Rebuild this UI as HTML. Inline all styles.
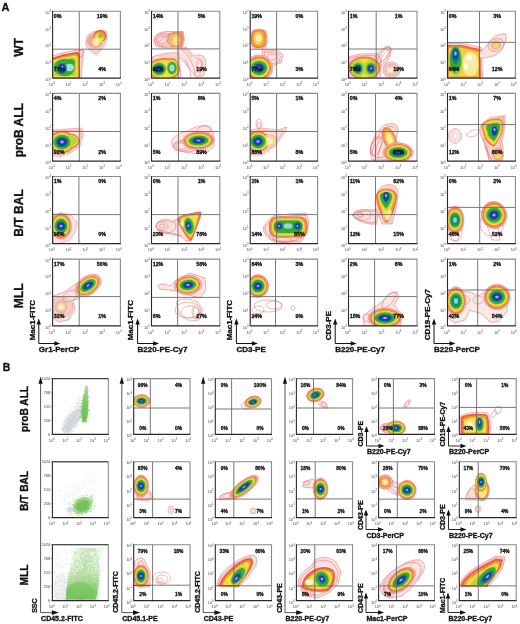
<!DOCTYPE html>
<html><head><meta charset="utf-8"><style>
html,body{margin:0;padding:0;background:#fff;}
svg{display:block;filter:blur(0.3px);font-family:"Liberation Sans", sans-serif;}
</style></head><body>
<svg width="520" height="624" viewBox="0 0 520 624">
<defs><linearGradient id="gG2" x1="0" y1="0" x2="0" y2="1"><stop offset="0" stop-color="#d0ecc0" stop-opacity="0.4"/><stop offset="0.4" stop-color="#8ed070" stop-opacity="0.75"/><stop offset="1" stop-color="#6cc050" stop-opacity="0.85"/></linearGradient><linearGradient id="gG" x1="0" y1="0" x2="0" y2="1"><stop offset="0" stop-color="#e4f2dc" stop-opacity="0.25"/><stop offset="0.45" stop-color="#bce0aa" stop-opacity="0.45"/><stop offset="0.75" stop-color="#88cc70" stop-opacity="0.8"/><stop offset="1" stop-color="#6cc050" stop-opacity="0.92"/></linearGradient><filter id="soft" x="-5%" y="-5%" width="110%" height="110%"><feGaussianBlur stdDeviation="0.7"/></filter><clipPath id="c0"><rect x="52.6" y="11.2" width="67.80000000000001" height="66.89999999999999"/></clipPath><clipPath id="c1"><rect x="151.5" y="11.2" width="68.30000000000001" height="66.89999999999999"/></clipPath><clipPath id="c2"><rect x="250.2" y="11.2" width="67.40000000000003" height="66.89999999999999"/></clipPath><clipPath id="c3"><rect x="348.5" y="11.2" width="68.5" height="66.89999999999999"/></clipPath><clipPath id="c4"><rect x="447.5" y="11.2" width="67.89999999999998" height="66.89999999999999"/></clipPath><clipPath id="c5"><rect x="52.6" y="93.4" width="67.80000000000001" height="67.69999999999999"/></clipPath><clipPath id="c6"><rect x="151.5" y="93.4" width="68.30000000000001" height="67.69999999999999"/></clipPath><clipPath id="c7"><rect x="250.2" y="93.4" width="67.40000000000003" height="67.69999999999999"/></clipPath><clipPath id="c8"><rect x="348.5" y="93.4" width="68.5" height="67.69999999999999"/></clipPath><clipPath id="c9"><rect x="447.5" y="93.4" width="67.89999999999998" height="67.69999999999999"/></clipPath><clipPath id="c10"><rect x="52.6" y="176.5" width="67.80000000000001" height="67.1"/></clipPath><clipPath id="c11"><rect x="151.5" y="176.5" width="68.30000000000001" height="67.1"/></clipPath><clipPath id="c12"><rect x="250.2" y="176.5" width="67.40000000000003" height="67.1"/></clipPath><clipPath id="c13"><rect x="348.5" y="176.5" width="68.5" height="67.1"/></clipPath><clipPath id="c14"><rect x="447.5" y="176.5" width="67.89999999999998" height="67.1"/></clipPath><clipPath id="c15"><rect x="52.6" y="259.1" width="67.80000000000001" height="66.79999999999995"/></clipPath><clipPath id="c16"><rect x="151.5" y="259.1" width="68.30000000000001" height="66.79999999999995"/></clipPath><clipPath id="c17"><rect x="250.2" y="259.1" width="67.40000000000003" height="66.79999999999995"/></clipPath><clipPath id="c18"><rect x="348.5" y="259.1" width="68.5" height="66.79999999999995"/></clipPath><clipPath id="c19"><rect x="447.5" y="259.1" width="67.89999999999998" height="66.79999999999995"/></clipPath><clipPath id="c20"><rect x="52.4" y="378.6" width="55.9" height="55.799999999999955"/></clipPath><clipPath id="c21"><rect x="133.7" y="378.6" width="56.30000000000001" height="55.799999999999955"/></clipPath><clipPath id="c22"><rect x="215.3" y="378.6" width="56.19999999999999" height="55.799999999999955"/></clipPath><clipPath id="c23"><rect x="296.4" y="378.6" width="56.200000000000045" height="55.799999999999955"/></clipPath><clipPath id="c24"><rect x="378.6" y="378.6" width="55.89999999999998" height="55.799999999999955"/></clipPath><clipPath id="c25"><rect x="459.3" y="378.6" width="56.900000000000034" height="55.799999999999955"/></clipPath><clipPath id="c26"><rect x="52.4" y="461.8" width="55.9" height="55.80000000000001"/></clipPath><clipPath id="c27"><rect x="133.7" y="461.8" width="56.30000000000001" height="55.80000000000001"/></clipPath><clipPath id="c28"><rect x="215.3" y="461.8" width="56.19999999999999" height="55.80000000000001"/></clipPath><clipPath id="c29"><rect x="296.4" y="461.8" width="56.200000000000045" height="55.80000000000001"/></clipPath><clipPath id="c30"><rect x="378.6" y="461.8" width="55.89999999999998" height="55.80000000000001"/></clipPath><clipPath id="c31"><rect x="459.3" y="461.8" width="56.900000000000034" height="55.80000000000001"/></clipPath><clipPath id="c32"><rect x="52.4" y="544.7" width="55.9" height="55.89999999999998"/></clipPath><clipPath id="c33"><rect x="133.7" y="544.7" width="56.30000000000001" height="55.89999999999998"/></clipPath><clipPath id="c34"><rect x="215.3" y="544.7" width="56.19999999999999" height="55.89999999999998"/></clipPath><clipPath id="c35"><rect x="296.4" y="544.7" width="56.200000000000045" height="55.89999999999998"/></clipPath><clipPath id="c36"><rect x="378.6" y="544.7" width="55.89999999999998" height="55.89999999999998"/></clipPath><clipPath id="c37"><rect x="459.3" y="544.7" width="56.900000000000034" height="55.89999999999998"/></clipPath></defs>
<rect width="520" height="624" fill="#fff"/>
<g clip-path="url(#c0)"><g filter="url(#soft)"><path d="M52 56 C60 53 70 51 78.5 50 L84 51 L83 56 L81 79 L52 79 Z" fill="#f8d4d0" stroke="#e88080" stroke-width="0.55"/><path d="M79 50 L84 51 L82 57 L80 56" fill="none" stroke="#e07070" stroke-width="0.55"/><path d="M52 58 C60 55 70 53 78 52 L80 56 L80 79 L52 79 Z" fill="#e8483c" stroke="#e27a7a" stroke-width="0"/><path d="M52 59.5 C60 56.5 70 54.5 77 53.8 L79 57 L79 78 L52 78 Z" fill="#f39530" stroke="#e27a7a" stroke-width="0"/><path d="M52 61 C60 58 70 56 76 55.5 L77.5 58 L77.5 77 L52 77 Z" fill="#f6e03a" stroke="#e27a7a" stroke-width="0"/><path d="M53 62.5 C60 59.5 69 57.5 75 57.2 L76 60 L76 76 L53 76 Z" fill="#b6d83a" stroke="#e27a7a" stroke-width="0"/><ellipse cx="64.5" cy="67.5" rx="10.50" ry="8.80" fill="#3aa83a"/><ellipse cx="71.0" cy="63.0" rx="4.00" ry="4.00" fill="#3aa83a"/><ellipse cx="69.5" cy="67.5" rx="4.50" ry="3.80" fill="#a8e0d8"/><ellipse cx="62.0" cy="68.5" rx="5.00" ry="5.50" fill="#15867a"/><ellipse cx="62.0" cy="68.5" rx="3.80" ry="4.50" fill="#1f3f9e"/><ellipse cx="62.3" cy="68.0" rx="1.80" ry="2.20" fill="#9a8ae0"/><path d="M86 40 L88 35 L93 32 L100 30 L106 31 L107 38 L104 46 L100 51 L96 55 L90 50 L86 46 Z" fill="#f6d2cc" stroke="#e08080" stroke-width="0.55"/><ellipse cx="95.0" cy="41.0" rx="8.00" ry="7.00" fill="#f2a890"/><ellipse cx="100.0" cy="36.0" rx="6.50" ry="6.00" fill="#e85a3a"/><ellipse cx="100.0" cy="36.5" rx="5.50" ry="5.00" fill="#f39530"/><ellipse cx="99.0" cy="38.0" rx="4.50" ry="5.00" fill="#f6e03a"/><ellipse cx="96.0" cy="42.0" rx="3.50" ry="4.00" fill="#f8eea0"/><ellipse cx="100.5" cy="35.5" rx="2.30" ry="2.30" fill="#7cc83a"/></g></g><line x1="79.3" y1="11.2" x2="79.3" y2="78.1" stroke="#6a6a6a" stroke-width="0.9"/><line x1="52.6" y1="49.2" x2="120.4" y2="49.2" stroke="#6a6a6a" stroke-width="0.9"/><path d="M52.6 11.2 H120.4 V78.1" fill="none" stroke="#8a8a8a" stroke-width="1.1"/><path d="M52.6 10.7 V78.1 H120.9" fill="none" stroke="#2a2a2a" stroke-width="1.1"/><g transform="translate(53.800000000000004 17.799999999999997) scale(0.92 1)"><text x="0" y="0" font-size="5.8" font-weight="bold" text-anchor="start" fill="#111" stroke="#111" stroke-width="0.32">0%</text></g><g transform="translate(102.10000000000001 17.799999999999997) scale(0.92 1)"><text x="0" y="0" font-size="5.8" font-weight="bold" text-anchor="middle" fill="#111" stroke="#111" stroke-width="0.32">19%</text></g><g transform="translate(53.800000000000004 70.6) scale(0.92 1)"><text x="0" y="0" font-size="5.8" font-weight="bold" text-anchor="start" fill="#111" stroke="#111" stroke-width="0.32">7?%</text></g><g transform="translate(102.10000000000001 70.6) scale(0.92 1)"><text x="0" y="0" font-size="5.8" font-weight="bold" text-anchor="middle" fill="#111" stroke="#111" stroke-width="0.32">4%</text></g><text x="51.8" y="85.7" font-size="3.9" fill="#4a4a4a" text-anchor="middle">10<tspan font-size="2.81" dy="-1.6">0</tspan></text><text x="68.5" y="85.7" font-size="3.9" fill="#4a4a4a" text-anchor="middle">10<tspan font-size="2.81" dy="-1.6">1</tspan></text><text x="85.2" y="85.7" font-size="3.9" fill="#4a4a4a" text-anchor="middle">10<tspan font-size="2.81" dy="-1.6">2</tspan></text><text x="101.9" y="85.7" font-size="3.9" fill="#4a4a4a" text-anchor="middle">10<tspan font-size="2.81" dy="-1.6">3</tspan></text><text x="118.6" y="85.7" font-size="3.9" fill="#4a4a4a" text-anchor="middle">10<tspan font-size="2.81" dy="-1.6">4</tspan></text><text x="48.0" y="81.1" font-size="3.9" fill="#4a4a4a" text-anchor="middle">10<tspan font-size="2.81" dy="-1.6">0</tspan></text><text x="48.0" y="64.2" font-size="3.9" fill="#4a4a4a" text-anchor="middle">10<tspan font-size="2.81" dy="-1.6">1</tspan></text><text x="48.0" y="47.4" font-size="3.9" fill="#4a4a4a" text-anchor="middle">10<tspan font-size="2.81" dy="-1.6">2</tspan></text><text x="48.0" y="30.5" font-size="3.9" fill="#4a4a4a" text-anchor="middle">10<tspan font-size="2.81" dy="-1.6">3</tspan></text><text x="48.0" y="13.7" font-size="3.9" fill="#4a4a4a" text-anchor="middle">10<tspan font-size="2.81" dy="-1.6">4</tspan></text><g clip-path="url(#c1)"><g filter="url(#soft)"><path d="M178 47 L186 47 C190 50 192 54 194 56 C197 55 201 54 204 57 C207 62 206 70 203 76 L196 77.5 C193 72 190 70 188 67 C185 63 181 58 178 56 Z" fill="#fbe4e2" stroke="#e07878" stroke-width="0.55"/><path d="M180 49 C185 51 189 57 191 61 C193 65 195 70 195.5 76" fill="none" stroke="#e27a7a" stroke-width="0.55"/><path d="M182 48 C187 50 190 54 192 57" fill="none" stroke="#e27a7a" stroke-width="0.55"/><path d="M195 58 C199 57 203 60 203 66 C203 71 200 75 198 76" fill="none" stroke="#e27a7a" stroke-width="0.55"/><ellipse cx="199.0" cy="66.0" rx="2.50" ry="6.50" fill="none" stroke="#e27a7a" stroke-width="0.55"/><path d="M185 60 C188 65 190 70 191 77" fill="none" stroke="#e27a7a" stroke-width="0.55"/><path d="M152 57 C160 54 170 52 179 53 L181 79 L152 79 Z" fill="#f8d4d0" stroke="#e88080" stroke-width="0.55"/><ellipse cx="165.0" cy="69.0" rx="15.00" ry="11.00" fill="#ee6a50"/><ellipse cx="159.0" cy="69.0" rx="10.00" ry="10.00" fill="#ee6a50"/><ellipse cx="172.0" cy="68.0" rx="7.00" ry="10.00" fill="#ee6a50"/><ellipse cx="165.0" cy="69.0" rx="13.95" ry="10.02" fill="#f59a34"/><ellipse cx="159.0" cy="69.0" rx="9.30" ry="9.10" fill="#f59a34"/><ellipse cx="172.0" cy="68.0" rx="6.51" ry="9.10" fill="#f59a34"/><ellipse cx="165.0" cy="69.0" rx="12.75" ry="8.93" fill="#f6e03a"/><ellipse cx="159.0" cy="69.0" rx="8.50" ry="8.12" fill="#f6e03a"/><ellipse cx="172.0" cy="68.0" rx="5.95" ry="8.12" fill="#f6e03a"/><ellipse cx="159.0" cy="69.0" rx="7.70" ry="7.17" fill="#b6d83a"/><ellipse cx="172.0" cy="68.0" rx="5.39" ry="7.17" fill="#b6d83a"/><ellipse cx="159.0" cy="69.0" rx="6.70" ry="6.04" fill="#3aa83a"/><ellipse cx="172.0" cy="68.0" rx="4.69" ry="6.04" fill="#3aa83a"/><ellipse cx="159.0" cy="69.0" rx="5.00" ry="4.25" fill="#15867a"/><ellipse cx="159.0" cy="69.0" rx="4.10" ry="3.37" fill="#1f3f9e"/><ellipse cx="159.0" cy="69.0" rx="1.40" ry="1.04" fill="#a8b0f0"/><ellipse cx="172.0" cy="68.0" rx="2.50" ry="3.50" fill="#a6dcd4"/><path d="M154 41 C154 34 161 31 170 31.5 L183 31.5 L184.5 40 L182 47.5 L166 48 L156 46 Z" fill="#fadcd8" stroke="#e07070" stroke-width="0.55"/><ellipse cx="162.0" cy="40.0" rx="4.50" ry="3.50" fill="none" stroke="#e27a7a" stroke-width="0.55"/><ellipse cx="163.0" cy="40.0" rx="7.00" ry="5.50" fill="none" stroke="#e27a7a" stroke-width="0.55"/><ellipse cx="164.0" cy="40.0" rx="9.50" ry="7.00" fill="none" stroke="#e27a7a" stroke-width="0.55"/><path d="M157 44 L165 36 L171 37" fill="none" stroke="#e27a7a" stroke-width="0.55"/><path d="M168 34 C171 32 178 31 183 32 L184 40 L182 47 L171 47 L167 42 Z" fill="#f0906a" stroke="#e27a7a" stroke-width="0"/><ellipse cx="171.5" cy="40.0" rx="3.00" ry="5.50" fill="#f4b890"/><ellipse cx="176.0" cy="40.0" rx="4.20" ry="6.50" fill="#f4c060"/><ellipse cx="176.0" cy="40.5" rx="2.80" ry="5.00" fill="#f7e680"/></g></g><line x1="178.0" y1="11.2" x2="178.0" y2="78.1" stroke="#6a6a6a" stroke-width="0.9"/><line x1="151.5" y1="48.9" x2="219.8" y2="48.9" stroke="#6a6a6a" stroke-width="0.9"/><path d="M151.5 11.2 H219.8 V78.1" fill="none" stroke="#8a8a8a" stroke-width="1.1"/><path d="M151.5 10.7 V78.1 H220.3" fill="none" stroke="#2a2a2a" stroke-width="1.1"/><g transform="translate(152.7 17.799999999999997) scale(0.92 1)"><text x="0" y="0" font-size="5.8" font-weight="bold" text-anchor="start" fill="#111" stroke="#111" stroke-width="0.32">14%</text></g><g transform="translate(201.5 17.799999999999997) scale(0.92 1)"><text x="0" y="0" font-size="5.8" font-weight="bold" text-anchor="middle" fill="#111" stroke="#111" stroke-width="0.32">5%</text></g><g transform="translate(152.7 70.6) scale(0.92 1)"><text x="0" y="0" font-size="5.8" font-weight="bold" text-anchor="start" fill="#111" stroke="#111" stroke-width="0.32">62%</text></g><g transform="translate(201.5 70.6) scale(0.92 1)"><text x="0" y="0" font-size="5.8" font-weight="bold" text-anchor="middle" fill="#111" stroke="#111" stroke-width="0.32">19%</text></g><text x="150.7" y="85.7" font-size="3.9" fill="#4a4a4a" text-anchor="middle">10<tspan font-size="2.81" dy="-1.6">0</tspan></text><text x="167.5" y="85.7" font-size="3.9" fill="#4a4a4a" text-anchor="middle">10<tspan font-size="2.81" dy="-1.6">1</tspan></text><text x="184.3" y="85.7" font-size="3.9" fill="#4a4a4a" text-anchor="middle">10<tspan font-size="2.81" dy="-1.6">2</tspan></text><text x="201.2" y="85.7" font-size="3.9" fill="#4a4a4a" text-anchor="middle">10<tspan font-size="2.81" dy="-1.6">3</tspan></text><text x="218.0" y="85.7" font-size="3.9" fill="#4a4a4a" text-anchor="middle">10<tspan font-size="2.81" dy="-1.6">4</tspan></text><text x="146.9" y="81.1" font-size="3.9" fill="#4a4a4a" text-anchor="middle">10<tspan font-size="2.81" dy="-1.6">0</tspan></text><text x="146.9" y="64.2" font-size="3.9" fill="#4a4a4a" text-anchor="middle">10<tspan font-size="2.81" dy="-1.6">1</tspan></text><text x="146.9" y="47.4" font-size="3.9" fill="#4a4a4a" text-anchor="middle">10<tspan font-size="2.81" dy="-1.6">2</tspan></text><text x="146.9" y="30.5" font-size="3.9" fill="#4a4a4a" text-anchor="middle">10<tspan font-size="2.81" dy="-1.6">3</tspan></text><text x="146.9" y="13.7" font-size="3.9" fill="#4a4a4a" text-anchor="middle">10<tspan font-size="2.81" dy="-1.6">4</tspan></text><g clip-path="url(#c2)"><g filter="url(#soft)"><rect x="250.5" y="28.5" width="17.5" height="21" rx="6" fill="#f8d0c8"/><rect x="251" y="29.5" width="15.5" height="18.5" rx="6" fill="#ee7050"/><rect x="252" y="30.5" width="13.5" height="16.5" rx="5.5" fill="#f59a40"/><ellipse cx="258.5" cy="38.5" rx="4.80" ry="6.50" fill="#f6d850"/><ellipse cx="258.5" cy="38.0" rx="2.60" ry="3.80" fill="#faf0b8"/><path d="M262 50 L277 50 L283 55 L281 63 L270 66 L263 61 Z" fill="#fbe3e0" stroke="#e07070" stroke-width="0.55"/><path d="M264 52 L276 52 L280.5 56 L279 62 L270 64 L265 60 Z" fill="none" stroke="#e07070" stroke-width="0.55"/><ellipse cx="272.0" cy="57.0" rx="5.00" ry="3.00" fill="none" stroke="#e27a7a" stroke-width="0.55"/><ellipse cx="259.0" cy="68.0" rx="13.80" ry="13.22" fill="#fadcd8"/><ellipse cx="259.0" cy="68.0" rx="13.80" ry="13.22" fill="none" stroke="#e27a7a" stroke-width="0.55"/><ellipse cx="259.0" cy="68.0" rx="12.90" ry="12.36" fill="none" stroke="#e27a7a" stroke-width="0.55"/><ellipse cx="259.0" cy="68.0" rx="12.00" ry="11.50" fill="#ee6a50"/><ellipse cx="259.0" cy="68.0" rx="11.16" ry="10.47" fill="#f59a34"/><ellipse cx="259.0" cy="68.0" rx="10.20" ry="9.34" fill="#f6e03a"/><ellipse cx="259.0" cy="68.0" rx="9.24" ry="8.24" fill="#b6d83a"/><ellipse cx="259.0" cy="68.0" rx="8.04" ry="6.94" fill="#3aa83a"/><ellipse cx="259.0" cy="68.0" rx="6.00" ry="4.89" fill="#15867a"/><ellipse cx="259.0" cy="68.0" rx="4.92" ry="3.88" fill="#1f3f9e"/><ellipse cx="259.0" cy="68.0" rx="1.68" ry="1.19" fill="#a8b0f0"/></g></g><line x1="276.6" y1="11.2" x2="276.6" y2="78.1" stroke="#6a6a6a" stroke-width="0.9"/><line x1="250.2" y1="49.2" x2="317.6" y2="49.2" stroke="#6a6a6a" stroke-width="0.9"/><path d="M250.2 11.2 H317.6 V78.1" fill="none" stroke="#8a8a8a" stroke-width="1.1"/><path d="M250.2 10.7 V78.1 H318.1" fill="none" stroke="#2a2a2a" stroke-width="1.1"/><g transform="translate(251.39999999999998 17.799999999999997) scale(0.92 1)"><text x="0" y="0" font-size="5.8" font-weight="bold" text-anchor="start" fill="#111" stroke="#111" stroke-width="0.32">19%</text></g><g transform="translate(299.3 17.799999999999997) scale(0.92 1)"><text x="0" y="0" font-size="5.8" font-weight="bold" text-anchor="middle" fill="#111" stroke="#111" stroke-width="0.32">0%</text></g><g transform="translate(251.39999999999998 70.6) scale(0.92 1)"><text x="0" y="0" font-size="5.8" font-weight="bold" text-anchor="start" fill="#111" stroke="#111" stroke-width="0.32">77%</text></g><g transform="translate(299.3 70.6) scale(0.92 1)"><text x="0" y="0" font-size="5.8" font-weight="bold" text-anchor="middle" fill="#111" stroke="#111" stroke-width="0.32">3%</text></g><text x="249.4" y="85.7" font-size="3.9" fill="#4a4a4a" text-anchor="middle">10<tspan font-size="2.81" dy="-1.6">0</tspan></text><text x="266.0" y="85.7" font-size="3.9" fill="#4a4a4a" text-anchor="middle">10<tspan font-size="2.81" dy="-1.6">1</tspan></text><text x="282.6" y="85.7" font-size="3.9" fill="#4a4a4a" text-anchor="middle">10<tspan font-size="2.81" dy="-1.6">2</tspan></text><text x="299.2" y="85.7" font-size="3.9" fill="#4a4a4a" text-anchor="middle">10<tspan font-size="2.81" dy="-1.6">3</tspan></text><text x="315.8" y="85.7" font-size="3.9" fill="#4a4a4a" text-anchor="middle">10<tspan font-size="2.81" dy="-1.6">4</tspan></text><text x="245.6" y="81.1" font-size="3.9" fill="#4a4a4a" text-anchor="middle">10<tspan font-size="2.81" dy="-1.6">0</tspan></text><text x="245.6" y="64.2" font-size="3.9" fill="#4a4a4a" text-anchor="middle">10<tspan font-size="2.81" dy="-1.6">1</tspan></text><text x="245.6" y="47.4" font-size="3.9" fill="#4a4a4a" text-anchor="middle">10<tspan font-size="2.81" dy="-1.6">2</tspan></text><text x="245.6" y="30.5" font-size="3.9" fill="#4a4a4a" text-anchor="middle">10<tspan font-size="2.81" dy="-1.6">3</tspan></text><text x="245.6" y="13.7" font-size="3.9" fill="#4a4a4a" text-anchor="middle">10<tspan font-size="2.81" dy="-1.6">4</tspan></text><g clip-path="url(#c3)"><g filter="url(#soft)"><path d="M349 57 C355 54 366 53 378 54 L381 59 L380 79 L349 79 Z" fill="#f8d4d0" stroke="#e88080" stroke-width="0.55"/><path d="M349 58.5 C356 55.5 366 55 377 56" fill="none" stroke="#e88080" stroke-width="0.55"/><ellipse cx="364.5" cy="68.0" rx="16.00" ry="11.50" fill="#ee6a50"/><ellipse cx="358.0" cy="68.5" rx="8.00" ry="9.50" fill="#ee6a50"/><ellipse cx="371.0" cy="68.5" rx="8.00" ry="9.50" fill="#ee6a50"/><ellipse cx="364.5" cy="68.0" rx="14.88" ry="10.47" fill="#f59a34"/><ellipse cx="358.0" cy="68.5" rx="7.44" ry="8.65" fill="#f59a34"/><ellipse cx="371.0" cy="68.5" rx="7.44" ry="8.65" fill="#f59a34"/><ellipse cx="364.5" cy="68.0" rx="13.60" ry="9.34" fill="#f6e03a"/><ellipse cx="358.0" cy="68.5" rx="6.80" ry="7.71" fill="#f6e03a"/><ellipse cx="371.0" cy="68.5" rx="6.80" ry="7.71" fill="#f6e03a"/><ellipse cx="358.0" cy="68.5" rx="6.16" ry="6.81" fill="#b6d83a"/><ellipse cx="371.0" cy="68.5" rx="6.16" ry="6.81" fill="#b6d83a"/><ellipse cx="364.5" cy="68.5" rx="4.00" ry="5.50" fill="#b6d83a"/><ellipse cx="358.0" cy="68.5" rx="7.20" ry="8.50" fill="#b6d83a"/><ellipse cx="371.0" cy="68.5" rx="7.20" ry="8.50" fill="#b6d83a"/><ellipse cx="358.0" cy="68.5" rx="4.82" ry="5.51" fill="#3aa83a"/><ellipse cx="371.0" cy="68.5" rx="4.82" ry="5.51" fill="#3aa83a"/><ellipse cx="358.0" cy="68.5" rx="3.60" ry="4.04" fill="#15867a"/><ellipse cx="371.0" cy="68.5" rx="3.60" ry="4.04" fill="#15867a"/><ellipse cx="358.0" cy="68.5" rx="2.95" ry="3.28" fill="#1f3f9e"/><ellipse cx="371.0" cy="68.5" rx="2.95" ry="3.28" fill="#1f3f9e"/><ellipse cx="358.0" cy="68.5" rx="1.01" ry="1.09" fill="#a8b0f0"/><ellipse cx="371.0" cy="68.5" rx="1.01" ry="1.09" fill="#a8b0f0"/><ellipse cx="384.0" cy="55.0" rx="3.00" ry="10.00" fill="none" stroke="#e27a7a" stroke-width="0.55" transform="rotate(35 384 55)"/><ellipse cx="385.0" cy="56.0" rx="2.00" ry="7.00" fill="none" stroke="#e27a7a" stroke-width="0.55" transform="rotate(35 385 56)"/><ellipse cx="383.0" cy="57.0" rx="4.50" ry="12.00" fill="none" stroke="#e27a7a" stroke-width="0.55" transform="rotate(35 383 57)"/><ellipse cx="382.0" cy="58.0" rx="6.00" ry="13.50" fill="none" stroke="#e27a7a" stroke-width="0.55" transform="rotate(35 382 58)"/><ellipse cx="391.5" cy="70.0" rx="8.50" ry="8.00" fill="#f9d8d2"/><ellipse cx="391.5" cy="70.0" rx="8.50" ry="8.00" fill="none" stroke="#e27a7a" stroke-width="0.55"/><ellipse cx="391.5" cy="70.0" rx="6.50" ry="6.00" fill="none" stroke="#e27a7a" stroke-width="0.55"/><ellipse cx="391.5" cy="70.0" rx="4.50" ry="4.00" fill="none" stroke="#e27a7a" stroke-width="0.55"/><ellipse cx="390.5" cy="70.0" rx="3.50" ry="3.00" fill="#fbe8c8"/><ellipse cx="390.0" cy="70.0" rx="1.80" ry="1.50" fill="#fdf6e0"/></g></g><line x1="376.2" y1="11.2" x2="376.2" y2="78.1" stroke="#6a6a6a" stroke-width="0.9"/><line x1="348.5" y1="49.0" x2="417.0" y2="49.0" stroke="#6a6a6a" stroke-width="0.9"/><path d="M348.5 11.2 H417.0 V78.1" fill="none" stroke="#8a8a8a" stroke-width="1.1"/><path d="M348.5 10.7 V78.1 H417.5" fill="none" stroke="#2a2a2a" stroke-width="1.1"/><g transform="translate(349.7 17.799999999999997) scale(0.92 1)"><text x="0" y="0" font-size="5.8" font-weight="bold" text-anchor="start" fill="#111" stroke="#111" stroke-width="0.32">1%</text></g><g transform="translate(398.7 17.799999999999997) scale(0.92 1)"><text x="0" y="0" font-size="5.8" font-weight="bold" text-anchor="middle" fill="#111" stroke="#111" stroke-width="0.32">1%</text></g><g transform="translate(349.7 70.6) scale(0.92 1)"><text x="0" y="0" font-size="5.8" font-weight="bold" text-anchor="start" fill="#111" stroke="#111" stroke-width="0.32">78%</text></g><g transform="translate(398.7 70.6) scale(0.92 1)"><text x="0" y="0" font-size="5.8" font-weight="bold" text-anchor="middle" fill="#111" stroke="#111" stroke-width="0.32">19%</text></g><text x="347.7" y="85.7" font-size="3.9" fill="#4a4a4a" text-anchor="middle">10<tspan font-size="2.81" dy="-1.6">0</tspan></text><text x="364.6" y="85.7" font-size="3.9" fill="#4a4a4a" text-anchor="middle">10<tspan font-size="2.81" dy="-1.6">1</tspan></text><text x="381.4" y="85.7" font-size="3.9" fill="#4a4a4a" text-anchor="middle">10<tspan font-size="2.81" dy="-1.6">2</tspan></text><text x="398.3" y="85.7" font-size="3.9" fill="#4a4a4a" text-anchor="middle">10<tspan font-size="2.81" dy="-1.6">3</tspan></text><text x="415.2" y="85.7" font-size="3.9" fill="#4a4a4a" text-anchor="middle">10<tspan font-size="2.81" dy="-1.6">4</tspan></text><text x="343.9" y="81.1" font-size="3.9" fill="#4a4a4a" text-anchor="middle">10<tspan font-size="2.81" dy="-1.6">0</tspan></text><text x="343.9" y="64.2" font-size="3.9" fill="#4a4a4a" text-anchor="middle">10<tspan font-size="2.81" dy="-1.6">1</tspan></text><text x="343.9" y="47.4" font-size="3.9" fill="#4a4a4a" text-anchor="middle">10<tspan font-size="2.81" dy="-1.6">2</tspan></text><text x="343.9" y="30.5" font-size="3.9" fill="#4a4a4a" text-anchor="middle">10<tspan font-size="2.81" dy="-1.6">3</tspan></text><text x="343.9" y="13.7" font-size="3.9" fill="#4a4a4a" text-anchor="middle">10<tspan font-size="2.81" dy="-1.6">4</tspan></text><g clip-path="url(#c4)"><g filter="url(#soft)"><path d="M448 43.5 L463 43.5 L472 45.5 L481.5 47.5 L482.5 79 L448 79 Z" fill="#f8d4d0" stroke="#e88080" stroke-width="0.55"/><path d="M448 45 L462 45 L472 47.5 L480.5 49 L481 78.5 L448 78.5 Z" fill="#ec6048" stroke="#e27a7a" stroke-width="0"/><path d="M448 46.5 L462 46.5 L471.5 49 L479.5 50.5 L479.8 77.5 L448 77.5 Z" fill="#f39530" stroke="#e27a7a" stroke-width="0"/><path d="M449 48 L462 48 L471 50.5 L478.5 52 L478.5 76.5 L449 76.5 Z" fill="#f4d040" stroke="#e27a7a" stroke-width="0"/><ellipse cx="470.5" cy="64.0" rx="8.00" ry="12.00" fill="#f8eca0"/><ellipse cx="469.0" cy="58.0" rx="3.00" ry="3.00" fill="#fff8e8"/><ellipse cx="471.0" cy="71.0" rx="3.50" ry="3.00" fill="#f2ea90"/><ellipse cx="466.0" cy="66.0" rx="2.00" ry="3.00" fill="#fffaf0"/><ellipse cx="455.5" cy="61.0" rx="7.20" ry="15.00" fill="#b6d83a"/><ellipse cx="455.5" cy="60.0" rx="5.80" ry="13.50" fill="#3aa83a"/><ellipse cx="455.5" cy="56.0" rx="4.00" ry="8.50" fill="#15867a"/><ellipse cx="455.5" cy="54.5" rx="2.80" ry="5.50" fill="#1f3f9e"/><ellipse cx="455.5" cy="53.5" rx="1.30" ry="2.20" fill="#9aaaf0"/><ellipse cx="457.0" cy="72.0" rx="2.00" ry="2.00" fill="#6ac89a"/><path d="M479 52 C484 50 487 46 489 42 C493 36 501 33 506 34 C507 40 504 47 500 52 C494 57 487 58 480 58" fill="#fbe3e0" stroke="#e07070" stroke-width="0.55"/><ellipse cx="496.0" cy="45.0" rx="8.00" ry="6.00" fill="none" stroke="#e27a7a" stroke-width="0.55" transform="rotate(-20 496 45)"/><ellipse cx="496.0" cy="45.0" rx="5.50" ry="4.50" fill="#f4b888" transform="rotate(-20 496 45)"/><ellipse cx="496.0" cy="45.5" rx="2.80" ry="2.30" fill="#f6d860" transform="rotate(-20 496 45.5)"/></g></g><line x1="479.5" y1="11.2" x2="479.5" y2="78.1" stroke="#6a6a6a" stroke-width="0.9"/><line x1="447.5" y1="42.4" x2="515.4" y2="42.4" stroke="#6a6a6a" stroke-width="0.9"/><path d="M447.5 11.2 H515.4 V78.1" fill="none" stroke="#8a8a8a" stroke-width="1.1"/><path d="M447.5 10.7 V78.1 H515.9" fill="none" stroke="#2a2a2a" stroke-width="1.1"/><g transform="translate(448.7 17.799999999999997) scale(0.92 1)"><text x="0" y="0" font-size="5.8" font-weight="bold" text-anchor="start" fill="#111" stroke="#111" stroke-width="0.32">0%</text></g><g transform="translate(497.09999999999997 17.799999999999997) scale(0.92 1)"><text x="0" y="0" font-size="5.8" font-weight="bold" text-anchor="middle" fill="#111" stroke="#111" stroke-width="0.32">3%</text></g><g transform="translate(448.7 70.6) scale(0.92 1)"><text x="0" y="0" font-size="5.8" font-weight="bold" text-anchor="start" fill="#111" stroke="#111" stroke-width="0.32">84%</text></g><g transform="translate(497.09999999999997 70.6) scale(0.92 1)"><text x="0" y="0" font-size="5.8" font-weight="bold" text-anchor="middle" fill="#111" stroke="#111" stroke-width="0.32">12%</text></g><text x="446.7" y="85.7" font-size="3.9" fill="#4a4a4a" text-anchor="middle">10<tspan font-size="2.81" dy="-1.6">0</tspan></text><text x="463.4" y="85.7" font-size="3.9" fill="#4a4a4a" text-anchor="middle">10<tspan font-size="2.81" dy="-1.6">1</tspan></text><text x="480.1" y="85.7" font-size="3.9" fill="#4a4a4a" text-anchor="middle">10<tspan font-size="2.81" dy="-1.6">2</tspan></text><text x="496.9" y="85.7" font-size="3.9" fill="#4a4a4a" text-anchor="middle">10<tspan font-size="2.81" dy="-1.6">3</tspan></text><text x="513.6" y="85.7" font-size="3.9" fill="#4a4a4a" text-anchor="middle">10<tspan font-size="2.81" dy="-1.6">4</tspan></text><text x="442.9" y="81.1" font-size="3.9" fill="#4a4a4a" text-anchor="middle">10<tspan font-size="2.81" dy="-1.6">0</tspan></text><text x="442.9" y="64.2" font-size="3.9" fill="#4a4a4a" text-anchor="middle">10<tspan font-size="2.81" dy="-1.6">1</tspan></text><text x="442.9" y="47.4" font-size="3.9" fill="#4a4a4a" text-anchor="middle">10<tspan font-size="2.81" dy="-1.6">2</tspan></text><text x="442.9" y="30.5" font-size="3.9" fill="#4a4a4a" text-anchor="middle">10<tspan font-size="2.81" dy="-1.6">3</tspan></text><text x="442.9" y="13.7" font-size="3.9" fill="#4a4a4a" text-anchor="middle">10<tspan font-size="2.81" dy="-1.6">4</tspan></text><g clip-path="url(#c5)"><g filter="url(#soft)"><path d="M53 130 L67 129 L82 128 L83 135 L80 146 L72 152 L60 157 L53 155 Z" fill="#fbe3e0" stroke="#e88080" stroke-width="0.55"/><path d="M53 131.5 L67 130.5 L80.5 130 L81 136 L78 145 L70 151 L60 155 L53 153 Z" fill="none" stroke="#e88080" stroke-width="0.55"/><ellipse cx="70.0" cy="141.0" rx="9.50" ry="7.50" fill="#ee6a50"/><ellipse cx="62.0" cy="142.0" rx="12.50" ry="11.00" fill="#ee6a50"/><ellipse cx="70.0" cy="141.0" rx="8.84" ry="6.83" fill="#f59a34"/><ellipse cx="62.0" cy="142.0" rx="11.62" ry="10.14" fill="#f59a34"/><ellipse cx="70.0" cy="141.0" rx="8.07" ry="6.09" fill="#f6e03a"/><ellipse cx="62.0" cy="142.0" rx="10.62" ry="9.18" fill="#f6e03a"/><ellipse cx="70.0" cy="141.0" rx="7.32" ry="5.38" fill="#b6d83a"/><ellipse cx="62.0" cy="142.0" rx="9.62" ry="8.24" fill="#b6d83a"/><ellipse cx="62.0" cy="142.0" rx="8.38" ry="7.08" fill="#3aa83a"/><ellipse cx="62.0" cy="142.0" rx="6.25" ry="5.17" fill="#15867a"/><ellipse cx="62.0" cy="142.0" rx="5.12" ry="4.19" fill="#1f3f9e"/><ellipse cx="62.0" cy="142.0" rx="1.75" ry="1.38" fill="#a8b0f0"/></g></g><line x1="79.3" y1="93.4" x2="79.3" y2="161.1" stroke="#6a6a6a" stroke-width="0.9"/><line x1="52.6" y1="131.5" x2="120.4" y2="131.5" stroke="#6a6a6a" stroke-width="0.9"/><path d="M52.6 93.4 H120.4 V161.1" fill="none" stroke="#8a8a8a" stroke-width="1.1"/><path d="M52.6 92.9 V161.1 H120.9" fill="none" stroke="#2a2a2a" stroke-width="1.1"/><g transform="translate(53.800000000000004 100.0) scale(0.92 1)"><text x="0" y="0" font-size="5.8" font-weight="bold" text-anchor="start" fill="#111" stroke="#111" stroke-width="0.32">4%</text></g><g transform="translate(102.10000000000001 100.0) scale(0.92 1)"><text x="0" y="0" font-size="5.8" font-weight="bold" text-anchor="middle" fill="#111" stroke="#111" stroke-width="0.32">2%</text></g><g transform="translate(53.800000000000004 153.6) scale(0.92 1)"><text x="0" y="0" font-size="5.8" font-weight="bold" text-anchor="start" fill="#111" stroke="#111" stroke-width="0.32">92%</text></g><g transform="translate(102.10000000000001 153.6) scale(0.92 1)"><text x="0" y="0" font-size="5.8" font-weight="bold" text-anchor="middle" fill="#111" stroke="#111" stroke-width="0.32">2%</text></g><text x="51.8" y="168.7" font-size="3.9" fill="#4a4a4a" text-anchor="middle">10<tspan font-size="2.81" dy="-1.6">0</tspan></text><text x="68.5" y="168.7" font-size="3.9" fill="#4a4a4a" text-anchor="middle">10<tspan font-size="2.81" dy="-1.6">1</tspan></text><text x="85.2" y="168.7" font-size="3.9" fill="#4a4a4a" text-anchor="middle">10<tspan font-size="2.81" dy="-1.6">2</tspan></text><text x="101.9" y="168.7" font-size="3.9" fill="#4a4a4a" text-anchor="middle">10<tspan font-size="2.81" dy="-1.6">3</tspan></text><text x="118.6" y="168.7" font-size="3.9" fill="#4a4a4a" text-anchor="middle">10<tspan font-size="2.81" dy="-1.6">4</tspan></text><text x="48.0" y="164.1" font-size="3.9" fill="#4a4a4a" text-anchor="middle">10<tspan font-size="2.81" dy="-1.6">0</tspan></text><text x="48.0" y="147.1" font-size="3.9" fill="#4a4a4a" text-anchor="middle">10<tspan font-size="2.81" dy="-1.6">1</tspan></text><text x="48.0" y="130.0" font-size="3.9" fill="#4a4a4a" text-anchor="middle">10<tspan font-size="2.81" dy="-1.6">2</tspan></text><text x="48.0" y="113.0" font-size="3.9" fill="#4a4a4a" text-anchor="middle">10<tspan font-size="2.81" dy="-1.6">3</tspan></text><text x="48.0" y="95.9" font-size="3.9" fill="#4a4a4a" text-anchor="middle">10<tspan font-size="2.81" dy="-1.6">4</tspan></text><g clip-path="url(#c6)"><g filter="url(#soft)"><path d="M172 140 C175 134 183 132 188 131 C195 126 205 124 210 127 L214 134 L214 146 L208 152 L196 154 L185 152 L176 150 C172 147 171 144 172 140 Z" fill="#fbe3e0" stroke="#e88080" stroke-width="0.55"/><ellipse cx="186.0" cy="146.0" rx="13.00" ry="6.00" fill="none" stroke="#e27a7a" stroke-width="0.55"/><ellipse cx="184.0" cy="146.0" rx="10.00" ry="4.50" fill="none" stroke="#e27a7a" stroke-width="0.55"/><ellipse cx="182.0" cy="146.0" rx="6.00" ry="3.00" fill="none" stroke="#e27a7a" stroke-width="0.55"/><ellipse cx="204.0" cy="130.0" rx="7.00" ry="4.00" fill="none" stroke="#e27a7a" stroke-width="0.55" transform="rotate(-10 204 130)"/><ellipse cx="198.5" cy="140.5" rx="15.95" ry="8.80" fill="#fadcd8" transform="rotate(-3 198.5 140.5)"/><ellipse cx="198.5" cy="140.5" rx="15.95" ry="8.80" fill="none" stroke="#e27a7a" stroke-width="0.55" transform="rotate(-3 198.5 140.5)"/><ellipse cx="198.5" cy="140.5" rx="15.23" ry="8.40" fill="none" stroke="#e27a7a" stroke-width="0.55" transform="rotate(-3 198.5 140.5)"/><ellipse cx="198.5" cy="140.5" rx="14.50" ry="8.00" fill="#ee6a50" transform="rotate(-3 198.5 140.5)"/><ellipse cx="198.5" cy="140.5" rx="13.49" ry="7.28" fill="#f59a34" transform="rotate(-3 198.5 140.5)"/><ellipse cx="198.5" cy="140.5" rx="12.32" ry="6.49" fill="#f6e03a" transform="rotate(-3 198.5 140.5)"/><ellipse cx="198.5" cy="140.5" rx="11.17" ry="5.73" fill="#b6d83a" transform="rotate(-3 198.5 140.5)"/><ellipse cx="198.5" cy="140.5" rx="9.71" ry="4.83" fill="#3aa83a" transform="rotate(-3 198.5 140.5)"/><ellipse cx="198.5" cy="140.5" rx="7.25" ry="3.40" fill="#15867a" transform="rotate(-3 198.5 140.5)"/><ellipse cx="198.5" cy="140.5" rx="5.94" ry="2.70" fill="#1f3f9e" transform="rotate(-3 198.5 140.5)"/><ellipse cx="198.5" cy="140.5" rx="2.03" ry="0.83" fill="#a8b0f0" transform="rotate(-3 198.5 140.5)"/></g></g><line x1="178.5" y1="93.4" x2="178.5" y2="161.1" stroke="#6a6a6a" stroke-width="0.9"/><line x1="151.5" y1="131.5" x2="219.8" y2="131.5" stroke="#6a6a6a" stroke-width="0.9"/><path d="M151.5 93.4 H219.8 V161.1" fill="none" stroke="#8a8a8a" stroke-width="1.1"/><path d="M151.5 92.9 V161.1 H220.3" fill="none" stroke="#2a2a2a" stroke-width="1.1"/><g transform="translate(152.7 100.0) scale(0.92 1)"><text x="0" y="0" font-size="5.8" font-weight="bold" text-anchor="start" fill="#111" stroke="#111" stroke-width="0.32">1%</text></g><g transform="translate(201.5 100.0) scale(0.92 1)"><text x="0" y="0" font-size="5.8" font-weight="bold" text-anchor="middle" fill="#111" stroke="#111" stroke-width="0.32">6%</text></g><g transform="translate(152.7 153.6) scale(0.92 1)"><text x="0" y="0" font-size="5.8" font-weight="bold" text-anchor="start" fill="#111" stroke="#111" stroke-width="0.32">5%</text></g><g transform="translate(201.5 153.6) scale(0.92 1)"><text x="0" y="0" font-size="5.8" font-weight="bold" text-anchor="middle" fill="#111" stroke="#111" stroke-width="0.32">89%</text></g><text x="150.7" y="168.7" font-size="3.9" fill="#4a4a4a" text-anchor="middle">10<tspan font-size="2.81" dy="-1.6">0</tspan></text><text x="167.5" y="168.7" font-size="3.9" fill="#4a4a4a" text-anchor="middle">10<tspan font-size="2.81" dy="-1.6">1</tspan></text><text x="184.3" y="168.7" font-size="3.9" fill="#4a4a4a" text-anchor="middle">10<tspan font-size="2.81" dy="-1.6">2</tspan></text><text x="201.2" y="168.7" font-size="3.9" fill="#4a4a4a" text-anchor="middle">10<tspan font-size="2.81" dy="-1.6">3</tspan></text><text x="218.0" y="168.7" font-size="3.9" fill="#4a4a4a" text-anchor="middle">10<tspan font-size="2.81" dy="-1.6">4</tspan></text><text x="146.9" y="164.1" font-size="3.9" fill="#4a4a4a" text-anchor="middle">10<tspan font-size="2.81" dy="-1.6">0</tspan></text><text x="146.9" y="147.1" font-size="3.9" fill="#4a4a4a" text-anchor="middle">10<tspan font-size="2.81" dy="-1.6">1</tspan></text><text x="146.9" y="130.0" font-size="3.9" fill="#4a4a4a" text-anchor="middle">10<tspan font-size="2.81" dy="-1.6">2</tspan></text><text x="146.9" y="113.0" font-size="3.9" fill="#4a4a4a" text-anchor="middle">10<tspan font-size="2.81" dy="-1.6">3</tspan></text><text x="146.9" y="95.9" font-size="3.9" fill="#4a4a4a" text-anchor="middle">10<tspan font-size="2.81" dy="-1.6">4</tspan></text><g clip-path="url(#c7)"><g filter="url(#soft)"><path d="M251 130 L262 128 L277 130 L287 127 L284 134 L275 146 L262 155 L251 155 Z" fill="#fbe3e0" stroke="#e88080" stroke-width="0.55"/><path d="M252 132 L262 130 L276 132 L283 130 L281 135 L273 145 L262 153 L252 153 Z" fill="none" stroke="#e88080" stroke-width="0.55"/><ellipse cx="259.0" cy="124.0" rx="3.00" ry="5.00" fill="none" stroke="#e27a7a" stroke-width="0.55"/><ellipse cx="259.0" cy="125.0" rx="1.80" ry="3.00" fill="none" stroke="#e27a7a" stroke-width="0.55"/><ellipse cx="268.0" cy="141.0" rx="10.00" ry="7.50" fill="#f6c0a8"/><ellipse cx="258.0" cy="141.5" rx="11.00" ry="10.50" fill="#ee6a50"/><ellipse cx="268.0" cy="141.0" rx="8.00" ry="6.00" fill="#f5d890"/><ellipse cx="258.0" cy="141.5" rx="10.23" ry="9.70" fill="#f59a34"/><ellipse cx="268.0" cy="141.0" rx="5.00" ry="3.75" fill="#f8f0c8"/><ellipse cx="258.0" cy="141.5" rx="9.35" ry="8.79" fill="#f6e03a"/><ellipse cx="258.0" cy="141.5" rx="8.47" ry="7.90" fill="#b6d83a"/><ellipse cx="258.0" cy="141.5" rx="7.37" ry="6.80" fill="#3aa83a"/><ellipse cx="258.0" cy="141.5" rx="5.50" ry="4.99" fill="#15867a"/><ellipse cx="258.0" cy="141.5" rx="4.51" ry="4.05" fill="#1f3f9e"/><ellipse cx="258.0" cy="141.5" rx="1.54" ry="1.34" fill="#a8b0f0"/></g></g><line x1="276.6" y1="93.4" x2="276.6" y2="161.1" stroke="#6a6a6a" stroke-width="0.9"/><line x1="250.2" y1="131.5" x2="317.6" y2="131.5" stroke="#6a6a6a" stroke-width="0.9"/><path d="M250.2 93.4 H317.6 V161.1" fill="none" stroke="#8a8a8a" stroke-width="1.1"/><path d="M250.2 92.9 V161.1 H318.1" fill="none" stroke="#2a2a2a" stroke-width="1.1"/><g transform="translate(251.39999999999998 100.0) scale(0.92 1)"><text x="0" y="0" font-size="5.8" font-weight="bold" text-anchor="start" fill="#111" stroke="#111" stroke-width="0.32">5%</text></g><g transform="translate(299.3 100.0) scale(0.92 1)"><text x="0" y="0" font-size="5.8" font-weight="bold" text-anchor="middle" fill="#111" stroke="#111" stroke-width="0.32">1%</text></g><g transform="translate(251.39999999999998 153.6) scale(0.92 1)"><text x="0" y="0" font-size="5.8" font-weight="bold" text-anchor="start" fill="#111" stroke="#111" stroke-width="0.32">86%</text></g><g transform="translate(299.3 153.6) scale(0.92 1)"><text x="0" y="0" font-size="5.8" font-weight="bold" text-anchor="middle" fill="#111" stroke="#111" stroke-width="0.32">8%</text></g><text x="249.4" y="168.7" font-size="3.9" fill="#4a4a4a" text-anchor="middle">10<tspan font-size="2.81" dy="-1.6">0</tspan></text><text x="266.0" y="168.7" font-size="3.9" fill="#4a4a4a" text-anchor="middle">10<tspan font-size="2.81" dy="-1.6">1</tspan></text><text x="282.6" y="168.7" font-size="3.9" fill="#4a4a4a" text-anchor="middle">10<tspan font-size="2.81" dy="-1.6">2</tspan></text><text x="299.2" y="168.7" font-size="3.9" fill="#4a4a4a" text-anchor="middle">10<tspan font-size="2.81" dy="-1.6">3</tspan></text><text x="315.8" y="168.7" font-size="3.9" fill="#4a4a4a" text-anchor="middle">10<tspan font-size="2.81" dy="-1.6">4</tspan></text><text x="245.6" y="164.1" font-size="3.9" fill="#4a4a4a" text-anchor="middle">10<tspan font-size="2.81" dy="-1.6">0</tspan></text><text x="245.6" y="147.1" font-size="3.9" fill="#4a4a4a" text-anchor="middle">10<tspan font-size="2.81" dy="-1.6">1</tspan></text><text x="245.6" y="130.0" font-size="3.9" fill="#4a4a4a" text-anchor="middle">10<tspan font-size="2.81" dy="-1.6">2</tspan></text><text x="245.6" y="113.0" font-size="3.9" fill="#4a4a4a" text-anchor="middle">10<tspan font-size="2.81" dy="-1.6">3</tspan></text><text x="245.6" y="95.9" font-size="3.9" fill="#4a4a4a" text-anchor="middle">10<tspan font-size="2.81" dy="-1.6">4</tspan></text><g clip-path="url(#c8)"><g filter="url(#soft)"><path d="M370 152 C371 140 377 130 385 125 C391 122 397 123 398 129 C397 136 395 142 394 146 L392 160 L372 160 Z" fill="#fae2de" stroke="#e07070" stroke-width="0.55"/><path d="M372 155 C373 144 378 134 385 128 C390 125 395 126 396 130" fill="none" stroke="#e07070" stroke-width="0.55"/><path d="M375 158 C375 148 379 139 385 133" fill="none" stroke="#e07070" stroke-width="0.55"/><path d="M378 159 C378 151 381 144 385 139" fill="none" stroke="#e07070" stroke-width="0.55"/><ellipse cx="380.0" cy="148.0" rx="9.00" ry="10.00" fill="none" stroke="#e27a7a" stroke-width="0.55" transform="rotate(20 380 148)"/><ellipse cx="376.0" cy="146.0" rx="5.00" ry="10.00" fill="none" stroke="#e27a7a" stroke-width="0.55" transform="rotate(20 376 146)"/><ellipse cx="389.5" cy="139.0" rx="6.50" ry="12.50" fill="#ef7a5a" transform="rotate(-22 389.5 139)"/><ellipse cx="389.5" cy="139.0" rx="5.50" ry="11.00" fill="#f5a040" transform="rotate(-22 389.5 139)"/><ellipse cx="389.8" cy="139.5" rx="4.00" ry="9.00" fill="#f6dc60" transform="rotate(-22 389.8 139.5)"/><ellipse cx="390.0" cy="140.0" rx="2.20" ry="6.00" fill="#f8f0b0" transform="rotate(-22 390 140)"/><ellipse cx="398.0" cy="152.5" rx="15.12" ry="9.86" fill="#fadcd8"/><ellipse cx="398.0" cy="152.5" rx="15.12" ry="9.86" fill="none" stroke="#e27a7a" stroke-width="0.55"/><ellipse cx="398.0" cy="152.5" rx="14.31" ry="9.33" fill="none" stroke="#e27a7a" stroke-width="0.55"/><ellipse cx="398.0" cy="152.5" rx="13.50" ry="8.80" fill="#ee6a50"/><ellipse cx="398.0" cy="152.5" rx="12.56" ry="8.01" fill="#f59a34"/><ellipse cx="398.0" cy="152.5" rx="11.47" ry="7.14" fill="#f6e03a"/><ellipse cx="398.0" cy="152.5" rx="10.39" ry="6.31" fill="#b6d83a"/><ellipse cx="398.0" cy="152.5" rx="9.04" ry="5.31" fill="#3aa83a"/><ellipse cx="398.0" cy="152.5" rx="6.75" ry="3.74" fill="#15867a"/><ellipse cx="398.0" cy="152.5" rx="5.53" ry="2.97" fill="#1f3f9e"/><ellipse cx="398.0" cy="152.5" rx="1.89" ry="0.91" fill="#a8b0f0"/></g></g><line x1="375.5" y1="93.4" x2="375.5" y2="161.1" stroke="#6a6a6a" stroke-width="0.9"/><line x1="348.5" y1="131.5" x2="417.0" y2="131.5" stroke="#6a6a6a" stroke-width="0.9"/><path d="M348.5 93.4 H417.0 V161.1" fill="none" stroke="#8a8a8a" stroke-width="1.1"/><path d="M348.5 92.9 V161.1 H417.5" fill="none" stroke="#2a2a2a" stroke-width="1.1"/><g transform="translate(349.7 100.0) scale(0.92 1)"><text x="0" y="0" font-size="5.8" font-weight="bold" text-anchor="start" fill="#111" stroke="#111" stroke-width="0.32">0%</text></g><g transform="translate(398.7 100.0) scale(0.92 1)"><text x="0" y="0" font-size="5.8" font-weight="bold" text-anchor="middle" fill="#111" stroke="#111" stroke-width="0.32">4%</text></g><g transform="translate(349.7 153.6) scale(0.92 1)"><text x="0" y="0" font-size="5.8" font-weight="bold" text-anchor="start" fill="#111" stroke="#111" stroke-width="0.32">5%</text></g><g transform="translate(398.7 153.6) scale(0.92 1)"><text x="0" y="0" font-size="5.8" font-weight="bold" text-anchor="middle" fill="#111" stroke="#111" stroke-width="0.32">90%</text></g><text x="347.7" y="168.7" font-size="3.9" fill="#4a4a4a" text-anchor="middle">10<tspan font-size="2.81" dy="-1.6">0</tspan></text><text x="364.6" y="168.7" font-size="3.9" fill="#4a4a4a" text-anchor="middle">10<tspan font-size="2.81" dy="-1.6">1</tspan></text><text x="381.4" y="168.7" font-size="3.9" fill="#4a4a4a" text-anchor="middle">10<tspan font-size="2.81" dy="-1.6">2</tspan></text><text x="398.3" y="168.7" font-size="3.9" fill="#4a4a4a" text-anchor="middle">10<tspan font-size="2.81" dy="-1.6">3</tspan></text><text x="415.2" y="168.7" font-size="3.9" fill="#4a4a4a" text-anchor="middle">10<tspan font-size="2.81" dy="-1.6">4</tspan></text><text x="343.9" y="164.1" font-size="3.9" fill="#4a4a4a" text-anchor="middle">10<tspan font-size="2.81" dy="-1.6">0</tspan></text><text x="343.9" y="147.1" font-size="3.9" fill="#4a4a4a" text-anchor="middle">10<tspan font-size="2.81" dy="-1.6">1</tspan></text><text x="343.9" y="130.0" font-size="3.9" fill="#4a4a4a" text-anchor="middle">10<tspan font-size="2.81" dy="-1.6">2</tspan></text><text x="343.9" y="113.0" font-size="3.9" fill="#4a4a4a" text-anchor="middle">10<tspan font-size="2.81" dy="-1.6">3</tspan></text><text x="343.9" y="95.9" font-size="3.9" fill="#4a4a4a" text-anchor="middle">10<tspan font-size="2.81" dy="-1.6">4</tspan></text><g clip-path="url(#c9)"><g filter="url(#soft)"><path d="M480 128 C482 122 492 118 500 116 L505 115.5 C506 122 504 132 502 142 C503 150 505 156 502 161 L490 161 C487 155 485 148 484 142 C481 137 479 132 480 128 Z" fill="#f8d2cc" stroke="#e88080" stroke-width="0.55"/><path d="M482 129 C484 124 492 120 499 118 L503.5 117.5 C504 124 502 133 500 142 C501 150 503 155 500 160" fill="none" stroke="#e88080" stroke-width="0.55"/><path d="M486 146 C488 152 490 157 492 160" fill="none" stroke="#e07070" stroke-width="0.55"/><path d="M483 138 C486 145 488 152 489 160" fill="none" stroke="#e07070" stroke-width="0.55"/><ellipse cx="495.0" cy="121.0" rx="9.00" ry="4.50" fill="#f6c4a8"/><ellipse cx="498.0" cy="154.0" rx="5.50" ry="6.50" fill="#f3a888"/><ellipse cx="498.0" cy="155.0" rx="3.20" ry="3.80" fill="#f6d860"/><path d="M481.3 125.7 C481.9 120.9 489.7 119.1 498.1 118.5 C502.9 119.1 503.5 122.1 502.9 129.3 C499.3 140.1 496.3 144.3 493.9 146.7 C491.5 146.1 488.5 143.7 484.9 138.9 Z" fill="#ee6a50" stroke="#e27a7a" stroke-width="0"/><path d="M482.2 126.0 C482.7 121.5 490.0 119.9 497.9 119.3 C502.3 119.9 502.9 122.7 502.3 129.4 C499.0 139.5 496.2 143.4 493.9 145.6 C491.7 145.1 488.9 142.8 485.5 138.3 Z" fill="#f59a34" stroke="#e27a7a" stroke-width="0"/><path d="M483.2 126.4 C483.7 122.3 490.4 120.7 497.6 120.2 C501.7 120.7 502.2 123.3 501.7 129.5 C498.6 138.7 496.0 142.3 494.0 144.4 C491.9 143.9 489.4 141.8 486.3 137.7 Z" fill="#f6e03a" stroke="#e27a7a" stroke-width="0"/><path d="M484.6 126.9 C485.1 123.3 490.9 122.0 497.2 121.5 C500.8 122.0 501.2 124.2 500.8 129.6 C498.1 137.7 495.9 140.8 494.1 142.7 C492.2 142.2 490.0 140.4 487.3 136.8 Z" fill="#b6d83a" stroke="#e27a7a" stroke-width="0"/><path d="M486.4 127.5 C486.7 124.6 491.5 123.5 496.7 123.1 C499.7 123.5 500.1 125.3 499.7 129.8 C497.5 136.4 495.6 139.0 494.1 140.5 C492.6 140.1 490.8 138.6 488.6 135.7 Z" fill="#3aa83a" stroke="#e27a7a" stroke-width="0"/><ellipse cx="494.5" cy="131.0" rx="3.60" ry="5.60" fill="#15867a"/><ellipse cx="494.5" cy="131.0" rx="2.50" ry="4.30" fill="#1f3f9e"/><ellipse cx="494.5" cy="129.5" rx="1.00" ry="1.60" fill="#a8b0f0"/><ellipse cx="455.0" cy="136.0" rx="5.00" ry="6.00" fill="none" stroke="#e27a7a" stroke-width="0.55"/><ellipse cx="455.0" cy="136.0" rx="3.00" ry="3.50" fill="none" stroke="#e27a7a" stroke-width="0.55"/><ellipse cx="455.0" cy="136.0" rx="6.50" ry="7.50" fill="none" stroke="#e27a7a" stroke-width="0.55"/><path d="M466 135 C470 131 476 128 479 131 C478 136 472 139 466 135" fill="none" stroke="#e27a7a" stroke-width="0.55"/></g></g><line x1="478.5" y1="93.4" x2="478.5" y2="161.1" stroke="#6a6a6a" stroke-width="0.9"/><line x1="447.5" y1="124.6" x2="515.4" y2="124.6" stroke="#6a6a6a" stroke-width="0.9"/><path d="M447.5 93.4 H515.4 V161.1" fill="none" stroke="#8a8a8a" stroke-width="1.1"/><path d="M447.5 92.9 V161.1 H515.9" fill="none" stroke="#2a2a2a" stroke-width="1.1"/><g transform="translate(448.7 100.0) scale(0.92 1)"><text x="0" y="0" font-size="5.8" font-weight="bold" text-anchor="start" fill="#111" stroke="#111" stroke-width="0.32">1%</text></g><g transform="translate(497.09999999999997 100.0) scale(0.92 1)"><text x="0" y="0" font-size="5.8" font-weight="bold" text-anchor="middle" fill="#111" stroke="#111" stroke-width="0.32">7%</text></g><g transform="translate(448.7 153.6) scale(0.92 1)"><text x="0" y="0" font-size="5.8" font-weight="bold" text-anchor="start" fill="#111" stroke="#111" stroke-width="0.32">12%</text></g><g transform="translate(497.09999999999997 153.6) scale(0.92 1)"><text x="0" y="0" font-size="5.8" font-weight="bold" text-anchor="middle" fill="#111" stroke="#111" stroke-width="0.32">80%</text></g><text x="446.7" y="168.7" font-size="3.9" fill="#4a4a4a" text-anchor="middle">10<tspan font-size="2.81" dy="-1.6">0</tspan></text><text x="463.4" y="168.7" font-size="3.9" fill="#4a4a4a" text-anchor="middle">10<tspan font-size="2.81" dy="-1.6">1</tspan></text><text x="480.1" y="168.7" font-size="3.9" fill="#4a4a4a" text-anchor="middle">10<tspan font-size="2.81" dy="-1.6">2</tspan></text><text x="496.9" y="168.7" font-size="3.9" fill="#4a4a4a" text-anchor="middle">10<tspan font-size="2.81" dy="-1.6">3</tspan></text><text x="513.6" y="168.7" font-size="3.9" fill="#4a4a4a" text-anchor="middle">10<tspan font-size="2.81" dy="-1.6">4</tspan></text><text x="442.9" y="164.1" font-size="3.9" fill="#4a4a4a" text-anchor="middle">10<tspan font-size="2.81" dy="-1.6">0</tspan></text><text x="442.9" y="147.1" font-size="3.9" fill="#4a4a4a" text-anchor="middle">10<tspan font-size="2.81" dy="-1.6">1</tspan></text><text x="442.9" y="130.0" font-size="3.9" fill="#4a4a4a" text-anchor="middle">10<tspan font-size="2.81" dy="-1.6">2</tspan></text><text x="442.9" y="113.0" font-size="3.9" fill="#4a4a4a" text-anchor="middle">10<tspan font-size="2.81" dy="-1.6">3</tspan></text><text x="442.9" y="95.9" font-size="3.9" fill="#4a4a4a" text-anchor="middle">10<tspan font-size="2.81" dy="-1.6">4</tspan></text><g clip-path="url(#c10)"><g filter="url(#soft)"><path d="M53 214 L70 214 L77 222 L75 232 L70 240 L58 244 L53 243 Z" fill="#fbe3e0" stroke="#e88080" stroke-width="0.55"/><ellipse cx="61.0" cy="226.0" rx="10.45" ry="13.20" fill="#fadcd8"/><ellipse cx="61.0" cy="226.0" rx="10.45" ry="13.20" fill="none" stroke="#e27a7a" stroke-width="0.55"/><ellipse cx="61.0" cy="226.0" rx="9.97" ry="12.60" fill="none" stroke="#e27a7a" stroke-width="0.55"/><ellipse cx="61.0" cy="226.0" rx="9.50" ry="12.00" fill="#ee6a50"/><ellipse cx="61.0" cy="226.0" rx="8.84" ry="10.93" fill="#f59a34"/><ellipse cx="61.0" cy="226.0" rx="8.07" ry="9.74" fill="#f6e03a"/><ellipse cx="61.0" cy="226.0" rx="7.32" ry="8.60" fill="#b6d83a"/><ellipse cx="61.0" cy="226.0" rx="6.37" ry="7.24" fill="#3aa83a"/><ellipse cx="61.0" cy="226.0" rx="4.75" ry="5.10" fill="#15867a"/><ellipse cx="61.0" cy="226.0" rx="3.89" ry="4.05" fill="#1f3f9e"/><ellipse cx="61.0" cy="226.0" rx="1.33" ry="1.25" fill="#a8b0f0"/></g></g><line x1="78.9" y1="176.5" x2="78.9" y2="243.6" stroke="#6a6a6a" stroke-width="0.9"/><line x1="52.6" y1="214.6" x2="120.4" y2="214.6" stroke="#6a6a6a" stroke-width="0.9"/><path d="M52.6 176.5 H120.4 V243.6" fill="none" stroke="#8a8a8a" stroke-width="1.1"/><path d="M52.6 176.0 V243.6 H120.9" fill="none" stroke="#2a2a2a" stroke-width="1.1"/><g transform="translate(53.800000000000004 183.1) scale(0.92 1)"><text x="0" y="0" font-size="5.8" font-weight="bold" text-anchor="start" fill="#111" stroke="#111" stroke-width="0.32">1%</text></g><g transform="translate(102.10000000000001 183.1) scale(0.92 1)"><text x="0" y="0" font-size="5.8" font-weight="bold" text-anchor="middle" fill="#111" stroke="#111" stroke-width="0.32">0%</text></g><g transform="translate(53.800000000000004 236.1) scale(0.92 1)"><text x="0" y="0" font-size="5.8" font-weight="bold" text-anchor="start" fill="#111" stroke="#111" stroke-width="0.32">98%</text></g><g transform="translate(102.10000000000001 236.1) scale(0.92 1)"><text x="0" y="0" font-size="5.8" font-weight="bold" text-anchor="middle" fill="#111" stroke="#111" stroke-width="0.32">0%</text></g><text x="51.8" y="251.2" font-size="3.9" fill="#4a4a4a" text-anchor="middle">10<tspan font-size="2.81" dy="-1.6">0</tspan></text><text x="68.5" y="251.2" font-size="3.9" fill="#4a4a4a" text-anchor="middle">10<tspan font-size="2.81" dy="-1.6">1</tspan></text><text x="85.2" y="251.2" font-size="3.9" fill="#4a4a4a" text-anchor="middle">10<tspan font-size="2.81" dy="-1.6">2</tspan></text><text x="101.9" y="251.2" font-size="3.9" fill="#4a4a4a" text-anchor="middle">10<tspan font-size="2.81" dy="-1.6">3</tspan></text><text x="118.6" y="251.2" font-size="3.9" fill="#4a4a4a" text-anchor="middle">10<tspan font-size="2.81" dy="-1.6">4</tspan></text><text x="48.0" y="246.6" font-size="3.9" fill="#4a4a4a" text-anchor="middle">10<tspan font-size="2.81" dy="-1.6">0</tspan></text><text x="48.0" y="229.7" font-size="3.9" fill="#4a4a4a" text-anchor="middle">10<tspan font-size="2.81" dy="-1.6">1</tspan></text><text x="48.0" y="212.8" font-size="3.9" fill="#4a4a4a" text-anchor="middle">10<tspan font-size="2.81" dy="-1.6">2</tspan></text><text x="48.0" y="195.9" font-size="3.9" fill="#4a4a4a" text-anchor="middle">10<tspan font-size="2.81" dy="-1.6">3</tspan></text><text x="48.0" y="179.0" font-size="3.9" fill="#4a4a4a" text-anchor="middle">10<tspan font-size="2.81" dy="-1.6">4</tspan></text><g clip-path="url(#c11)"><g filter="url(#soft)"><path d="M156 226 C158 220 166 219 172 222 C176 220 180 217 186 215 L199 212 L201 215 L196 228 L191 241 L186 241 L180 236 L172 234 C164 234 156 232 156 226 Z" fill="#f9e0dc" stroke="#e07070" stroke-width="0.55"/><ellipse cx="162.0" cy="226.0" rx="6.00" ry="4.00" fill="none" stroke="#e27a7a" stroke-width="0.55"/><ellipse cx="166.0" cy="226.0" rx="10.00" ry="7.00" fill="none" stroke="#e27a7a" stroke-width="0.55"/><ellipse cx="162.0" cy="226.0" rx="3.00" ry="2.00" fill="none" stroke="#e27a7a" stroke-width="0.55"/><path d="M158 229 C165 233 175 234 182 236" fill="none" stroke="#e07070" stroke-width="0.55"/><path d="M178 218 C180 215 190 213 201 211.5 C202 214 199 222 196 230 C194 236 192 241 190 241 C187 238 183 232 180 226 C178 222 177 220 178 218 Z" fill="#ee6a50" stroke="#e27a7a" stroke-width="0"/><path d="M179.5 218.5 C181 216 190 214.5 199.5 213 C200 216 197.5 223 195 230 C193 235.5 191.5 239 190 239 C187.5 236.5 184 231 181 226 C179.5 222.5 179 220.5 179.5 218.5 Z" fill="#f59a34" stroke="#e27a7a" stroke-width="0"/><path d="M181 219 C182.5 217 190 215.7 198 214.5 C198 217.5 196 224 193.8 230 C192.3 234.5 191 237 190 237 C188 235 185 230.5 182.5 226 C181 223 180.5 221 181 219 Z" fill="#f6e03a" stroke="#e27a7a" stroke-width="0"/><ellipse cx="182.5" cy="223.5" rx="2.00" ry="3.00" fill="#faf4d0"/><ellipse cx="189.0" cy="226.0" rx="5.50" ry="9.50" fill="#b6d83a" transform="rotate(-10 189 226)"/><ellipse cx="189.0" cy="226.0" rx="4.50" ry="8.00" fill="#3aa83a" transform="rotate(-10 189 226)"/><ellipse cx="188.5" cy="226.0" rx="3.20" ry="5.50" fill="#15867a" transform="rotate(-10 188.5 226)"/><ellipse cx="188.5" cy="226.0" rx="2.20" ry="3.80" fill="#1f3f9e" transform="rotate(-10 188.5 226)"/><ellipse cx="188.5" cy="225.8" rx="0.90" ry="1.40" fill="#a8b0f0"/></g></g><line x1="178.0" y1="176.5" x2="178.0" y2="243.6" stroke="#6a6a6a" stroke-width="0.9"/><line x1="151.5" y1="214.6" x2="219.8" y2="214.6" stroke="#6a6a6a" stroke-width="0.9"/><path d="M151.5 176.5 H219.8 V243.6" fill="none" stroke="#8a8a8a" stroke-width="1.1"/><path d="M151.5 176.0 V243.6 H220.3" fill="none" stroke="#2a2a2a" stroke-width="1.1"/><g transform="translate(152.7 183.1) scale(0.92 1)"><text x="0" y="0" font-size="5.8" font-weight="bold" text-anchor="start" fill="#111" stroke="#111" stroke-width="0.32">0%</text></g><g transform="translate(201.5 183.1) scale(0.92 1)"><text x="0" y="0" font-size="5.8" font-weight="bold" text-anchor="middle" fill="#111" stroke="#111" stroke-width="0.32">1%</text></g><g transform="translate(152.7 236.1) scale(0.92 1)"><text x="0" y="0" font-size="5.8" font-weight="bold" text-anchor="start" fill="#111" stroke="#111" stroke-width="0.32">23%</text></g><g transform="translate(201.5 236.1) scale(0.92 1)"><text x="0" y="0" font-size="5.8" font-weight="bold" text-anchor="middle" fill="#111" stroke="#111" stroke-width="0.32">76%</text></g><text x="150.7" y="251.2" font-size="3.9" fill="#4a4a4a" text-anchor="middle">10<tspan font-size="2.81" dy="-1.6">0</tspan></text><text x="167.5" y="251.2" font-size="3.9" fill="#4a4a4a" text-anchor="middle">10<tspan font-size="2.81" dy="-1.6">1</tspan></text><text x="184.3" y="251.2" font-size="3.9" fill="#4a4a4a" text-anchor="middle">10<tspan font-size="2.81" dy="-1.6">2</tspan></text><text x="201.2" y="251.2" font-size="3.9" fill="#4a4a4a" text-anchor="middle">10<tspan font-size="2.81" dy="-1.6">3</tspan></text><text x="218.0" y="251.2" font-size="3.9" fill="#4a4a4a" text-anchor="middle">10<tspan font-size="2.81" dy="-1.6">4</tspan></text><text x="146.9" y="246.6" font-size="3.9" fill="#4a4a4a" text-anchor="middle">10<tspan font-size="2.81" dy="-1.6">0</tspan></text><text x="146.9" y="229.7" font-size="3.9" fill="#4a4a4a" text-anchor="middle">10<tspan font-size="2.81" dy="-1.6">1</tspan></text><text x="146.9" y="212.8" font-size="3.9" fill="#4a4a4a" text-anchor="middle">10<tspan font-size="2.81" dy="-1.6">2</tspan></text><text x="146.9" y="195.9" font-size="3.9" fill="#4a4a4a" text-anchor="middle">10<tspan font-size="2.81" dy="-1.6">3</tspan></text><text x="146.9" y="179.0" font-size="3.9" fill="#4a4a4a" text-anchor="middle">10<tspan font-size="2.81" dy="-1.6">4</tspan></text><g clip-path="url(#c12)"><g filter="url(#soft)"><path d="M263 228 C266 222 270 217 276 215 L306 213 L309 222 L306 235 L300 243 L276 243 C270 240 264 236 263 228 Z" fill="#fbe3e0" stroke="#e07070" stroke-width="0.55"/><path d="M265 228 C268 223 272 219 277 217 L305 215 L307 223 L304 234 L299 241 L277 241 C271 238 266 235 265 228 Z" fill="none" stroke="#e07070" stroke-width="0.55"/><ellipse cx="285.0" cy="236.0" rx="16.00" ry="6.00" fill="none" stroke="#e27a7a" stroke-width="0.55"/><ellipse cx="285.0" cy="238.0" rx="12.00" ry="4.00" fill="none" stroke="#e27a7a" stroke-width="0.55"/><ellipse cx="284.0" cy="240.0" rx="8.00" ry="2.50" fill="none" stroke="#e27a7a" stroke-width="0.55"/><rect x="269" y="216.5" width="38.5" height="21" rx="8" fill="#ee6a50"/><rect x="270.5" y="217.5" width="35.5" height="19" rx="7" fill="#f59a34"/><rect x="272" y="218.5" width="32.5" height="17" rx="6.5" fill="#f6e03a"/><rect x="273" y="219.5" width="30.5" height="15" rx="6" fill="#b6d83a"/><rect x="274" y="220.5" width="28.5" height="12.5" rx="5.5" fill="#3aa83a"/><ellipse cx="288.0" cy="226.0" rx="4.50" ry="2.80" fill="#9ad8c8"/><ellipse cx="279.0" cy="226.0" rx="4.30" ry="4.30" fill="#15867a"/><ellipse cx="297.5" cy="226.0" rx="4.30" ry="4.30" fill="#15867a"/><ellipse cx="279.0" cy="226.0" rx="2.80" ry="2.80" fill="#1f3f9e"/><ellipse cx="297.5" cy="226.0" rx="2.80" ry="2.80" fill="#1f3f9e"/><ellipse cx="279.0" cy="226.0" rx="1.00" ry="1.00" fill="#a8b0f0"/><ellipse cx="297.5" cy="226.0" rx="1.00" ry="1.00" fill="#a8b0f0"/></g></g><line x1="276.6" y1="176.5" x2="276.6" y2="243.6" stroke="#6a6a6a" stroke-width="0.9"/><line x1="250.2" y1="214.6" x2="317.6" y2="214.6" stroke="#6a6a6a" stroke-width="0.9"/><path d="M250.2 176.5 H317.6 V243.6" fill="none" stroke="#8a8a8a" stroke-width="1.1"/><path d="M250.2 176.0 V243.6 H318.1" fill="none" stroke="#2a2a2a" stroke-width="1.1"/><g transform="translate(251.39999999999998 183.1) scale(0.92 1)"><text x="0" y="0" font-size="5.8" font-weight="bold" text-anchor="start" fill="#111" stroke="#111" stroke-width="0.32">1%</text></g><g transform="translate(299.3 183.1) scale(0.92 1)"><text x="0" y="0" font-size="5.8" font-weight="bold" text-anchor="middle" fill="#111" stroke="#111" stroke-width="0.32">1%</text></g><g transform="translate(251.39999999999998 236.1) scale(0.92 1)"><text x="0" y="0" font-size="5.8" font-weight="bold" text-anchor="start" fill="#111" stroke="#111" stroke-width="0.32">14%</text></g><g transform="translate(299.3 236.1) scale(0.92 1)"><text x="0" y="0" font-size="5.8" font-weight="bold" text-anchor="middle" fill="#111" stroke="#111" stroke-width="0.32">85%</text></g><text x="249.4" y="251.2" font-size="3.9" fill="#4a4a4a" text-anchor="middle">10<tspan font-size="2.81" dy="-1.6">0</tspan></text><text x="266.0" y="251.2" font-size="3.9" fill="#4a4a4a" text-anchor="middle">10<tspan font-size="2.81" dy="-1.6">1</tspan></text><text x="282.6" y="251.2" font-size="3.9" fill="#4a4a4a" text-anchor="middle">10<tspan font-size="2.81" dy="-1.6">2</tspan></text><text x="299.2" y="251.2" font-size="3.9" fill="#4a4a4a" text-anchor="middle">10<tspan font-size="2.81" dy="-1.6">3</tspan></text><text x="315.8" y="251.2" font-size="3.9" fill="#4a4a4a" text-anchor="middle">10<tspan font-size="2.81" dy="-1.6">4</tspan></text><text x="245.6" y="246.6" font-size="3.9" fill="#4a4a4a" text-anchor="middle">10<tspan font-size="2.81" dy="-1.6">0</tspan></text><text x="245.6" y="229.7" font-size="3.9" fill="#4a4a4a" text-anchor="middle">10<tspan font-size="2.81" dy="-1.6">1</tspan></text><text x="245.6" y="212.8" font-size="3.9" fill="#4a4a4a" text-anchor="middle">10<tspan font-size="2.81" dy="-1.6">2</tspan></text><text x="245.6" y="195.9" font-size="3.9" fill="#4a4a4a" text-anchor="middle">10<tspan font-size="2.81" dy="-1.6">3</tspan></text><text x="245.6" y="179.0" font-size="3.9" fill="#4a4a4a" text-anchor="middle">10<tspan font-size="2.81" dy="-1.6">4</tspan></text><g clip-path="url(#c13)"><g filter="url(#soft)"><path d="M352 215 C356 210 366 209 374 210 L378 206 L377 224 C368 225 358 222 352 215 Z" fill="#f9e2de" stroke="#e07070" stroke-width="0.55"/><path d="M354 215 C358 211 366 210.5 373 211.5 L376 209 L375.5 222.5 C368 223.5 359 221 354 215 Z" fill="none" stroke="#e07070" stroke-width="0.55"/><ellipse cx="358.0" cy="215.0" rx="5.00" ry="3.50" fill="none" stroke="#e27a7a" stroke-width="0.55"/><ellipse cx="362.0" cy="215.0" rx="9.00" ry="5.50" fill="none" stroke="#e27a7a" stroke-width="0.55"/><ellipse cx="360.0" cy="215.0" rx="2.50" ry="2.00" fill="none" stroke="#e27a7a" stroke-width="0.55"/><path d="M375 203 C376 190 381 185 388 184.5 C394 184.5 399 187 398 195 C397 205 395 214 392 224 L382 224 C379 216 375 210 375 203 Z" fill="#f8d4d0" stroke="#e88080" stroke-width="0.55"/><path d="M376.0 196.5 C376.0 186 397.0 186 397.0 196.5 C397.0 203.5 390.7 221 386.5 223 C382.3 221 376.0 203.5 376.0 196.5 Z" fill="#ee6a50" stroke="#e27a7a" stroke-width="0"/><path d="M377.2 196.5 C377.2 187.2 395.8 187.2 395.8 196.5 C395.8 202.5 390.22 218 386.5 220 C382.78 218 377.2 202.5 377.2 196.5 Z" fill="#f59a34" stroke="#e27a7a" stroke-width="0"/><ellipse cx="387.0" cy="213.0" rx="5.00" ry="8.00" fill="#f3c070"/><ellipse cx="387.5" cy="213.0" rx="3.00" ry="6.50" fill="#f8ecb0"/><path d="M378.3 196.5 C378.3 188.5 394.3 188.5 394.3 196.5 C394.3 201.5 389.5 212 386.3 214 C383.1 212 378.3 201.5 378.3 196.5 Z" fill="#f6e03a" stroke="#e27a7a" stroke-width="0"/><path d="M379.2 196.5 C379.2 189.5 393.2 189.5 393.2 196.5 C393.2 200.5 389.0 209 386.2 211 C383.4 209 379.2 200.5 379.2 196.5 Z" fill="#b6d83a" stroke="#e27a7a" stroke-width="0"/><path d="M380 196.5 C380 190.5 392 190.5 392 196.5 C392 200.0 388.4 206.5 386 208.5 C383.6 206.5 380 200.0 380 196.5 Z" fill="#3aa83a" stroke="#e27a7a" stroke-width="0"/><path d="M382 195.5 C382 191.5 390 191.5 390 195.5 C390 198.0 387.6 202 386 204 C384.4 202 382 198.0 382 195.5 Z" fill="#15867a" stroke="#e27a7a" stroke-width="0"/><ellipse cx="386.0" cy="196.5" rx="2.60" ry="4.60" fill="#1f3f9e"/><ellipse cx="386.0" cy="195.5" rx="1.00" ry="1.80" fill="#a8b0f0"/></g></g><line x1="375.5" y1="176.5" x2="375.5" y2="243.6" stroke="#6a6a6a" stroke-width="0.9"/><line x1="348.5" y1="214.6" x2="417.0" y2="214.6" stroke="#6a6a6a" stroke-width="0.9"/><path d="M348.5 176.5 H417.0 V243.6" fill="none" stroke="#8a8a8a" stroke-width="1.1"/><path d="M348.5 176.0 V243.6 H417.5" fill="none" stroke="#2a2a2a" stroke-width="1.1"/><g transform="translate(349.7 183.1) scale(0.92 1)"><text x="0" y="0" font-size="5.8" font-weight="bold" text-anchor="start" fill="#111" stroke="#111" stroke-width="0.32">11%</text></g><g transform="translate(398.7 183.1) scale(0.92 1)"><text x="0" y="0" font-size="5.8" font-weight="bold" text-anchor="middle" fill="#111" stroke="#111" stroke-width="0.32">62%</text></g><g transform="translate(349.7 236.1) scale(0.92 1)"><text x="0" y="0" font-size="5.8" font-weight="bold" text-anchor="start" fill="#111" stroke="#111" stroke-width="0.32">12%</text></g><g transform="translate(398.7 236.1) scale(0.92 1)"><text x="0" y="0" font-size="5.8" font-weight="bold" text-anchor="middle" fill="#111" stroke="#111" stroke-width="0.32">15%</text></g><text x="347.7" y="251.2" font-size="3.9" fill="#4a4a4a" text-anchor="middle">10<tspan font-size="2.81" dy="-1.6">0</tspan></text><text x="364.6" y="251.2" font-size="3.9" fill="#4a4a4a" text-anchor="middle">10<tspan font-size="2.81" dy="-1.6">1</tspan></text><text x="381.4" y="251.2" font-size="3.9" fill="#4a4a4a" text-anchor="middle">10<tspan font-size="2.81" dy="-1.6">2</tspan></text><text x="398.3" y="251.2" font-size="3.9" fill="#4a4a4a" text-anchor="middle">10<tspan font-size="2.81" dy="-1.6">3</tspan></text><text x="415.2" y="251.2" font-size="3.9" fill="#4a4a4a" text-anchor="middle">10<tspan font-size="2.81" dy="-1.6">4</tspan></text><text x="343.9" y="246.6" font-size="3.9" fill="#4a4a4a" text-anchor="middle">10<tspan font-size="2.81" dy="-1.6">0</tspan></text><text x="343.9" y="229.7" font-size="3.9" fill="#4a4a4a" text-anchor="middle">10<tspan font-size="2.81" dy="-1.6">1</tspan></text><text x="343.9" y="212.8" font-size="3.9" fill="#4a4a4a" text-anchor="middle">10<tspan font-size="2.81" dy="-1.6">2</tspan></text><text x="343.9" y="195.9" font-size="3.9" fill="#4a4a4a" text-anchor="middle">10<tspan font-size="2.81" dy="-1.6">3</tspan></text><text x="343.9" y="179.0" font-size="3.9" fill="#4a4a4a" text-anchor="middle">10<tspan font-size="2.81" dy="-1.6">4</tspan></text><g clip-path="url(#c14)"><g filter="url(#soft)"><ellipse cx="455.0" cy="233.0" rx="7.00" ry="8.00" fill="none" stroke="#e27a7a" stroke-width="0.55"/><ellipse cx="455.0" cy="236.0" rx="4.00" ry="5.00" fill="none" stroke="#e27a7a" stroke-width="0.55"/><ellipse cx="455.0" cy="220.0" rx="8.96" ry="14.00" fill="#fadcd8"/><ellipse cx="455.0" cy="220.0" rx="8.96" ry="14.00" fill="none" stroke="#e27a7a" stroke-width="0.55"/><ellipse cx="455.0" cy="220.0" rx="8.48" ry="13.25" fill="none" stroke="#e27a7a" stroke-width="0.55"/><ellipse cx="455.0" cy="220.0" rx="8.00" ry="12.50" fill="#ee6a50"/><ellipse cx="455.0" cy="220.0" rx="7.44" ry="11.38" fill="#f59a34"/><ellipse cx="455.0" cy="220.0" rx="6.80" ry="10.15" fill="#f6e03a"/><ellipse cx="455.0" cy="220.0" rx="6.16" ry="8.96" fill="#b6d83a"/><ellipse cx="455.0" cy="220.0" rx="5.36" ry="7.55" fill="#3aa83a"/><ellipse cx="455.0" cy="220.0" rx="4.00" ry="5.31" fill="#15867a"/><ellipse cx="455.0" cy="220.0" rx="2.00" ry="2.80" fill="#7fd6c8"/><ellipse cx="492.0" cy="224.0" rx="12.00" ry="12.00" fill="none" stroke="#e27a7a" stroke-width="0.55"/><path d="M480 212 C484 210 488 215 486 222 L492 240 L500 240 L498 228" fill="none" stroke="#e27a7a" stroke-width="0.55"/><ellipse cx="494.0" cy="215.0" rx="12.65" ry="13.75" fill="#fadcd8" transform="rotate(-15 494 215)"/><ellipse cx="494.0" cy="215.0" rx="12.65" ry="13.75" fill="none" stroke="#e27a7a" stroke-width="0.55" transform="rotate(-15 494 215)"/><ellipse cx="494.0" cy="215.0" rx="12.08" ry="13.12" fill="none" stroke="#e27a7a" stroke-width="0.55" transform="rotate(-15 494 215)"/><ellipse cx="494.0" cy="215.0" rx="11.50" ry="12.50" fill="#ee6a50" transform="rotate(-15 494 215)"/><ellipse cx="494.0" cy="215.0" rx="10.70" ry="11.38" fill="#f59a34" transform="rotate(-15 494 215)"/><ellipse cx="494.0" cy="215.0" rx="9.78" ry="10.15" fill="#f6e03a" transform="rotate(-15 494 215)"/><ellipse cx="494.0" cy="215.0" rx="8.86" ry="8.96" fill="#b6d83a" transform="rotate(-15 494 215)"/><ellipse cx="494.0" cy="215.0" rx="7.71" ry="7.55" fill="#3aa83a" transform="rotate(-15 494 215)"/><ellipse cx="494.0" cy="215.0" rx="5.75" ry="5.31" fill="#15867a" transform="rotate(-15 494 215)"/><ellipse cx="494.0" cy="215.0" rx="4.71" ry="4.22" fill="#1f3f9e" transform="rotate(-15 494 215)"/><ellipse cx="494.0" cy="215.0" rx="1.61" ry="1.30" fill="#a8b0f0" transform="rotate(-15 494 215)"/></g></g><line x1="479.7" y1="176.5" x2="479.7" y2="243.6" stroke="#6a6a6a" stroke-width="0.9"/><line x1="447.5" y1="207.4" x2="515.4" y2="207.4" stroke="#6a6a6a" stroke-width="0.9"/><path d="M447.5 176.5 H515.4 V243.6" fill="none" stroke="#8a8a8a" stroke-width="1.1"/><path d="M447.5 176.0 V243.6 H515.9" fill="none" stroke="#2a2a2a" stroke-width="1.1"/><g transform="translate(448.7 183.1) scale(0.92 1)"><text x="0" y="0" font-size="5.8" font-weight="bold" text-anchor="start" fill="#111" stroke="#111" stroke-width="0.32">0%</text></g><g transform="translate(497.09999999999997 183.1) scale(0.92 1)"><text x="0" y="0" font-size="5.8" font-weight="bold" text-anchor="middle" fill="#111" stroke="#111" stroke-width="0.32">2%</text></g><g transform="translate(448.7 236.1) scale(0.92 1)"><text x="0" y="0" font-size="5.8" font-weight="bold" text-anchor="start" fill="#111" stroke="#111" stroke-width="0.32">46%</text></g><g transform="translate(497.09999999999997 236.1) scale(0.92 1)"><text x="0" y="0" font-size="5.8" font-weight="bold" text-anchor="middle" fill="#111" stroke="#111" stroke-width="0.32">52%</text></g><text x="446.7" y="251.2" font-size="3.9" fill="#4a4a4a" text-anchor="middle">10<tspan font-size="2.81" dy="-1.6">0</tspan></text><text x="463.4" y="251.2" font-size="3.9" fill="#4a4a4a" text-anchor="middle">10<tspan font-size="2.81" dy="-1.6">1</tspan></text><text x="480.1" y="251.2" font-size="3.9" fill="#4a4a4a" text-anchor="middle">10<tspan font-size="2.81" dy="-1.6">2</tspan></text><text x="496.9" y="251.2" font-size="3.9" fill="#4a4a4a" text-anchor="middle">10<tspan font-size="2.81" dy="-1.6">3</tspan></text><text x="513.6" y="251.2" font-size="3.9" fill="#4a4a4a" text-anchor="middle">10<tspan font-size="2.81" dy="-1.6">4</tspan></text><text x="442.9" y="246.6" font-size="3.9" fill="#4a4a4a" text-anchor="middle">10<tspan font-size="2.81" dy="-1.6">0</tspan></text><text x="442.9" y="229.7" font-size="3.9" fill="#4a4a4a" text-anchor="middle">10<tspan font-size="2.81" dy="-1.6">1</tspan></text><text x="442.9" y="212.8" font-size="3.9" fill="#4a4a4a" text-anchor="middle">10<tspan font-size="2.81" dy="-1.6">2</tspan></text><text x="442.9" y="195.9" font-size="3.9" fill="#4a4a4a" text-anchor="middle">10<tspan font-size="2.81" dy="-1.6">3</tspan></text><text x="442.9" y="179.0" font-size="3.9" fill="#4a4a4a" text-anchor="middle">10<tspan font-size="2.81" dy="-1.6">4</tspan></text><g clip-path="url(#c15)"><g filter="url(#soft)"><path d="M70 288 L78 282 L85 284 L82 293 L78 299 L73 300 L75 310 L68 320 L58 322 L53 318 L53 296 L64 292 Z" fill="#fbe3e0" stroke="#e07070" stroke-width="0.55"/><ellipse cx="62.0" cy="307.0" rx="9.00" ry="8.00" fill="none" stroke="#e27a7a" stroke-width="0.55"/><ellipse cx="62.0" cy="307.0" rx="11.00" ry="10.00" fill="none" stroke="#e27a7a" stroke-width="0.55"/><ellipse cx="61.0" cy="307.0" rx="8.00" ry="8.00" fill="#f6c9c0"/><ellipse cx="61.0" cy="307.0" rx="6.40" ry="6.40" fill="#f3b59a"/><ellipse cx="61.0" cy="307.0" rx="4.40" ry="4.40" fill="#f6d3a8"/><ellipse cx="61.0" cy="307.0" rx="2.40" ry="2.40" fill="#fbeedd"/><ellipse cx="70.0" cy="296.0" rx="8.00" ry="5.00" fill="none" stroke="#e27a7a" stroke-width="0.55" transform="rotate(-30 70 296)"/><ellipse cx="88.0" cy="285.5" rx="14.75" ry="9.20" fill="#fadcd8" transform="rotate(-35 88 285.5)"/><ellipse cx="88.0" cy="285.5" rx="14.75" ry="9.20" fill="none" stroke="#e27a7a" stroke-width="0.55" transform="rotate(-35 88 285.5)"/><ellipse cx="88.0" cy="285.5" rx="13.62" ry="8.50" fill="none" stroke="#e27a7a" stroke-width="0.55" transform="rotate(-35 88 285.5)"/><ellipse cx="88.0" cy="285.5" rx="12.50" ry="7.80" fill="#ee6a50" transform="rotate(-35 88 285.5)"/><ellipse cx="88.0" cy="285.5" rx="11.62" ry="7.10" fill="#f59a34" transform="rotate(-35 88 285.5)"/><ellipse cx="88.0" cy="285.5" rx="10.62" ry="6.33" fill="#f6e03a" transform="rotate(-35 88 285.5)"/><ellipse cx="88.0" cy="285.5" rx="9.62" ry="5.59" fill="#b6d83a" transform="rotate(-35 88 285.5)"/><ellipse cx="88.0" cy="285.5" rx="8.38" ry="4.71" fill="#3aa83a" transform="rotate(-35 88 285.5)"/><ellipse cx="88.0" cy="285.5" rx="6.25" ry="3.31" fill="#15867a" transform="rotate(-35 88 285.5)"/><ellipse cx="88.0" cy="285.5" rx="5.12" ry="2.63" fill="#1f3f9e" transform="rotate(-35 88 285.5)"/><ellipse cx="88.0" cy="285.5" rx="1.75" ry="0.81" fill="#a8b0f0" transform="rotate(-35 88 285.5)"/></g></g><line x1="79.2" y1="259.1" x2="79.2" y2="325.9" stroke="#6a6a6a" stroke-width="0.9"/><line x1="52.6" y1="296.6" x2="120.4" y2="296.6" stroke="#6a6a6a" stroke-width="0.9"/><path d="M52.6 259.1 H120.4 V325.9" fill="none" stroke="#8a8a8a" stroke-width="1.1"/><path d="M52.6 258.6 V325.9 H120.9" fill="none" stroke="#2a2a2a" stroke-width="1.1"/><g transform="translate(53.800000000000004 265.70000000000005) scale(0.92 1)"><text x="0" y="0" font-size="5.8" font-weight="bold" text-anchor="start" fill="#111" stroke="#111" stroke-width="0.32">17%</text></g><g transform="translate(102.10000000000001 265.70000000000005) scale(0.92 1)"><text x="0" y="0" font-size="5.8" font-weight="bold" text-anchor="middle" fill="#111" stroke="#111" stroke-width="0.32">50%</text></g><g transform="translate(53.800000000000004 318.4) scale(0.92 1)"><text x="0" y="0" font-size="5.8" font-weight="bold" text-anchor="start" fill="#111" stroke="#111" stroke-width="0.32">32%</text></g><g transform="translate(102.10000000000001 318.4) scale(0.92 1)"><text x="0" y="0" font-size="5.8" font-weight="bold" text-anchor="middle" fill="#111" stroke="#111" stroke-width="0.32">1%</text></g><text x="51.8" y="333.5" font-size="3.9" fill="#4a4a4a" text-anchor="middle">10<tspan font-size="2.81" dy="-1.6">0</tspan></text><text x="68.5" y="333.5" font-size="3.9" fill="#4a4a4a" text-anchor="middle">10<tspan font-size="2.81" dy="-1.6">1</tspan></text><text x="85.2" y="333.5" font-size="3.9" fill="#4a4a4a" text-anchor="middle">10<tspan font-size="2.81" dy="-1.6">2</tspan></text><text x="101.9" y="333.5" font-size="3.9" fill="#4a4a4a" text-anchor="middle">10<tspan font-size="2.81" dy="-1.6">3</tspan></text><text x="118.6" y="333.5" font-size="3.9" fill="#4a4a4a" text-anchor="middle">10<tspan font-size="2.81" dy="-1.6">4</tspan></text><text x="48.0" y="328.9" font-size="3.9" fill="#4a4a4a" text-anchor="middle">10<tspan font-size="2.81" dy="-1.6">0</tspan></text><text x="48.0" y="312.1" font-size="3.9" fill="#4a4a4a" text-anchor="middle">10<tspan font-size="2.81" dy="-1.6">1</tspan></text><text x="48.0" y="295.2" font-size="3.9" fill="#4a4a4a" text-anchor="middle">10<tspan font-size="2.81" dy="-1.6">2</tspan></text><text x="48.0" y="278.4" font-size="3.9" fill="#4a4a4a" text-anchor="middle">10<tspan font-size="2.81" dy="-1.6">3</tspan></text><text x="48.0" y="261.6" font-size="3.9" fill="#4a4a4a" text-anchor="middle">10<tspan font-size="2.81" dy="-1.6">4</tspan></text><g clip-path="url(#c16)"><g filter="url(#soft)"><path d="M158 286 C160 283 166 284 170 286 L176 280 L190 273 L205 278 L206 290 L200 298 L192 296 L180 292 L170 290 C165 290 158 290 158 286 Z" fill="#fbe6e3" stroke="#e07070" stroke-width="0.55"/><ellipse cx="188.0" cy="310.0" rx="13.00" ry="8.00" fill="none" stroke="#e27a7a" stroke-width="0.55"/><ellipse cx="190.0" cy="312.0" rx="9.00" ry="6.00" fill="none" stroke="#e27a7a" stroke-width="0.55"/><path d="M176 302 C180 298 190 298 198 302 L203 310 L199 320 L190 321 L180 315 Z" fill="none" stroke="#e27a7a" stroke-width="0.55"/><ellipse cx="196.0" cy="312.0" rx="4.00" ry="7.00" fill="none" stroke="#e27a7a" stroke-width="0.55"/><ellipse cx="196.0" cy="312.0" rx="2.50" ry="5.00" fill="none" stroke="#e27a7a" stroke-width="0.55"/><ellipse cx="188.0" cy="285.0" rx="13.80" ry="9.77" fill="#fadcd8" transform="rotate(-5 188 285)"/><ellipse cx="188.0" cy="285.0" rx="13.80" ry="9.77" fill="none" stroke="#e27a7a" stroke-width="0.55" transform="rotate(-5 188 285)"/><ellipse cx="188.0" cy="285.0" rx="12.90" ry="9.14" fill="none" stroke="#e27a7a" stroke-width="0.55" transform="rotate(-5 188 285)"/><ellipse cx="188.0" cy="285.0" rx="12.00" ry="8.50" fill="#ee6a50" transform="rotate(-5 188 285)"/><ellipse cx="188.0" cy="285.0" rx="11.16" ry="7.74" fill="#f59a34" transform="rotate(-5 188 285)"/><ellipse cx="188.0" cy="285.0" rx="10.20" ry="6.90" fill="#f6e03a" transform="rotate(-5 188 285)"/><ellipse cx="188.0" cy="285.0" rx="9.24" ry="6.09" fill="#b6d83a" transform="rotate(-5 188 285)"/><ellipse cx="188.0" cy="285.0" rx="8.04" ry="5.13" fill="#3aa83a" transform="rotate(-5 188 285)"/><ellipse cx="188.0" cy="285.0" rx="6.00" ry="3.61" fill="#15867a" transform="rotate(-5 188 285)"/><ellipse cx="188.0" cy="285.0" rx="4.92" ry="2.87" fill="#1f3f9e" transform="rotate(-5 188 285)"/><ellipse cx="188.0" cy="285.0" rx="1.68" ry="0.88" fill="#a8b0f0" transform="rotate(-5 188 285)"/></g></g><line x1="177.6" y1="259.1" x2="177.6" y2="325.9" stroke="#6a6a6a" stroke-width="0.9"/><line x1="151.5" y1="297.4" x2="219.8" y2="297.4" stroke="#6a6a6a" stroke-width="0.9"/><path d="M151.5 259.1 H219.8 V325.9" fill="none" stroke="#8a8a8a" stroke-width="1.1"/><path d="M151.5 258.6 V325.9 H220.3" fill="none" stroke="#2a2a2a" stroke-width="1.1"/><g transform="translate(152.7 265.70000000000005) scale(0.92 1)"><text x="0" y="0" font-size="5.8" font-weight="bold" text-anchor="start" fill="#111" stroke="#111" stroke-width="0.32">12%</text></g><g transform="translate(201.5 265.70000000000005) scale(0.92 1)"><text x="0" y="0" font-size="5.8" font-weight="bold" text-anchor="middle" fill="#111" stroke="#111" stroke-width="0.32">56%</text></g><g transform="translate(152.7 318.4) scale(0.92 1)"><text x="0" y="0" font-size="5.8" font-weight="bold" text-anchor="start" fill="#111" stroke="#111" stroke-width="0.32">6%</text></g><g transform="translate(201.5 318.4) scale(0.92 1)"><text x="0" y="0" font-size="5.8" font-weight="bold" text-anchor="middle" fill="#111" stroke="#111" stroke-width="0.32">27%</text></g><text x="150.7" y="333.5" font-size="3.9" fill="#4a4a4a" text-anchor="middle">10<tspan font-size="2.81" dy="-1.6">0</tspan></text><text x="167.5" y="333.5" font-size="3.9" fill="#4a4a4a" text-anchor="middle">10<tspan font-size="2.81" dy="-1.6">1</tspan></text><text x="184.3" y="333.5" font-size="3.9" fill="#4a4a4a" text-anchor="middle">10<tspan font-size="2.81" dy="-1.6">2</tspan></text><text x="201.2" y="333.5" font-size="3.9" fill="#4a4a4a" text-anchor="middle">10<tspan font-size="2.81" dy="-1.6">3</tspan></text><text x="218.0" y="333.5" font-size="3.9" fill="#4a4a4a" text-anchor="middle">10<tspan font-size="2.81" dy="-1.6">4</tspan></text><text x="146.9" y="328.9" font-size="3.9" fill="#4a4a4a" text-anchor="middle">10<tspan font-size="2.81" dy="-1.6">0</tspan></text><text x="146.9" y="312.1" font-size="3.9" fill="#4a4a4a" text-anchor="middle">10<tspan font-size="2.81" dy="-1.6">1</tspan></text><text x="146.9" y="295.2" font-size="3.9" fill="#4a4a4a" text-anchor="middle">10<tspan font-size="2.81" dy="-1.6">2</tspan></text><text x="146.9" y="278.4" font-size="3.9" fill="#4a4a4a" text-anchor="middle">10<tspan font-size="2.81" dy="-1.6">3</tspan></text><text x="146.9" y="261.6" font-size="3.9" fill="#4a4a4a" text-anchor="middle">10<tspan font-size="2.81" dy="-1.6">4</tspan></text><g clip-path="url(#c17)"><g filter="url(#soft)"><ellipse cx="268.0" cy="306.0" rx="14.00" ry="6.00" fill="none" stroke="#e27a7a" stroke-width="0.55"/><ellipse cx="274.0" cy="305.0" rx="8.00" ry="4.00" fill="none" stroke="#e27a7a" stroke-width="0.55"/><ellipse cx="258.0" cy="310.0" rx="6.00" ry="4.00" fill="none" stroke="#e27a7a" stroke-width="0.55"/><ellipse cx="293.0" cy="308.0" rx="2.00" ry="2.50" fill="none" stroke="#e27a7a" stroke-width="0.55"/><ellipse cx="258.0" cy="286.0" rx="10.56" ry="11.55" fill="#fadcd8"/><ellipse cx="258.0" cy="286.0" rx="10.56" ry="11.55" fill="none" stroke="#e27a7a" stroke-width="0.55"/><ellipse cx="258.0" cy="286.0" rx="10.08" ry="11.03" fill="none" stroke="#e27a7a" stroke-width="0.55"/><ellipse cx="258.0" cy="286.0" rx="9.60" ry="10.50" fill="#ee6a50"/><ellipse cx="258.0" cy="286.0" rx="8.93" ry="9.56" fill="#f59a34"/><ellipse cx="258.0" cy="286.0" rx="8.16" ry="8.52" fill="#f6e03a"/><ellipse cx="258.0" cy="286.0" rx="7.39" ry="7.53" fill="#b6d83a"/><ellipse cx="258.0" cy="286.0" rx="6.43" ry="6.34" fill="#3aa83a"/><ellipse cx="258.0" cy="286.0" rx="4.80" ry="4.46" fill="#15867a"/><ellipse cx="258.0" cy="286.0" rx="3.94" ry="3.54" fill="#1f3f9e"/><ellipse cx="258.0" cy="286.0" rx="1.34" ry="1.09" fill="#a8b0f0"/></g></g><line x1="275.5" y1="259.1" x2="275.5" y2="325.9" stroke="#6a6a6a" stroke-width="0.9"/><line x1="250.2" y1="296.6" x2="317.6" y2="296.6" stroke="#6a6a6a" stroke-width="0.9"/><path d="M250.2 259.1 H317.6 V325.9" fill="none" stroke="#8a8a8a" stroke-width="1.1"/><path d="M250.2 258.6 V325.9 H318.1" fill="none" stroke="#2a2a2a" stroke-width="1.1"/><g transform="translate(251.39999999999998 265.70000000000005) scale(0.92 1)"><text x="0" y="0" font-size="5.8" font-weight="bold" text-anchor="start" fill="#111" stroke="#111" stroke-width="0.32">64%</text></g><g transform="translate(299.3 265.70000000000005) scale(0.92 1)"><text x="0" y="0" font-size="5.8" font-weight="bold" text-anchor="middle" fill="#111" stroke="#111" stroke-width="0.32">3%</text></g><g transform="translate(251.39999999999998 318.4) scale(0.92 1)"><text x="0" y="0" font-size="5.8" font-weight="bold" text-anchor="start" fill="#111" stroke="#111" stroke-width="0.32">24%</text></g><g transform="translate(299.3 318.4) scale(0.92 1)"><text x="0" y="0" font-size="5.8" font-weight="bold" text-anchor="middle" fill="#111" stroke="#111" stroke-width="0.32">9%</text></g><text x="249.4" y="333.5" font-size="3.9" fill="#4a4a4a" text-anchor="middle">10<tspan font-size="2.81" dy="-1.6">0</tspan></text><text x="266.0" y="333.5" font-size="3.9" fill="#4a4a4a" text-anchor="middle">10<tspan font-size="2.81" dy="-1.6">1</tspan></text><text x="282.6" y="333.5" font-size="3.9" fill="#4a4a4a" text-anchor="middle">10<tspan font-size="2.81" dy="-1.6">2</tspan></text><text x="299.2" y="333.5" font-size="3.9" fill="#4a4a4a" text-anchor="middle">10<tspan font-size="2.81" dy="-1.6">3</tspan></text><text x="315.8" y="333.5" font-size="3.9" fill="#4a4a4a" text-anchor="middle">10<tspan font-size="2.81" dy="-1.6">4</tspan></text><text x="245.6" y="328.9" font-size="3.9" fill="#4a4a4a" text-anchor="middle">10<tspan font-size="2.81" dy="-1.6">0</tspan></text><text x="245.6" y="312.1" font-size="3.9" fill="#4a4a4a" text-anchor="middle">10<tspan font-size="2.81" dy="-1.6">1</tspan></text><text x="245.6" y="295.2" font-size="3.9" fill="#4a4a4a" text-anchor="middle">10<tspan font-size="2.81" dy="-1.6">2</tspan></text><text x="245.6" y="278.4" font-size="3.9" fill="#4a4a4a" text-anchor="middle">10<tspan font-size="2.81" dy="-1.6">3</tspan></text><text x="245.6" y="261.6" font-size="3.9" fill="#4a4a4a" text-anchor="middle">10<tspan font-size="2.81" dy="-1.6">4</tspan></text><g clip-path="url(#c18)"><g filter="url(#soft)"><path d="M363 316 C368 312 376 306 382 302 L390 293 L397 292 L399 297 L394 305 L402 314 L400 326 L364 326 Z" fill="#fbe6e3" stroke="#e07070" stroke-width="0.55"/><ellipse cx="389.0" cy="300.0" rx="4.00" ry="10.00" fill="none" stroke="#e27a7a" stroke-width="0.55" transform="rotate(40 389 300)"/><ellipse cx="370.0" cy="318.0" rx="7.00" ry="4.00" fill="none" stroke="#e27a7a" stroke-width="0.55"/><ellipse cx="385.0" cy="318.0" rx="17.05" ry="9.90" fill="#fadcd8"/><ellipse cx="385.0" cy="318.0" rx="17.05" ry="9.90" fill="none" stroke="#e27a7a" stroke-width="0.55"/><ellipse cx="385.0" cy="318.0" rx="16.28" ry="9.45" fill="none" stroke="#e27a7a" stroke-width="0.55"/><ellipse cx="385.0" cy="318.0" rx="15.50" ry="9.00" fill="#ee6a50"/><ellipse cx="385.0" cy="318.0" rx="14.42" ry="8.19" fill="#f59a34"/><ellipse cx="385.0" cy="318.0" rx="13.17" ry="7.31" fill="#f6e03a"/><ellipse cx="385.0" cy="318.0" rx="11.94" ry="6.45" fill="#b6d83a"/><ellipse cx="385.0" cy="318.0" rx="10.38" ry="5.43" fill="#3aa83a"/><ellipse cx="385.0" cy="318.0" rx="7.75" ry="3.82" fill="#15867a"/><ellipse cx="385.0" cy="318.0" rx="6.35" ry="3.04" fill="#1f3f9e"/><ellipse cx="385.0" cy="318.0" rx="2.17" ry="0.93" fill="#a8b0f0"/></g></g><line x1="374.6" y1="259.1" x2="374.6" y2="325.9" stroke="#6a6a6a" stroke-width="0.9"/><line x1="348.5" y1="296.6" x2="417.0" y2="296.6" stroke="#6a6a6a" stroke-width="0.9"/><path d="M348.5 259.1 H417.0 V325.9" fill="none" stroke="#8a8a8a" stroke-width="1.1"/><path d="M348.5 258.6 V325.9 H417.5" fill="none" stroke="#2a2a2a" stroke-width="1.1"/><g transform="translate(349.7 265.70000000000005) scale(0.92 1)"><text x="0" y="0" font-size="5.8" font-weight="bold" text-anchor="start" fill="#111" stroke="#111" stroke-width="0.32">2%</text></g><g transform="translate(398.7 265.70000000000005) scale(0.92 1)"><text x="0" y="0" font-size="5.8" font-weight="bold" text-anchor="middle" fill="#111" stroke="#111" stroke-width="0.32">6%</text></g><g transform="translate(349.7 318.4) scale(0.92 1)"><text x="0" y="0" font-size="5.8" font-weight="bold" text-anchor="start" fill="#111" stroke="#111" stroke-width="0.32">15%</text></g><g transform="translate(398.7 318.4) scale(0.92 1)"><text x="0" y="0" font-size="5.8" font-weight="bold" text-anchor="middle" fill="#111" stroke="#111" stroke-width="0.32">77%</text></g><text x="347.7" y="333.5" font-size="3.9" fill="#4a4a4a" text-anchor="middle">10<tspan font-size="2.81" dy="-1.6">0</tspan></text><text x="364.6" y="333.5" font-size="3.9" fill="#4a4a4a" text-anchor="middle">10<tspan font-size="2.81" dy="-1.6">1</tspan></text><text x="381.4" y="333.5" font-size="3.9" fill="#4a4a4a" text-anchor="middle">10<tspan font-size="2.81" dy="-1.6">2</tspan></text><text x="398.3" y="333.5" font-size="3.9" fill="#4a4a4a" text-anchor="middle">10<tspan font-size="2.81" dy="-1.6">3</tspan></text><text x="415.2" y="333.5" font-size="3.9" fill="#4a4a4a" text-anchor="middle">10<tspan font-size="2.81" dy="-1.6">4</tspan></text><text x="343.9" y="328.9" font-size="3.9" fill="#4a4a4a" text-anchor="middle">10<tspan font-size="2.81" dy="-1.6">0</tspan></text><text x="343.9" y="312.1" font-size="3.9" fill="#4a4a4a" text-anchor="middle">10<tspan font-size="2.81" dy="-1.6">1</tspan></text><text x="343.9" y="295.2" font-size="3.9" fill="#4a4a4a" text-anchor="middle">10<tspan font-size="2.81" dy="-1.6">2</tspan></text><text x="343.9" y="278.4" font-size="3.9" fill="#4a4a4a" text-anchor="middle">10<tspan font-size="2.81" dy="-1.6">3</tspan></text><text x="343.9" y="261.6" font-size="3.9" fill="#4a4a4a" text-anchor="middle">10<tspan font-size="2.81" dy="-1.6">4</tspan></text><g clip-path="url(#c19)"><g filter="url(#soft)"><path d="M448 290 L470 292 L478 296 L488 290 L508 288 L507 312 L498 322 L490 322 L482 314 L470 310 L465 320 L455 323 L448 318 Z" fill="#fbe9e6" stroke="#e07070" stroke-width="0.55"/><ellipse cx="462.0" cy="300.0" rx="8.00" ry="5.00" fill="none" stroke="#e27a7a" stroke-width="0.55"/><ellipse cx="478.0" cy="300.0" rx="5.00" ry="4.00" fill="none" stroke="#e27a7a" stroke-width="0.55"/><ellipse cx="456.0" cy="301.0" rx="9.90" ry="14.30" fill="#fadcd8"/><ellipse cx="456.0" cy="301.0" rx="9.90" ry="14.30" fill="none" stroke="#e27a7a" stroke-width="0.55"/><ellipse cx="456.0" cy="301.0" rx="9.45" ry="13.65" fill="none" stroke="#e27a7a" stroke-width="0.55"/><ellipse cx="456.0" cy="301.0" rx="9.00" ry="13.00" fill="#ee6a50"/><ellipse cx="456.0" cy="301.0" rx="8.37" ry="11.84" fill="#f59a34"/><ellipse cx="456.0" cy="301.0" rx="7.65" ry="10.55" fill="#f6e03a"/><ellipse cx="456.0" cy="301.0" rx="6.93" ry="9.32" fill="#b6d83a"/><ellipse cx="456.0" cy="301.0" rx="6.03" ry="7.85" fill="#3aa83a"/><ellipse cx="456.0" cy="301.0" rx="4.50" ry="5.52" fill="#15867a"/><ellipse cx="456.0" cy="301.0" rx="2.20" ry="3.00" fill="#7fd6c8"/><ellipse cx="497.0" cy="297.0" rx="13.20" ry="12.65" fill="#fadcd8"/><ellipse cx="497.0" cy="297.0" rx="13.20" ry="12.65" fill="none" stroke="#e27a7a" stroke-width="0.55"/><ellipse cx="497.0" cy="297.0" rx="12.60" ry="12.08" fill="none" stroke="#e27a7a" stroke-width="0.55"/><ellipse cx="497.0" cy="297.0" rx="12.00" ry="11.50" fill="#ee6a50"/><ellipse cx="497.0" cy="297.0" rx="11.16" ry="10.47" fill="#f59a34"/><ellipse cx="497.0" cy="297.0" rx="10.20" ry="9.34" fill="#f6e03a"/><ellipse cx="497.0" cy="297.0" rx="9.24" ry="8.24" fill="#b6d83a"/><ellipse cx="497.0" cy="297.0" rx="8.04" ry="6.94" fill="#3aa83a"/><ellipse cx="497.0" cy="297.0" rx="6.00" ry="4.89" fill="#15867a"/><ellipse cx="497.0" cy="297.0" rx="4.92" ry="3.88" fill="#1f3f9e"/><ellipse cx="497.0" cy="297.0" rx="1.68" ry="1.19" fill="#a8b0f0"/></g></g><line x1="477.7" y1="259.1" x2="477.7" y2="325.9" stroke="#6a6a6a" stroke-width="0.9"/><line x1="447.5" y1="290.0" x2="515.4" y2="290.0" stroke="#6a6a6a" stroke-width="0.9"/><path d="M447.5 259.1 H515.4 V325.9" fill="none" stroke="#8a8a8a" stroke-width="1.1"/><path d="M447.5 258.6 V325.9 H515.9" fill="none" stroke="#2a2a2a" stroke-width="1.1"/><g transform="translate(448.7 265.70000000000005) scale(0.92 1)"><text x="0" y="0" font-size="5.8" font-weight="bold" text-anchor="start" fill="#111" stroke="#111" stroke-width="0.32">1%</text></g><g transform="translate(497.09999999999997 265.70000000000005) scale(0.92 1)"><text x="0" y="0" font-size="5.8" font-weight="bold" text-anchor="middle" fill="#111" stroke="#111" stroke-width="0.32">2%</text></g><g transform="translate(448.7 318.4) scale(0.92 1)"><text x="0" y="0" font-size="5.8" font-weight="bold" text-anchor="start" fill="#111" stroke="#111" stroke-width="0.32">42%</text></g><g transform="translate(497.09999999999997 318.4) scale(0.92 1)"><text x="0" y="0" font-size="5.8" font-weight="bold" text-anchor="middle" fill="#111" stroke="#111" stroke-width="0.32">54%</text></g><text x="446.7" y="333.5" font-size="3.9" fill="#4a4a4a" text-anchor="middle">10<tspan font-size="2.81" dy="-1.6">0</tspan></text><text x="463.4" y="333.5" font-size="3.9" fill="#4a4a4a" text-anchor="middle">10<tspan font-size="2.81" dy="-1.6">1</tspan></text><text x="480.1" y="333.5" font-size="3.9" fill="#4a4a4a" text-anchor="middle">10<tspan font-size="2.81" dy="-1.6">2</tspan></text><text x="496.9" y="333.5" font-size="3.9" fill="#4a4a4a" text-anchor="middle">10<tspan font-size="2.81" dy="-1.6">3</tspan></text><text x="513.6" y="333.5" font-size="3.9" fill="#4a4a4a" text-anchor="middle">10<tspan font-size="2.81" dy="-1.6">4</tspan></text><text x="442.9" y="328.9" font-size="3.9" fill="#4a4a4a" text-anchor="middle">10<tspan font-size="2.81" dy="-1.6">0</tspan></text><text x="442.9" y="312.1" font-size="3.9" fill="#4a4a4a" text-anchor="middle">10<tspan font-size="2.81" dy="-1.6">1</tspan></text><text x="442.9" y="295.2" font-size="3.9" fill="#4a4a4a" text-anchor="middle">10<tspan font-size="2.81" dy="-1.6">2</tspan></text><text x="442.9" y="278.4" font-size="3.9" fill="#4a4a4a" text-anchor="middle">10<tspan font-size="2.81" dy="-1.6">3</tspan></text><text x="442.9" y="261.6" font-size="3.9" fill="#4a4a4a" text-anchor="middle">10<tspan font-size="2.81" dy="-1.6">4</tspan></text><g clip-path="url(#c20)"><g filter="url(#soft)"><ellipse cx="72" cy="421" rx="6.5" ry="14" transform="rotate(38 72 421)" fill="#cdd3da" opacity="0.45"/><path fill="#8e9aa6" fill-opacity="0.32" d="M65.3 418.3h0.8v0.8h-0.8zM67.8 419.9h0.8v0.8h-0.8zM63.4 427.7h0.8v0.8h-0.8zM80.4 409.1h0.8v0.8h-0.8zM68.3 426.2h0.8v0.8h-0.8zM73.9 429.9h0.8v0.8h-0.8zM74.1 412.3h0.8v0.8h-0.8zM65.0 430.7h0.8v0.8h-0.8zM67.7 428.5h0.8v0.8h-0.8zM66.4 421.9h0.8v0.8h-0.8zM70.5 415.9h0.8v0.8h-0.8zM73.2 413.6h0.8v0.8h-0.8zM88.7 399.0h0.8v0.8h-0.8zM75.6 413.0h0.8v0.8h-0.8zM73.6 427.3h0.8v0.8h-0.8zM72.4 420.0h0.8v0.8h-0.8zM82.1 400.8h0.8v0.8h-0.8zM70.8 425.8h0.8v0.8h-0.8zM81.6 400.5h0.8v0.8h-0.8zM75.3 412.2h0.8v0.8h-0.8zM79.2 410.6h0.8v0.8h-0.8zM71.7 431.4h0.8v0.8h-0.8zM64.5 427.1h0.8v0.8h-0.8zM67.5 426.5h0.8v0.8h-0.8zM77.5 415.5h0.8v0.8h-0.8zM76.4 412.5h0.8v0.8h-0.8zM63.3 430.5h0.8v0.8h-0.8zM82.4 418.4h0.8v0.8h-0.8zM67.7 431.8h0.8v0.8h-0.8zM69.2 425.2h0.8v0.8h-0.8zM64.6 428.9h0.8v0.8h-0.8zM72.1 417.4h0.8v0.8h-0.8zM78.1 401.2h0.8v0.8h-0.8zM80.6 406.2h0.8v0.8h-0.8zM81.8 401.2h0.8v0.8h-0.8zM67.2 421.7h0.8v0.8h-0.8zM73.6 426.1h0.8v0.8h-0.8zM73.1 415.8h0.8v0.8h-0.8zM68.3 430.2h0.8v0.8h-0.8zM76.2 416.2h0.8v0.8h-0.8zM73.7 417.0h0.8v0.8h-0.8zM78.7 411.6h0.8v0.8h-0.8zM76.0 413.9h0.8v0.8h-0.8zM70.6 424.7h0.8v0.8h-0.8zM67.6 432.6h0.8v0.8h-0.8zM75.7 418.2h0.8v0.8h-0.8zM84.8 403.3h0.8v0.8h-0.8zM74.7 411.2h0.8v0.8h-0.8zM72.7 431.3h0.8v0.8h-0.8zM76.9 411.4h0.8v0.8h-0.8zM70.2 414.5h0.8v0.8h-0.8zM70.6 424.5h0.8v0.8h-0.8zM72.8 411.7h0.8v0.8h-0.8zM75.6 405.7h0.8v0.8h-0.8zM78.3 405.9h0.8v0.8h-0.8zM82.8 401.4h0.8v0.8h-0.8zM80.8 405.4h0.8v0.8h-0.8zM71.9 416.7h0.8v0.8h-0.8zM78.2 416.8h0.8v0.8h-0.8zM86.4 396.4h0.8v0.8h-0.8zM70.2 419.1h0.8v0.8h-0.8zM72.1 419.9h0.8v0.8h-0.8zM81.4 410.3h0.8v0.8h-0.8zM72.7 423.5h0.8v0.8h-0.8zM67.3 415.1h0.8v0.8h-0.8zM71.1 426.4h0.8v0.8h-0.8zM76.4 413.9h0.8v0.8h-0.8zM79.1 400.8h0.8v0.8h-0.8zM78.4 407.2h0.8v0.8h-0.8zM62.8 429.7h0.8v0.8h-0.8zM83.2 401.0h0.8v0.8h-0.8zM73.3 417.2h0.8v0.8h-0.8zM75.4 414.7h0.8v0.8h-0.8zM78.8 410.5h0.8v0.8h-0.8zM65.1 429.0h0.8v0.8h-0.8zM64.4 429.2h0.8v0.8h-0.8zM70.0 423.6h0.8v0.8h-0.8zM81.4 400.1h0.8v0.8h-0.8zM66.7 430.2h0.8v0.8h-0.8zM74.2 410.3h0.8v0.8h-0.8zM79.9 408.1h0.8v0.8h-0.8zM77.2 421.1h0.8v0.8h-0.8zM68.9 427.3h0.8v0.8h-0.8zM70.9 415.5h0.8v0.8h-0.8zM78.1 407.2h0.8v0.8h-0.8zM77.1 415.0h0.8v0.8h-0.8zM70.9 428.3h0.8v0.8h-0.8zM77.6 412.9h0.8v0.8h-0.8zM68.7 420.8h0.8v0.8h-0.8zM74.7 412.2h0.8v0.8h-0.8zM79.3 407.3h0.8v0.8h-0.8zM81.1 400.6h0.8v0.8h-0.8zM67.0 416.4h0.8v0.8h-0.8zM64.7 420.6h0.8v0.8h-0.8zM81.5 406.7h0.8v0.8h-0.8zM76.7 417.4h0.8v0.8h-0.8zM75.8 403.6h0.8v0.8h-0.8zM74.8 423.0h0.8v0.8h-0.8zM77.3 399.0h0.8v0.8h-0.8zM74.4 421.8h0.8v0.8h-0.8zM72.7 425.1h0.8v0.8h-0.8zM73.8 414.1h0.8v0.8h-0.8zM66.5 429.9h0.8v0.8h-0.8zM79.7 409.7h0.8v0.8h-0.8zM79.3 409.2h0.8v0.8h-0.8zM71.8 413.4h0.8v0.8h-0.8zM79.4 411.0h0.8v0.8h-0.8zM83.6 402.2h0.8v0.8h-0.8zM71.7 422.0h0.8v0.8h-0.8zM69.4 413.2h0.8v0.8h-0.8zM72.4 419.1h0.8v0.8h-0.8zM81.1 404.7h0.8v0.8h-0.8zM83.1 404.9h0.8v0.8h-0.8zM74.9 419.4h0.8v0.8h-0.8zM71.9 418.4h0.8v0.8h-0.8zM79.3 400.1h0.8v0.8h-0.8zM75.2 406.4h0.8v0.8h-0.8zM79.5 413.2h0.8v0.8h-0.8zM77.5 420.1h0.8v0.8h-0.8zM67.2 426.1h0.8v0.8h-0.8zM73.9 415.9h0.8v0.8h-0.8zM71.2 421.2h0.8v0.8h-0.8zM76.1 414.1h0.8v0.8h-0.8zM79.9 408.7h0.8v0.8h-0.8zM67.1 424.9h0.8v0.8h-0.8zM69.0 422.6h0.8v0.8h-0.8zM79.5 412.5h0.8v0.8h-0.8zM69.6 429.4h0.8v0.8h-0.8zM69.1 422.9h0.8v0.8h-0.8zM74.1 419.3h0.8v0.8h-0.8zM72.6 411.8h0.8v0.8h-0.8zM75.1 402.1h0.8v0.8h-0.8zM67.9 422.1h0.8v0.8h-0.8zM79.7 405.3h0.8v0.8h-0.8zM83.3 411.5h0.8v0.8h-0.8zM81.9 405.4h0.8v0.8h-0.8zM76.8 411.7h0.8v0.8h-0.8zM74.5 408.4h0.8v0.8h-0.8zM63.2 431.5h0.8v0.8h-0.8zM82.4 402.6h0.8v0.8h-0.8zM72.7 415.6h0.8v0.8h-0.8zM76.5 413.1h0.8v0.8h-0.8zM70.4 430.4h0.8v0.8h-0.8zM71.2 417.8h0.8v0.8h-0.8zM69.2 432.8h0.8v0.8h-0.8zM84.0 398.9h0.8v0.8h-0.8zM69.5 429.5h0.8v0.8h-0.8zM76.1 411.6h0.8v0.8h-0.8zM69.0 419.9h0.8v0.8h-0.8zM64.3 426.1h0.8v0.8h-0.8zM62.8 429.3h0.8v0.8h-0.8zM71.4 423.4h0.8v0.8h-0.8zM79.0 419.0h0.8v0.8h-0.8zM76.8 402.6h0.8v0.8h-0.8zM71.5 416.3h0.8v0.8h-0.8zM77.9 418.2h0.8v0.8h-0.8zM72.8 423.9h0.8v0.8h-0.8zM79.2 406.0h0.8v0.8h-0.8zM84.0 400.8h0.8v0.8h-0.8zM78.0 406.3h0.8v0.8h-0.8zM79.3 411.7h0.8v0.8h-0.8zM74.7 420.1h0.8v0.8h-0.8zM73.5 412.6h0.8v0.8h-0.8zM80.3 399.4h0.8v0.8h-0.8zM72.1 411.8h0.8v0.8h-0.8zM74.8 422.4h0.8v0.8h-0.8zM77.0 404.3h0.8v0.8h-0.8zM62.4 428.0h0.8v0.8h-0.8zM67.7 426.7h0.8v0.8h-0.8zM66.8 428.6h0.8v0.8h-0.8zM71.6 424.5h0.8v0.8h-0.8zM76.4 417.9h0.8v0.8h-0.8zM79.3 395.6h0.8v0.8h-0.8zM62.3 427.6h0.8v0.8h-0.8zM67.8 429.9h0.8v0.8h-0.8zM73.6 422.5h0.8v0.8h-0.8zM81.3 417.2h0.8v0.8h-0.8zM67.1 420.9h0.8v0.8h-0.8zM69.2 426.9h0.8v0.8h-0.8zM72.6 420.8h0.8v0.8h-0.8zM71.3 425.3h0.8v0.8h-0.8zM74.5 419.8h0.8v0.8h-0.8zM73.5 430.1h0.8v0.8h-0.8zM69.1 428.6h0.8v0.8h-0.8zM74.3 419.3h0.8v0.8h-0.8zM77.3 416.5h0.8v0.8h-0.8zM77.4 419.3h0.8v0.8h-0.8zM77.5 417.6h0.8v0.8h-0.8zM71.9 421.2h0.8v0.8h-0.8zM75.3 419.9h0.8v0.8h-0.8zM73.4 413.4h0.8v0.8h-0.8zM69.4 418.2h0.8v0.8h-0.8zM80.4 417.7h0.8v0.8h-0.8zM77.1 411.5h0.8v0.8h-0.8zM81.4 400.1h0.8v0.8h-0.8zM69.4 427.3h0.8v0.8h-0.8zM70.1 414.6h0.8v0.8h-0.8zM78.3 411.3h0.8v0.8h-0.8zM87.8 397.2h0.8v0.8h-0.8zM68.4 431.4h0.8v0.8h-0.8zM70.1 420.5h0.8v0.8h-0.8zM74.4 417.9h0.8v0.8h-0.8zM71.8 411.3h0.8v0.8h-0.8zM68.2 423.2h0.8v0.8h-0.8zM69.6 418.9h0.8v0.8h-0.8zM70.4 433.4h0.8v0.8h-0.8zM75.0 412.7h0.8v0.8h-0.8zM70.8 426.1h0.8v0.8h-0.8zM65.1 416.6h0.8v0.8h-0.8zM64.8 423.1h0.8v0.8h-0.8zM78.6 403.6h0.8v0.8h-0.8zM67.5 429.0h0.8v0.8h-0.8zM63.3 428.8h0.8v0.8h-0.8zM74.4 416.4h0.8v0.8h-0.8zM75.9 413.2h0.8v0.8h-0.8zM69.6 421.0h0.8v0.8h-0.8zM65.9 426.1h0.8v0.8h-0.8zM87.3 400.5h0.8v0.8h-0.8zM72.2 418.8h0.8v0.8h-0.8zM63.8 428.2h0.8v0.8h-0.8zM80.6 406.1h0.8v0.8h-0.8zM68.2 425.2h0.8v0.8h-0.8zM71.8 425.7h0.8v0.8h-0.8zM72.9 406.5h0.8v0.8h-0.8zM75.9 420.6h0.8v0.8h-0.8zM80.1 404.7h0.8v0.8h-0.8zM69.0 417.4h0.8v0.8h-0.8zM79.1 396.7h0.8v0.8h-0.8zM61.3 429.0h0.8v0.8h-0.8zM70.8 432.1h0.8v0.8h-0.8zM84.3 405.3h0.8v0.8h-0.8zM67.0 425.1h0.8v0.8h-0.8zM69.3 430.9h0.8v0.8h-0.8zM73.1 415.5h0.8v0.8h-0.8zM74.1 423.2h0.8v0.8h-0.8zM67.7 418.1h0.8v0.8h-0.8zM79.1 409.9h0.8v0.8h-0.8zM76.1 402.1h0.8v0.8h-0.8zM81.7 402.6h0.8v0.8h-0.8zM79.7 398.4h0.8v0.8h-0.8zM77.5 408.6h0.8v0.8h-0.8zM74.0 424.9h0.8v0.8h-0.8zM81.5 400.5h0.8v0.8h-0.8zM65.6 428.5h0.8v0.8h-0.8zM84.7 401.2h0.8v0.8h-0.8zM63.7 425.8h0.8v0.8h-0.8zM70.6 429.2h0.8v0.8h-0.8zM74.7 415.5h0.8v0.8h-0.8zM67.6 431.2h0.8v0.8h-0.8zM67.4 423.4h0.8v0.8h-0.8zM69.1 429.0h0.8v0.8h-0.8zM67.6 426.0h0.8v0.8h-0.8zM74.7 414.5h0.8v0.8h-0.8zM73.6 422.4h0.8v0.8h-0.8zM62.6 422.0h0.8v0.8h-0.8zM72.3 420.3h0.8v0.8h-0.8zM82.7 398.9h0.8v0.8h-0.8zM70.6 417.7h0.8v0.8h-0.8zM81.6 397.8h0.8v0.8h-0.8zM63.2 431.4h0.8v0.8h-0.8zM77.4 404.3h0.8v0.8h-0.8zM68.7 430.5h0.8v0.8h-0.8zM71.0 423.9h0.8v0.8h-0.8zM77.4 413.9h0.8v0.8h-0.8zM76.1 421.3h0.8v0.8h-0.8zM68.5 426.5h0.8v0.8h-0.8zM81.0 407.7h0.8v0.8h-0.8zM79.5 412.6h0.8v0.8h-0.8zM75.7 419.0h0.8v0.8h-0.8zM78.0 409.5h0.8v0.8h-0.8zM72.1 421.0h0.8v0.8h-0.8zM80.0 409.6h0.8v0.8h-0.8zM76.0 422.1h0.8v0.8h-0.8zM68.9 425.7h0.8v0.8h-0.8zM64.6 425.8h0.8v0.8h-0.8zM69.5 422.2h0.8v0.8h-0.8zM63.0 423.9h0.8v0.8h-0.8zM78.8 406.0h0.8v0.8h-0.8zM69.8 421.0h0.8v0.8h-0.8zM73.2 416.7h0.8v0.8h-0.8zM83.4 397.7h0.8v0.8h-0.8zM73.9 417.2h0.8v0.8h-0.8zM72.4 419.8h0.8v0.8h-0.8zM69.4 420.6h0.8v0.8h-0.8zM67.5 425.3h0.8v0.8h-0.8zM77.3 399.8h0.8v0.8h-0.8zM70.2 423.2h0.8v0.8h-0.8zM70.8 431.1h0.8v0.8h-0.8zM77.8 413.6h0.8v0.8h-0.8zM78.2 405.4h0.8v0.8h-0.8zM69.0 428.1h0.8v0.8h-0.8zM76.9 424.5h0.8v0.8h-0.8zM66.8 421.0h0.8v0.8h-0.8zM79.0 406.6h0.8v0.8h-0.8zM69.2 424.4h0.8v0.8h-0.8zM68.1 415.1h0.8v0.8h-0.8zM76.0 405.0h0.8v0.8h-0.8zM64.7 433.0h0.8v0.8h-0.8zM77.6 415.0h0.8v0.8h-0.8zM74.0 413.8h0.8v0.8h-0.8zM77.3 418.6h0.8v0.8h-0.8zM78.1 402.5h0.8v0.8h-0.8zM75.4 422.1h0.8v0.8h-0.8zM78.0 399.2h0.8v0.8h-0.8zM81.6 412.0h0.8v0.8h-0.8zM75.2 415.4h0.8v0.8h-0.8zM64.3 424.7h0.8v0.8h-0.8zM72.2 423.2h0.8v0.8h-0.8zM77.5 425.0h0.8v0.8h-0.8zM70.1 427.2h0.8v0.8h-0.8zM71.4 416.0h0.8v0.8h-0.8zM86.4 402.7h0.8v0.8h-0.8zM78.4 418.7h0.8v0.8h-0.8zM70.8 424.2h0.8v0.8h-0.8zM74.7 414.8h0.8v0.8h-0.8zM74.0 417.5h0.8v0.8h-0.8zM74.6 427.6h0.8v0.8h-0.8zM73.9 416.8h0.8v0.8h-0.8zM74.1 412.5h0.8v0.8h-0.8zM80.5 407.6h0.8v0.8h-0.8zM73.7 422.0h0.8v0.8h-0.8zM75.4 419.2h0.8v0.8h-0.8zM66.2 425.1h0.8v0.8h-0.8zM79.5 414.7h0.8v0.8h-0.8zM71.1 428.0h0.8v0.8h-0.8zM68.3 421.8h0.8v0.8h-0.8zM76.4 407.7h0.8v0.8h-0.8zM77.9 419.2h0.8v0.8h-0.8zM77.0 406.8h0.8v0.8h-0.8zM76.7 414.8h0.8v0.8h-0.8zM67.0 420.3h0.8v0.8h-0.8zM74.0 425.9h0.8v0.8h-0.8zM80.2 399.9h0.8v0.8h-0.8zM76.0 412.8h0.8v0.8h-0.8zM68.7 432.2h0.8v0.8h-0.8zM71.7 419.3h0.8v0.8h-0.8zM74.0 411.5h0.8v0.8h-0.8zM67.5 426.1h0.8v0.8h-0.8zM73.0 426.7h0.8v0.8h-0.8zM77.7 410.9h0.8v0.8h-0.8zM79.4 411.6h0.8v0.8h-0.8zM74.8 415.9h0.8v0.8h-0.8zM80.9 410.2h0.8v0.8h-0.8zM84.1 401.2h0.8v0.8h-0.8zM68.7 425.9h0.8v0.8h-0.8zM81.8 401.2h0.8v0.8h-0.8zM69.2 423.0h0.8v0.8h-0.8zM68.2 429.4h0.8v0.8h-0.8zM80.0 416.0h0.8v0.8h-0.8zM72.6 421.9h0.8v0.8h-0.8zM82.8 401.4h0.8v0.8h-0.8zM77.2 408.4h0.8v0.8h-0.8zM74.6 422.4h0.8v0.8h-0.8zM66.5 426.3h0.8v0.8h-0.8zM81.6 404.6h0.8v0.8h-0.8zM74.4 415.7h0.8v0.8h-0.8zM79.6 403.3h0.8v0.8h-0.8zM79.2 410.7h0.8v0.8h-0.8zM66.9 432.3h0.8v0.8h-0.8zM77.2 412.7h0.8v0.8h-0.8zM65.5 422.8h0.8v0.8h-0.8zM67.0 418.4h0.8v0.8h-0.8zM74.5 417.9h0.8v0.8h-0.8zM80.1 400.4h0.8v0.8h-0.8zM82.3 417.8h0.8v0.8h-0.8zM67.8 420.3h0.8v0.8h-0.8zM64.2 429.3h0.8v0.8h-0.8zM68.9 425.3h0.8v0.8h-0.8zM69.0 423.5h0.8v0.8h-0.8zM67.0 425.1h0.8v0.8h-0.8zM81.4 403.5h0.8v0.8h-0.8zM71.8 417.6h0.8v0.8h-0.8zM79.5 402.1h0.8v0.8h-0.8zM71.7 415.0h0.8v0.8h-0.8zM76.2 410.1h0.8v0.8h-0.8zM75.1 415.4h0.8v0.8h-0.8zM74.6 417.7h0.8v0.8h-0.8zM80.1 411.5h0.8v0.8h-0.8zM63.4 428.4h0.8v0.8h-0.8zM78.7 406.3h0.8v0.8h-0.8zM73.0 422.6h0.8v0.8h-0.8zM76.4 419.7h0.8v0.8h-0.8zM71.2 408.7h0.8v0.8h-0.8zM67.9 428.5h0.8v0.8h-0.8zM69.4 420.1h0.8v0.8h-0.8zM69.0 425.1h0.8v0.8h-0.8zM77.4 401.7h0.8v0.8h-0.8zM78.4 409.4h0.8v0.8h-0.8zM71.8 425.4h0.8v0.8h-0.8zM72.4 414.2h0.8v0.8h-0.8zM78.8 418.3h0.8v0.8h-0.8zM67.4 429.8h0.8v0.8h-0.8zM78.7 407.9h0.8v0.8h-0.8zM63.9 431.7h0.8v0.8h-0.8zM68.9 427.1h0.8v0.8h-0.8zM72.9 411.6h0.8v0.8h-0.8zM62.4 430.1h0.8v0.8h-0.8zM65.1 430.3h0.8v0.8h-0.8zM71.8 421.7h0.8v0.8h-0.8zM83.3 395.0h0.8v0.8h-0.8zM68.1 430.2h0.8v0.8h-0.8zM61.6 428.1h0.8v0.8h-0.8zM65.7 429.5h0.8v0.8h-0.8zM77.5 415.6h0.8v0.8h-0.8zM77.9 414.4h0.8v0.8h-0.8zM78.8 409.2h0.8v0.8h-0.8zM77.4 404.6h0.8v0.8h-0.8zM75.5 408.9h0.8v0.8h-0.8zM66.9 428.6h0.8v0.8h-0.8zM74.4 418.7h0.8v0.8h-0.8zM65.4 427.7h0.8v0.8h-0.8zM76.0 420.5h0.8v0.8h-0.8zM80.7 407.4h0.8v0.8h-0.8zM65.4 427.9h0.8v0.8h-0.8zM70.7 426.0h0.8v0.8h-0.8zM63.3 429.8h0.8v0.8h-0.8zM76.3 413.4h0.8v0.8h-0.8zM69.8 427.7h0.8v0.8h-0.8zM76.6 403.4h0.8v0.8h-0.8zM64.8 433.2h0.8v0.8h-0.8zM68.5 428.5h0.8v0.8h-0.8zM76.8 408.7h0.8v0.8h-0.8zM70.7 423.1h0.8v0.8h-0.8zM66.6 428.4h0.8v0.8h-0.8zM66.0 426.2h0.8v0.8h-0.8zM66.4 427.1h0.8v0.8h-0.8zM76.0 409.3h0.8v0.8h-0.8zM66.9 431.6h0.8v0.8h-0.8zM66.3 425.4h0.8v0.8h-0.8zM67.4 429.3h0.8v0.8h-0.8zM68.6 427.4h0.8v0.8h-0.8zM69.9 412.3h0.8v0.8h-0.8zM81.1 403.8h0.8v0.8h-0.8zM82.1 406.5h0.8v0.8h-0.8zM81.4 411.4h0.8v0.8h-0.8zM67.4 426.0h0.8v0.8h-0.8zM70.4 421.8h0.8v0.8h-0.8zM68.8 425.3h0.8v0.8h-0.8zM70.5 427.8h0.8v0.8h-0.8zM74.2 423.0h0.8v0.8h-0.8zM70.6 428.0h0.8v0.8h-0.8zM73.4 424.2h0.8v0.8h-0.8zM71.9 410.2h0.8v0.8h-0.8zM63.9 432.4h0.8v0.8h-0.8zM65.5 430.8h0.8v0.8h-0.8zM69.5 417.5h0.8v0.8h-0.8zM69.5 424.9h0.8v0.8h-0.8zM72.9 421.6h0.8v0.8h-0.8zM67.7 424.6h0.8v0.8h-0.8zM66.3 415.6h0.8v0.8h-0.8zM63.7 420.4h0.8v0.8h-0.8zM74.9 406.1h0.8v0.8h-0.8zM68.8 422.8h0.8v0.8h-0.8zM81.2 404.6h0.8v0.8h-0.8zM82.5 403.3h0.8v0.8h-0.8zM71.5 420.9h0.8v0.8h-0.8zM83.6 401.4h0.8v0.8h-0.8zM67.2 425.2h0.8v0.8h-0.8zM63.1 430.3h0.8v0.8h-0.8zM64.0 426.8h0.8v0.8h-0.8zM70.6 414.9h0.8v0.8h-0.8zM81.8 405.8h0.8v0.8h-0.8zM71.8 422.3h0.8v0.8h-0.8zM75.1 407.2h0.8v0.8h-0.8zM82.9 399.2h0.8v0.8h-0.8zM70.9 414.7h0.8v0.8h-0.8zM69.1 427.3h0.8v0.8h-0.8zM73.2 419.7h0.8v0.8h-0.8zM71.1 427.2h0.8v0.8h-0.8zM68.0 429.6h0.8v0.8h-0.8zM66.3 428.5h0.8v0.8h-0.8zM72.1 417.5h0.8v0.8h-0.8zM71.4 424.6h0.8v0.8h-0.8zM74.7 410.3h0.8v0.8h-0.8zM67.9 424.1h0.8v0.8h-0.8zM70.0 419.1h0.8v0.8h-0.8zM76.2 405.3h0.8v0.8h-0.8zM72.4 407.9h0.8v0.8h-0.8zM80.5 409.3h0.8v0.8h-0.8zM75.9 414.4h0.8v0.8h-0.8zM59.9 427.8h0.8v0.8h-0.8zM85.4 403.3h0.8v0.8h-0.8zM69.0 419.6h0.8v0.8h-0.8zM82.4 401.9h0.8v0.8h-0.8zM77.2 411.6h0.8v0.8h-0.8zM67.8 417.2h0.8v0.8h-0.8zM66.5 429.9h0.8v0.8h-0.8zM70.3 417.7h0.8v0.8h-0.8zM71.1 420.1h0.8v0.8h-0.8zM65.7 427.8h0.8v0.8h-0.8zM80.6 408.7h0.8v0.8h-0.8zM71.0 410.5h0.8v0.8h-0.8zM67.8 429.9h0.8v0.8h-0.8zM81.4 404.9h0.8v0.8h-0.8zM66.6 429.8h0.8v0.8h-0.8zM76.3 419.4h0.8v0.8h-0.8zM69.3 428.7h0.8v0.8h-0.8zM70.1 424.0h0.8v0.8h-0.8zM68.4 428.9h0.8v0.8h-0.8zM67.9 432.8h0.8v0.8h-0.8zM84.7 404.1h0.8v0.8h-0.8zM67.5 421.8h0.8v0.8h-0.8zM74.2 423.4h0.8v0.8h-0.8zM73.7 411.8h0.8v0.8h-0.8zM87.9 395.4h0.8v0.8h-0.8zM73.9 417.1h0.8v0.8h-0.8zM69.3 428.5h0.8v0.8h-0.8zM69.4 430.5h0.8v0.8h-0.8zM76.1 412.4h0.8v0.8h-0.8zM60.6 430.1h0.8v0.8h-0.8zM78.0 405.3h0.8v0.8h-0.8zM80.9 403.5h0.8v0.8h-0.8zM88.6 403.4h0.8v0.8h-0.8zM70.1 420.2h0.8v0.8h-0.8zM84.8 403.5h0.8v0.8h-0.8zM65.9 428.6h0.8v0.8h-0.8zM76.5 410.9h0.8v0.8h-0.8zM73.6 415.6h0.8v0.8h-0.8zM80.2 404.2h0.8v0.8h-0.8zM69.6 422.3h0.8v0.8h-0.8zM72.9 408.8h0.8v0.8h-0.8zM68.8 429.1h0.8v0.8h-0.8zM69.5 423.8h0.8v0.8h-0.8zM70.3 420.1h0.8v0.8h-0.8zM75.1 417.1h0.8v0.8h-0.8zM78.1 408.2h0.8v0.8h-0.8zM69.9 429.4h0.8v0.8h-0.8zM82.7 403.3h0.8v0.8h-0.8zM77.5 413.2h0.8v0.8h-0.8zM78.4 411.7h0.8v0.8h-0.8zM65.2 426.9h0.8v0.8h-0.8zM76.2 417.2h0.8v0.8h-0.8zM83.0 401.0h0.8v0.8h-0.8zM71.2 418.2h0.8v0.8h-0.8zM78.0 403.4h0.8v0.8h-0.8zM73.0 414.2h0.8v0.8h-0.8zM65.0 424.9h0.8v0.8h-0.8zM76.8 419.1h0.8v0.8h-0.8zM68.1 418.7h0.8v0.8h-0.8zM83.3 404.4h0.8v0.8h-0.8zM82.6 397.1h0.8v0.8h-0.8zM80.1 410.0h0.8v0.8h-0.8zM86.3 410.4h0.8v0.8h-0.8zM72.9 424.1h0.8v0.8h-0.8zM80.5 411.7h0.8v0.8h-0.8zM68.9 407.1h0.8v0.8h-0.8zM69.6 427.3h0.8v0.8h-0.8zM69.6 423.7h0.8v0.8h-0.8zM74.4 416.3h0.8v0.8h-0.8zM68.1 424.8h0.8v0.8h-0.8zM74.3 414.0h0.8v0.8h-0.8zM70.2 421.8h0.8v0.8h-0.8zM71.6 407.1h0.8v0.8h-0.8zM80.0 409.7h0.8v0.8h-0.8zM69.4 430.3h0.8v0.8h-0.8zM80.6 403.8h0.8v0.8h-0.8zM63.1 431.3h0.8v0.8h-0.8zM75.6 414.1h0.8v0.8h-0.8zM83.8 403.1h0.8v0.8h-0.8zM79.9 402.7h0.8v0.8h-0.8zM75.2 413.0h0.8v0.8h-0.8zM68.1 427.3h0.8v0.8h-0.8zM65.2 423.2h0.8v0.8h-0.8zM70.7 431.0h0.8v0.8h-0.8zM72.9 420.9h0.8v0.8h-0.8zM79.4 400.1h0.8v0.8h-0.8zM72.3 427.6h0.8v0.8h-0.8zM75.4 411.9h0.8v0.8h-0.8zM73.4 424.8h0.8v0.8h-0.8zM72.4 418.9h0.8v0.8h-0.8zM64.5 420.1h0.8v0.8h-0.8zM69.2 421.9h0.8v0.8h-0.8zM72.6 421.3h0.8v0.8h-0.8zM71.7 422.3h0.8v0.8h-0.8zM74.4 419.3h0.8v0.8h-0.8zM74.6 408.2h0.8v0.8h-0.8zM64.2 431.3h0.8v0.8h-0.8zM73.8 420.2h0.8v0.8h-0.8zM75.2 410.1h0.8v0.8h-0.8zM75.2 425.8h0.8v0.8h-0.8zM66.1 427.5h0.8v0.8h-0.8zM81.3 403.9h0.8v0.8h-0.8zM78.5 420.5h0.8v0.8h-0.8zM64.7 431.8h0.8v0.8h-0.8zM75.5 408.6h0.8v0.8h-0.8zM81.2 403.3h0.8v0.8h-0.8zM72.2 414.6h0.8v0.8h-0.8zM70.0 423.6h0.8v0.8h-0.8zM82.5 413.8h0.8v0.8h-0.8zM78.4 402.3h0.8v0.8h-0.8zM72.1 404.9h0.8v0.8h-0.8zM63.4 430.9h0.8v0.8h-0.8zM77.2 421.0h0.8v0.8h-0.8zM66.8 428.5h0.8v0.8h-0.8zM70.6 421.2h0.8v0.8h-0.8zM64.9 425.5h0.8v0.8h-0.8zM77.1 414.7h0.8v0.8h-0.8zM77.2 409.1h0.8v0.8h-0.8zM77.8 420.4h0.8v0.8h-0.8zM82.2 401.1h0.8v0.8h-0.8zM66.3 422.9h0.8v0.8h-0.8zM67.4 427.4h0.8v0.8h-0.8zM75.3 421.0h0.8v0.8h-0.8zM70.0 430.8h0.8v0.8h-0.8zM69.5 423.3h0.8v0.8h-0.8zM72.9 422.3h0.8v0.8h-0.8zM68.5 419.5h0.8v0.8h-0.8zM84.2 408.6h0.8v0.8h-0.8zM70.8 428.1h0.8v0.8h-0.8zM66.3 418.6h0.8v0.8h-0.8zM81.8 400.8h0.8v0.8h-0.8zM69.3 424.8h0.8v0.8h-0.8zM78.6 413.8h0.8v0.8h-0.8zM68.1 432.2h0.8v0.8h-0.8zM78.6 396.6h0.8v0.8h-0.8zM65.2 431.1h0.8v0.8h-0.8zM73.7 429.9h0.8v0.8h-0.8zM65.2 424.5h0.8v0.8h-0.8zM84.0 402.8h0.8v0.8h-0.8zM74.9 417.4h0.8v0.8h-0.8zM69.0 423.1h0.8v0.8h-0.8zM67.1 424.4h0.8v0.8h-0.8zM67.1 424.6h0.8v0.8h-0.8zM66.8 429.7h0.8v0.8h-0.8zM70.1 417.1h0.8v0.8h-0.8zM70.4 428.6h0.8v0.8h-0.8zM67.2 424.9h0.8v0.8h-0.8zM77.0 409.7h0.8v0.8h-0.8zM71.2 421.9h0.8v0.8h-0.8zM77.0 415.0h0.8v0.8h-0.8zM72.6 417.0h0.8v0.8h-0.8zM72.3 413.8h0.8v0.8h-0.8zM67.4 418.5h0.8v0.8h-0.8zM68.2 431.6h0.8v0.8h-0.8zM69.6 423.3h0.8v0.8h-0.8zM77.8 406.3h0.8v0.8h-0.8zM83.3 416.2h0.8v0.8h-0.8zM77.9 408.3h0.8v0.8h-0.8zM79.9 403.2h0.8v0.8h-0.8z"/><path d="M86.3 388 C88 394 88.8 402 88.3 410 C87.8 416 86 421 84 422.5 C82.2 421 81.2 416 81.6 410 C82.2 400 84.5 393 86.3 388 Z" fill="url(#gG2)"/><path fill="#5cb440" fill-opacity="0.55" d="M85.9 389.3h0.8v0.8h-0.8zM83.8 411.0h0.8v0.8h-0.8zM86.8 408.7h0.8v0.8h-0.8zM85.6 387.1h0.8v0.8h-0.8zM83.8 420.2h0.8v0.8h-0.8zM85.4 385.8h0.8v0.8h-0.8zM81.8 414.4h0.8v0.8h-0.8zM84.6 421.5h0.8v0.8h-0.8zM85.8 419.7h0.8v0.8h-0.8zM86.1 405.0h0.8v0.8h-0.8zM82.7 414.9h0.8v0.8h-0.8zM86.0 404.9h0.8v0.8h-0.8zM85.0 392.4h0.8v0.8h-0.8zM87.1 390.1h0.8v0.8h-0.8zM86.4 392.3h0.8v0.8h-0.8zM82.3 408.6h0.8v0.8h-0.8zM86.3 392.2h0.8v0.8h-0.8zM84.4 420.7h0.8v0.8h-0.8zM85.6 409.0h0.8v0.8h-0.8zM84.3 404.1h0.8v0.8h-0.8zM85.0 408.2h0.8v0.8h-0.8zM83.3 418.4h0.8v0.8h-0.8zM86.5 406.1h0.8v0.8h-0.8zM85.3 402.8h0.8v0.8h-0.8zM86.1 412.5h0.8v0.8h-0.8zM83.3 413.0h0.8v0.8h-0.8zM85.1 403.2h0.8v0.8h-0.8zM83.3 414.6h0.8v0.8h-0.8zM84.9 394.6h0.8v0.8h-0.8zM84.5 401.7h0.8v0.8h-0.8zM84.6 394.5h0.8v0.8h-0.8zM86.5 407.7h0.8v0.8h-0.8zM82.2 403.2h0.8v0.8h-0.8zM83.7 402.1h0.8v0.8h-0.8zM79.6 409.7h0.8v0.8h-0.8zM85.6 401.0h0.8v0.8h-0.8zM84.4 413.2h0.8v0.8h-0.8zM85.5 414.2h0.8v0.8h-0.8zM84.5 409.4h0.8v0.8h-0.8zM84.6 417.0h0.8v0.8h-0.8zM84.6 402.8h0.8v0.8h-0.8zM82.5 410.8h0.8v0.8h-0.8zM88.3 408.9h0.8v0.8h-0.8zM84.2 405.5h0.8v0.8h-0.8zM85.0 406.6h0.8v0.8h-0.8zM87.3 391.7h0.8v0.8h-0.8zM85.4 400.2h0.8v0.8h-0.8zM83.8 413.3h0.8v0.8h-0.8zM83.0 409.2h0.8v0.8h-0.8zM85.3 394.0h0.8v0.8h-0.8zM83.9 420.6h0.8v0.8h-0.8zM84.1 391.5h0.8v0.8h-0.8zM84.3 415.8h0.8v0.8h-0.8zM85.7 408.1h0.8v0.8h-0.8zM86.6 410.5h0.8v0.8h-0.8zM86.5 409.7h0.8v0.8h-0.8zM85.6 419.2h0.8v0.8h-0.8zM83.9 402.3h0.8v0.8h-0.8zM83.5 420.6h0.8v0.8h-0.8zM82.4 418.0h0.8v0.8h-0.8zM84.0 414.1h0.8v0.8h-0.8zM86.5 387.0h0.8v0.8h-0.8zM84.5 408.2h0.8v0.8h-0.8zM86.4 398.2h0.8v0.8h-0.8zM84.8 393.1h0.8v0.8h-0.8zM85.3 399.4h0.8v0.8h-0.8zM82.4 399.1h0.8v0.8h-0.8zM85.4 394.4h0.8v0.8h-0.8zM85.4 418.0h0.8v0.8h-0.8zM82.7 408.4h0.8v0.8h-0.8zM81.6 414.3h0.8v0.8h-0.8zM83.3 419.7h0.8v0.8h-0.8zM84.0 415.6h0.8v0.8h-0.8zM84.2 420.2h0.8v0.8h-0.8zM85.2 402.3h0.8v0.8h-0.8zM83.6 405.4h0.8v0.8h-0.8zM84.5 402.6h0.8v0.8h-0.8zM80.6 407.2h0.8v0.8h-0.8zM83.8 409.1h0.8v0.8h-0.8zM84.5 420.6h0.8v0.8h-0.8zM87.0 392.1h0.8v0.8h-0.8zM85.4 390.1h0.8v0.8h-0.8zM85.1 419.2h0.8v0.8h-0.8zM86.4 392.5h0.8v0.8h-0.8zM82.7 421.7h0.8v0.8h-0.8zM87.4 389.6h0.8v0.8h-0.8zM84.7 412.3h0.8v0.8h-0.8zM84.7 409.3h0.8v0.8h-0.8zM82.6 421.5h0.8v0.8h-0.8zM80.8 415.9h0.8v0.8h-0.8zM86.5 407.7h0.8v0.8h-0.8zM86.1 395.4h0.8v0.8h-0.8zM83.4 407.9h0.8v0.8h-0.8zM86.6 396.0h0.8v0.8h-0.8zM82.4 413.5h0.8v0.8h-0.8zM86.3 390.5h0.8v0.8h-0.8zM80.5 406.6h0.8v0.8h-0.8zM82.9 409.0h0.8v0.8h-0.8zM85.3 393.2h0.8v0.8h-0.8zM85.8 413.4h0.8v0.8h-0.8zM86.9 420.3h0.8v0.8h-0.8zM83.3 419.9h0.8v0.8h-0.8zM84.2 418.0h0.8v0.8h-0.8zM84.5 406.7h0.8v0.8h-0.8zM83.5 409.9h0.8v0.8h-0.8zM82.2 410.6h0.8v0.8h-0.8zM85.1 420.1h0.8v0.8h-0.8zM84.5 420.9h0.8v0.8h-0.8zM87.1 387.8h0.8v0.8h-0.8zM85.4 420.8h0.8v0.8h-0.8zM87.2 387.3h0.8v0.8h-0.8zM84.9 413.0h0.8v0.8h-0.8zM82.1 407.6h0.8v0.8h-0.8zM82.5 416.5h0.8v0.8h-0.8zM87.0 385.2h0.8v0.8h-0.8zM84.6 421.3h0.8v0.8h-0.8zM82.6 417.3h0.8v0.8h-0.8zM85.8 401.7h0.8v0.8h-0.8zM86.1 386.6h0.8v0.8h-0.8zM83.1 409.8h0.8v0.8h-0.8zM83.3 407.9h0.8v0.8h-0.8zM86.9 405.5h0.8v0.8h-0.8zM85.9 397.5h0.8v0.8h-0.8zM85.1 393.9h0.8v0.8h-0.8zM82.9 398.2h0.8v0.8h-0.8zM85.4 401.2h0.8v0.8h-0.8zM84.7 397.6h0.8v0.8h-0.8zM83.5 407.7h0.8v0.8h-0.8zM85.9 398.3h0.8v0.8h-0.8zM84.8 397.4h0.8v0.8h-0.8zM84.0 400.1h0.8v0.8h-0.8zM86.8 412.5h0.8v0.8h-0.8zM83.3 416.0h0.8v0.8h-0.8zM83.9 415.2h0.8v0.8h-0.8zM85.6 397.9h0.8v0.8h-0.8zM84.9 421.7h0.8v0.8h-0.8zM82.9 402.6h0.8v0.8h-0.8zM85.9 421.7h0.8v0.8h-0.8zM86.7 403.2h0.8v0.8h-0.8zM86.4 415.8h0.8v0.8h-0.8zM85.4 401.4h0.8v0.8h-0.8zM83.9 399.5h0.8v0.8h-0.8zM84.3 410.0h0.8v0.8h-0.8zM81.9 416.8h0.8v0.8h-0.8zM85.5 386.5h0.8v0.8h-0.8zM85.9 389.8h0.8v0.8h-0.8zM84.3 419.6h0.8v0.8h-0.8zM84.5 418.6h0.8v0.8h-0.8zM84.8 420.9h0.8v0.8h-0.8zM83.2 420.1h0.8v0.8h-0.8zM85.0 393.5h0.8v0.8h-0.8zM82.6 395.8h0.8v0.8h-0.8zM84.7 393.3h0.8v0.8h-0.8zM80.8 414.1h0.8v0.8h-0.8zM82.5 420.6h0.8v0.8h-0.8zM85.9 392.6h0.8v0.8h-0.8zM85.7 399.0h0.8v0.8h-0.8zM85.3 395.4h0.8v0.8h-0.8zM86.3 401.7h0.8v0.8h-0.8zM85.8 395.3h0.8v0.8h-0.8zM84.4 392.7h0.8v0.8h-0.8zM84.1 409.2h0.8v0.8h-0.8zM79.8 415.2h0.8v0.8h-0.8zM85.4 390.6h0.8v0.8h-0.8zM86.3 397.0h0.8v0.8h-0.8zM84.8 415.1h0.8v0.8h-0.8zM83.0 419.9h0.8v0.8h-0.8zM85.0 401.1h0.8v0.8h-0.8zM83.6 409.2h0.8v0.8h-0.8zM85.9 421.2h0.8v0.8h-0.8zM82.2 405.7h0.8v0.8h-0.8zM82.8 405.8h0.8v0.8h-0.8zM88.6 395.7h0.8v0.8h-0.8zM85.4 387.3h0.8v0.8h-0.8zM83.6 415.2h0.8v0.8h-0.8zM85.7 394.5h0.8v0.8h-0.8zM85.4 394.9h0.8v0.8h-0.8zM85.6 386.9h0.8v0.8h-0.8zM85.8 396.9h0.8v0.8h-0.8zM82.3 411.9h0.8v0.8h-0.8zM84.9 405.8h0.8v0.8h-0.8zM85.4 400.2h0.8v0.8h-0.8zM85.9 388.4h0.8v0.8h-0.8zM87.1 402.5h0.8v0.8h-0.8zM83.7 406.1h0.8v0.8h-0.8zM84.1 402.1h0.8v0.8h-0.8zM82.7 418.7h0.8v0.8h-0.8zM83.7 408.3h0.8v0.8h-0.8zM82.9 405.7h0.8v0.8h-0.8zM87.8 397.4h0.8v0.8h-0.8zM85.3 420.2h0.8v0.8h-0.8zM83.7 394.5h0.8v0.8h-0.8zM86.0 407.3h0.8v0.8h-0.8zM85.4 394.8h0.8v0.8h-0.8zM84.4 414.0h0.8v0.8h-0.8zM87.0 394.3h0.8v0.8h-0.8zM83.6 420.5h0.8v0.8h-0.8zM85.0 412.9h0.8v0.8h-0.8zM83.4 401.7h0.8v0.8h-0.8zM83.2 419.8h0.8v0.8h-0.8zM84.6 407.5h0.8v0.8h-0.8zM84.7 406.9h0.8v0.8h-0.8zM83.5 398.8h0.8v0.8h-0.8zM83.7 405.7h0.8v0.8h-0.8zM84.7 391.1h0.8v0.8h-0.8zM84.4 411.5h0.8v0.8h-0.8zM83.4 421.2h0.8v0.8h-0.8zM86.7 390.8h0.8v0.8h-0.8zM84.3 416.3h0.8v0.8h-0.8zM87.4 416.2h0.8v0.8h-0.8zM86.6 398.3h0.8v0.8h-0.8zM83.7 404.5h0.8v0.8h-0.8zM86.4 408.8h0.8v0.8h-0.8zM84.0 406.4h0.8v0.8h-0.8zM86.1 399.6h0.8v0.8h-0.8zM83.5 401.6h0.8v0.8h-0.8zM85.9 395.9h0.8v0.8h-0.8zM87.3 416.4h0.8v0.8h-0.8zM85.4 421.4h0.8v0.8h-0.8zM82.6 416.2h0.8v0.8h-0.8zM85.4 413.7h0.8v0.8h-0.8zM83.5 395.1h0.8v0.8h-0.8zM83.5 416.7h0.8v0.8h-0.8zM84.7 419.7h0.8v0.8h-0.8zM85.5 387.2h0.8v0.8h-0.8zM83.9 416.1h0.8v0.8h-0.8zM87.9 410.6h0.8v0.8h-0.8zM82.1 411.6h0.8v0.8h-0.8zM85.7 389.7h0.8v0.8h-0.8zM83.1 421.5h0.8v0.8h-0.8zM83.5 418.4h0.8v0.8h-0.8zM85.3 413.1h0.8v0.8h-0.8zM86.6 415.1h0.8v0.8h-0.8zM85.5 392.8h0.8v0.8h-0.8zM87.5 414.1h0.8v0.8h-0.8zM85.4 415.4h0.8v0.8h-0.8zM85.7 415.9h0.8v0.8h-0.8zM82.5 420.4h0.8v0.8h-0.8zM82.6 411.4h0.8v0.8h-0.8zM85.1 402.0h0.8v0.8h-0.8zM86.7 387.2h0.8v0.8h-0.8zM87.3 397.2h0.8v0.8h-0.8zM84.7 411.9h0.8v0.8h-0.8zM82.0 407.5h0.8v0.8h-0.8zM85.0 400.6h0.8v0.8h-0.8zM85.5 411.7h0.8v0.8h-0.8zM85.7 412.9h0.8v0.8h-0.8zM83.3 420.0h0.8v0.8h-0.8zM83.0 419.5h0.8v0.8h-0.8zM88.6 410.8h0.8v0.8h-0.8zM83.9 421.0h0.8v0.8h-0.8zM84.0 399.2h0.8v0.8h-0.8zM84.1 407.7h0.8v0.8h-0.8zM83.9 418.1h0.8v0.8h-0.8zM81.8 408.2h0.8v0.8h-0.8zM85.7 398.1h0.8v0.8h-0.8zM84.6 396.0h0.8v0.8h-0.8zM84.5 401.0h0.8v0.8h-0.8zM86.6 390.0h0.8v0.8h-0.8zM85.1 407.9h0.8v0.8h-0.8zM82.8 420.6h0.8v0.8h-0.8zM83.6 403.8h0.8v0.8h-0.8zM82.1 397.5h0.8v0.8h-0.8zM86.1 392.6h0.8v0.8h-0.8zM83.7 404.7h0.8v0.8h-0.8zM81.8 408.8h0.8v0.8h-0.8zM87.9 411.5h0.8v0.8h-0.8zM84.2 398.1h0.8v0.8h-0.8zM86.7 408.3h0.8v0.8h-0.8zM85.4 395.6h0.8v0.8h-0.8zM85.0 415.3h0.8v0.8h-0.8zM84.9 408.7h0.8v0.8h-0.8zM84.8 399.0h0.8v0.8h-0.8zM82.8 400.7h0.8v0.8h-0.8zM82.4 415.3h0.8v0.8h-0.8zM82.7 405.6h0.8v0.8h-0.8zM86.3 404.7h0.8v0.8h-0.8zM84.6 420.7h0.8v0.8h-0.8zM84.3 418.9h0.8v0.8h-0.8zM85.4 398.8h0.8v0.8h-0.8zM83.4 413.1h0.8v0.8h-0.8zM85.2 404.5h0.8v0.8h-0.8zM84.4 409.4h0.8v0.8h-0.8zM82.5 411.8h0.8v0.8h-0.8zM83.8 412.7h0.8v0.8h-0.8zM83.8 413.6h0.8v0.8h-0.8zM86.7 392.9h0.8v0.8h-0.8zM86.3 386.7h0.8v0.8h-0.8zM85.1 390.2h0.8v0.8h-0.8zM86.4 391.9h0.8v0.8h-0.8zM84.6 420.7h0.8v0.8h-0.8zM82.8 409.8h0.8v0.8h-0.8zM85.8 400.6h0.8v0.8h-0.8zM85.1 400.2h0.8v0.8h-0.8zM86.4 396.9h0.8v0.8h-0.8zM83.4 404.0h0.8v0.8h-0.8zM85.8 403.6h0.8v0.8h-0.8zM83.1 416.0h0.8v0.8h-0.8zM82.6 413.6h0.8v0.8h-0.8zM85.3 404.9h0.8v0.8h-0.8zM83.8 405.4h0.8v0.8h-0.8zM86.9 404.0h0.8v0.8h-0.8zM85.4 400.1h0.8v0.8h-0.8zM82.9 406.1h0.8v0.8h-0.8zM82.6 418.6h0.8v0.8h-0.8zM84.2 419.1h0.8v0.8h-0.8zM83.9 421.3h0.8v0.8h-0.8zM82.5 412.4h0.8v0.8h-0.8zM83.3 414.5h0.8v0.8h-0.8zM85.7 420.6h0.8v0.8h-0.8zM83.4 412.0h0.8v0.8h-0.8zM82.6 411.9h0.8v0.8h-0.8zM85.6 397.1h0.8v0.8h-0.8zM82.0 421.4h0.8v0.8h-0.8zM85.0 401.5h0.8v0.8h-0.8zM84.6 404.2h0.8v0.8h-0.8zM83.9 415.3h0.8v0.8h-0.8zM87.1 396.9h0.8v0.8h-0.8zM85.9 403.6h0.8v0.8h-0.8zM83.7 419.6h0.8v0.8h-0.8zM84.6 389.5h0.8v0.8h-0.8zM82.3 417.4h0.8v0.8h-0.8zM82.8 403.3h0.8v0.8h-0.8zM82.6 415.2h0.8v0.8h-0.8zM82.9 414.7h0.8v0.8h-0.8zM83.5 413.5h0.8v0.8h-0.8zM79.6 409.0h0.8v0.8h-0.8zM84.8 393.3h0.8v0.8h-0.8zM82.7 415.7h0.8v0.8h-0.8zM85.6 420.6h0.8v0.8h-0.8zM83.7 399.0h0.8v0.8h-0.8zM83.8 406.8h0.8v0.8h-0.8zM83.8 394.7h0.8v0.8h-0.8zM81.6 412.2h0.8v0.8h-0.8zM85.7 399.6h0.8v0.8h-0.8zM84.5 393.7h0.8v0.8h-0.8zM82.3 410.4h0.8v0.8h-0.8zM84.0 421.8h0.8v0.8h-0.8zM86.1 409.3h0.8v0.8h-0.8zM83.6 415.1h0.8v0.8h-0.8zM85.4 390.3h0.8v0.8h-0.8zM86.8 413.0h0.8v0.8h-0.8zM82.9 417.1h0.8v0.8h-0.8zM85.8 402.1h0.8v0.8h-0.8zM86.2 408.2h0.8v0.8h-0.8zM84.6 412.0h0.8v0.8h-0.8zM84.7 393.9h0.8v0.8h-0.8zM86.2 420.1h0.8v0.8h-0.8zM85.6 398.1h0.8v0.8h-0.8zM86.2 390.9h0.8v0.8h-0.8zM83.9 416.1h0.8v0.8h-0.8zM83.4 406.6h0.8v0.8h-0.8zM87.5 413.2h0.8v0.8h-0.8zM84.5 418.0h0.8v0.8h-0.8zM84.8 396.5h0.8v0.8h-0.8zM82.8 401.4h0.8v0.8h-0.8zM84.1 418.6h0.8v0.8h-0.8zM86.7 400.5h0.8v0.8h-0.8zM85.6 405.1h0.8v0.8h-0.8zM82.3 410.5h0.8v0.8h-0.8zM83.8 421.6h0.8v0.8h-0.8zM85.6 410.8h0.8v0.8h-0.8zM86.5 393.9h0.8v0.8h-0.8zM84.5 405.0h0.8v0.8h-0.8zM86.5 404.7h0.8v0.8h-0.8zM80.7 412.6h0.8v0.8h-0.8zM84.4 394.9h0.8v0.8h-0.8zM86.9 396.7h0.8v0.8h-0.8zM84.5 418.7h0.8v0.8h-0.8zM84.2 402.3h0.8v0.8h-0.8zM85.3 397.2h0.8v0.8h-0.8zM83.7 413.2h0.8v0.8h-0.8zM86.4 389.6h0.8v0.8h-0.8zM82.6 409.7h0.8v0.8h-0.8zM86.6 391.3h0.8v0.8h-0.8zM84.0 421.6h0.8v0.8h-0.8zM84.8 410.2h0.8v0.8h-0.8zM85.5 391.7h0.8v0.8h-0.8zM85.9 387.0h0.8v0.8h-0.8zM84.4 399.0h0.8v0.8h-0.8zM83.8 412.3h0.8v0.8h-0.8zM83.3 405.9h0.8v0.8h-0.8zM84.0 399.6h0.8v0.8h-0.8zM84.5 402.2h0.8v0.8h-0.8zM85.0 398.0h0.8v0.8h-0.8zM86.5 386.7h0.8v0.8h-0.8zM84.2 400.4h0.8v0.8h-0.8zM85.3 392.2h0.8v0.8h-0.8zM81.8 417.6h0.8v0.8h-0.8zM85.5 400.4h0.8v0.8h-0.8zM83.9 418.8h0.8v0.8h-0.8zM81.8 412.1h0.8v0.8h-0.8zM82.4 413.1h0.8v0.8h-0.8zM84.9 403.3h0.8v0.8h-0.8zM82.6 407.1h0.8v0.8h-0.8zM85.0 408.1h0.8v0.8h-0.8zM85.0 416.0h0.8v0.8h-0.8zM85.8 387.1h0.8v0.8h-0.8zM87.6 400.0h0.8v0.8h-0.8zM85.0 410.9h0.8v0.8h-0.8zM86.2 399.5h0.8v0.8h-0.8zM87.3 417.4h0.8v0.8h-0.8zM83.2 412.8h0.8v0.8h-0.8zM82.2 405.5h0.8v0.8h-0.8zM81.8 403.5h0.8v0.8h-0.8zM82.7 421.8h0.8v0.8h-0.8zM84.0 419.7h0.8v0.8h-0.8zM84.8 398.0h0.8v0.8h-0.8zM82.2 421.2h0.8v0.8h-0.8zM84.7 400.4h0.8v0.8h-0.8zM78.4 418.1h0.8v0.8h-0.8zM85.5 390.3h0.8v0.8h-0.8zM84.3 421.8h0.8v0.8h-0.8zM85.0 403.2h0.8v0.8h-0.8zM86.1 411.5h0.8v0.8h-0.8zM84.8 420.3h0.8v0.8h-0.8zM85.0 404.8h0.8v0.8h-0.8zM82.1 409.7h0.8v0.8h-0.8zM83.1 394.9h0.8v0.8h-0.8zM85.1 412.5h0.8v0.8h-0.8zM83.9 396.8h0.8v0.8h-0.8zM85.7 401.4h0.8v0.8h-0.8zM84.3 409.5h0.8v0.8h-0.8zM85.2 396.9h0.8v0.8h-0.8zM84.5 412.0h0.8v0.8h-0.8zM84.8 415.2h0.8v0.8h-0.8zM86.9 401.3h0.8v0.8h-0.8zM85.4 391.6h0.8v0.8h-0.8zM84.1 411.4h0.8v0.8h-0.8zM87.5 414.0h0.8v0.8h-0.8zM84.5 415.1h0.8v0.8h-0.8zM84.2 416.2h0.8v0.8h-0.8zM85.7 393.5h0.8v0.8h-0.8zM85.8 394.5h0.8v0.8h-0.8zM86.1 406.1h0.8v0.8h-0.8zM84.9 398.4h0.8v0.8h-0.8zM85.0 417.1h0.8v0.8h-0.8zM86.7 410.7h0.8v0.8h-0.8zM85.3 420.2h0.8v0.8h-0.8zM85.5 403.0h0.8v0.8h-0.8zM83.9 417.0h0.8v0.8h-0.8zM87.3 395.4h0.8v0.8h-0.8zM85.9 406.8h0.8v0.8h-0.8zM85.0 399.2h0.8v0.8h-0.8zM83.5 419.7h0.8v0.8h-0.8zM85.1 395.5h0.8v0.8h-0.8zM84.7 397.6h0.8v0.8h-0.8zM87.6 413.3h0.8v0.8h-0.8zM82.8 421.4h0.8v0.8h-0.8zM83.0 403.0h0.8v0.8h-0.8zM83.5 413.8h0.8v0.8h-0.8zM84.7 406.7h0.8v0.8h-0.8zM84.4 403.1h0.8v0.8h-0.8zM86.0 387.5h0.8v0.8h-0.8zM82.8 421.5h0.8v0.8h-0.8zM86.3 393.8h0.8v0.8h-0.8zM85.4 410.0h0.8v0.8h-0.8zM84.1 407.0h0.8v0.8h-0.8zM84.9 407.0h0.8v0.8h-0.8zM83.6 397.6h0.8v0.8h-0.8zM85.4 395.6h0.8v0.8h-0.8zM83.2 418.2h0.8v0.8h-0.8zM86.3 387.9h0.8v0.8h-0.8zM85.8 417.6h0.8v0.8h-0.8zM84.3 410.8h0.8v0.8h-0.8zM81.1 414.0h0.8v0.8h-0.8zM86.1 389.0h0.8v0.8h-0.8zM85.0 394.5h0.8v0.8h-0.8zM87.4 388.2h0.8v0.8h-0.8zM85.5 402.9h0.8v0.8h-0.8zM87.5 390.9h0.8v0.8h-0.8zM85.4 410.3h0.8v0.8h-0.8zM84.4 419.7h0.8v0.8h-0.8zM85.3 399.5h0.8v0.8h-0.8zM86.1 395.7h0.8v0.8h-0.8zM85.1 411.5h0.8v0.8h-0.8zM86.2 394.7h0.8v0.8h-0.8zM86.6 402.7h0.8v0.8h-0.8zM84.4 393.9h0.8v0.8h-0.8zM84.1 403.2h0.8v0.8h-0.8zM87.0 406.1h0.8v0.8h-0.8zM85.9 395.8h0.8v0.8h-0.8zM88.2 401.3h0.8v0.8h-0.8zM84.7 409.8h0.8v0.8h-0.8zM81.3 403.3h0.8v0.8h-0.8zM85.0 393.1h0.8v0.8h-0.8zM84.5 403.0h0.8v0.8h-0.8zM82.5 413.5h0.8v0.8h-0.8zM84.8 419.4h0.8v0.8h-0.8zM85.5 399.7h0.8v0.8h-0.8zM84.7 414.8h0.8v0.8h-0.8zM81.8 419.9h0.8v0.8h-0.8zM83.6 395.5h0.8v0.8h-0.8zM86.3 415.3h0.8v0.8h-0.8zM87.3 392.2h0.8v0.8h-0.8zM83.5 418.2h0.8v0.8h-0.8zM81.9 402.3h0.8v0.8h-0.8zM81.8 419.1h0.8v0.8h-0.8zM89.5 409.5h0.8v0.8h-0.8zM79.7 417.4h0.8v0.8h-0.8zM85.3 412.0h0.8v0.8h-0.8zM84.7 403.7h0.8v0.8h-0.8zM86.6 409.1h0.8v0.8h-0.8zM86.9 389.6h0.8v0.8h-0.8zM84.1 411.1h0.8v0.8h-0.8zM85.9 410.4h0.8v0.8h-0.8zM83.2 395.7h0.8v0.8h-0.8zM84.5 421.6h0.8v0.8h-0.8zM83.9 398.6h0.8v0.8h-0.8zM86.8 395.6h0.8v0.8h-0.8zM84.6 417.7h0.8v0.8h-0.8zM86.9 401.5h0.8v0.8h-0.8zM86.2 385.2h0.8v0.8h-0.8zM85.1 401.0h0.8v0.8h-0.8zM87.2 399.1h0.8v0.8h-0.8zM85.8 389.8h0.8v0.8h-0.8zM84.4 413.8h0.8v0.8h-0.8zM86.2 414.0h0.8v0.8h-0.8zM85.6 417.9h0.8v0.8h-0.8zM84.5 400.7h0.8v0.8h-0.8zM83.9 403.5h0.8v0.8h-0.8zM87.3 405.8h0.8v0.8h-0.8zM86.1 412.9h0.8v0.8h-0.8zM85.5 421.1h0.8v0.8h-0.8zM84.9 396.2h0.8v0.8h-0.8zM85.7 388.0h0.8v0.8h-0.8zM85.9 404.1h0.8v0.8h-0.8zM87.1 409.3h0.8v0.8h-0.8zM84.9 412.5h0.8v0.8h-0.8zM85.7 391.5h0.8v0.8h-0.8zM84.7 388.0h0.8v0.8h-0.8zM85.1 412.8h0.8v0.8h-0.8zM85.6 408.6h0.8v0.8h-0.8zM84.9 392.2h0.8v0.8h-0.8zM85.6 411.5h0.8v0.8h-0.8zM86.1 387.7h0.8v0.8h-0.8zM86.8 394.4h0.8v0.8h-0.8zM86.1 392.9h0.8v0.8h-0.8zM85.1 410.3h0.8v0.8h-0.8zM84.8 392.6h0.8v0.8h-0.8zM83.8 412.4h0.8v0.8h-0.8zM81.0 408.8h0.8v0.8h-0.8zM86.2 409.7h0.8v0.8h-0.8zM82.2 421.3h0.8v0.8h-0.8zM85.5 399.5h0.8v0.8h-0.8zM82.4 405.9h0.8v0.8h-0.8zM85.7 386.2h0.8v0.8h-0.8zM84.6 410.3h0.8v0.8h-0.8zM84.0 407.3h0.8v0.8h-0.8zM85.6 393.1h0.8v0.8h-0.8zM82.2 410.4h0.8v0.8h-0.8zM79.0 416.1h0.8v0.8h-0.8zM83.6 399.6h0.8v0.8h-0.8zM84.6 416.4h0.8v0.8h-0.8zM86.5 403.4h0.8v0.8h-0.8zM84.0 403.5h0.8v0.8h-0.8zM80.5 406.3h0.8v0.8h-0.8zM88.3 388.7h0.8v0.8h-0.8zM87.0 403.6h0.8v0.8h-0.8zM86.4 393.9h0.8v0.8h-0.8zM84.3 393.9h0.8v0.8h-0.8zM85.2 415.2h0.8v0.8h-0.8zM84.3 405.1h0.8v0.8h-0.8zM85.0 418.9h0.8v0.8h-0.8zM88.0 396.6h0.8v0.8h-0.8zM84.9 406.4h0.8v0.8h-0.8zM87.1 393.1h0.8v0.8h-0.8zM87.0 414.8h0.8v0.8h-0.8zM85.6 389.7h0.8v0.8h-0.8zM83.8 405.2h0.8v0.8h-0.8zM88.3 410.4h0.8v0.8h-0.8zM86.2 401.3h0.8v0.8h-0.8zM85.7 393.6h0.8v0.8h-0.8zM85.6 388.1h0.8v0.8h-0.8zM80.5 411.8h0.8v0.8h-0.8zM84.7 416.0h0.8v0.8h-0.8zM87.0 396.3h0.8v0.8h-0.8zM85.4 406.0h0.8v0.8h-0.8zM86.0 400.0h0.8v0.8h-0.8zM83.7 411.6h0.8v0.8h-0.8zM87.7 390.2h0.8v0.8h-0.8zM82.4 410.8h0.8v0.8h-0.8zM84.6 400.8h0.8v0.8h-0.8zM80.2 416.1h0.8v0.8h-0.8zM85.6 388.4h0.8v0.8h-0.8zM84.5 408.5h0.8v0.8h-0.8zM84.3 420.6h0.8v0.8h-0.8zM83.5 408.7h0.8v0.8h-0.8zM86.3 400.6h0.8v0.8h-0.8zM86.7 415.1h0.8v0.8h-0.8zM83.0 401.4h0.8v0.8h-0.8zM85.5 414.1h0.8v0.8h-0.8zM85.3 405.8h0.8v0.8h-0.8zM85.9 394.8h0.8v0.8h-0.8zM81.4 417.1h0.8v0.8h-0.8zM85.0 402.4h0.8v0.8h-0.8zM86.8 402.5h0.8v0.8h-0.8zM88.7 410.4h0.8v0.8h-0.8zM85.2 392.9h0.8v0.8h-0.8zM82.1 410.6h0.8v0.8h-0.8zM81.2 415.4h0.8v0.8h-0.8zM82.0 421.2h0.8v0.8h-0.8zM84.0 403.8h0.8v0.8h-0.8zM83.6 404.0h0.8v0.8h-0.8zM84.1 402.4h0.8v0.8h-0.8zM83.9 401.9h0.8v0.8h-0.8zM84.7 417.7h0.8v0.8h-0.8zM81.3 417.6h0.8v0.8h-0.8zM84.2 403.1h0.8v0.8h-0.8zM84.2 400.6h0.8v0.8h-0.8zM86.4 391.6h0.8v0.8h-0.8zM82.1 400.1h0.8v0.8h-0.8zM85.6 402.8h0.8v0.8h-0.8zM85.0 411.4h0.8v0.8h-0.8zM84.7 419.0h0.8v0.8h-0.8zM84.8 415.1h0.8v0.8h-0.8zM86.2 397.1h0.8v0.8h-0.8zM83.6 406.1h0.8v0.8h-0.8zM85.1 396.1h0.8v0.8h-0.8zM86.6 399.2h0.8v0.8h-0.8zM86.7 414.2h0.8v0.8h-0.8zM84.5 416.4h0.8v0.8h-0.8zM85.3 401.0h0.8v0.8h-0.8zM86.2 390.4h0.8v0.8h-0.8zM83.8 416.1h0.8v0.8h-0.8zM84.6 405.4h0.8v0.8h-0.8zM84.2 410.2h0.8v0.8h-0.8zM85.2 404.3h0.8v0.8h-0.8zM86.4 402.0h0.8v0.8h-0.8zM83.5 419.8h0.8v0.8h-0.8zM83.0 418.3h0.8v0.8h-0.8zM83.6 416.5h0.8v0.8h-0.8zM85.4 391.1h0.8v0.8h-0.8zM85.6 391.2h0.8v0.8h-0.8zM87.6 404.0h0.8v0.8h-0.8zM89.0 409.5h0.8v0.8h-0.8zM85.9 419.1h0.8v0.8h-0.8zM83.5 411.7h0.8v0.8h-0.8zM85.1 406.1h0.8v0.8h-0.8zM83.9 394.3h0.8v0.8h-0.8zM82.8 408.0h0.8v0.8h-0.8zM85.3 413.7h0.8v0.8h-0.8zM81.4 413.0h0.8v0.8h-0.8zM82.6 417.0h0.8v0.8h-0.8zM85.9 391.2h0.8v0.8h-0.8zM85.8 394.4h0.8v0.8h-0.8zM83.2 420.9h0.8v0.8h-0.8zM86.4 405.8h0.8v0.8h-0.8zM83.9 409.1h0.8v0.8h-0.8zM87.6 401.2h0.8v0.8h-0.8zM83.9 417.6h0.8v0.8h-0.8zM84.5 408.6h0.8v0.8h-0.8zM86.0 391.2h0.8v0.8h-0.8zM84.9 398.8h0.8v0.8h-0.8zM81.8 415.4h0.8v0.8h-0.8zM83.6 404.1h0.8v0.8h-0.8zM85.2 407.7h0.8v0.8h-0.8zM86.7 398.4h0.8v0.8h-0.8zM85.0 412.6h0.8v0.8h-0.8zM85.8 396.0h0.8v0.8h-0.8zM84.5 408.1h0.8v0.8h-0.8zM83.6 421.6h0.8v0.8h-0.8zM83.2 417.3h0.8v0.8h-0.8zM84.7 417.1h0.8v0.8h-0.8zM84.6 421.4h0.8v0.8h-0.8zM86.7 416.8h0.8v0.8h-0.8zM83.9 420.2h0.8v0.8h-0.8zM86.1 394.6h0.8v0.8h-0.8zM87.6 397.3h0.8v0.8h-0.8zM82.6 406.1h0.8v0.8h-0.8zM85.2 392.9h0.8v0.8h-0.8zM85.4 411.7h0.8v0.8h-0.8zM84.5 413.9h0.8v0.8h-0.8zM83.0 405.6h0.8v0.8h-0.8zM83.5 405.9h0.8v0.8h-0.8zM85.7 412.9h0.8v0.8h-0.8zM83.1 413.7h0.8v0.8h-0.8zM86.8 393.7h0.8v0.8h-0.8zM85.4 388.6h0.8v0.8h-0.8zM86.4 387.8h0.8v0.8h-0.8zM83.9 390.5h0.8v0.8h-0.8zM85.9 417.4h0.8v0.8h-0.8zM85.7 387.7h0.8v0.8h-0.8zM86.4 400.4h0.8v0.8h-0.8zM83.9 393.3h0.8v0.8h-0.8zM83.3 403.0h0.8v0.8h-0.8zM85.7 395.1h0.8v0.8h-0.8zM84.3 415.3h0.8v0.8h-0.8zM85.0 397.3h0.8v0.8h-0.8zM84.2 390.7h0.8v0.8h-0.8zM84.6 395.6h0.8v0.8h-0.8zM87.0 414.4h0.8v0.8h-0.8zM83.9 400.1h0.8v0.8h-0.8zM85.2 406.1h0.8v0.8h-0.8zM83.8 416.1h0.8v0.8h-0.8zM86.1 419.8h0.8v0.8h-0.8zM88.5 410.3h0.8v0.8h-0.8zM84.8 394.8h0.8v0.8h-0.8zM84.3 421.8h0.8v0.8h-0.8zM87.4 392.6h0.8v0.8h-0.8zM82.6 400.1h0.8v0.8h-0.8zM85.5 412.7h0.8v0.8h-0.8zM87.4 396.2h0.8v0.8h-0.8zM82.6 407.3h0.8v0.8h-0.8zM85.8 388.9h0.8v0.8h-0.8zM86.2 404.3h0.8v0.8h-0.8zM81.7 420.4h0.8v0.8h-0.8zM85.0 390.1h0.8v0.8h-0.8zM85.2 397.9h0.8v0.8h-0.8zM84.2 397.2h0.8v0.8h-0.8zM86.7 389.7h0.8v0.8h-0.8zM85.1 408.5h0.8v0.8h-0.8zM83.7 403.6h0.8v0.8h-0.8zM85.9 386.7h0.8v0.8h-0.8zM83.2 412.5h0.8v0.8h-0.8zM86.5 402.8h0.8v0.8h-0.8zM86.3 398.9h0.8v0.8h-0.8zM85.5 399.9h0.8v0.8h-0.8zM86.8 392.3h0.8v0.8h-0.8zM86.2 386.9h0.8v0.8h-0.8zM82.9 418.6h0.8v0.8h-0.8zM86.0 407.8h0.8v0.8h-0.8zM87.0 387.3h0.8v0.8h-0.8zM86.3 408.8h0.8v0.8h-0.8zM83.1 406.8h0.8v0.8h-0.8zM87.0 407.1h0.8v0.8h-0.8zM86.0 416.1h0.8v0.8h-0.8zM80.9 414.1h0.8v0.8h-0.8zM82.1 412.5h0.8v0.8h-0.8zM85.0 409.6h0.8v0.8h-0.8zM86.0 407.8h0.8v0.8h-0.8zM84.5 389.0h0.8v0.8h-0.8zM82.3 414.9h0.8v0.8h-0.8zM82.6 419.4h0.8v0.8h-0.8zM85.2 388.9h0.8v0.8h-0.8zM83.9 420.6h0.8v0.8h-0.8zM84.9 394.6h0.8v0.8h-0.8zM83.7 414.9h0.8v0.8h-0.8zM84.5 406.6h0.8v0.8h-0.8zM82.7 418.7h0.8v0.8h-0.8zM86.3 385.9h0.8v0.8h-0.8zM85.9 418.6h0.8v0.8h-0.8zM83.9 415.6h0.8v0.8h-0.8zM84.9 413.6h0.8v0.8h-0.8zM88.0 414.3h0.8v0.8h-0.8zM86.1 407.9h0.8v0.8h-0.8zM85.4 387.9h0.8v0.8h-0.8zM85.8 391.8h0.8v0.8h-0.8zM84.4 418.8h0.8v0.8h-0.8zM84.4 405.2h0.8v0.8h-0.8zM84.9 399.0h0.8v0.8h-0.8zM84.4 401.2h0.8v0.8h-0.8zM83.2 404.0h0.8v0.8h-0.8zM84.8 410.1h0.8v0.8h-0.8zM86.3 420.3h0.8v0.8h-0.8zM82.3 417.1h0.8v0.8h-0.8zM85.4 397.2h0.8v0.8h-0.8zM86.3 411.6h0.8v0.8h-0.8zM81.2 410.4h0.8v0.8h-0.8zM88.8 400.5h0.8v0.8h-0.8zM86.4 386.9h0.8v0.8h-0.8zM84.8 414.2h0.8v0.8h-0.8zM85.2 417.5h0.8v0.8h-0.8zM85.6 397.8h0.8v0.8h-0.8zM85.2 415.9h0.8v0.8h-0.8zM85.3 391.7h0.8v0.8h-0.8zM85.7 421.1h0.8v0.8h-0.8zM84.2 406.1h0.8v0.8h-0.8zM84.3 414.7h0.8v0.8h-0.8zM83.6 398.9h0.8v0.8h-0.8zM83.8 407.8h0.8v0.8h-0.8zM83.0 411.5h0.8v0.8h-0.8zM86.3 393.8h0.8v0.8h-0.8zM85.2 397.1h0.8v0.8h-0.8zM86.5 420.9h0.8v0.8h-0.8zM82.7 417.5h0.8v0.8h-0.8zM84.9 417.7h0.8v0.8h-0.8zM84.8 390.3h0.8v0.8h-0.8zM85.9 414.3h0.8v0.8h-0.8zM84.7 388.5h0.8v0.8h-0.8zM85.8 389.6h0.8v0.8h-0.8zM82.3 419.0h0.8v0.8h-0.8zM81.8 421.7h0.8v0.8h-0.8zM85.2 412.2h0.8v0.8h-0.8zM82.5 413.1h0.8v0.8h-0.8zM86.7 389.9h0.8v0.8h-0.8zM83.4 419.2h0.8v0.8h-0.8zM81.8 405.7h0.8v0.8h-0.8zM83.6 396.3h0.8v0.8h-0.8zM85.3 408.6h0.8v0.8h-0.8zM86.7 392.0h0.8v0.8h-0.8zM85.3 397.9h0.8v0.8h-0.8zM85.6 397.2h0.8v0.8h-0.8zM86.1 413.2h0.8v0.8h-0.8zM83.7 419.6h0.8v0.8h-0.8zM83.5 418.3h0.8v0.8h-0.8zM84.1 410.5h0.8v0.8h-0.8zM82.9 402.0h0.8v0.8h-0.8zM87.0 401.4h0.8v0.8h-0.8zM86.4 389.1h0.8v0.8h-0.8zM86.5 412.7h0.8v0.8h-0.8zM83.0 410.4h0.8v0.8h-0.8zM87.2 416.5h0.8v0.8h-0.8zM83.0 421.7h0.8v0.8h-0.8zM87.0 405.7h0.8v0.8h-0.8zM84.6 411.4h0.8v0.8h-0.8zM82.6 418.1h0.8v0.8h-0.8zM85.8 385.7h0.8v0.8h-0.8zM80.2 417.2h0.8v0.8h-0.8zM80.8 410.0h0.8v0.8h-0.8zM84.7 417.8h0.8v0.8h-0.8zM79.7 405.7h0.8v0.8h-0.8zM83.6 419.1h0.8v0.8h-0.8zM85.2 401.0h0.8v0.8h-0.8zM86.5 401.9h0.8v0.8h-0.8zM85.1 399.0h0.8v0.8h-0.8zM85.5 413.0h0.8v0.8h-0.8zM85.7 403.4h0.8v0.8h-0.8zM84.8 392.7h0.8v0.8h-0.8zM82.9 416.4h0.8v0.8h-0.8zM86.0 401.5h0.8v0.8h-0.8zM84.4 408.0h0.8v0.8h-0.8zM86.4 397.1h0.8v0.8h-0.8zM83.9 419.1h0.8v0.8h-0.8zM83.5 399.7h0.8v0.8h-0.8zM85.4 398.7h0.8v0.8h-0.8zM86.0 408.1h0.8v0.8h-0.8zM85.7 399.4h0.8v0.8h-0.8zM84.3 416.8h0.8v0.8h-0.8zM81.7 410.1h0.8v0.8h-0.8zM83.8 418.2h0.8v0.8h-0.8zM85.3 393.0h0.8v0.8h-0.8zM87.0 414.8h0.8v0.8h-0.8zM79.5 415.6h0.8v0.8h-0.8zM84.1 394.3h0.8v0.8h-0.8zM83.4 410.4h0.8v0.8h-0.8zM86.9 393.2h0.8v0.8h-0.8zM84.9 398.8h0.8v0.8h-0.8zM83.3 421.5h0.8v0.8h-0.8zM84.7 412.4h0.8v0.8h-0.8zM85.5 398.5h0.8v0.8h-0.8zM85.9 410.4h0.8v0.8h-0.8zM83.5 400.7h0.8v0.8h-0.8zM81.2 421.7h0.8v0.8h-0.8zM84.7 418.9h0.8v0.8h-0.8zM83.3 417.0h0.8v0.8h-0.8zM85.5 391.1h0.8v0.8h-0.8zM85.6 391.5h0.8v0.8h-0.8zM85.1 420.6h0.8v0.8h-0.8zM86.5 407.9h0.8v0.8h-0.8zM86.2 385.2h0.8v0.8h-0.8zM83.4 418.8h0.8v0.8h-0.8zM82.0 416.8h0.8v0.8h-0.8zM86.0 387.5h0.8v0.8h-0.8zM86.3 413.3h0.8v0.8h-0.8zM84.1 419.9h0.8v0.8h-0.8zM86.4 412.6h0.8v0.8h-0.8zM86.1 413.4h0.8v0.8h-0.8zM85.3 401.1h0.8v0.8h-0.8zM82.8 404.1h0.8v0.8h-0.8zM84.4 407.8h0.8v0.8h-0.8zM84.9 418.9h0.8v0.8h-0.8zM85.2 401.8h0.8v0.8h-0.8zM84.3 395.7h0.8v0.8h-0.8zM87.0 385.3h0.8v0.8h-0.8zM83.1 421.5h0.8v0.8h-0.8zM85.4 409.9h0.8v0.8h-0.8zM86.1 388.9h0.8v0.8h-0.8zM81.2 410.6h0.8v0.8h-0.8zM82.7 399.8h0.8v0.8h-0.8zM85.5 397.4h0.8v0.8h-0.8zM86.4 387.6h0.8v0.8h-0.8zM83.3 406.8h0.8v0.8h-0.8zM84.3 420.6h0.8v0.8h-0.8zM85.9 400.5h0.8v0.8h-0.8zM84.7 391.7h0.8v0.8h-0.8zM84.9 387.6h0.8v0.8h-0.8zM84.9 388.9h0.8v0.8h-0.8zM84.5 413.4h0.8v0.8h-0.8zM86.7 417.3h0.8v0.8h-0.8zM84.2 414.1h0.8v0.8h-0.8zM84.4 421.1h0.8v0.8h-0.8zM85.2 419.6h0.8v0.8h-0.8zM85.5 389.0h0.8v0.8h-0.8zM85.5 402.5h0.8v0.8h-0.8zM84.9 399.8h0.8v0.8h-0.8zM86.5 388.5h0.8v0.8h-0.8zM85.2 390.7h0.8v0.8h-0.8zM85.5 402.1h0.8v0.8h-0.8zM86.2 410.7h0.8v0.8h-0.8zM86.1 412.0h0.8v0.8h-0.8zM86.5 389.3h0.8v0.8h-0.8zM85.2 405.0h0.8v0.8h-0.8zM82.6 417.0h0.8v0.8h-0.8zM83.5 397.8h0.8v0.8h-0.8zM86.8 385.5h0.8v0.8h-0.8zM81.8 408.8h0.8v0.8h-0.8zM83.2 420.5h0.8v0.8h-0.8zM84.4 413.1h0.8v0.8h-0.8zM85.8 406.4h0.8v0.8h-0.8zM84.6 399.3h0.8v0.8h-0.8zM84.0 413.1h0.8v0.8h-0.8zM85.6 404.2h0.8v0.8h-0.8zM83.9 420.2h0.8v0.8h-0.8zM85.2 417.7h0.8v0.8h-0.8zM82.8 421.6h0.8v0.8h-0.8zM85.1 394.8h0.8v0.8h-0.8zM82.5 396.4h0.8v0.8h-0.8zM86.3 385.6h0.8v0.8h-0.8zM84.5 416.4h0.8v0.8h-0.8zM83.6 410.4h0.8v0.8h-0.8zM84.5 411.6h0.8v0.8h-0.8zM86.6 393.3h0.8v0.8h-0.8zM86.1 411.6h0.8v0.8h-0.8zM84.5 416.3h0.8v0.8h-0.8zM84.4 400.1h0.8v0.8h-0.8zM85.3 393.6h0.8v0.8h-0.8zM83.9 418.3h0.8v0.8h-0.8zM85.0 412.8h0.8v0.8h-0.8zM82.4 419.5h0.8v0.8h-0.8zM85.5 417.3h0.8v0.8h-0.8zM83.4 396.7h0.8v0.8h-0.8zM87.4 401.7h0.8v0.8h-0.8zM85.7 406.1h0.8v0.8h-0.8zM83.3 421.6h0.8v0.8h-0.8zM85.7 418.2h0.8v0.8h-0.8zM83.8 421.1h0.8v0.8h-0.8zM81.1 419.9h0.8v0.8h-0.8zM84.9 398.9h0.8v0.8h-0.8zM83.8 412.6h0.8v0.8h-0.8zM83.0 420.7h0.8v0.8h-0.8zM84.5 409.2h0.8v0.8h-0.8zM85.5 389.8h0.8v0.8h-0.8zM85.0 404.2h0.8v0.8h-0.8zM83.7 416.8h0.8v0.8h-0.8zM81.5 405.6h0.8v0.8h-0.8zM87.5 405.0h0.8v0.8h-0.8zM85.5 409.3h0.8v0.8h-0.8zM86.0 403.9h0.8v0.8h-0.8zM86.6 389.6h0.8v0.8h-0.8zM86.6 392.5h0.8v0.8h-0.8zM86.1 393.3h0.8v0.8h-0.8zM81.2 417.1h0.8v0.8h-0.8zM82.3 408.7h0.8v0.8h-0.8zM85.2 394.3h0.8v0.8h-0.8zM87.8 409.7h0.8v0.8h-0.8zM83.9 411.7h0.8v0.8h-0.8zM85.1 396.1h0.8v0.8h-0.8zM87.0 404.7h0.8v0.8h-0.8zM80.9 409.9h0.8v0.8h-0.8zM86.9 398.5h0.8v0.8h-0.8zM85.5 403.9h0.8v0.8h-0.8zM84.0 420.1h0.8v0.8h-0.8zM86.5 386.7h0.8v0.8h-0.8zM86.5 387.6h0.8v0.8h-0.8zM83.5 394.1h0.8v0.8h-0.8zM85.7 386.6h0.8v0.8h-0.8zM83.8 410.7h0.8v0.8h-0.8zM83.8 419.5h0.8v0.8h-0.8zM83.0 410.4h0.8v0.8h-0.8zM85.2 399.6h0.8v0.8h-0.8zM82.9 418.3h0.8v0.8h-0.8zM85.5 412.7h0.8v0.8h-0.8zM82.9 420.7h0.8v0.8h-0.8zM84.4 409.7h0.8v0.8h-0.8zM87.2 400.4h0.8v0.8h-0.8zM87.0 392.2h0.8v0.8h-0.8zM85.7 397.8h0.8v0.8h-0.8zM85.8 391.6h0.8v0.8h-0.8zM83.1 415.0h0.8v0.8h-0.8zM83.1 399.0h0.8v0.8h-0.8zM87.1 417.1h0.8v0.8h-0.8zM86.4 417.3h0.8v0.8h-0.8zM83.5 420.2h0.8v0.8h-0.8zM83.0 410.9h0.8v0.8h-0.8zM84.3 402.9h0.8v0.8h-0.8zM84.5 409.3h0.8v0.8h-0.8zM86.4 418.2h0.8v0.8h-0.8zM84.2 413.9h0.8v0.8h-0.8zM85.3 402.4h0.8v0.8h-0.8zM86.0 404.8h0.8v0.8h-0.8zM82.8 407.6h0.8v0.8h-0.8zM81.9 410.4h0.8v0.8h-0.8zM83.7 408.9h0.8v0.8h-0.8zM84.6 408.7h0.8v0.8h-0.8zM85.6 405.0h0.8v0.8h-0.8zM84.8 418.8h0.8v0.8h-0.8zM84.0 409.4h0.8v0.8h-0.8zM83.6 407.6h0.8v0.8h-0.8zM84.3 416.0h0.8v0.8h-0.8zM85.9 390.8h0.8v0.8h-0.8zM86.4 396.2h0.8v0.8h-0.8zM86.7 395.8h0.8v0.8h-0.8zM86.2 394.9h0.8v0.8h-0.8zM82.3 411.6h0.8v0.8h-0.8zM83.3 406.4h0.8v0.8h-0.8zM83.8 410.6h0.8v0.8h-0.8zM86.2 413.0h0.8v0.8h-0.8zM85.2 396.7h0.8v0.8h-0.8zM81.9 421.3h0.8v0.8h-0.8z"/></g></g><path d="M52.4 378.6 H108.3 V434.4" fill="none" stroke="#8a8a8a" stroke-width="1.1"/><path d="M52.4 378.1 V434.4 H108.8" fill="none" stroke="#2a2a2a" stroke-width="1.1"/><text x="51.6" y="442.0" font-size="3.9" fill="#4a4a4a" text-anchor="middle">10<tspan font-size="2.81" dy="-1.6">0</tspan></text><text x="65.3" y="442.0" font-size="3.9" fill="#4a4a4a" text-anchor="middle">10<tspan font-size="2.81" dy="-1.6">1</tspan></text><text x="79.0" y="442.0" font-size="3.9" fill="#4a4a4a" text-anchor="middle">10<tspan font-size="2.81" dy="-1.6">2</tspan></text><text x="92.8" y="442.0" font-size="3.9" fill="#4a4a4a" text-anchor="middle">10<tspan font-size="2.81" dy="-1.6">3</tspan></text><text x="106.5" y="442.0" font-size="3.9" fill="#4a4a4a" text-anchor="middle">10<tspan font-size="2.81" dy="-1.6">4</tspan></text><path d="M52.4 378.6 H108.3" stroke="#3a3a3a" stroke-width="1" fill="none"/><text x="50.2" y="435.8" font-size="3.8" fill="#3a3a3a" text-anchor="end">0</text><path d="M50.8 434.4 h1.6" stroke="#555" stroke-width="0.6"/><text x="50.2" y="421.8" font-size="3.8" fill="#3a3a3a" text-anchor="end">256</text><path d="M50.8 420.4 h1.6" stroke="#555" stroke-width="0.6"/><text x="50.2" y="407.9" font-size="3.8" fill="#3a3a3a" text-anchor="end">512</text><path d="M50.8 406.5 h1.6" stroke="#555" stroke-width="0.6"/><text x="50.2" y="393.9" font-size="3.8" fill="#3a3a3a" text-anchor="end">768</text><path d="M50.8 392.6 h1.6" stroke="#555" stroke-width="0.6"/><text x="50.2" y="380.0" font-size="3.8" fill="#3a3a3a" text-anchor="end">1024</text><path d="M50.8 378.6 h1.6" stroke="#555" stroke-width="0.6"/><g clip-path="url(#c21)"><g filter="url(#soft)"><ellipse cx="141.5" cy="401.0" rx="8.74" ry="6.50" fill="#fadcd8"/><ellipse cx="141.5" cy="401.0" rx="8.74" ry="6.50" fill="none" stroke="#e27a7a" stroke-width="0.55"/><ellipse cx="141.5" cy="401.0" rx="8.27" ry="6.15" fill="none" stroke="#e27a7a" stroke-width="0.55"/><ellipse cx="141.5" cy="401.0" rx="7.80" ry="5.80" fill="#ee6a50"/><ellipse cx="141.5" cy="401.0" rx="7.25" ry="5.28" fill="#f59a34"/><ellipse cx="141.5" cy="401.0" rx="6.63" ry="4.71" fill="#f6e03a"/><ellipse cx="141.5" cy="401.0" rx="6.01" ry="4.16" fill="#b6d83a"/><ellipse cx="141.5" cy="401.0" rx="5.23" ry="3.50" fill="#3aa83a"/><ellipse cx="141.5" cy="401.0" rx="3.90" ry="2.46" fill="#15867a"/><ellipse cx="141.5" cy="401.0" rx="3.20" ry="1.96" fill="#1f3f9e"/><ellipse cx="141.5" cy="401.0" rx="1.09" ry="0.60" fill="#a8b0f0"/></g></g><line x1="150.3" y1="378.6" x2="150.3" y2="434.4" stroke="#6a6a6a" stroke-width="0.9"/><line x1="133.7" y1="408.0" x2="190.0" y2="408.0" stroke="#6a6a6a" stroke-width="0.9"/><path d="M133.7 378.6 H190.0 V434.4" fill="none" stroke="#8a8a8a" stroke-width="1.1"/><path d="M133.7 378.1 V434.4 H190.5" fill="none" stroke="#2a2a2a" stroke-width="1.1"/><g transform="translate(142.7 386.6) scale(0.84 1)"><text x="0" y="0" font-size="5.8" font-weight="bold" text-anchor="middle" fill="#111" stroke="#111" stroke-width="0.32">96%</text></g><g transform="translate(178.5 386.6) scale(0.84 1)"><text x="0" y="0" font-size="5.8" font-weight="bold" text-anchor="middle" fill="#111" stroke="#111" stroke-width="0.32">4%</text></g><g transform="translate(142.7 429.9) scale(0.84 1)"><text x="0" y="0" font-size="5.8" font-weight="bold" text-anchor="middle" fill="#111" stroke="#111" stroke-width="0.32">0%</text></g><g transform="translate(178.5 429.9) scale(0.84 1)"><text x="0" y="0" font-size="5.8" font-weight="bold" text-anchor="middle" fill="#111" stroke="#111" stroke-width="0.32">0%</text></g><text x="132.9" y="442.0" font-size="3.9" fill="#4a4a4a" text-anchor="middle">10<tspan font-size="2.81" dy="-1.6">0</tspan></text><text x="146.7" y="442.0" font-size="3.9" fill="#4a4a4a" text-anchor="middle">10<tspan font-size="2.81" dy="-1.6">1</tspan></text><text x="160.5" y="442.0" font-size="3.9" fill="#4a4a4a" text-anchor="middle">10<tspan font-size="2.81" dy="-1.6">2</tspan></text><text x="174.4" y="442.0" font-size="3.9" fill="#4a4a4a" text-anchor="middle">10<tspan font-size="2.81" dy="-1.6">3</tspan></text><text x="188.2" y="442.0" font-size="3.9" fill="#4a4a4a" text-anchor="middle">10<tspan font-size="2.81" dy="-1.6">4</tspan></text><text x="129.1" y="437.4" font-size="3.9" fill="#4a4a4a" text-anchor="middle">10<tspan font-size="2.81" dy="-1.6">0</tspan></text><text x="129.1" y="423.3" font-size="3.9" fill="#4a4a4a" text-anchor="middle">10<tspan font-size="2.81" dy="-1.6">1</tspan></text><text x="129.1" y="409.2" font-size="3.9" fill="#4a4a4a" text-anchor="middle">10<tspan font-size="2.81" dy="-1.6">2</tspan></text><text x="129.1" y="395.2" font-size="3.9" fill="#4a4a4a" text-anchor="middle">10<tspan font-size="2.81" dy="-1.6">3</tspan></text><text x="129.1" y="381.1" font-size="3.9" fill="#4a4a4a" text-anchor="middle">10<tspan font-size="2.81" dy="-1.6">4</tspan></text><g clip-path="url(#c22)"><g filter="url(#soft)"><ellipse cx="249.0" cy="404.0" rx="8.00" ry="4.00" fill="none" stroke="#e27a7a" stroke-width="0.55" transform="rotate(-20 249 404)"/><path d="M244 406 L248 402 L250 406 Z" fill="#fbe6e3" stroke="#e27a7a" stroke-width="0.55"/><ellipse cx="253.0" cy="402.0" rx="8.40" ry="5.82" fill="#fadcd8" transform="rotate(-15 253 402)"/><ellipse cx="253.0" cy="402.0" rx="8.40" ry="5.82" fill="none" stroke="#e27a7a" stroke-width="0.55" transform="rotate(-15 253 402)"/><ellipse cx="253.0" cy="402.0" rx="7.95" ry="5.51" fill="none" stroke="#e27a7a" stroke-width="0.55" transform="rotate(-15 253 402)"/><ellipse cx="253.0" cy="402.0" rx="7.50" ry="5.20" fill="#ee6a50" transform="rotate(-15 253 402)"/><ellipse cx="253.0" cy="402.0" rx="6.98" ry="4.73" fill="#f59a34" transform="rotate(-15 253 402)"/><ellipse cx="253.0" cy="402.0" rx="6.38" ry="4.22" fill="#f6e03a" transform="rotate(-15 253 402)"/><ellipse cx="253.0" cy="402.0" rx="5.78" ry="3.73" fill="#b6d83a" transform="rotate(-15 253 402)"/><ellipse cx="253.0" cy="402.0" rx="5.03" ry="3.14" fill="#3aa83a" transform="rotate(-15 253 402)"/><ellipse cx="253.0" cy="402.0" rx="3.75" ry="2.21" fill="#15867a" transform="rotate(-15 253 402)"/><ellipse cx="253.0" cy="402.0" rx="3.07" ry="1.75" fill="#1f3f9e" transform="rotate(-15 253 402)"/><ellipse cx="253.0" cy="402.0" rx="1.05" ry="0.54" fill="#a8b0f0" transform="rotate(-15 253 402)"/></g></g><line x1="231.6" y1="378.6" x2="231.6" y2="434.4" stroke="#6a6a6a" stroke-width="0.9"/><line x1="215.3" y1="409.0" x2="271.5" y2="409.0" stroke="#6a6a6a" stroke-width="0.9"/><path d="M215.3 378.6 H271.5 V434.4" fill="none" stroke="#8a8a8a" stroke-width="1.1"/><path d="M215.3 378.1 V434.4 H272.0" fill="none" stroke="#2a2a2a" stroke-width="1.1"/><g transform="translate(224.3 386.6) scale(0.84 1)"><text x="0" y="0" font-size="5.8" font-weight="bold" text-anchor="middle" fill="#111" stroke="#111" stroke-width="0.32">0%</text></g><g transform="translate(260.0 386.6) scale(0.84 1)"><text x="0" y="0" font-size="5.8" font-weight="bold" text-anchor="middle" fill="#111" stroke="#111" stroke-width="0.32">100%</text></g><g transform="translate(224.3 429.9) scale(0.84 1)"><text x="0" y="0" font-size="5.8" font-weight="bold" text-anchor="middle" fill="#111" stroke="#111" stroke-width="0.32">0%</text></g><g transform="translate(260.0 429.9) scale(0.84 1)"><text x="0" y="0" font-size="5.8" font-weight="bold" text-anchor="middle" fill="#111" stroke="#111" stroke-width="0.32">0%</text></g><text x="214.5" y="442.0" font-size="3.9" fill="#4a4a4a" text-anchor="middle">10<tspan font-size="2.81" dy="-1.6">0</tspan></text><text x="228.3" y="442.0" font-size="3.9" fill="#4a4a4a" text-anchor="middle">10<tspan font-size="2.81" dy="-1.6">1</tspan></text><text x="242.1" y="442.0" font-size="3.9" fill="#4a4a4a" text-anchor="middle">10<tspan font-size="2.81" dy="-1.6">2</tspan></text><text x="255.9" y="442.0" font-size="3.9" fill="#4a4a4a" text-anchor="middle">10<tspan font-size="2.81" dy="-1.6">3</tspan></text><text x="269.7" y="442.0" font-size="3.9" fill="#4a4a4a" text-anchor="middle">10<tspan font-size="2.81" dy="-1.6">4</tspan></text><text x="210.7" y="437.4" font-size="3.9" fill="#4a4a4a" text-anchor="middle">10<tspan font-size="2.81" dy="-1.6">0</tspan></text><text x="210.7" y="423.3" font-size="3.9" fill="#4a4a4a" text-anchor="middle">10<tspan font-size="2.81" dy="-1.6">1</tspan></text><text x="210.7" y="409.2" font-size="3.9" fill="#4a4a4a" text-anchor="middle">10<tspan font-size="2.81" dy="-1.6">2</tspan></text><text x="210.7" y="395.2" font-size="3.9" fill="#4a4a4a" text-anchor="middle">10<tspan font-size="2.81" dy="-1.6">3</tspan></text><text x="210.7" y="381.1" font-size="3.9" fill="#4a4a4a" text-anchor="middle">10<tspan font-size="2.81" dy="-1.6">4</tspan></text><g clip-path="url(#c23)"><g filter="url(#soft)"><path d="M318 400 L326 403 L328 408 L324 408 L318 404" fill="#fbe3e0" stroke="#e27a7a" stroke-width="0.55"/><ellipse cx="324.0" cy="404.5" rx="3.00" ry="2.00" fill="none" stroke="#e27a7a" stroke-width="0.55" transform="rotate(30 324 404.5)"/><path d="M306 396 C307 391 312 388 318 388 C322 389 324 393 322 398 C318 402 310 402 306 396 Z" fill="#fbe3e0" stroke="#e88080" stroke-width="0.55"/><ellipse cx="315.5" cy="395.0" rx="8.96" ry="6.48" fill="#fadcd8" transform="rotate(-20 315.5 395)"/><ellipse cx="315.5" cy="395.0" rx="8.96" ry="6.48" fill="none" stroke="#e27a7a" stroke-width="0.55" transform="rotate(-20 315.5 395)"/><ellipse cx="315.5" cy="395.0" rx="8.63" ry="6.24" fill="none" stroke="#e27a7a" stroke-width="0.55" transform="rotate(-20 315.5 395)"/><ellipse cx="315.5" cy="395.0" rx="8.30" ry="6.00" fill="#ee6a50" transform="rotate(-20 315.5 395)"/><ellipse cx="315.5" cy="395.0" rx="7.72" ry="5.46" fill="#f59a34" transform="rotate(-20 315.5 395)"/><ellipse cx="315.5" cy="395.0" rx="7.06" ry="4.87" fill="#f6e03a" transform="rotate(-20 315.5 395)"/><ellipse cx="315.5" cy="395.0" rx="6.39" ry="4.30" fill="#b6d83a" transform="rotate(-20 315.5 395)"/><ellipse cx="315.5" cy="395.0" rx="5.56" ry="3.62" fill="#3aa83a" transform="rotate(-20 315.5 395)"/><ellipse cx="315.5" cy="395.0" rx="4.15" ry="2.55" fill="#15867a" transform="rotate(-20 315.5 395)"/><ellipse cx="315.5" cy="395.0" rx="3.40" ry="2.02" fill="#1f3f9e" transform="rotate(-20 315.5 395)"/><ellipse cx="315.5" cy="395.0" rx="1.16" ry="0.62" fill="#a8b0f0" transform="rotate(-20 315.5 395)"/></g></g><line x1="313.5" y1="378.6" x2="313.5" y2="434.4" stroke="#6a6a6a" stroke-width="0.9"/><line x1="296.4" y1="408.0" x2="352.6" y2="408.0" stroke="#6a6a6a" stroke-width="0.9"/><path d="M296.4 378.6 H352.6 V434.4" fill="none" stroke="#8a8a8a" stroke-width="1.1"/><path d="M296.4 378.1 V434.4 H353.1" fill="none" stroke="#2a2a2a" stroke-width="1.1"/><g transform="translate(305.4 386.6) scale(0.84 1)"><text x="0" y="0" font-size="5.8" font-weight="bold" text-anchor="middle" fill="#111" stroke="#111" stroke-width="0.32">16%</text></g><g transform="translate(341.1 386.6) scale(0.84 1)"><text x="0" y="0" font-size="5.8" font-weight="bold" text-anchor="middle" fill="#111" stroke="#111" stroke-width="0.32">84%</text></g><g transform="translate(305.4 429.9) scale(0.84 1)"><text x="0" y="0" font-size="5.8" font-weight="bold" text-anchor="middle" fill="#111" stroke="#111" stroke-width="0.32">0%</text></g><g transform="translate(341.1 429.9) scale(0.84 1)"><text x="0" y="0" font-size="5.8" font-weight="bold" text-anchor="middle" fill="#111" stroke="#111" stroke-width="0.32">0%</text></g><text x="295.6" y="442.0" font-size="3.9" fill="#4a4a4a" text-anchor="middle">10<tspan font-size="2.81" dy="-1.6">0</tspan></text><text x="309.4" y="442.0" font-size="3.9" fill="#4a4a4a" text-anchor="middle">10<tspan font-size="2.81" dy="-1.6">1</tspan></text><text x="323.2" y="442.0" font-size="3.9" fill="#4a4a4a" text-anchor="middle">10<tspan font-size="2.81" dy="-1.6">2</tspan></text><text x="337.0" y="442.0" font-size="3.9" fill="#4a4a4a" text-anchor="middle">10<tspan font-size="2.81" dy="-1.6">3</tspan></text><text x="350.8" y="442.0" font-size="3.9" fill="#4a4a4a" text-anchor="middle">10<tspan font-size="2.81" dy="-1.6">4</tspan></text><text x="291.8" y="437.4" font-size="3.9" fill="#4a4a4a" text-anchor="middle">10<tspan font-size="2.81" dy="-1.6">0</tspan></text><text x="291.8" y="423.3" font-size="3.9" fill="#4a4a4a" text-anchor="middle">10<tspan font-size="2.81" dy="-1.6">1</tspan></text><text x="291.8" y="409.2" font-size="3.9" fill="#4a4a4a" text-anchor="middle">10<tspan font-size="2.81" dy="-1.6">2</tspan></text><text x="291.8" y="395.2" font-size="3.9" fill="#4a4a4a" text-anchor="middle">10<tspan font-size="2.81" dy="-1.6">3</tspan></text><text x="291.8" y="381.1" font-size="3.9" fill="#4a4a4a" text-anchor="middle">10<tspan font-size="2.81" dy="-1.6">4</tspan></text><g clip-path="url(#c24)"><g filter="url(#soft)"><ellipse cx="407.0" cy="404.0" rx="1.80" ry="5.00" fill="none" stroke="#e27a7a" stroke-width="0.55" transform="rotate(35 407 404)"/><ellipse cx="407.0" cy="404.0" rx="1.00" ry="3.50" fill="none" stroke="#e27a7a" stroke-width="0.55" transform="rotate(35 407 404)"/><ellipse cx="388.0" cy="428.0" rx="8.00" ry="5.00" fill="#f6ccc8"/><ellipse cx="388.0" cy="428.0" rx="8.00" ry="5.00" fill="none" stroke="#e27a7a" stroke-width="0.55"/><ellipse cx="386.0" cy="428.0" rx="5.00" ry="3.00" fill="none" stroke="#e27a7a" stroke-width="0.55"/><ellipse cx="396.0" cy="428.0" rx="9.45" ry="7.14" fill="#fadcd8"/><ellipse cx="396.0" cy="428.0" rx="9.45" ry="7.14" fill="none" stroke="#e27a7a" stroke-width="0.55"/><ellipse cx="396.0" cy="428.0" rx="9.22" ry="6.97" fill="none" stroke="#e27a7a" stroke-width="0.55"/><ellipse cx="396.0" cy="428.0" rx="9.00" ry="6.80" fill="#ee6a50"/><ellipse cx="396.0" cy="428.0" rx="8.37" ry="6.19" fill="#f59a34"/><ellipse cx="396.0" cy="428.0" rx="7.65" ry="5.52" fill="#f6e03a"/><ellipse cx="396.0" cy="428.0" rx="6.93" ry="4.87" fill="#b6d83a"/><ellipse cx="396.0" cy="428.0" rx="6.03" ry="4.10" fill="#3aa83a"/><ellipse cx="396.0" cy="428.0" rx="4.50" ry="2.89" fill="#15867a"/><ellipse cx="396.0" cy="428.0" rx="3.69" ry="2.29" fill="#1f3f9e"/><ellipse cx="396.0" cy="428.0" rx="1.26" ry="0.71" fill="#a8b0f0"/></g></g><line x1="393.4" y1="378.6" x2="393.4" y2="434.4" stroke="#6a6a6a" stroke-width="0.9"/><line x1="378.6" y1="408.0" x2="434.5" y2="408.0" stroke="#6a6a6a" stroke-width="0.9"/><path d="M378.6 378.6 H434.5 V434.4" fill="none" stroke="#8a8a8a" stroke-width="1.1"/><path d="M378.6 378.1 V434.4 H435.0" fill="none" stroke="#2a2a2a" stroke-width="1.1"/><g transform="translate(387.6 386.6) scale(0.84 1)"><text x="0" y="0" font-size="5.8" font-weight="bold" text-anchor="middle" fill="#111" stroke="#111" stroke-width="0.32">0%</text></g><g transform="translate(423.0 386.6) scale(0.84 1)"><text x="0" y="0" font-size="5.8" font-weight="bold" text-anchor="middle" fill="#111" stroke="#111" stroke-width="0.32">3%</text></g><g transform="translate(387.6 429.9) scale(0.84 1)"><text x="0" y="0" font-size="5.8" font-weight="bold" text-anchor="middle" fill="#111" stroke="#111" stroke-width="0.32">29%</text></g><g transform="translate(423.0 429.9) scale(0.84 1)"><text x="0" y="0" font-size="5.8" font-weight="bold" text-anchor="middle" fill="#111" stroke="#111" stroke-width="0.32">68%</text></g><text x="377.8" y="442.0" font-size="3.9" fill="#4a4a4a" text-anchor="middle">10<tspan font-size="2.81" dy="-1.6">0</tspan></text><text x="391.5" y="442.0" font-size="3.9" fill="#4a4a4a" text-anchor="middle">10<tspan font-size="2.81" dy="-1.6">1</tspan></text><text x="405.2" y="442.0" font-size="3.9" fill="#4a4a4a" text-anchor="middle">10<tspan font-size="2.81" dy="-1.6">2</tspan></text><text x="419.0" y="442.0" font-size="3.9" fill="#4a4a4a" text-anchor="middle">10<tspan font-size="2.81" dy="-1.6">3</tspan></text><text x="432.7" y="442.0" font-size="3.9" fill="#4a4a4a" text-anchor="middle">10<tspan font-size="2.81" dy="-1.6">4</tspan></text><text x="374.0" y="437.4" font-size="3.9" fill="#4a4a4a" text-anchor="middle">10<tspan font-size="2.81" dy="-1.6">0</tspan></text><text x="374.0" y="423.3" font-size="3.9" fill="#4a4a4a" text-anchor="middle">10<tspan font-size="2.81" dy="-1.6">1</tspan></text><text x="374.0" y="409.2" font-size="3.9" fill="#4a4a4a" text-anchor="middle">10<tspan font-size="2.81" dy="-1.6">2</tspan></text><text x="374.0" y="395.2" font-size="3.9" fill="#4a4a4a" text-anchor="middle">10<tspan font-size="2.81" dy="-1.6">3</tspan></text><text x="374.0" y="381.1" font-size="3.9" fill="#4a4a4a" text-anchor="middle">10<tspan font-size="2.81" dy="-1.6">4</tspan></text><g clip-path="url(#c25)"><g filter="url(#soft)"><ellipse cx="498.0" cy="410.0" rx="3.00" ry="4.00" fill="none" stroke="#e27a7a" stroke-width="0.55" transform="rotate(30 498 410)"/><ellipse cx="494.0" cy="414.0" rx="2.00" ry="4.00" fill="none" stroke="#e27a7a" stroke-width="0.55" transform="rotate(40 494 414)"/><path d="M460.5 416 C466 412 478 411.5 488 413 C490 416 491 424 490 434 L460.5 434 Z" fill="#fbe3e0" stroke="#e88080" stroke-width="0.55"/><path d="M461 417 C466 413.5 478 413 487 414.5 C489 418 489.5 425 489 434 L461 434 Z" fill="#ea5a44" stroke="#e27a7a" stroke-width="0"/><path d="M462.5 418.5 C467 415.5 478 415 486 416 C487.5 419 488 425 487.5 433.5 L462.5 433.5 Z" fill="#f39530" stroke="#e27a7a" stroke-width="0"/><path d="M464 420 C468 417.5 477 417 484.5 417.8 C486 421 486.5 426 486 432.5 L464 432.5 Z" fill="#f6e03a" stroke="#e27a7a" stroke-width="0"/><ellipse cx="470.0" cy="426.0" rx="5.00" ry="5.50" fill="#e8f0a8"/><ellipse cx="470.0" cy="426.0" rx="2.50" ry="3.00" fill="#f8fae0"/><ellipse cx="479.5" cy="424.0" rx="5.00" ry="8.00" fill="#b6d83a"/><ellipse cx="479.5" cy="424.0" rx="4.00" ry="7.00" fill="#3aa83a"/><ellipse cx="479.5" cy="423.5" rx="2.80" ry="5.50" fill="#15867a"/><ellipse cx="479.5" cy="423.0" rx="1.80" ry="4.00" fill="#1f3f9e"/><ellipse cx="479.5" cy="422.0" rx="0.80" ry="2.00" fill="#a59ae8"/></g></g><line x1="476.6" y1="378.6" x2="476.6" y2="434.4" stroke="#6a6a6a" stroke-width="0.9"/><line x1="459.3" y1="407.4" x2="516.2" y2="407.4" stroke="#6a6a6a" stroke-width="0.9"/><path d="M459.3 378.6 H516.2 V434.4" fill="none" stroke="#8a8a8a" stroke-width="1.1"/><path d="M459.3 378.1 V434.4 H516.7" fill="none" stroke="#2a2a2a" stroke-width="1.1"/><g transform="translate(468.3 386.6) scale(0.84 1)"><text x="0" y="0" font-size="5.8" font-weight="bold" text-anchor="middle" fill="#111" stroke="#111" stroke-width="0.32">0%</text></g><g transform="translate(504.70000000000005 386.6) scale(0.84 1)"><text x="0" y="0" font-size="5.8" font-weight="bold" text-anchor="middle" fill="#111" stroke="#111" stroke-width="0.32">1%</text></g><g transform="translate(468.3 429.9) scale(0.84 1)"><text x="0" y="0" font-size="5.8" font-weight="bold" text-anchor="middle" fill="#111" stroke="#111" stroke-width="0.32">43%</text></g><g transform="translate(504.70000000000005 429.9) scale(0.84 1)"><text x="0" y="0" font-size="5.8" font-weight="bold" text-anchor="middle" fill="#111" stroke="#111" stroke-width="0.32">56%</text></g><text x="458.5" y="442.0" font-size="3.9" fill="#4a4a4a" text-anchor="middle">10<tspan font-size="2.81" dy="-1.6">0</tspan></text><text x="472.5" y="442.0" font-size="3.9" fill="#4a4a4a" text-anchor="middle">10<tspan font-size="2.81" dy="-1.6">1</tspan></text><text x="486.5" y="442.0" font-size="3.9" fill="#4a4a4a" text-anchor="middle">10<tspan font-size="2.81" dy="-1.6">2</tspan></text><text x="500.4" y="442.0" font-size="3.9" fill="#4a4a4a" text-anchor="middle">10<tspan font-size="2.81" dy="-1.6">3</tspan></text><text x="514.4" y="442.0" font-size="3.9" fill="#4a4a4a" text-anchor="middle">10<tspan font-size="2.81" dy="-1.6">4</tspan></text><text x="454.7" y="437.4" font-size="3.9" fill="#4a4a4a" text-anchor="middle">10<tspan font-size="2.81" dy="-1.6">0</tspan></text><text x="454.7" y="423.3" font-size="3.9" fill="#4a4a4a" text-anchor="middle">10<tspan font-size="2.81" dy="-1.6">1</tspan></text><text x="454.7" y="409.2" font-size="3.9" fill="#4a4a4a" text-anchor="middle">10<tspan font-size="2.81" dy="-1.6">2</tspan></text><text x="454.7" y="395.2" font-size="3.9" fill="#4a4a4a" text-anchor="middle">10<tspan font-size="2.81" dy="-1.6">3</tspan></text><text x="454.7" y="381.1" font-size="3.9" fill="#4a4a4a" text-anchor="middle">10<tspan font-size="2.81" dy="-1.6">4</tspan></text><g clip-path="url(#c26)"><g filter="url(#soft)"><path fill="#c4c6d6" fill-opacity="0.25" d="M74.8 498.4h0.8v0.8h-0.8zM55.5 503.5h0.8v0.8h-0.8zM72.7 492.7h0.8v0.8h-0.8zM75.5 485.2h0.8v0.8h-0.8zM63.3 488.9h0.8v0.8h-0.8zM63.1 492.7h0.8v0.8h-0.8zM61.4 501.5h0.8v0.8h-0.8zM88.7 493.1h0.8v0.8h-0.8zM66.4 508.7h0.8v0.8h-0.8zM95.1 469.5h0.8v0.8h-0.8zM62.4 502.6h0.8v0.8h-0.8zM84.6 494.7h0.8v0.8h-0.8zM88.8 478.7h0.8v0.8h-0.8zM76.0 494.0h0.8v0.8h-0.8zM78.7 498.2h0.8v0.8h-0.8zM88.2 474.7h0.8v0.8h-0.8zM95.2 482.5h0.8v0.8h-0.8zM83.0 482.0h0.8v0.8h-0.8zM64.7 498.2h0.8v0.8h-0.8zM94.6 483.2h0.8v0.8h-0.8zM62.9 500.0h0.8v0.8h-0.8zM64.6 497.7h0.8v0.8h-0.8zM75.0 491.4h0.8v0.8h-0.8zM64.9 492.8h0.8v0.8h-0.8zM60.8 497.2h0.8v0.8h-0.8zM65.6 500.8h0.8v0.8h-0.8zM67.0 486.3h0.8v0.8h-0.8zM82.7 480.4h0.8v0.8h-0.8zM69.8 504.2h0.8v0.8h-0.8zM86.7 475.5h0.8v0.8h-0.8zM59.5 504.3h0.8v0.8h-0.8zM76.0 506.5h0.8v0.8h-0.8zM53.1 489.2h0.8v0.8h-0.8zM71.3 500.4h0.8v0.8h-0.8zM74.0 490.8h0.8v0.8h-0.8zM61.4 495.4h0.8v0.8h-0.8zM76.0 480.7h0.8v0.8h-0.8zM91.7 488.8h0.8v0.8h-0.8zM73.3 484.8h0.8v0.8h-0.8zM77.3 485.4h0.8v0.8h-0.8zM87.5 490.9h0.8v0.8h-0.8zM89.2 481.7h0.8v0.8h-0.8zM68.2 503.8h0.8v0.8h-0.8zM73.8 480.9h0.8v0.8h-0.8zM74.9 478.5h0.8v0.8h-0.8zM82.6 486.1h0.8v0.8h-0.8zM88.1 486.3h0.8v0.8h-0.8zM69.1 496.2h0.8v0.8h-0.8zM87.3 480.2h0.8v0.8h-0.8zM94.1 474.6h0.8v0.8h-0.8zM98.3 474.9h0.8v0.8h-0.8zM71.8 501.5h0.8v0.8h-0.8zM69.9 489.1h0.8v0.8h-0.8zM89.2 486.4h0.8v0.8h-0.8zM58.7 500.6h0.8v0.8h-0.8zM68.0 497.6h0.8v0.8h-0.8zM71.4 502.9h0.8v0.8h-0.8zM69.8 489.8h0.8v0.8h-0.8zM83.8 487.2h0.8v0.8h-0.8zM53.3 500.6h0.8v0.8h-0.8zM79.4 494.7h0.8v0.8h-0.8zM74.4 499.6h0.8v0.8h-0.8zM99.6 485.1h0.8v0.8h-0.8zM67.8 498.1h0.8v0.8h-0.8zM72.5 491.8h0.8v0.8h-0.8zM63.9 498.2h0.8v0.8h-0.8zM84.7 488.5h0.8v0.8h-0.8zM90.0 474.9h0.8v0.8h-0.8zM62.1 498.3h0.8v0.8h-0.8zM84.0 482.6h0.8v0.8h-0.8zM91.3 482.9h0.8v0.8h-0.8zM85.8 488.8h0.8v0.8h-0.8zM76.8 498.0h0.8v0.8h-0.8zM71.2 495.1h0.8v0.8h-0.8zM76.5 500.2h0.8v0.8h-0.8zM97.6 478.2h0.8v0.8h-0.8zM80.7 496.4h0.8v0.8h-0.8zM58.7 495.1h0.8v0.8h-0.8zM86.6 484.4h0.8v0.8h-0.8zM79.1 492.6h0.8v0.8h-0.8zM72.6 494.3h0.8v0.8h-0.8zM93.4 490.5h0.8v0.8h-0.8zM67.5 496.0h0.8v0.8h-0.8zM72.7 492.5h0.8v0.8h-0.8zM94.8 476.6h0.8v0.8h-0.8zM68.2 502.3h0.8v0.8h-0.8zM94.3 473.6h0.8v0.8h-0.8zM58.5 504.7h0.8v0.8h-0.8zM61.6 496.0h0.8v0.8h-0.8zM73.4 501.3h0.8v0.8h-0.8zM64.0 494.6h0.8v0.8h-0.8zM71.3 494.7h0.8v0.8h-0.8zM75.7 485.9h0.8v0.8h-0.8zM92.0 483.3h0.8v0.8h-0.8zM78.6 489.5h0.8v0.8h-0.8zM76.9 491.5h0.8v0.8h-0.8zM85.5 485.5h0.8v0.8h-0.8zM101.5 478.0h0.8v0.8h-0.8zM94.6 482.0h0.8v0.8h-0.8zM79.2 482.0h0.8v0.8h-0.8zM92.9 491.2h0.8v0.8h-0.8zM64.2 508.9h0.8v0.8h-0.8zM60.3 496.7h0.8v0.8h-0.8zM85.4 477.2h0.8v0.8h-0.8zM96.3 490.3h0.8v0.8h-0.8zM58.9 486.6h0.8v0.8h-0.8zM79.9 492.2h0.8v0.8h-0.8zM87.1 493.1h0.8v0.8h-0.8zM73.9 485.7h0.8v0.8h-0.8zM100.3 473.5h0.8v0.8h-0.8zM93.3 471.1h0.8v0.8h-0.8zM85.4 484.1h0.8v0.8h-0.8zM61.1 495.6h0.8v0.8h-0.8zM95.9 477.2h0.8v0.8h-0.8zM67.0 482.8h0.8v0.8h-0.8zM83.8 497.0h0.8v0.8h-0.8zM80.0 493.2h0.8v0.8h-0.8zM73.8 490.0h0.8v0.8h-0.8zM55.3 492.8h0.8v0.8h-0.8zM67.1 497.2h0.8v0.8h-0.8zM63.4 505.9h0.8v0.8h-0.8zM75.2 486.8h0.8v0.8h-0.8zM79.4 491.5h0.8v0.8h-0.8zM100.3 482.8h0.8v0.8h-0.8zM76.7 492.2h0.8v0.8h-0.8zM68.4 500.4h0.8v0.8h-0.8zM68.4 497.4h0.8v0.8h-0.8zM80.3 490.2h0.8v0.8h-0.8zM69.3 501.6h0.8v0.8h-0.8zM84.9 495.0h0.8v0.8h-0.8zM73.9 491.7h0.8v0.8h-0.8zM55.3 498.6h0.8v0.8h-0.8zM72.3 501.5h0.8v0.8h-0.8zM81.8 483.9h0.8v0.8h-0.8zM72.4 488.9h0.8v0.8h-0.8zM96.9 482.8h0.8v0.8h-0.8zM73.7 485.2h0.8v0.8h-0.8zM74.0 495.2h0.8v0.8h-0.8zM81.7 482.5h0.8v0.8h-0.8zM87.1 488.5h0.8v0.8h-0.8zM80.0 487.9h0.8v0.8h-0.8zM76.1 482.1h0.8v0.8h-0.8zM98.7 482.9h0.8v0.8h-0.8zM78.1 499.4h0.8v0.8h-0.8zM76.9 500.3h0.8v0.8h-0.8zM72.1 501.8h0.8v0.8h-0.8zM66.6 498.5h0.8v0.8h-0.8zM79.4 478.2h0.8v0.8h-0.8zM66.6 488.8h0.8v0.8h-0.8zM103.3 479.9h0.8v0.8h-0.8zM77.3 487.1h0.8v0.8h-0.8zM89.1 482.5h0.8v0.8h-0.8zM61.4 503.9h0.8v0.8h-0.8zM81.6 494.3h0.8v0.8h-0.8zM94.9 484.0h0.8v0.8h-0.8zM55.9 500.7h0.8v0.8h-0.8zM72.3 483.9h0.8v0.8h-0.8zM80.8 488.2h0.8v0.8h-0.8zM96.0 481.5h0.8v0.8h-0.8zM89.1 485.2h0.8v0.8h-0.8zM101.3 480.6h0.8v0.8h-0.8zM84.7 476.5h0.8v0.8h-0.8zM62.4 490.7h0.8v0.8h-0.8zM83.9 483.4h0.8v0.8h-0.8zM89.7 489.1h0.8v0.8h-0.8zM66.7 503.9h0.8v0.8h-0.8zM75.2 506.2h0.8v0.8h-0.8zM85.8 495.8h0.8v0.8h-0.8zM94.3 472.6h0.8v0.8h-0.8zM92.2 471.6h0.8v0.8h-0.8zM63.7 500.9h0.8v0.8h-0.8zM85.0 484.1h0.8v0.8h-0.8zM91.5 489.2h0.8v0.8h-0.8zM82.7 485.8h0.8v0.8h-0.8zM72.0 500.4h0.8v0.8h-0.8zM64.3 499.2h0.8v0.8h-0.8zM73.4 491.0h0.8v0.8h-0.8zM84.7 478.6h0.8v0.8h-0.8zM91.9 485.2h0.8v0.8h-0.8zM103.3 490.1h0.8v0.8h-0.8zM77.4 489.5h0.8v0.8h-0.8zM65.3 504.8h0.8v0.8h-0.8zM98.7 481.4h0.8v0.8h-0.8zM92.1 479.0h0.8v0.8h-0.8zM98.7 470.0h0.8v0.8h-0.8zM67.8 503.9h0.8v0.8h-0.8zM100.8 480.3h0.8v0.8h-0.8zM63.8 502.7h0.8v0.8h-0.8zM66.4 490.8h0.8v0.8h-0.8zM98.0 480.2h0.8v0.8h-0.8zM78.8 481.6h0.8v0.8h-0.8zM98.8 471.7h0.8v0.8h-0.8zM83.7 486.7h0.8v0.8h-0.8zM75.7 498.8h0.8v0.8h-0.8zM65.6 493.8h0.8v0.8h-0.8zM73.8 483.1h0.8v0.8h-0.8zM81.8 488.3h0.8v0.8h-0.8zM67.2 486.4h0.8v0.8h-0.8zM91.3 488.7h0.8v0.8h-0.8zM75.9 496.4h0.8v0.8h-0.8zM70.2 499.7h0.8v0.8h-0.8zM86.5 485.3h0.8v0.8h-0.8zM94.7 471.8h0.8v0.8h-0.8zM84.6 483.4h0.8v0.8h-0.8zM87.7 488.9h0.8v0.8h-0.8zM103.4 488.8h0.8v0.8h-0.8zM67.6 487.0h0.8v0.8h-0.8zM69.0 504.5h0.8v0.8h-0.8zM64.9 489.1h0.8v0.8h-0.8zM95.1 487.9h0.8v0.8h-0.8zM62.6 506.7h0.8v0.8h-0.8zM74.7 483.5h0.8v0.8h-0.8zM75.0 507.8h0.8v0.8h-0.8zM91.2 492.8h0.8v0.8h-0.8zM72.5 485.2h0.8v0.8h-0.8zM96.1 481.7h0.8v0.8h-0.8zM64.8 492.6h0.8v0.8h-0.8zM97.8 491.3h0.8v0.8h-0.8zM74.9 502.9h0.8v0.8h-0.8zM69.5 486.6h0.8v0.8h-0.8zM69.6 491.7h0.8v0.8h-0.8zM64.4 495.2h0.8v0.8h-0.8zM91.3 474.0h0.8v0.8h-0.8zM72.5 482.2h0.8v0.8h-0.8zM96.6 485.9h0.8v0.8h-0.8zM86.4 477.2h0.8v0.8h-0.8zM70.3 506.3h0.8v0.8h-0.8zM58.7 510.0h0.8v0.8h-0.8zM74.2 488.0h0.8v0.8h-0.8zM92.3 483.2h0.8v0.8h-0.8zM83.0 494.6h0.8v0.8h-0.8zM88.7 489.0h0.8v0.8h-0.8zM74.4 484.0h0.8v0.8h-0.8zM65.8 498.6h0.8v0.8h-0.8zM95.4 489.1h0.8v0.8h-0.8zM77.3 496.5h0.8v0.8h-0.8zM88.1 494.8h0.8v0.8h-0.8zM66.9 495.4h0.8v0.8h-0.8zM102.0 482.4h0.8v0.8h-0.8zM71.9 497.6h0.8v0.8h-0.8zM61.3 508.3h0.8v0.8h-0.8zM66.6 488.6h0.8v0.8h-0.8zM94.6 480.0h0.8v0.8h-0.8zM67.8 504.6h0.8v0.8h-0.8zM94.8 487.2h0.8v0.8h-0.8zM84.2 482.8h0.8v0.8h-0.8zM65.9 496.4h0.8v0.8h-0.8zM73.6 508.2h0.8v0.8h-0.8zM85.8 492.5h0.8v0.8h-0.8zM70.4 497.1h0.8v0.8h-0.8zM77.1 492.8h0.8v0.8h-0.8zM66.4 508.1h0.8v0.8h-0.8zM84.2 484.7h0.8v0.8h-0.8zM88.9 475.5h0.8v0.8h-0.8zM62.6 506.8h0.8v0.8h-0.8zM94.6 492.2h0.8v0.8h-0.8zM92.1 489.1h0.8v0.8h-0.8zM83.6 471.1h0.8v0.8h-0.8zM84.5 484.3h0.8v0.8h-0.8zM89.6 480.5h0.8v0.8h-0.8zM76.2 487.1h0.8v0.8h-0.8zM98.9 474.3h0.8v0.8h-0.8zM72.0 494.1h0.8v0.8h-0.8zM77.1 484.4h0.8v0.8h-0.8zM64.3 496.8h0.8v0.8h-0.8zM68.5 495.9h0.8v0.8h-0.8zM90.9 479.5h0.8v0.8h-0.8zM76.9 493.3h0.8v0.8h-0.8zM65.3 486.4h0.8v0.8h-0.8zM75.5 486.1h0.8v0.8h-0.8zM96.0 471.3h0.8v0.8h-0.8zM63.8 488.9h0.8v0.8h-0.8zM89.7 482.3h0.8v0.8h-0.8zM83.5 488.3h0.8v0.8h-0.8zM74.0 501.8h0.8v0.8h-0.8zM79.1 482.4h0.8v0.8h-0.8zM88.1 489.7h0.8v0.8h-0.8zM66.3 488.0h0.8v0.8h-0.8zM64.0 502.2h0.8v0.8h-0.8zM82.4 497.7h0.8v0.8h-0.8zM78.2 498.3h0.8v0.8h-0.8zM58.5 489.8h0.8v0.8h-0.8zM61.2 503.5h0.8v0.8h-0.8zM76.2 484.6h0.8v0.8h-0.8zM68.2 502.9h0.8v0.8h-0.8zM87.6 491.2h0.8v0.8h-0.8zM93.8 481.1h0.8v0.8h-0.8zM75.2 498.1h0.8v0.8h-0.8zM75.7 491.1h0.8v0.8h-0.8zM67.4 500.9h0.8v0.8h-0.8zM85.6 492.5h0.8v0.8h-0.8zM68.5 501.3h0.8v0.8h-0.8zM85.5 494.1h0.8v0.8h-0.8zM66.6 506.7h0.8v0.8h-0.8zM73.6 499.1h0.8v0.8h-0.8zM92.0 471.8h0.8v0.8h-0.8zM77.5 497.4h0.8v0.8h-0.8zM57.7 490.6h0.8v0.8h-0.8zM88.7 481.9h0.8v0.8h-0.8zM88.0 494.7h0.8v0.8h-0.8zM91.1 481.7h0.8v0.8h-0.8zM97.0 479.8h0.8v0.8h-0.8zM68.3 495.7h0.8v0.8h-0.8zM86.9 472.9h0.8v0.8h-0.8zM60.6 491.1h0.8v0.8h-0.8zM76.1 483.2h0.8v0.8h-0.8zM84.2 479.6h0.8v0.8h-0.8zM67.8 502.9h0.8v0.8h-0.8zM67.1 502.4h0.8v0.8h-0.8zM83.8 474.5h0.8v0.8h-0.8zM64.3 491.5h0.8v0.8h-0.8zM85.7 478.7h0.8v0.8h-0.8zM87.8 496.7h0.8v0.8h-0.8zM87.5 478.1h0.8v0.8h-0.8zM64.2 491.9h0.8v0.8h-0.8zM73.0 495.7h0.8v0.8h-0.8zM93.5 477.3h0.8v0.8h-0.8zM90.0 480.0h0.8v0.8h-0.8zM93.7 473.3h0.8v0.8h-0.8zM73.0 503.6h0.8v0.8h-0.8zM71.1 504.4h0.8v0.8h-0.8zM83.2 491.3h0.8v0.8h-0.8zM88.8 481.8h0.8v0.8h-0.8zM79.5 487.1h0.8v0.8h-0.8zM57.7 501.2h0.8v0.8h-0.8zM90.1 482.5h0.8v0.8h-0.8zM90.5 476.2h0.8v0.8h-0.8zM87.6 484.6h0.8v0.8h-0.8zM82.8 489.0h0.8v0.8h-0.8zM80.2 495.1h0.8v0.8h-0.8zM89.8 480.8h0.8v0.8h-0.8zM74.0 497.9h0.8v0.8h-0.8zM81.1 486.5h0.8v0.8h-0.8zM66.2 494.9h0.8v0.8h-0.8zM88.2 473.5h0.8v0.8h-0.8zM85.3 491.4h0.8v0.8h-0.8zM60.9 490.2h0.8v0.8h-0.8zM86.0 490.1h0.8v0.8h-0.8zM77.9 490.8h0.8v0.8h-0.8zM95.0 483.2h0.8v0.8h-0.8zM96.5 472.4h0.8v0.8h-0.8zM76.2 497.5h0.8v0.8h-0.8zM74.7 499.9h0.8v0.8h-0.8zM80.9 484.4h0.8v0.8h-0.8zM85.6 490.2h0.8v0.8h-0.8zM87.3 480.6h0.8v0.8h-0.8zM60.9 495.0h0.8v0.8h-0.8zM68.7 501.7h0.8v0.8h-0.8zM65.5 486.6h0.8v0.8h-0.8zM91.9 476.8h0.8v0.8h-0.8zM77.8 485.8h0.8v0.8h-0.8zM91.6 488.3h0.8v0.8h-0.8zM92.3 487.7h0.8v0.8h-0.8zM58.9 491.6h0.8v0.8h-0.8zM69.6 496.1h0.8v0.8h-0.8zM86.0 477.1h0.8v0.8h-0.8zM92.6 478.2h0.8v0.8h-0.8zM96.2 474.4h0.8v0.8h-0.8zM89.0 493.1h0.8v0.8h-0.8zM91.4 490.1h0.8v0.8h-0.8zM71.8 495.2h0.8v0.8h-0.8zM77.3 493.9h0.8v0.8h-0.8zM88.8 483.1h0.8v0.8h-0.8zM78.0 501.5h0.8v0.8h-0.8zM81.8 485.8h0.8v0.8h-0.8zM72.4 482.0h0.8v0.8h-0.8zM82.0 482.5h0.8v0.8h-0.8zM69.7 482.9h0.8v0.8h-0.8zM104.5 482.2h0.8v0.8h-0.8zM67.7 484.9h0.8v0.8h-0.8zM87.1 493.6h0.8v0.8h-0.8zM78.5 498.4h0.8v0.8h-0.8zM80.9 496.9h0.8v0.8h-0.8zM77.8 487.9h0.8v0.8h-0.8zM89.8 498.8h0.8v0.8h-0.8zM84.3 487.2h0.8v0.8h-0.8zM77.1 497.1h0.8v0.8h-0.8zM72.2 495.3h0.8v0.8h-0.8zM77.3 481.2h0.8v0.8h-0.8zM80.3 491.7h0.8v0.8h-0.8zM85.5 491.2h0.8v0.8h-0.8zM86.6 482.5h0.8v0.8h-0.8zM97.9 482.0h0.8v0.8h-0.8zM76.2 485.4h0.8v0.8h-0.8zM88.7 483.6h0.8v0.8h-0.8zM74.0 485.8h0.8v0.8h-0.8zM90.7 481.1h0.8v0.8h-0.8zM79.1 492.2h0.8v0.8h-0.8zM77.8 499.4h0.8v0.8h-0.8zM77.2 498.8h0.8v0.8h-0.8zM73.1 498.0h0.8v0.8h-0.8zM73.3 486.1h0.8v0.8h-0.8zM94.2 472.7h0.8v0.8h-0.8zM98.9 483.5h0.8v0.8h-0.8zM87.6 475.9h0.8v0.8h-0.8zM66.0 487.4h0.8v0.8h-0.8zM79.9 482.3h0.8v0.8h-0.8zM84.7 491.8h0.8v0.8h-0.8zM63.5 509.0h0.8v0.8h-0.8zM67.6 502.0h0.8v0.8h-0.8zM60.0 505.8h0.8v0.8h-0.8zM95.3 488.9h0.8v0.8h-0.8zM67.4 502.9h0.8v0.8h-0.8zM95.2 492.1h0.8v0.8h-0.8zM90.6 479.3h0.8v0.8h-0.8zM83.2 482.1h0.8v0.8h-0.8zM68.6 504.0h0.8v0.8h-0.8zM77.5 505.5h0.8v0.8h-0.8zM87.4 477.3h0.8v0.8h-0.8zM63.3 498.6h0.8v0.8h-0.8zM79.5 489.9h0.8v0.8h-0.8zM93.3 489.2h0.8v0.8h-0.8zM71.9 504.6h0.8v0.8h-0.8zM94.9 471.1h0.8v0.8h-0.8zM60.2 500.2h0.8v0.8h-0.8zM71.5 504.4h0.8v0.8h-0.8zM61.3 490.2h0.8v0.8h-0.8zM74.0 496.2h0.8v0.8h-0.8zM77.9 488.1h0.8v0.8h-0.8zM70.5 495.1h0.8v0.8h-0.8z"/><path fill="#a8a0d0" fill-opacity="0.45" d="M72.3 509.5h0.8v0.8h-0.8zM68.4 511.6h0.8v0.8h-0.8zM70.2 510.0h0.8v0.8h-0.8zM70.5 507.2h0.8v0.8h-0.8zM67.9 508.1h0.8v0.8h-0.8zM67.5 512.0h0.8v0.8h-0.8zM66.2 509.2h0.8v0.8h-0.8zM69.3 508.1h0.8v0.8h-0.8zM70.2 508.1h0.8v0.8h-0.8zM66.9 507.4h0.8v0.8h-0.8zM71.9 508.8h0.8v0.8h-0.8zM69.8 510.4h0.8v0.8h-0.8zM70.2 508.3h0.8v0.8h-0.8zM70.9 511.2h0.8v0.8h-0.8zM66.9 510.8h0.8v0.8h-0.8zM70.4 511.2h0.8v0.8h-0.8zM70.6 509.2h0.8v0.8h-0.8zM68.1 510.5h0.8v0.8h-0.8zM70.2 510.2h0.8v0.8h-0.8zM68.6 511.4h0.8v0.8h-0.8zM71.2 511.2h0.8v0.8h-0.8zM68.4 510.5h0.8v0.8h-0.8zM71.3 507.4h0.8v0.8h-0.8zM68.2 509.9h0.8v0.8h-0.8zM66.9 509.4h0.8v0.8h-0.8zM69.7 507.1h0.8v0.8h-0.8zM70.6 509.5h0.8v0.8h-0.8zM71.8 509.5h0.8v0.8h-0.8zM68.6 509.4h0.8v0.8h-0.8zM70.3 506.6h0.8v0.8h-0.8zM69.0 510.7h0.8v0.8h-0.8zM70.9 510.1h0.8v0.8h-0.8zM67.5 509.4h0.8v0.8h-0.8zM70.3 509.5h0.8v0.8h-0.8zM69.8 512.5h0.8v0.8h-0.8zM73.0 508.8h0.8v0.8h-0.8zM67.8 509.6h0.8v0.8h-0.8zM71.9 507.9h0.8v0.8h-0.8zM67.8 507.5h0.8v0.8h-0.8zM71.5 508.8h0.8v0.8h-0.8zM69.4 512.1h0.8v0.8h-0.8zM70.7 509.0h0.8v0.8h-0.8zM67.2 511.3h0.8v0.8h-0.8zM69.7 509.0h0.8v0.8h-0.8zM70.0 508.4h0.8v0.8h-0.8zM69.9 509.9h0.8v0.8h-0.8zM67.6 509.9h0.8v0.8h-0.8zM70.6 511.8h0.8v0.8h-0.8zM71.1 512.9h0.8v0.8h-0.8zM71.1 509.5h0.8v0.8h-0.8zM70.2 509.6h0.8v0.8h-0.8zM67.9 509.2h0.8v0.8h-0.8zM69.8 507.9h0.8v0.8h-0.8zM69.5 510.4h0.8v0.8h-0.8zM72.6 509.4h0.8v0.8h-0.8zM69.0 508.5h0.8v0.8h-0.8zM66.7 510.4h0.8v0.8h-0.8zM68.6 508.5h0.8v0.8h-0.8zM67.6 511.9h0.8v0.8h-0.8zM71.9 510.3h0.8v0.8h-0.8zM68.9 507.6h0.8v0.8h-0.8zM65.6 508.3h0.8v0.8h-0.8zM68.1 511.9h0.8v0.8h-0.8zM69.0 506.9h0.8v0.8h-0.8zM72.0 510.5h0.8v0.8h-0.8zM68.8 510.1h0.8v0.8h-0.8zM70.7 508.8h0.8v0.8h-0.8zM68.0 509.8h0.8v0.8h-0.8zM70.6 510.4h0.8v0.8h-0.8zM67.5 508.0h0.8v0.8h-0.8z"/><ellipse cx="82.5" cy="505.5" rx="10" ry="7.8" transform="rotate(-30 82.5 505.5)" fill="#9ad680" opacity="0.55"/><ellipse cx="82.5" cy="506" rx="7" ry="5.5" transform="rotate(-30 82.5 506)" fill="#6cc050" opacity="0.6"/><path fill="#5cb440" fill-opacity="0.5" d="M81.4 503.7h0.8v0.8h-0.8zM84.6 512.0h0.8v0.8h-0.8zM75.0 508.8h0.8v0.8h-0.8zM78.5 508.8h0.8v0.8h-0.8zM91.4 502.0h0.8v0.8h-0.8zM86.6 499.4h0.8v0.8h-0.8zM86.3 509.1h0.8v0.8h-0.8zM79.7 504.1h0.8v0.8h-0.8zM78.6 513.8h0.8v0.8h-0.8zM84.5 510.1h0.8v0.8h-0.8zM83.5 505.2h0.8v0.8h-0.8zM86.5 504.2h0.8v0.8h-0.8zM86.6 500.8h0.8v0.8h-0.8zM80.2 507.1h0.8v0.8h-0.8zM80.0 506.1h0.8v0.8h-0.8zM86.7 504.6h0.8v0.8h-0.8zM85.3 511.2h0.8v0.8h-0.8zM75.8 507.0h0.8v0.8h-0.8zM83.5 509.0h0.8v0.8h-0.8zM86.2 505.6h0.8v0.8h-0.8zM88.9 501.6h0.8v0.8h-0.8zM81.5 511.1h0.8v0.8h-0.8zM87.5 498.6h0.8v0.8h-0.8zM79.8 506.7h0.8v0.8h-0.8zM84.3 505.0h0.8v0.8h-0.8zM82.9 498.7h0.8v0.8h-0.8zM77.6 502.0h0.8v0.8h-0.8zM88.0 506.6h0.8v0.8h-0.8zM83.6 504.9h0.8v0.8h-0.8zM82.0 505.5h0.8v0.8h-0.8zM79.9 509.0h0.8v0.8h-0.8zM84.0 501.8h0.8v0.8h-0.8zM86.9 509.0h0.8v0.8h-0.8zM93.5 508.8h0.8v0.8h-0.8zM91.7 494.2h0.8v0.8h-0.8zM79.7 505.3h0.8v0.8h-0.8zM87.3 509.0h0.8v0.8h-0.8zM77.2 511.0h0.8v0.8h-0.8zM86.2 508.6h0.8v0.8h-0.8zM83.5 502.2h0.8v0.8h-0.8zM82.9 503.3h0.8v0.8h-0.8zM81.4 505.1h0.8v0.8h-0.8zM83.3 506.7h0.8v0.8h-0.8zM86.3 508.1h0.8v0.8h-0.8zM82.5 498.5h0.8v0.8h-0.8zM84.6 502.7h0.8v0.8h-0.8zM86.0 501.8h0.8v0.8h-0.8zM76.5 503.2h0.8v0.8h-0.8zM83.5 508.3h0.8v0.8h-0.8zM79.5 508.7h0.8v0.8h-0.8zM77.8 499.9h0.8v0.8h-0.8zM81.3 505.1h0.8v0.8h-0.8zM81.7 499.1h0.8v0.8h-0.8zM85.2 503.7h0.8v0.8h-0.8zM85.8 501.9h0.8v0.8h-0.8zM79.3 506.4h0.8v0.8h-0.8zM84.3 508.8h0.8v0.8h-0.8zM78.9 506.3h0.8v0.8h-0.8zM77.5 506.9h0.8v0.8h-0.8zM86.3 509.2h0.8v0.8h-0.8zM82.4 506.6h0.8v0.8h-0.8zM84.6 508.6h0.8v0.8h-0.8zM80.8 505.4h0.8v0.8h-0.8zM83.4 503.9h0.8v0.8h-0.8zM83.3 504.7h0.8v0.8h-0.8zM82.6 509.0h0.8v0.8h-0.8zM80.9 504.8h0.8v0.8h-0.8zM87.9 509.9h0.8v0.8h-0.8zM83.5 504.2h0.8v0.8h-0.8zM86.7 505.3h0.8v0.8h-0.8zM80.3 511.5h0.8v0.8h-0.8zM87.4 500.6h0.8v0.8h-0.8zM82.1 508.3h0.8v0.8h-0.8zM84.3 505.1h0.8v0.8h-0.8zM85.4 497.5h0.8v0.8h-0.8zM81.3 508.3h0.8v0.8h-0.8zM83.6 502.6h0.8v0.8h-0.8zM77.1 513.5h0.8v0.8h-0.8zM86.8 503.6h0.8v0.8h-0.8zM85.8 507.9h0.8v0.8h-0.8zM90.8 496.6h0.8v0.8h-0.8zM79.2 499.3h0.8v0.8h-0.8zM79.5 512.0h0.8v0.8h-0.8zM77.5 499.4h0.8v0.8h-0.8zM79.6 513.3h0.8v0.8h-0.8zM86.8 508.1h0.8v0.8h-0.8zM88.3 499.9h0.8v0.8h-0.8zM81.5 503.5h0.8v0.8h-0.8zM80.3 510.6h0.8v0.8h-0.8zM82.3 502.7h0.8v0.8h-0.8zM74.8 508.2h0.8v0.8h-0.8zM80.0 504.0h0.8v0.8h-0.8zM86.8 505.3h0.8v0.8h-0.8zM86.6 508.2h0.8v0.8h-0.8zM81.1 506.1h0.8v0.8h-0.8zM89.8 497.7h0.8v0.8h-0.8zM85.0 507.2h0.8v0.8h-0.8zM83.4 504.7h0.8v0.8h-0.8zM86.2 506.7h0.8v0.8h-0.8zM82.8 504.1h0.8v0.8h-0.8zM74.8 508.7h0.8v0.8h-0.8zM77.8 505.0h0.8v0.8h-0.8zM76.2 503.8h0.8v0.8h-0.8zM79.2 507.7h0.8v0.8h-0.8zM74.8 504.4h0.8v0.8h-0.8zM89.1 505.1h0.8v0.8h-0.8zM80.8 507.7h0.8v0.8h-0.8zM82.3 507.0h0.8v0.8h-0.8zM82.9 500.5h0.8v0.8h-0.8zM75.9 512.6h0.8v0.8h-0.8zM83.0 501.5h0.8v0.8h-0.8zM88.7 503.1h0.8v0.8h-0.8zM85.6 509.4h0.8v0.8h-0.8zM90.7 505.1h0.8v0.8h-0.8zM83.2 503.0h0.8v0.8h-0.8zM82.6 503.8h0.8v0.8h-0.8zM87.8 506.7h0.8v0.8h-0.8zM84.6 508.4h0.8v0.8h-0.8zM79.7 512.3h0.8v0.8h-0.8zM80.2 498.2h0.8v0.8h-0.8zM84.1 507.8h0.8v0.8h-0.8zM83.1 501.5h0.8v0.8h-0.8zM87.8 505.7h0.8v0.8h-0.8zM85.5 509.7h0.8v0.8h-0.8zM81.0 507.8h0.8v0.8h-0.8zM78.8 498.9h0.8v0.8h-0.8zM85.2 506.3h0.8v0.8h-0.8zM79.9 507.0h0.8v0.8h-0.8zM86.6 502.1h0.8v0.8h-0.8zM85.6 504.9h0.8v0.8h-0.8zM84.5 507.4h0.8v0.8h-0.8zM73.2 505.4h0.8v0.8h-0.8zM79.5 510.4h0.8v0.8h-0.8zM86.8 501.7h0.8v0.8h-0.8zM78.6 513.5h0.8v0.8h-0.8zM78.8 503.7h0.8v0.8h-0.8zM82.6 502.6h0.8v0.8h-0.8zM85.8 505.4h0.8v0.8h-0.8zM81.3 513.3h0.8v0.8h-0.8zM83.2 506.7h0.8v0.8h-0.8zM90.6 505.6h0.8v0.8h-0.8zM71.8 511.5h0.8v0.8h-0.8zM82.1 507.7h0.8v0.8h-0.8zM88.2 508.5h0.8v0.8h-0.8zM74.0 510.2h0.8v0.8h-0.8zM86.6 501.6h0.8v0.8h-0.8zM91.5 504.7h0.8v0.8h-0.8zM85.1 500.3h0.8v0.8h-0.8zM74.4 508.7h0.8v0.8h-0.8zM82.2 506.3h0.8v0.8h-0.8zM86.7 501.9h0.8v0.8h-0.8zM80.9 513.7h0.8v0.8h-0.8zM85.3 501.4h0.8v0.8h-0.8zM74.7 493.9h0.8v0.8h-0.8zM77.1 508.1h0.8v0.8h-0.8zM84.3 503.6h0.8v0.8h-0.8zM80.5 504.0h0.8v0.8h-0.8zM81.9 512.3h0.8v0.8h-0.8zM92.9 503.8h0.8v0.8h-0.8zM76.5 499.6h0.8v0.8h-0.8zM83.8 500.1h0.8v0.8h-0.8zM81.4 507.2h0.8v0.8h-0.8zM87.3 499.0h0.8v0.8h-0.8zM82.3 508.7h0.8v0.8h-0.8zM86.0 502.7h0.8v0.8h-0.8zM85.1 506.6h0.8v0.8h-0.8zM77.3 501.2h0.8v0.8h-0.8zM84.5 510.6h0.8v0.8h-0.8zM75.7 505.8h0.8v0.8h-0.8zM89.1 507.9h0.8v0.8h-0.8zM84.6 505.5h0.8v0.8h-0.8zM72.6 505.8h0.8v0.8h-0.8zM76.1 501.6h0.8v0.8h-0.8zM84.4 499.5h0.8v0.8h-0.8zM90.6 495.8h0.8v0.8h-0.8zM82.9 503.3h0.8v0.8h-0.8zM83.3 509.5h0.8v0.8h-0.8zM77.3 507.2h0.8v0.8h-0.8zM85.7 499.9h0.8v0.8h-0.8zM91.5 494.4h0.8v0.8h-0.8zM86.3 504.2h0.8v0.8h-0.8zM84.4 504.2h0.8v0.8h-0.8zM81.3 507.9h0.8v0.8h-0.8zM78.3 503.9h0.8v0.8h-0.8zM86.7 495.1h0.8v0.8h-0.8zM84.3 502.1h0.8v0.8h-0.8zM69.2 502.9h0.8v0.8h-0.8zM79.3 509.4h0.8v0.8h-0.8zM88.0 502.0h0.8v0.8h-0.8zM88.2 502.6h0.8v0.8h-0.8zM83.7 505.7h0.8v0.8h-0.8zM85.7 498.8h0.8v0.8h-0.8zM76.6 514.5h0.8v0.8h-0.8zM83.3 506.3h0.8v0.8h-0.8zM87.9 504.1h0.8v0.8h-0.8zM84.8 510.3h0.8v0.8h-0.8zM87.0 502.0h0.8v0.8h-0.8zM82.8 503.5h0.8v0.8h-0.8zM80.8 503.7h0.8v0.8h-0.8zM84.1 500.5h0.8v0.8h-0.8zM81.1 509.5h0.8v0.8h-0.8zM86.2 510.0h0.8v0.8h-0.8zM80.2 507.0h0.8v0.8h-0.8zM83.5 508.9h0.8v0.8h-0.8zM83.1 507.6h0.8v0.8h-0.8zM75.1 507.7h0.8v0.8h-0.8zM89.2 501.8h0.8v0.8h-0.8zM86.1 508.1h0.8v0.8h-0.8zM82.4 502.3h0.8v0.8h-0.8zM82.9 503.8h0.8v0.8h-0.8zM82.5 505.7h0.8v0.8h-0.8zM88.5 507.3h0.8v0.8h-0.8zM87.8 499.2h0.8v0.8h-0.8zM86.1 509.0h0.8v0.8h-0.8zM79.1 505.0h0.8v0.8h-0.8zM91.9 503.4h0.8v0.8h-0.8zM85.4 502.2h0.8v0.8h-0.8zM90.6 505.4h0.8v0.8h-0.8zM83.5 506.2h0.8v0.8h-0.8zM85.3 503.7h0.8v0.8h-0.8zM85.6 509.8h0.8v0.8h-0.8zM78.8 501.7h0.8v0.8h-0.8zM90.5 508.6h0.8v0.8h-0.8zM81.4 508.2h0.8v0.8h-0.8zM82.0 502.9h0.8v0.8h-0.8zM80.1 508.4h0.8v0.8h-0.8zM75.7 510.5h0.8v0.8h-0.8zM99.4 507.3h0.8v0.8h-0.8zM74.0 510.2h0.8v0.8h-0.8zM79.0 508.7h0.8v0.8h-0.8zM80.7 505.9h0.8v0.8h-0.8zM84.1 506.6h0.8v0.8h-0.8zM85.3 506.8h0.8v0.8h-0.8zM90.7 509.0h0.8v0.8h-0.8zM86.1 504.4h0.8v0.8h-0.8zM88.8 504.1h0.8v0.8h-0.8zM85.1 500.5h0.8v0.8h-0.8zM78.7 512.4h0.8v0.8h-0.8zM75.2 505.9h0.8v0.8h-0.8zM80.6 503.4h0.8v0.8h-0.8zM86.5 504.7h0.8v0.8h-0.8zM87.2 509.4h0.8v0.8h-0.8zM82.8 504.0h0.8v0.8h-0.8zM76.7 506.4h0.8v0.8h-0.8zM79.9 508.0h0.8v0.8h-0.8zM90.2 500.8h0.8v0.8h-0.8zM80.1 499.1h0.8v0.8h-0.8zM88.9 497.8h0.8v0.8h-0.8zM81.2 500.2h0.8v0.8h-0.8zM86.6 503.8h0.8v0.8h-0.8zM81.4 512.4h0.8v0.8h-0.8zM90.0 502.5h0.8v0.8h-0.8zM81.1 507.2h0.8v0.8h-0.8zM81.0 508.7h0.8v0.8h-0.8zM79.7 504.3h0.8v0.8h-0.8zM86.1 511.1h0.8v0.8h-0.8zM78.4 512.2h0.8v0.8h-0.8zM86.6 506.2h0.8v0.8h-0.8zM85.2 506.8h0.8v0.8h-0.8zM73.6 510.3h0.8v0.8h-0.8zM73.6 510.4h0.8v0.8h-0.8zM82.2 506.9h0.8v0.8h-0.8zM83.1 502.2h0.8v0.8h-0.8zM83.4 511.1h0.8v0.8h-0.8zM87.8 502.3h0.8v0.8h-0.8zM79.2 507.1h0.8v0.8h-0.8zM86.9 504.5h0.8v0.8h-0.8zM86.0 508.6h0.8v0.8h-0.8zM85.8 506.0h0.8v0.8h-0.8zM82.8 506.3h0.8v0.8h-0.8zM82.1 502.0h0.8v0.8h-0.8zM77.8 501.7h0.8v0.8h-0.8zM79.3 502.3h0.8v0.8h-0.8zM86.8 508.4h0.8v0.8h-0.8zM81.9 508.6h0.8v0.8h-0.8zM83.7 497.3h0.8v0.8h-0.8zM84.9 496.8h0.8v0.8h-0.8zM73.9 505.4h0.8v0.8h-0.8zM73.3 504.5h0.8v0.8h-0.8zM84.5 506.8h0.8v0.8h-0.8zM87.1 505.1h0.8v0.8h-0.8zM87.9 501.9h0.8v0.8h-0.8zM83.7 510.6h0.8v0.8h-0.8zM82.2 510.8h0.8v0.8h-0.8zM78.8 501.1h0.8v0.8h-0.8zM77.7 506.0h0.8v0.8h-0.8zM84.0 506.2h0.8v0.8h-0.8zM86.8 505.3h0.8v0.8h-0.8zM84.5 497.5h0.8v0.8h-0.8zM87.6 508.9h0.8v0.8h-0.8zM80.9 509.4h0.8v0.8h-0.8zM85.8 500.4h0.8v0.8h-0.8zM72.0 508.4h0.8v0.8h-0.8zM83.1 508.6h0.8v0.8h-0.8zM86.2 505.6h0.8v0.8h-0.8zM81.5 504.6h0.8v0.8h-0.8zM79.9 506.9h0.8v0.8h-0.8zM81.1 506.3h0.8v0.8h-0.8zM78.1 504.1h0.8v0.8h-0.8zM83.6 502.5h0.8v0.8h-0.8zM87.8 506.8h0.8v0.8h-0.8zM82.4 514.9h0.8v0.8h-0.8zM74.4 503.6h0.8v0.8h-0.8zM75.5 505.6h0.8v0.8h-0.8zM84.6 509.3h0.8v0.8h-0.8zM86.6 509.1h0.8v0.8h-0.8zM74.5 513.1h0.8v0.8h-0.8zM75.1 505.9h0.8v0.8h-0.8zM95.6 505.4h0.8v0.8h-0.8zM81.6 502.9h0.8v0.8h-0.8zM77.3 502.6h0.8v0.8h-0.8zM81.8 508.8h0.8v0.8h-0.8zM85.0 505.2h0.8v0.8h-0.8zM81.7 508.7h0.8v0.8h-0.8zM88.7 510.1h0.8v0.8h-0.8zM85.4 507.8h0.8v0.8h-0.8zM87.1 505.6h0.8v0.8h-0.8zM85.6 504.8h0.8v0.8h-0.8zM84.3 500.2h0.8v0.8h-0.8zM77.2 504.9h0.8v0.8h-0.8zM79.8 505.6h0.8v0.8h-0.8zM88.5 503.4h0.8v0.8h-0.8zM82.9 506.0h0.8v0.8h-0.8zM84.2 500.0h0.8v0.8h-0.8zM81.2 502.8h0.8v0.8h-0.8zM88.0 509.0h0.8v0.8h-0.8zM85.3 507.1h0.8v0.8h-0.8zM87.7 500.5h0.8v0.8h-0.8zM81.0 498.8h0.8v0.8h-0.8zM84.7 505.5h0.8v0.8h-0.8zM86.3 512.5h0.8v0.8h-0.8zM83.7 503.6h0.8v0.8h-0.8zM81.0 506.1h0.8v0.8h-0.8zM75.2 511.1h0.8v0.8h-0.8zM79.7 508.1h0.8v0.8h-0.8zM88.3 508.9h0.8v0.8h-0.8zM81.4 506.0h0.8v0.8h-0.8zM83.7 506.6h0.8v0.8h-0.8zM80.5 507.4h0.8v0.8h-0.8zM81.1 507.7h0.8v0.8h-0.8zM89.6 501.3h0.8v0.8h-0.8zM89.8 503.0h0.8v0.8h-0.8zM90.5 505.5h0.8v0.8h-0.8zM74.6 507.1h0.8v0.8h-0.8zM76.7 511.0h0.8v0.8h-0.8zM79.8 511.4h0.8v0.8h-0.8zM83.2 507.4h0.8v0.8h-0.8zM74.7 500.9h0.8v0.8h-0.8zM79.3 505.4h0.8v0.8h-0.8zM84.4 507.2h0.8v0.8h-0.8zM79.0 508.8h0.8v0.8h-0.8zM82.5 510.7h0.8v0.8h-0.8zM80.1 507.8h0.8v0.8h-0.8zM89.1 504.7h0.8v0.8h-0.8zM88.2 506.9h0.8v0.8h-0.8zM87.0 505.6h0.8v0.8h-0.8zM82.2 513.1h0.8v0.8h-0.8zM90.7 507.9h0.8v0.8h-0.8zM82.3 508.2h0.8v0.8h-0.8zM73.7 511.0h0.8v0.8h-0.8zM79.5 506.0h0.8v0.8h-0.8zM84.7 503.2h0.8v0.8h-0.8zM82.1 499.2h0.8v0.8h-0.8zM91.4 497.1h0.8v0.8h-0.8zM76.4 504.1h0.8v0.8h-0.8zM83.0 497.3h0.8v0.8h-0.8zM82.0 512.7h0.8v0.8h-0.8zM76.0 506.8h0.8v0.8h-0.8zM80.2 510.9h0.8v0.8h-0.8zM80.1 508.1h0.8v0.8h-0.8zM79.2 505.4h0.8v0.8h-0.8zM75.5 512.0h0.8v0.8h-0.8zM81.2 504.4h0.8v0.8h-0.8zM84.1 504.1h0.8v0.8h-0.8zM83.1 506.2h0.8v0.8h-0.8zM83.6 502.1h0.8v0.8h-0.8zM86.8 504.8h0.8v0.8h-0.8zM78.8 504.8h0.8v0.8h-0.8zM86.8 503.6h0.8v0.8h-0.8zM75.3 504.2h0.8v0.8h-0.8zM89.7 497.0h0.8v0.8h-0.8zM79.0 506.8h0.8v0.8h-0.8zM81.1 513.8h0.8v0.8h-0.8zM77.0 504.7h0.8v0.8h-0.8zM81.9 501.9h0.8v0.8h-0.8zM79.3 510.6h0.8v0.8h-0.8zM89.5 507.7h0.8v0.8h-0.8zM81.3 502.7h0.8v0.8h-0.8zM79.1 504.1h0.8v0.8h-0.8zM83.4 505.8h0.8v0.8h-0.8zM82.2 509.1h0.8v0.8h-0.8zM83.2 500.3h0.8v0.8h-0.8zM87.8 499.7h0.8v0.8h-0.8zM83.5 509.3h0.8v0.8h-0.8zM83.8 502.6h0.8v0.8h-0.8zM84.9 506.5h0.8v0.8h-0.8zM74.0 499.7h0.8v0.8h-0.8zM86.2 497.5h0.8v0.8h-0.8zM85.5 513.4h0.8v0.8h-0.8zM81.5 509.1h0.8v0.8h-0.8zM81.6 514.2h0.8v0.8h-0.8zM81.7 512.6h0.8v0.8h-0.8zM85.7 510.5h0.8v0.8h-0.8zM86.0 501.4h0.8v0.8h-0.8zM76.3 501.9h0.8v0.8h-0.8zM85.7 509.5h0.8v0.8h-0.8zM82.6 506.9h0.8v0.8h-0.8zM88.4 504.6h0.8v0.8h-0.8zM87.2 505.6h0.8v0.8h-0.8zM78.5 504.6h0.8v0.8h-0.8zM81.5 503.3h0.8v0.8h-0.8zM80.5 500.3h0.8v0.8h-0.8zM85.7 508.0h0.8v0.8h-0.8zM88.9 502.1h0.8v0.8h-0.8zM90.1 511.1h0.8v0.8h-0.8zM88.9 503.5h0.8v0.8h-0.8zM79.7 509.4h0.8v0.8h-0.8zM82.6 501.4h0.8v0.8h-0.8zM76.2 501.4h0.8v0.8h-0.8zM84.9 498.8h0.8v0.8h-0.8zM91.7 499.2h0.8v0.8h-0.8zM80.6 507.3h0.8v0.8h-0.8zM85.0 505.7h0.8v0.8h-0.8zM77.9 503.7h0.8v0.8h-0.8zM80.0 507.1h0.8v0.8h-0.8zM80.5 508.6h0.8v0.8h-0.8zM87.9 504.1h0.8v0.8h-0.8zM85.2 507.6h0.8v0.8h-0.8zM79.2 509.1h0.8v0.8h-0.8zM87.0 509.7h0.8v0.8h-0.8zM87.5 501.0h0.8v0.8h-0.8zM88.9 497.7h0.8v0.8h-0.8zM89.8 502.5h0.8v0.8h-0.8zM85.8 503.3h0.8v0.8h-0.8zM79.5 501.9h0.8v0.8h-0.8zM87.3 502.0h0.8v0.8h-0.8zM84.5 501.1h0.8v0.8h-0.8zM88.2 504.0h0.8v0.8h-0.8zM81.7 506.9h0.8v0.8h-0.8zM82.6 508.0h0.8v0.8h-0.8zM87.8 497.4h0.8v0.8h-0.8zM72.4 509.1h0.8v0.8h-0.8zM78.9 511.1h0.8v0.8h-0.8zM73.3 500.6h0.8v0.8h-0.8zM80.0 503.7h0.8v0.8h-0.8zM74.3 508.8h0.8v0.8h-0.8zM81.9 502.8h0.8v0.8h-0.8zM86.9 501.4h0.8v0.8h-0.8zM82.7 496.0h0.8v0.8h-0.8zM82.8 503.1h0.8v0.8h-0.8zM80.8 507.1h0.8v0.8h-0.8zM83.8 506.7h0.8v0.8h-0.8zM83.4 506.9h0.8v0.8h-0.8zM76.0 498.7h0.8v0.8h-0.8zM77.4 500.4h0.8v0.8h-0.8zM77.5 504.8h0.8v0.8h-0.8zM81.6 506.4h0.8v0.8h-0.8zM81.6 503.8h0.8v0.8h-0.8zM84.2 502.4h0.8v0.8h-0.8zM77.0 509.8h0.8v0.8h-0.8zM78.7 509.1h0.8v0.8h-0.8zM90.4 500.9h0.8v0.8h-0.8zM88.2 507.4h0.8v0.8h-0.8zM80.8 503.0h0.8v0.8h-0.8zM88.1 505.7h0.8v0.8h-0.8zM80.3 509.7h0.8v0.8h-0.8zM80.8 505.0h0.8v0.8h-0.8zM73.5 506.6h0.8v0.8h-0.8zM81.9 499.6h0.8v0.8h-0.8zM85.6 506.9h0.8v0.8h-0.8zM84.0 500.4h0.8v0.8h-0.8zM86.1 509.8h0.8v0.8h-0.8zM90.5 496.1h0.8v0.8h-0.8zM84.5 502.6h0.8v0.8h-0.8zM88.9 501.1h0.8v0.8h-0.8zM82.3 503.4h0.8v0.8h-0.8zM89.5 497.9h0.8v0.8h-0.8zM77.2 502.8h0.8v0.8h-0.8zM78.2 506.4h0.8v0.8h-0.8zM82.5 499.3h0.8v0.8h-0.8zM78.5 502.5h0.8v0.8h-0.8zM82.5 501.3h0.8v0.8h-0.8zM80.6 500.1h0.8v0.8h-0.8zM85.5 501.6h0.8v0.8h-0.8zM85.0 503.2h0.8v0.8h-0.8zM77.1 508.0h0.8v0.8h-0.8zM87.8 500.5h0.8v0.8h-0.8zM82.3 507.9h0.8v0.8h-0.8zM78.4 508.2h0.8v0.8h-0.8zM81.9 509.4h0.8v0.8h-0.8zM75.9 505.0h0.8v0.8h-0.8zM84.7 505.5h0.8v0.8h-0.8zM80.1 502.3h0.8v0.8h-0.8zM82.6 503.1h0.8v0.8h-0.8zM85.1 499.1h0.8v0.8h-0.8zM72.4 504.5h0.8v0.8h-0.8zM87.4 507.5h0.8v0.8h-0.8zM84.8 504.0h0.8v0.8h-0.8zM85.4 510.6h0.8v0.8h-0.8zM85.3 510.8h0.8v0.8h-0.8zM84.6 504.3h0.8v0.8h-0.8zM78.8 505.3h0.8v0.8h-0.8zM79.8 500.9h0.8v0.8h-0.8zM81.1 505.8h0.8v0.8h-0.8zM81.2 507.3h0.8v0.8h-0.8zM79.7 508.5h0.8v0.8h-0.8zM84.8 507.4h0.8v0.8h-0.8zM85.1 502.9h0.8v0.8h-0.8zM82.8 503.6h0.8v0.8h-0.8zM78.3 504.5h0.8v0.8h-0.8zM81.0 507.8h0.8v0.8h-0.8zM79.8 503.9h0.8v0.8h-0.8zM80.2 509.0h0.8v0.8h-0.8zM79.4 507.0h0.8v0.8h-0.8zM88.9 508.6h0.8v0.8h-0.8zM75.0 504.5h0.8v0.8h-0.8zM80.6 503.2h0.8v0.8h-0.8zM87.1 501.3h0.8v0.8h-0.8zM88.5 502.1h0.8v0.8h-0.8zM82.0 504.5h0.8v0.8h-0.8zM79.2 503.7h0.8v0.8h-0.8zM86.5 507.6h0.8v0.8h-0.8zM78.5 500.1h0.8v0.8h-0.8zM86.0 501.6h0.8v0.8h-0.8zM89.5 505.9h0.8v0.8h-0.8zM79.0 510.9h0.8v0.8h-0.8zM77.1 506.8h0.8v0.8h-0.8zM75.8 504.6h0.8v0.8h-0.8zM87.0 501.0h0.8v0.8h-0.8zM80.1 510.9h0.8v0.8h-0.8zM86.2 502.9h0.8v0.8h-0.8zM84.2 504.7h0.8v0.8h-0.8zM83.2 495.5h0.8v0.8h-0.8zM80.5 507.3h0.8v0.8h-0.8zM83.9 509.5h0.8v0.8h-0.8zM80.2 501.1h0.8v0.8h-0.8zM84.6 493.8h0.8v0.8h-0.8zM82.3 509.2h0.8v0.8h-0.8zM95.2 502.9h0.8v0.8h-0.8zM85.6 501.9h0.8v0.8h-0.8zM88.6 499.3h0.8v0.8h-0.8zM80.3 499.9h0.8v0.8h-0.8zM78.4 502.9h0.8v0.8h-0.8zM84.2 508.8h0.8v0.8h-0.8zM81.9 511.0h0.8v0.8h-0.8zM86.1 511.6h0.8v0.8h-0.8zM81.6 507.4h0.8v0.8h-0.8zM71.3 514.3h0.8v0.8h-0.8zM78.7 504.9h0.8v0.8h-0.8zM84.1 505.2h0.8v0.8h-0.8zM91.5 505.7h0.8v0.8h-0.8zM76.1 505.9h0.8v0.8h-0.8zM87.2 503.5h0.8v0.8h-0.8zM85.5 511.1h0.8v0.8h-0.8zM80.8 508.4h0.8v0.8h-0.8zM83.7 504.7h0.8v0.8h-0.8zM89.4 505.0h0.8v0.8h-0.8zM84.5 502.0h0.8v0.8h-0.8zM82.6 507.8h0.8v0.8h-0.8zM77.0 510.1h0.8v0.8h-0.8zM82.1 506.0h0.8v0.8h-0.8zM82.6 511.0h0.8v0.8h-0.8zM83.1 511.2h0.8v0.8h-0.8zM86.6 502.1h0.8v0.8h-0.8zM83.4 504.9h0.8v0.8h-0.8zM83.0 506.8h0.8v0.8h-0.8zM82.3 501.9h0.8v0.8h-0.8zM82.9 508.0h0.8v0.8h-0.8zM82.2 505.1h0.8v0.8h-0.8zM81.2 504.6h0.8v0.8h-0.8zM86.9 500.5h0.8v0.8h-0.8zM81.4 506.4h0.8v0.8h-0.8zM87.1 503.2h0.8v0.8h-0.8zM79.1 501.3h0.8v0.8h-0.8zM78.9 506.6h0.8v0.8h-0.8zM80.5 500.9h0.8v0.8h-0.8zM80.8 498.3h0.8v0.8h-0.8zM84.1 503.0h0.8v0.8h-0.8zM76.7 501.9h0.8v0.8h-0.8zM77.8 504.5h0.8v0.8h-0.8zM80.6 506.2h0.8v0.8h-0.8zM76.4 502.1h0.8v0.8h-0.8zM84.0 501.8h0.8v0.8h-0.8zM85.1 501.5h0.8v0.8h-0.8zM83.1 498.3h0.8v0.8h-0.8zM78.1 510.8h0.8v0.8h-0.8zM73.0 507.8h0.8v0.8h-0.8zM85.0 504.3h0.8v0.8h-0.8zM90.8 500.6h0.8v0.8h-0.8zM88.9 501.8h0.8v0.8h-0.8zM89.6 501.2h0.8v0.8h-0.8zM88.2 508.1h0.8v0.8h-0.8zM90.0 496.7h0.8v0.8h-0.8zM72.8 504.8h0.8v0.8h-0.8zM82.8 504.5h0.8v0.8h-0.8zM89.4 511.1h0.8v0.8h-0.8zM86.2 502.8h0.8v0.8h-0.8zM90.6 503.3h0.8v0.8h-0.8zM72.1 515.6h0.8v0.8h-0.8zM82.9 503.6h0.8v0.8h-0.8zM77.0 507.5h0.8v0.8h-0.8zM92.3 500.4h0.8v0.8h-0.8zM79.5 509.2h0.8v0.8h-0.8zM78.6 512.2h0.8v0.8h-0.8zM85.0 503.3h0.8v0.8h-0.8zM83.7 500.4h0.8v0.8h-0.8zM81.1 506.1h0.8v0.8h-0.8zM86.8 511.6h0.8v0.8h-0.8zM83.3 500.8h0.8v0.8h-0.8zM80.7 503.6h0.8v0.8h-0.8zM81.8 499.1h0.8v0.8h-0.8zM85.7 501.1h0.8v0.8h-0.8zM88.7 507.5h0.8v0.8h-0.8zM84.6 499.0h0.8v0.8h-0.8zM77.4 501.3h0.8v0.8h-0.8zM80.3 505.3h0.8v0.8h-0.8zM87.3 503.0h0.8v0.8h-0.8zM83.1 502.1h0.8v0.8h-0.8zM78.1 507.0h0.8v0.8h-0.8zM78.1 505.8h0.8v0.8h-0.8zM82.7 510.2h0.8v0.8h-0.8zM85.3 513.7h0.8v0.8h-0.8zM85.8 502.1h0.8v0.8h-0.8zM86.9 509.9h0.8v0.8h-0.8zM77.1 512.3h0.8v0.8h-0.8zM90.5 502.1h0.8v0.8h-0.8zM73.7 504.7h0.8v0.8h-0.8zM84.6 504.8h0.8v0.8h-0.8zM84.5 498.3h0.8v0.8h-0.8zM85.5 509.5h0.8v0.8h-0.8zM83.3 501.1h0.8v0.8h-0.8zM81.0 504.8h0.8v0.8h-0.8zM94.7 505.5h0.8v0.8h-0.8zM80.9 505.9h0.8v0.8h-0.8zM83.9 506.3h0.8v0.8h-0.8zM81.2 504.6h0.8v0.8h-0.8zM80.8 509.4h0.8v0.8h-0.8zM85.9 503.0h0.8v0.8h-0.8zM84.1 509.4h0.8v0.8h-0.8zM78.8 496.2h0.8v0.8h-0.8zM80.8 505.8h0.8v0.8h-0.8zM82.8 503.9h0.8v0.8h-0.8zM79.6 508.7h0.8v0.8h-0.8zM82.8 501.5h0.8v0.8h-0.8zM82.2 505.8h0.8v0.8h-0.8zM87.0 516.2h0.8v0.8h-0.8zM84.1 504.9h0.8v0.8h-0.8zM77.0 504.8h0.8v0.8h-0.8zM84.2 506.8h0.8v0.8h-0.8zM79.5 505.5h0.8v0.8h-0.8zM82.0 508.2h0.8v0.8h-0.8zM84.3 498.3h0.8v0.8h-0.8zM83.7 501.2h0.8v0.8h-0.8zM79.8 510.0h0.8v0.8h-0.8zM90.9 510.6h0.8v0.8h-0.8zM86.8 510.5h0.8v0.8h-0.8zM80.5 504.6h0.8v0.8h-0.8zM84.7 499.7h0.8v0.8h-0.8zM84.6 507.5h0.8v0.8h-0.8zM76.0 510.4h0.8v0.8h-0.8zM82.2 497.2h0.8v0.8h-0.8zM79.7 509.1h0.8v0.8h-0.8zM78.1 504.1h0.8v0.8h-0.8zM77.8 515.1h0.8v0.8h-0.8zM83.3 503.8h0.8v0.8h-0.8zM82.7 506.4h0.8v0.8h-0.8zM82.7 506.7h0.8v0.8h-0.8zM85.5 501.4h0.8v0.8h-0.8zM85.6 507.1h0.8v0.8h-0.8zM79.1 505.0h0.8v0.8h-0.8zM85.2 504.9h0.8v0.8h-0.8zM79.0 507.2h0.8v0.8h-0.8zM80.9 509.8h0.8v0.8h-0.8zM83.3 502.6h0.8v0.8h-0.8zM85.9 508.0h0.8v0.8h-0.8zM77.8 502.4h0.8v0.8h-0.8zM85.3 511.6h0.8v0.8h-0.8zM89.0 501.8h0.8v0.8h-0.8zM84.6 507.0h0.8v0.8h-0.8zM94.0 506.2h0.8v0.8h-0.8zM76.5 515.0h0.8v0.8h-0.8zM85.2 502.1h0.8v0.8h-0.8zM82.1 503.2h0.8v0.8h-0.8zM71.5 510.3h0.8v0.8h-0.8zM78.4 501.0h0.8v0.8h-0.8zM82.1 504.7h0.8v0.8h-0.8zM82.8 503.7h0.8v0.8h-0.8zM77.2 510.9h0.8v0.8h-0.8zM76.9 503.0h0.8v0.8h-0.8zM86.0 502.8h0.8v0.8h-0.8zM90.4 503.3h0.8v0.8h-0.8zM73.9 515.7h0.8v0.8h-0.8zM78.8 506.7h0.8v0.8h-0.8zM79.8 503.5h0.8v0.8h-0.8zM84.5 502.4h0.8v0.8h-0.8zM79.3 506.4h0.8v0.8h-0.8zM83.7 502.1h0.8v0.8h-0.8zM83.7 506.0h0.8v0.8h-0.8zM90.1 498.4h0.8v0.8h-0.8zM81.4 507.3h0.8v0.8h-0.8zM85.8 508.7h0.8v0.8h-0.8zM85.3 504.8h0.8v0.8h-0.8zM88.7 503.5h0.8v0.8h-0.8zM85.9 506.2h0.8v0.8h-0.8zM85.8 500.6h0.8v0.8h-0.8zM85.9 510.4h0.8v0.8h-0.8zM82.5 498.7h0.8v0.8h-0.8zM85.3 502.6h0.8v0.8h-0.8zM77.9 505.5h0.8v0.8h-0.8zM82.5 503.4h0.8v0.8h-0.8zM90.9 498.9h0.8v0.8h-0.8zM83.9 509.5h0.8v0.8h-0.8zM76.8 506.9h0.8v0.8h-0.8zM80.8 507.3h0.8v0.8h-0.8zM86.9 500.3h0.8v0.8h-0.8zM87.7 499.1h0.8v0.8h-0.8zM84.3 507.3h0.8v0.8h-0.8zM85.6 506.8h0.8v0.8h-0.8zM85.3 509.3h0.8v0.8h-0.8zM86.4 507.5h0.8v0.8h-0.8zM77.3 501.2h0.8v0.8h-0.8zM74.8 513.7h0.8v0.8h-0.8zM80.7 512.4h0.8v0.8h-0.8zM81.3 497.2h0.8v0.8h-0.8zM73.9 508.6h0.8v0.8h-0.8zM82.2 502.4h0.8v0.8h-0.8zM79.1 500.4h0.8v0.8h-0.8zM80.4 509.7h0.8v0.8h-0.8zM78.0 509.1h0.8v0.8h-0.8zM69.1 509.9h0.8v0.8h-0.8zM78.9 500.1h0.8v0.8h-0.8zM70.5 507.5h0.8v0.8h-0.8zM83.8 507.4h0.8v0.8h-0.8zM85.7 498.9h0.8v0.8h-0.8zM90.5 503.0h0.8v0.8h-0.8zM79.0 503.1h0.8v0.8h-0.8zM82.2 508.7h0.8v0.8h-0.8zM83.3 504.8h0.8v0.8h-0.8zM82.5 504.7h0.8v0.8h-0.8zM82.3 506.3h0.8v0.8h-0.8zM77.1 502.5h0.8v0.8h-0.8zM76.9 509.6h0.8v0.8h-0.8zM91.7 501.3h0.8v0.8h-0.8zM86.9 507.8h0.8v0.8h-0.8zM78.6 510.8h0.8v0.8h-0.8zM86.5 501.3h0.8v0.8h-0.8zM85.0 507.0h0.8v0.8h-0.8zM83.7 509.2h0.8v0.8h-0.8zM90.5 494.6h0.8v0.8h-0.8zM76.1 502.4h0.8v0.8h-0.8zM85.3 503.7h0.8v0.8h-0.8zM91.0 509.1h0.8v0.8h-0.8zM83.1 497.2h0.8v0.8h-0.8zM81.3 509.1h0.8v0.8h-0.8zM84.5 504.0h0.8v0.8h-0.8zM78.4 505.9h0.8v0.8h-0.8zM91.6 501.8h0.8v0.8h-0.8zM75.7 506.0h0.8v0.8h-0.8zM80.4 505.4h0.8v0.8h-0.8zM81.9 507.2h0.8v0.8h-0.8zM85.5 509.8h0.8v0.8h-0.8zM81.0 504.0h0.8v0.8h-0.8zM81.6 505.4h0.8v0.8h-0.8zM77.5 501.6h0.8v0.8h-0.8zM81.9 513.3h0.8v0.8h-0.8zM82.6 510.5h0.8v0.8h-0.8zM86.6 508.9h0.8v0.8h-0.8zM79.7 504.4h0.8v0.8h-0.8zM79.1 504.7h0.8v0.8h-0.8zM83.4 512.0h0.8v0.8h-0.8zM92.3 498.1h0.8v0.8h-0.8zM83.5 504.8h0.8v0.8h-0.8zM84.7 505.9h0.8v0.8h-0.8zM87.2 508.2h0.8v0.8h-0.8zM84.1 500.8h0.8v0.8h-0.8zM83.7 500.9h0.8v0.8h-0.8zM88.0 503.4h0.8v0.8h-0.8zM85.3 502.2h0.8v0.8h-0.8zM74.0 508.1h0.8v0.8h-0.8zM81.9 501.5h0.8v0.8h-0.8zM85.4 509.0h0.8v0.8h-0.8zM80.8 509.1h0.8v0.8h-0.8zM82.3 503.8h0.8v0.8h-0.8zM82.9 506.9h0.8v0.8h-0.8zM79.5 506.0h0.8v0.8h-0.8zM74.9 502.1h0.8v0.8h-0.8zM87.3 498.8h0.8v0.8h-0.8zM86.2 502.9h0.8v0.8h-0.8zM86.6 502.7h0.8v0.8h-0.8zM92.4 508.1h0.8v0.8h-0.8zM83.2 506.8h0.8v0.8h-0.8zM81.6 505.8h0.8v0.8h-0.8zM85.7 506.6h0.8v0.8h-0.8zM88.8 504.5h0.8v0.8h-0.8zM82.3 499.9h0.8v0.8h-0.8zM80.1 502.8h0.8v0.8h-0.8zM80.0 507.5h0.8v0.8h-0.8zM81.6 503.7h0.8v0.8h-0.8zM82.0 500.8h0.8v0.8h-0.8zM73.8 508.2h0.8v0.8h-0.8zM81.6 508.1h0.8v0.8h-0.8zM82.7 504.8h0.8v0.8h-0.8zM83.3 509.1h0.8v0.8h-0.8zM77.7 509.7h0.8v0.8h-0.8zM81.6 506.7h0.8v0.8h-0.8zM88.0 508.6h0.8v0.8h-0.8zM86.5 503.4h0.8v0.8h-0.8zM79.2 505.1h0.8v0.8h-0.8zM89.0 502.5h0.8v0.8h-0.8zM69.6 504.6h0.8v0.8h-0.8zM75.9 502.3h0.8v0.8h-0.8zM81.3 509.3h0.8v0.8h-0.8zM77.1 503.6h0.8v0.8h-0.8zM75.3 511.4h0.8v0.8h-0.8zM80.6 501.7h0.8v0.8h-0.8zM85.6 505.0h0.8v0.8h-0.8zM87.0 504.5h0.8v0.8h-0.8zM84.5 507.6h0.8v0.8h-0.8zM78.3 499.8h0.8v0.8h-0.8zM80.3 507.9h0.8v0.8h-0.8zM87.3 498.2h0.8v0.8h-0.8zM81.8 495.0h0.8v0.8h-0.8zM86.2 510.2h0.8v0.8h-0.8zM82.4 505.6h0.8v0.8h-0.8zM86.8 507.7h0.8v0.8h-0.8zM84.6 502.6h0.8v0.8h-0.8zM87.5 510.5h0.8v0.8h-0.8zM81.9 504.2h0.8v0.8h-0.8zM83.4 510.2h0.8v0.8h-0.8zM84.2 500.8h0.8v0.8h-0.8zM78.5 508.3h0.8v0.8h-0.8zM80.0 498.0h0.8v0.8h-0.8zM85.1 513.7h0.8v0.8h-0.8zM81.9 507.7h0.8v0.8h-0.8zM83.0 504.4h0.8v0.8h-0.8zM75.8 503.9h0.8v0.8h-0.8zM84.7 504.5h0.8v0.8h-0.8zM81.4 507.8h0.8v0.8h-0.8zM75.3 500.9h0.8v0.8h-0.8zM77.1 509.1h0.8v0.8h-0.8zM84.8 505.4h0.8v0.8h-0.8zM73.7 510.3h0.8v0.8h-0.8zM83.3 506.5h0.8v0.8h-0.8zM80.7 506.5h0.8v0.8h-0.8zM87.9 499.8h0.8v0.8h-0.8zM85.3 512.3h0.8v0.8h-0.8zM80.0 508.6h0.8v0.8h-0.8zM86.4 499.8h0.8v0.8h-0.8zM92.3 495.9h0.8v0.8h-0.8zM89.8 506.2h0.8v0.8h-0.8zM86.0 509.8h0.8v0.8h-0.8zM85.5 506.2h0.8v0.8h-0.8zM80.4 506.8h0.8v0.8h-0.8zM79.9 500.2h0.8v0.8h-0.8zM82.9 503.0h0.8v0.8h-0.8zM83.3 506.8h0.8v0.8h-0.8zM85.9 506.0h0.8v0.8h-0.8zM91.8 501.4h0.8v0.8h-0.8zM73.0 511.1h0.8v0.8h-0.8zM83.3 507.9h0.8v0.8h-0.8zM84.2 502.6h0.8v0.8h-0.8zM78.9 510.9h0.8v0.8h-0.8zM77.6 506.1h0.8v0.8h-0.8zM80.3 501.5h0.8v0.8h-0.8zM81.9 506.6h0.8v0.8h-0.8zM84.3 502.7h0.8v0.8h-0.8zM75.7 504.7h0.8v0.8h-0.8zM81.7 499.7h0.8v0.8h-0.8zM80.1 504.2h0.8v0.8h-0.8zM74.5 510.6h0.8v0.8h-0.8zM81.0 512.2h0.8v0.8h-0.8zM76.5 506.4h0.8v0.8h-0.8zM76.4 503.8h0.8v0.8h-0.8zM82.0 505.8h0.8v0.8h-0.8zM87.4 504.6h0.8v0.8h-0.8zM90.2 504.5h0.8v0.8h-0.8zM79.2 511.5h0.8v0.8h-0.8zM75.1 505.9h0.8v0.8h-0.8zM75.1 506.1h0.8v0.8h-0.8zM78.2 504.5h0.8v0.8h-0.8zM79.6 501.7h0.8v0.8h-0.8zM77.9 507.3h0.8v0.8h-0.8zM86.4 502.3h0.8v0.8h-0.8zM85.3 503.9h0.8v0.8h-0.8zM86.7 503.6h0.8v0.8h-0.8zM85.0 510.5h0.8v0.8h-0.8zM80.0 503.2h0.8v0.8h-0.8zM81.3 507.5h0.8v0.8h-0.8zM75.3 507.6h0.8v0.8h-0.8zM76.7 514.6h0.8v0.8h-0.8zM89.0 502.3h0.8v0.8h-0.8zM87.8 495.9h0.8v0.8h-0.8zM78.9 506.8h0.8v0.8h-0.8zM78.5 507.2h0.8v0.8h-0.8zM86.2 504.2h0.8v0.8h-0.8zM84.5 503.1h0.8v0.8h-0.8zM80.5 503.7h0.8v0.8h-0.8zM75.1 507.3h0.8v0.8h-0.8zM86.8 501.9h0.8v0.8h-0.8zM81.5 505.3h0.8v0.8h-0.8zM81.1 509.7h0.8v0.8h-0.8zM80.1 499.0h0.8v0.8h-0.8zM77.4 504.2h0.8v0.8h-0.8zM86.3 500.0h0.8v0.8h-0.8zM75.2 513.0h0.8v0.8h-0.8zM75.6 508.8h0.8v0.8h-0.8zM90.2 504.1h0.8v0.8h-0.8zM76.5 502.4h0.8v0.8h-0.8zM83.0 502.8h0.8v0.8h-0.8zM87.4 506.1h0.8v0.8h-0.8zM85.0 508.0h0.8v0.8h-0.8zM80.2 504.8h0.8v0.8h-0.8zM88.6 506.1h0.8v0.8h-0.8zM84.7 509.1h0.8v0.8h-0.8zM82.2 503.8h0.8v0.8h-0.8zM80.6 503.8h0.8v0.8h-0.8zM83.1 500.3h0.8v0.8h-0.8zM76.8 506.7h0.8v0.8h-0.8zM83.8 499.6h0.8v0.8h-0.8zM85.3 510.8h0.8v0.8h-0.8zM82.3 500.4h0.8v0.8h-0.8zM81.3 503.1h0.8v0.8h-0.8zM87.0 503.1h0.8v0.8h-0.8zM78.5 512.7h0.8v0.8h-0.8zM80.8 498.8h0.8v0.8h-0.8zM92.2 500.0h0.8v0.8h-0.8zM79.5 507.0h0.8v0.8h-0.8zM81.5 506.1h0.8v0.8h-0.8zM84.1 498.0h0.8v0.8h-0.8zM88.4 504.0h0.8v0.8h-0.8zM76.0 508.3h0.8v0.8h-0.8zM78.7 515.0h0.8v0.8h-0.8zM83.0 503.2h0.8v0.8h-0.8zM77.3 505.9h0.8v0.8h-0.8zM81.5 513.4h0.8v0.8h-0.8zM77.9 507.9h0.8v0.8h-0.8zM80.9 509.5h0.8v0.8h-0.8zM85.7 507.8h0.8v0.8h-0.8zM87.4 501.1h0.8v0.8h-0.8zM87.3 503.7h0.8v0.8h-0.8zM82.5 503.7h0.8v0.8h-0.8zM82.3 503.8h0.8v0.8h-0.8zM80.8 505.1h0.8v0.8h-0.8zM84.0 501.2h0.8v0.8h-0.8zM85.2 500.7h0.8v0.8h-0.8zM93.0 495.1h0.8v0.8h-0.8zM87.2 495.2h0.8v0.8h-0.8zM72.4 506.2h0.8v0.8h-0.8zM81.6 501.8h0.8v0.8h-0.8zM80.9 506.1h0.8v0.8h-0.8zM77.6 507.4h0.8v0.8h-0.8zM69.4 508.2h0.8v0.8h-0.8zM79.1 511.8h0.8v0.8h-0.8zM76.5 511.9h0.8v0.8h-0.8zM83.3 502.2h0.8v0.8h-0.8zM78.1 498.2h0.8v0.8h-0.8zM80.5 503.1h0.8v0.8h-0.8zM77.6 508.7h0.8v0.8h-0.8zM88.1 503.2h0.8v0.8h-0.8zM84.3 509.2h0.8v0.8h-0.8zM88.3 502.9h0.8v0.8h-0.8zM92.8 499.2h0.8v0.8h-0.8zM88.6 510.9h0.8v0.8h-0.8zM87.2 503.4h0.8v0.8h-0.8zM82.8 503.0h0.8v0.8h-0.8zM87.2 499.3h0.8v0.8h-0.8zM81.1 508.7h0.8v0.8h-0.8zM91.4 502.3h0.8v0.8h-0.8zM81.1 508.7h0.8v0.8h-0.8zM84.3 506.6h0.8v0.8h-0.8zM76.2 506.1h0.8v0.8h-0.8zM78.4 508.3h0.8v0.8h-0.8zM82.5 506.4h0.8v0.8h-0.8zM78.7 507.5h0.8v0.8h-0.8zM79.1 508.4h0.8v0.8h-0.8zM86.6 504.2h0.8v0.8h-0.8zM78.4 504.4h0.8v0.8h-0.8zM88.1 502.1h0.8v0.8h-0.8zM80.9 511.2h0.8v0.8h-0.8zM82.9 498.9h0.8v0.8h-0.8zM88.3 503.7h0.8v0.8h-0.8zM90.2 499.9h0.8v0.8h-0.8zM82.4 510.0h0.8v0.8h-0.8zM74.7 508.5h0.8v0.8h-0.8zM78.7 502.3h0.8v0.8h-0.8zM89.7 501.0h0.8v0.8h-0.8zM83.3 504.8h0.8v0.8h-0.8zM82.4 505.8h0.8v0.8h-0.8zM85.8 501.1h0.8v0.8h-0.8zM87.0 503.2h0.8v0.8h-0.8zM85.5 506.9h0.8v0.8h-0.8zM90.7 507.3h0.8v0.8h-0.8zM82.6 505.4h0.8v0.8h-0.8zM85.6 506.9h0.8v0.8h-0.8zM75.2 503.5h0.8v0.8h-0.8zM78.9 510.9h0.8v0.8h-0.8zM77.2 505.6h0.8v0.8h-0.8zM71.5 503.7h0.8v0.8h-0.8zM86.4 504.3h0.8v0.8h-0.8zM89.9 503.7h0.8v0.8h-0.8zM80.4 503.3h0.8v0.8h-0.8zM87.4 510.0h0.8v0.8h-0.8zM76.7 510.7h0.8v0.8h-0.8zM94.4 507.1h0.8v0.8h-0.8zM82.0 501.9h0.8v0.8h-0.8zM83.1 503.7h0.8v0.8h-0.8zM88.9 506.4h0.8v0.8h-0.8zM82.9 502.1h0.8v0.8h-0.8zM85.5 505.2h0.8v0.8h-0.8zM90.5 501.8h0.8v0.8h-0.8zM79.9 504.8h0.8v0.8h-0.8zM78.2 499.9h0.8v0.8h-0.8zM79.5 509.6h0.8v0.8h-0.8zM93.1 501.7h0.8v0.8h-0.8zM89.4 503.9h0.8v0.8h-0.8zM84.5 503.6h0.8v0.8h-0.8zM85.0 502.6h0.8v0.8h-0.8zM86.1 498.7h0.8v0.8h-0.8zM79.5 499.7h0.8v0.8h-0.8zM72.9 511.1h0.8v0.8h-0.8zM88.0 500.9h0.8v0.8h-0.8zM77.9 507.4h0.8v0.8h-0.8zM76.1 503.8h0.8v0.8h-0.8zM85.6 505.1h0.8v0.8h-0.8zM76.7 513.3h0.8v0.8h-0.8zM78.6 507.5h0.8v0.8h-0.8zM82.2 506.7h0.8v0.8h-0.8zM75.0 510.1h0.8v0.8h-0.8zM90.8 499.7h0.8v0.8h-0.8zM82.6 503.9h0.8v0.8h-0.8zM81.6 508.9h0.8v0.8h-0.8zM75.9 499.9h0.8v0.8h-0.8zM76.6 509.7h0.8v0.8h-0.8zM84.4 500.7h0.8v0.8h-0.8zM76.8 507.4h0.8v0.8h-0.8zM87.4 504.6h0.8v0.8h-0.8zM84.0 505.4h0.8v0.8h-0.8zM77.4 502.5h0.8v0.8h-0.8zM86.6 500.3h0.8v0.8h-0.8zM80.4 506.9h0.8v0.8h-0.8zM72.7 505.2h0.8v0.8h-0.8zM74.2 506.8h0.8v0.8h-0.8zM80.2 501.4h0.8v0.8h-0.8zM79.6 507.5h0.8v0.8h-0.8zM78.6 509.7h0.8v0.8h-0.8zM84.0 503.3h0.8v0.8h-0.8zM90.6 498.1h0.8v0.8h-0.8zM84.0 505.9h0.8v0.8h-0.8zM91.4 501.0h0.8v0.8h-0.8zM83.6 512.4h0.8v0.8h-0.8zM77.0 505.2h0.8v0.8h-0.8zM78.6 503.0h0.8v0.8h-0.8zM86.3 504.9h0.8v0.8h-0.8zM79.2 508.7h0.8v0.8h-0.8zM78.7 509.1h0.8v0.8h-0.8zM89.7 503.2h0.8v0.8h-0.8zM87.3 505.9h0.8v0.8h-0.8zM89.7 497.5h0.8v0.8h-0.8zM93.3 511.6h0.8v0.8h-0.8zM79.6 506.9h0.8v0.8h-0.8zM80.2 504.8h0.8v0.8h-0.8zM86.2 510.0h0.8v0.8h-0.8zM86.8 500.8h0.8v0.8h-0.8zM86.3 506.9h0.8v0.8h-0.8zM73.3 512.9h0.8v0.8h-0.8zM77.3 507.2h0.8v0.8h-0.8zM89.7 500.5h0.8v0.8h-0.8zM77.8 512.6h0.8v0.8h-0.8zM81.5 512.5h0.8v0.8h-0.8zM86.9 505.7h0.8v0.8h-0.8zM89.9 500.9h0.8v0.8h-0.8zM72.3 508.5h0.8v0.8h-0.8zM80.4 503.3h0.8v0.8h-0.8zM86.8 512.1h0.8v0.8h-0.8zM77.7 513.6h0.8v0.8h-0.8zM79.5 507.6h0.8v0.8h-0.8zM82.8 506.5h0.8v0.8h-0.8zM86.6 503.6h0.8v0.8h-0.8zM81.3 502.6h0.8v0.8h-0.8zM78.4 509.0h0.8v0.8h-0.8zM86.7 505.1h0.8v0.8h-0.8zM82.3 498.8h0.8v0.8h-0.8zM80.7 506.3h0.8v0.8h-0.8zM79.7 509.8h0.8v0.8h-0.8zM82.5 505.6h0.8v0.8h-0.8zM74.5 506.1h0.8v0.8h-0.8zM69.6 514.6h0.8v0.8h-0.8zM80.3 504.0h0.8v0.8h-0.8zM79.9 506.2h0.8v0.8h-0.8zM87.0 497.1h0.8v0.8h-0.8zM83.7 500.5h0.8v0.8h-0.8zM82.3 508.2h0.8v0.8h-0.8zM80.7 503.9h0.8v0.8h-0.8zM72.8 503.8h0.8v0.8h-0.8zM83.4 501.3h0.8v0.8h-0.8zM77.5 510.2h0.8v0.8h-0.8zM83.1 506.5h0.8v0.8h-0.8zM74.3 502.3h0.8v0.8h-0.8zM87.4 508.1h0.8v0.8h-0.8z"/></g></g><path d="M52.4 461.8 H108.3 V517.6" fill="none" stroke="#8a8a8a" stroke-width="1.1"/><path d="M52.4 461.3 V517.6 H108.8" fill="none" stroke="#2a2a2a" stroke-width="1.1"/><text x="51.6" y="525.2" font-size="3.9" fill="#4a4a4a" text-anchor="middle">10<tspan font-size="2.81" dy="-1.6">0</tspan></text><text x="65.3" y="525.2" font-size="3.9" fill="#4a4a4a" text-anchor="middle">10<tspan font-size="2.81" dy="-1.6">1</tspan></text><text x="79.0" y="525.2" font-size="3.9" fill="#4a4a4a" text-anchor="middle">10<tspan font-size="2.81" dy="-1.6">2</tspan></text><text x="92.8" y="525.2" font-size="3.9" fill="#4a4a4a" text-anchor="middle">10<tspan font-size="2.81" dy="-1.6">3</tspan></text><text x="106.5" y="525.2" font-size="3.9" fill="#4a4a4a" text-anchor="middle">10<tspan font-size="2.81" dy="-1.6">4</tspan></text><path d="M52.4 461.8 H108.3" stroke="#3a3a3a" stroke-width="1" fill="none"/><text x="50.2" y="519.0" font-size="3.8" fill="#3a3a3a" text-anchor="end">0</text><path d="M50.8 517.6 h1.6" stroke="#555" stroke-width="0.6"/><text x="50.2" y="505.1" font-size="3.8" fill="#3a3a3a" text-anchor="end">256</text><path d="M50.8 503.7 h1.6" stroke="#555" stroke-width="0.6"/><text x="50.2" y="491.1" font-size="3.8" fill="#3a3a3a" text-anchor="end">512</text><path d="M50.8 489.7 h1.6" stroke="#555" stroke-width="0.6"/><text x="50.2" y="477.1" font-size="3.8" fill="#3a3a3a" text-anchor="end">768</text><path d="M50.8 475.8 h1.6" stroke="#555" stroke-width="0.6"/><text x="50.2" y="463.2" font-size="3.8" fill="#3a3a3a" text-anchor="end">1024</text><path d="M50.8 461.8 h1.6" stroke="#555" stroke-width="0.6"/><g clip-path="url(#c27)"><g filter="url(#soft)"><path d="M137 492 L150 491 L153 497 L148 501 L137 500 Z" fill="#fbe3e0" stroke="#e07070" stroke-width="0.55"/><ellipse cx="144.0" cy="496.0" rx="7.00" ry="3.00" fill="none" stroke="#e27a7a" stroke-width="0.55"/><ellipse cx="171.0" cy="510.0" rx="3.00" ry="4.00" fill="none" stroke="#e27a7a" stroke-width="0.55"/><ellipse cx="171.0" cy="510.0" rx="1.80" ry="2.50" fill="none" stroke="#e27a7a" stroke-width="0.55"/><ellipse cx="171.0" cy="510.0" rx="2.50" ry="3.50" fill="#f8d8d4"/><ellipse cx="141.0" cy="486.0" rx="7.48" ry="11.00" fill="#fadcd8"/><ellipse cx="141.0" cy="486.0" rx="7.48" ry="11.00" fill="none" stroke="#e27a7a" stroke-width="0.55"/><ellipse cx="141.0" cy="486.0" rx="7.14" ry="10.50" fill="none" stroke="#e27a7a" stroke-width="0.55"/><ellipse cx="141.0" cy="486.0" rx="6.80" ry="10.00" fill="#ee6a50"/><ellipse cx="141.0" cy="486.0" rx="6.32" ry="9.10" fill="#f59a34"/><ellipse cx="141.0" cy="486.0" rx="5.78" ry="8.12" fill="#f6e03a"/><ellipse cx="141.0" cy="486.0" rx="5.24" ry="7.17" fill="#b6d83a"/><ellipse cx="141.0" cy="486.0" rx="4.56" ry="6.04" fill="#3aa83a"/><ellipse cx="141.0" cy="486.0" rx="3.40" ry="4.25" fill="#15867a"/><ellipse cx="141.0" cy="486.0" rx="2.79" ry="3.37" fill="#1f3f9e"/><ellipse cx="141.0" cy="486.0" rx="0.95" ry="1.04" fill="#a8b0f0"/></g></g><line x1="152.6" y1="461.8" x2="152.6" y2="517.6" stroke="#6a6a6a" stroke-width="0.9"/><line x1="133.7" y1="499.1" x2="190.0" y2="499.1" stroke="#6a6a6a" stroke-width="0.9"/><path d="M133.7 461.8 H190.0 V517.6" fill="none" stroke="#8a8a8a" stroke-width="1.1"/><path d="M133.7 461.3 V517.6 H190.5" fill="none" stroke="#2a2a2a" stroke-width="1.1"/><g transform="translate(142.7 469.8) scale(0.84 1)"><text x="0" y="0" font-size="5.8" font-weight="bold" text-anchor="middle" fill="#111" stroke="#111" stroke-width="0.32">85%</text></g><g transform="translate(178.5 469.8) scale(0.84 1)"><text x="0" y="0" font-size="5.8" font-weight="bold" text-anchor="middle" fill="#111" stroke="#111" stroke-width="0.32">4%</text></g><g transform="translate(142.7 513.1) scale(0.84 1)"><text x="0" y="0" font-size="5.8" font-weight="bold" text-anchor="middle" fill="#111" stroke="#111" stroke-width="0.32">3%</text></g><g transform="translate(178.5 513.1) scale(0.84 1)"><text x="0" y="0" font-size="5.8" font-weight="bold" text-anchor="middle" fill="#111" stroke="#111" stroke-width="0.32">7%</text></g><text x="132.9" y="525.2" font-size="3.9" fill="#4a4a4a" text-anchor="middle">10<tspan font-size="2.81" dy="-1.6">0</tspan></text><text x="146.7" y="525.2" font-size="3.9" fill="#4a4a4a" text-anchor="middle">10<tspan font-size="2.81" dy="-1.6">1</tspan></text><text x="160.5" y="525.2" font-size="3.9" fill="#4a4a4a" text-anchor="middle">10<tspan font-size="2.81" dy="-1.6">2</tspan></text><text x="174.4" y="525.2" font-size="3.9" fill="#4a4a4a" text-anchor="middle">10<tspan font-size="2.81" dy="-1.6">3</tspan></text><text x="188.2" y="525.2" font-size="3.9" fill="#4a4a4a" text-anchor="middle">10<tspan font-size="2.81" dy="-1.6">4</tspan></text><text x="129.1" y="520.6" font-size="3.9" fill="#4a4a4a" text-anchor="middle">10<tspan font-size="2.81" dy="-1.6">0</tspan></text><text x="129.1" y="506.5" font-size="3.9" fill="#4a4a4a" text-anchor="middle">10<tspan font-size="2.81" dy="-1.6">1</tspan></text><text x="129.1" y="492.5" font-size="3.9" fill="#4a4a4a" text-anchor="middle">10<tspan font-size="2.81" dy="-1.6">2</tspan></text><text x="129.1" y="478.4" font-size="3.9" fill="#4a4a4a" text-anchor="middle">10<tspan font-size="2.81" dy="-1.6">3</tspan></text><text x="129.1" y="464.3" font-size="3.9" fill="#4a4a4a" text-anchor="middle">10<tspan font-size="2.81" dy="-1.6">4</tspan></text><g clip-path="url(#c28)"><g filter="url(#soft)"><path d="M220 496 C224 493 232 491 238 492 L236 498 L220 500 Z" fill="#fbe3e0" stroke="#e07070" stroke-width="0.55"/><ellipse cx="228.0" cy="496.0" rx="6.00" ry="2.50" fill="none" stroke="#e27a7a" stroke-width="0.55"/><ellipse cx="253.0" cy="511.0" rx="3.00" ry="3.00" fill="none" stroke="#e27a7a" stroke-width="0.55"/><ellipse cx="253.0" cy="511.0" rx="1.80" ry="1.80" fill="none" stroke="#e27a7a" stroke-width="0.55"/><ellipse cx="244.0" cy="487.0" rx="17.36" ry="6.27" fill="#fadcd8" transform="rotate(-38 244 487)"/><ellipse cx="244.0" cy="487.0" rx="17.36" ry="6.27" fill="none" stroke="#e27a7a" stroke-width="0.55" transform="rotate(-38 244 487)"/><ellipse cx="244.0" cy="487.0" rx="16.43" ry="5.94" fill="none" stroke="#e27a7a" stroke-width="0.55" transform="rotate(-38 244 487)"/><ellipse cx="244.0" cy="487.0" rx="15.50" ry="5.60" fill="#ee6a50" transform="rotate(-38 244 487)"/><ellipse cx="244.0" cy="487.0" rx="14.42" ry="5.10" fill="#f59a34" transform="rotate(-38 244 487)"/><ellipse cx="244.0" cy="487.0" rx="13.17" ry="4.55" fill="#f6e03a" transform="rotate(-38 244 487)"/><ellipse cx="244.0" cy="487.0" rx="11.94" ry="4.01" fill="#b6d83a" transform="rotate(-38 244 487)"/><ellipse cx="244.0" cy="487.0" rx="10.38" ry="3.38" fill="#3aa83a" transform="rotate(-38 244 487)"/><ellipse cx="244.0" cy="487.0" rx="7.75" ry="2.38" fill="#15867a" transform="rotate(-38 244 487)"/><ellipse cx="244.0" cy="487.0" rx="6.35" ry="1.89" fill="#1f3f9e" transform="rotate(-38 244 487)"/><ellipse cx="244.0" cy="487.0" rx="2.17" ry="0.58" fill="#a8b0f0" transform="rotate(-38 244 487)"/></g></g><line x1="233.8" y1="461.8" x2="233.8" y2="517.6" stroke="#6a6a6a" stroke-width="0.9"/><line x1="215.3" y1="499.1" x2="271.5" y2="499.1" stroke="#6a6a6a" stroke-width="0.9"/><path d="M215.3 461.8 H271.5 V517.6" fill="none" stroke="#8a8a8a" stroke-width="1.1"/><path d="M215.3 461.3 V517.6 H272.0" fill="none" stroke="#2a2a2a" stroke-width="1.1"/><g transform="translate(224.3 469.8) scale(0.84 1)"><text x="0" y="0" font-size="5.8" font-weight="bold" text-anchor="middle" fill="#111" stroke="#111" stroke-width="0.32">9%</text></g><g transform="translate(260.0 469.8) scale(0.84 1)"><text x="0" y="0" font-size="5.8" font-weight="bold" text-anchor="middle" fill="#111" stroke="#111" stroke-width="0.32">80%</text></g><g transform="translate(224.3 513.1) scale(0.84 1)"><text x="0" y="0" font-size="5.8" font-weight="bold" text-anchor="middle" fill="#111" stroke="#111" stroke-width="0.32">4%</text></g><g transform="translate(260.0 513.1) scale(0.84 1)"><text x="0" y="0" font-size="5.8" font-weight="bold" text-anchor="middle" fill="#111" stroke="#111" stroke-width="0.32">7%</text></g><text x="214.5" y="525.2" font-size="3.9" fill="#4a4a4a" text-anchor="middle">10<tspan font-size="2.81" dy="-1.6">0</tspan></text><text x="228.3" y="525.2" font-size="3.9" fill="#4a4a4a" text-anchor="middle">10<tspan font-size="2.81" dy="-1.6">1</tspan></text><text x="242.1" y="525.2" font-size="3.9" fill="#4a4a4a" text-anchor="middle">10<tspan font-size="2.81" dy="-1.6">2</tspan></text><text x="255.9" y="525.2" font-size="3.9" fill="#4a4a4a" text-anchor="middle">10<tspan font-size="2.81" dy="-1.6">3</tspan></text><text x="269.7" y="525.2" font-size="3.9" fill="#4a4a4a" text-anchor="middle">10<tspan font-size="2.81" dy="-1.6">4</tspan></text><text x="210.7" y="520.6" font-size="3.9" fill="#4a4a4a" text-anchor="middle">10<tspan font-size="2.81" dy="-1.6">0</tspan></text><text x="210.7" y="506.5" font-size="3.9" fill="#4a4a4a" text-anchor="middle">10<tspan font-size="2.81" dy="-1.6">1</tspan></text><text x="210.7" y="492.5" font-size="3.9" fill="#4a4a4a" text-anchor="middle">10<tspan font-size="2.81" dy="-1.6">2</tspan></text><text x="210.7" y="478.4" font-size="3.9" fill="#4a4a4a" text-anchor="middle">10<tspan font-size="2.81" dy="-1.6">3</tspan></text><text x="210.7" y="464.3" font-size="3.9" fill="#4a4a4a" text-anchor="middle">10<tspan font-size="2.81" dy="-1.6">4</tspan></text><g clip-path="url(#c29)"><g filter="url(#soft)"><path d="M303 482 L313 479 L318 484 L312 488 L303 487 Z" fill="#fbe3e0" stroke="#e07070" stroke-width="0.55"/><ellipse cx="307.0" cy="483.0" rx="3.00" ry="2.00" fill="none" stroke="#e27a7a" stroke-width="0.55"/><ellipse cx="320.5" cy="489.0" rx="7.48" ry="11.00" fill="#fadcd8"/><ellipse cx="320.5" cy="489.0" rx="7.48" ry="11.00" fill="none" stroke="#e27a7a" stroke-width="0.55"/><ellipse cx="320.5" cy="489.0" rx="7.14" ry="10.50" fill="none" stroke="#e27a7a" stroke-width="0.55"/><ellipse cx="320.5" cy="489.0" rx="6.80" ry="10.00" fill="#ee6a50"/><ellipse cx="320.5" cy="489.0" rx="6.32" ry="9.10" fill="#f59a34"/><ellipse cx="320.5" cy="489.0" rx="5.78" ry="8.12" fill="#f6e03a"/><ellipse cx="320.5" cy="489.0" rx="5.24" ry="7.17" fill="#b6d83a"/><ellipse cx="320.5" cy="489.0" rx="4.56" ry="6.04" fill="#3aa83a"/><ellipse cx="320.5" cy="489.0" rx="3.40" ry="4.25" fill="#15867a"/><ellipse cx="320.5" cy="489.0" rx="2.79" ry="3.37" fill="#1f3f9e"/><ellipse cx="320.5" cy="489.0" rx="0.95" ry="1.04" fill="#a8b0f0"/></g></g><line x1="315.2" y1="461.8" x2="315.2" y2="517.6" stroke="#6a6a6a" stroke-width="0.9"/><line x1="296.4" y1="498.9" x2="352.6" y2="498.9" stroke="#6a6a6a" stroke-width="0.9"/><path d="M296.4 461.8 H352.6 V517.6" fill="none" stroke="#8a8a8a" stroke-width="1.1"/><path d="M296.4 461.3 V517.6 H353.1" fill="none" stroke="#2a2a2a" stroke-width="1.1"/><g transform="translate(305.4 469.8) scale(0.84 1)"><text x="0" y="0" font-size="5.8" font-weight="bold" text-anchor="middle" fill="#111" stroke="#111" stroke-width="0.32">18%</text></g><g transform="translate(341.1 469.8) scale(0.84 1)"><text x="0" y="0" font-size="5.8" font-weight="bold" text-anchor="middle" fill="#111" stroke="#111" stroke-width="0.32">80%</text></g><g transform="translate(305.4 513.1) scale(0.84 1)"><text x="0" y="0" font-size="5.8" font-weight="bold" text-anchor="middle" fill="#111" stroke="#111" stroke-width="0.32">1%</text></g><g transform="translate(341.1 513.1) scale(0.84 1)"><text x="0" y="0" font-size="5.8" font-weight="bold" text-anchor="middle" fill="#111" stroke="#111" stroke-width="0.32">2%</text></g><text x="295.6" y="525.2" font-size="3.9" fill="#4a4a4a" text-anchor="middle">10<tspan font-size="2.81" dy="-1.6">0</tspan></text><text x="309.4" y="525.2" font-size="3.9" fill="#4a4a4a" text-anchor="middle">10<tspan font-size="2.81" dy="-1.6">1</tspan></text><text x="323.2" y="525.2" font-size="3.9" fill="#4a4a4a" text-anchor="middle">10<tspan font-size="2.81" dy="-1.6">2</tspan></text><text x="337.0" y="525.2" font-size="3.9" fill="#4a4a4a" text-anchor="middle">10<tspan font-size="2.81" dy="-1.6">3</tspan></text><text x="350.8" y="525.2" font-size="3.9" fill="#4a4a4a" text-anchor="middle">10<tspan font-size="2.81" dy="-1.6">4</tspan></text><text x="291.8" y="520.6" font-size="3.9" fill="#4a4a4a" text-anchor="middle">10<tspan font-size="2.81" dy="-1.6">0</tspan></text><text x="291.8" y="506.5" font-size="3.9" fill="#4a4a4a" text-anchor="middle">10<tspan font-size="2.81" dy="-1.6">1</tspan></text><text x="291.8" y="492.5" font-size="3.9" fill="#4a4a4a" text-anchor="middle">10<tspan font-size="2.81" dy="-1.6">2</tspan></text><text x="291.8" y="478.4" font-size="3.9" fill="#4a4a4a" text-anchor="middle">10<tspan font-size="2.81" dy="-1.6">3</tspan></text><text x="291.8" y="464.3" font-size="3.9" fill="#4a4a4a" text-anchor="middle">10<tspan font-size="2.81" dy="-1.6">4</tspan></text><g clip-path="url(#c30)"><g filter="url(#soft)"><path d="M386 478 L400 484 L398 496 L388 490 Z" fill="#fbe6e3" stroke="#e07070" stroke-width="0.55"/><path d="M388 485 L398 488 L397 494 Z" fill="none" stroke="#e07070" stroke-width="0.55"/><ellipse cx="385.0" cy="482.0" rx="7.70" ry="7.15" fill="#fadcd8"/><ellipse cx="385.0" cy="482.0" rx="7.70" ry="7.15" fill="none" stroke="#e27a7a" stroke-width="0.55"/><ellipse cx="385.0" cy="482.0" rx="7.35" ry="6.83" fill="none" stroke="#e27a7a" stroke-width="0.55"/><ellipse cx="385.0" cy="482.0" rx="7.00" ry="6.50" fill="#f3b3a6"/><ellipse cx="385.0" cy="482.0" rx="5.95" ry="5.52" fill="#ee7a48"/><ellipse cx="385.0" cy="482.0" rx="4.76" ry="4.42" fill="#f3a64c"/><ellipse cx="385.0" cy="482.0" rx="3.15" ry="2.93" fill="#f7e080"/><ellipse cx="385.0" cy="482.0" rx="1.54" ry="1.43" fill="#fbf2d8"/><ellipse cx="407.0" cy="490.0" rx="9.18" ry="9.72" fill="#fadcd8"/><ellipse cx="407.0" cy="490.0" rx="9.18" ry="9.72" fill="none" stroke="#e27a7a" stroke-width="0.55"/><ellipse cx="407.0" cy="490.0" rx="8.84" ry="9.36" fill="none" stroke="#e27a7a" stroke-width="0.55"/><ellipse cx="407.0" cy="490.0" rx="8.50" ry="9.00" fill="#ee6a50"/><ellipse cx="407.0" cy="490.0" rx="7.91" ry="8.19" fill="#f59a34"/><ellipse cx="407.0" cy="490.0" rx="7.22" ry="7.31" fill="#f6e03a"/><ellipse cx="407.0" cy="490.0" rx="6.54" ry="6.45" fill="#b6d83a"/><ellipse cx="407.0" cy="490.0" rx="5.70" ry="5.43" fill="#3aa83a"/><ellipse cx="407.0" cy="490.0" rx="4.25" ry="3.82" fill="#15867a"/><ellipse cx="407.0" cy="490.0" rx="3.48" ry="3.04" fill="#1f3f9e"/><ellipse cx="407.0" cy="490.0" rx="1.19" ry="0.93" fill="#a8b0f0"/></g></g><line x1="397.3" y1="461.8" x2="397.3" y2="517.6" stroke="#6a6a6a" stroke-width="0.9"/><line x1="378.6" y1="499.1" x2="434.5" y2="499.1" stroke="#6a6a6a" stroke-width="0.9"/><path d="M378.6 461.8 H434.5 V517.6" fill="none" stroke="#8a8a8a" stroke-width="1.1"/><path d="M378.6 461.3 V517.6 H435.0" fill="none" stroke="#2a2a2a" stroke-width="1.1"/><g transform="translate(387.6 469.8) scale(0.84 1)"><text x="0" y="0" font-size="5.8" font-weight="bold" text-anchor="middle" fill="#111" stroke="#111" stroke-width="0.32">28%</text></g><g transform="translate(423.0 469.8) scale(0.84 1)"><text x="0" y="0" font-size="5.8" font-weight="bold" text-anchor="middle" fill="#111" stroke="#111" stroke-width="0.32">70%</text></g><g transform="translate(387.6 513.1) scale(0.84 1)"><text x="0" y="0" font-size="5.8" font-weight="bold" text-anchor="middle" fill="#111" stroke="#111" stroke-width="0.32">0%</text></g><g transform="translate(423.0 513.1) scale(0.84 1)"><text x="0" y="0" font-size="5.8" font-weight="bold" text-anchor="middle" fill="#111" stroke="#111" stroke-width="0.32">2%</text></g><text x="377.8" y="525.2" font-size="3.9" fill="#4a4a4a" text-anchor="middle">10<tspan font-size="2.81" dy="-1.6">0</tspan></text><text x="391.5" y="525.2" font-size="3.9" fill="#4a4a4a" text-anchor="middle">10<tspan font-size="2.81" dy="-1.6">1</tspan></text><text x="405.2" y="525.2" font-size="3.9" fill="#4a4a4a" text-anchor="middle">10<tspan font-size="2.81" dy="-1.6">2</tspan></text><text x="419.0" y="525.2" font-size="3.9" fill="#4a4a4a" text-anchor="middle">10<tspan font-size="2.81" dy="-1.6">3</tspan></text><text x="432.7" y="525.2" font-size="3.9" fill="#4a4a4a" text-anchor="middle">10<tspan font-size="2.81" dy="-1.6">4</tspan></text><text x="374.0" y="520.6" font-size="3.9" fill="#4a4a4a" text-anchor="middle">10<tspan font-size="2.81" dy="-1.6">0</tspan></text><text x="374.0" y="506.5" font-size="3.9" fill="#4a4a4a" text-anchor="middle">10<tspan font-size="2.81" dy="-1.6">1</tspan></text><text x="374.0" y="492.5" font-size="3.9" fill="#4a4a4a" text-anchor="middle">10<tspan font-size="2.81" dy="-1.6">2</tspan></text><text x="374.0" y="478.4" font-size="3.9" fill="#4a4a4a" text-anchor="middle">10<tspan font-size="2.81" dy="-1.6">3</tspan></text><text x="374.0" y="464.3" font-size="3.9" fill="#4a4a4a" text-anchor="middle">10<tspan font-size="2.81" dy="-1.6">4</tspan></text><g clip-path="url(#c31)"><g filter="url(#soft)"><path d="M466 496 C468 490 472 486 476 484 L479 500 L466 500 Z" fill="#fbe3e0" stroke="#e07070" stroke-width="0.55"/><ellipse cx="472.0" cy="494.0" rx="4.00" ry="5.00" fill="none" stroke="#e27a7a" stroke-width="0.55"/><ellipse cx="478.0" cy="509.0" rx="3.00" ry="3.50" fill="none" stroke="#e27a7a" stroke-width="0.55"/><ellipse cx="478.0" cy="509.0" rx="1.80" ry="2.20" fill="none" stroke="#e27a7a" stroke-width="0.55"/><ellipse cx="482.0" cy="490.0" rx="7.15" ry="11.00" fill="#fadcd8"/><ellipse cx="482.0" cy="490.0" rx="7.15" ry="11.00" fill="none" stroke="#e27a7a" stroke-width="0.55"/><ellipse cx="482.0" cy="490.0" rx="6.83" ry="10.50" fill="none" stroke="#e27a7a" stroke-width="0.55"/><ellipse cx="482.0" cy="490.0" rx="6.50" ry="10.00" fill="#ee6a50"/><ellipse cx="482.0" cy="490.0" rx="6.04" ry="9.10" fill="#f59a34"/><ellipse cx="482.0" cy="490.0" rx="5.52" ry="8.12" fill="#f6e03a"/><ellipse cx="482.5" cy="492.0" rx="3.00" ry="6.00" fill="#f5e88a"/><ellipse cx="481.0" cy="482.0" rx="5.80" ry="9.30" fill="#ee6a50"/><ellipse cx="481.0" cy="482.0" rx="5.39" ry="8.47" fill="#f59a34"/><ellipse cx="481.0" cy="482.0" rx="4.93" ry="7.55" fill="#f6e03a"/><ellipse cx="481.0" cy="482.0" rx="4.47" ry="6.67" fill="#b6d83a"/><ellipse cx="481.0" cy="482.0" rx="3.89" ry="5.61" fill="#3aa83a"/><ellipse cx="481.0" cy="482.0" rx="2.90" ry="3.95" fill="#15867a"/><ellipse cx="481.0" cy="482.0" rx="2.38" ry="3.14" fill="#1f3f9e"/><ellipse cx="481.0" cy="482.0" rx="0.81" ry="0.97" fill="#a8b0f0"/></g></g><line x1="478.2" y1="461.8" x2="478.2" y2="517.6" stroke="#6a6a6a" stroke-width="0.9"/><line x1="459.3" y1="498.7" x2="516.2" y2="498.7" stroke="#6a6a6a" stroke-width="0.9"/><path d="M459.3 461.8 H516.2 V517.6" fill="none" stroke="#8a8a8a" stroke-width="1.1"/><path d="M459.3 461.3 V517.6 H516.7" fill="none" stroke="#2a2a2a" stroke-width="1.1"/><g transform="translate(468.3 469.8) scale(0.84 1)"><text x="0" y="0" font-size="5.8" font-weight="bold" text-anchor="middle" fill="#111" stroke="#111" stroke-width="0.32">17%</text></g><g transform="translate(504.70000000000005 469.8) scale(0.84 1)"><text x="0" y="0" font-size="5.8" font-weight="bold" text-anchor="middle" fill="#111" stroke="#111" stroke-width="0.32">70%</text></g><g transform="translate(468.3 513.1) scale(0.84 1)"><text x="0" y="0" font-size="5.8" font-weight="bold" text-anchor="middle" fill="#111" stroke="#111" stroke-width="0.32">9%</text></g><g transform="translate(504.70000000000005 513.1) scale(0.84 1)"><text x="0" y="0" font-size="5.8" font-weight="bold" text-anchor="middle" fill="#111" stroke="#111" stroke-width="0.32">4%</text></g><text x="458.5" y="525.2" font-size="3.9" fill="#4a4a4a" text-anchor="middle">10<tspan font-size="2.81" dy="-1.6">0</tspan></text><text x="472.5" y="525.2" font-size="3.9" fill="#4a4a4a" text-anchor="middle">10<tspan font-size="2.81" dy="-1.6">1</tspan></text><text x="486.5" y="525.2" font-size="3.9" fill="#4a4a4a" text-anchor="middle">10<tspan font-size="2.81" dy="-1.6">2</tspan></text><text x="500.4" y="525.2" font-size="3.9" fill="#4a4a4a" text-anchor="middle">10<tspan font-size="2.81" dy="-1.6">3</tspan></text><text x="514.4" y="525.2" font-size="3.9" fill="#4a4a4a" text-anchor="middle">10<tspan font-size="2.81" dy="-1.6">4</tspan></text><text x="454.7" y="520.6" font-size="3.9" fill="#4a4a4a" text-anchor="middle">10<tspan font-size="2.81" dy="-1.6">0</tspan></text><text x="454.7" y="506.5" font-size="3.9" fill="#4a4a4a" text-anchor="middle">10<tspan font-size="2.81" dy="-1.6">1</tspan></text><text x="454.7" y="492.5" font-size="3.9" fill="#4a4a4a" text-anchor="middle">10<tspan font-size="2.81" dy="-1.6">2</tspan></text><text x="454.7" y="478.4" font-size="3.9" fill="#4a4a4a" text-anchor="middle">10<tspan font-size="2.81" dy="-1.6">3</tspan></text><text x="454.7" y="464.3" font-size="3.9" fill="#4a4a4a" text-anchor="middle">10<tspan font-size="2.81" dy="-1.6">4</tspan></text><g clip-path="url(#c32)"><g filter="url(#soft)"><ellipse cx="61" cy="588" rx="8" ry="14" fill="#d8dce2" opacity="0.3"/><path fill="#a4acb6" fill-opacity="0.3" d="M65.6 589.2h0.8v0.8h-0.8zM57.5 556.8h0.8v0.8h-0.8zM57.3 594.3h0.8v0.8h-0.8zM62.5 595.0h0.8v0.8h-0.8zM61.2 587.5h0.8v0.8h-0.8zM53.8 570.9h0.8v0.8h-0.8zM68.3 594.3h0.8v0.8h-0.8zM71.0 550.6h0.8v0.8h-0.8zM61.9 573.3h0.8v0.8h-0.8zM59.3 580.6h0.8v0.8h-0.8zM65.0 594.8h0.8v0.8h-0.8zM57.0 593.0h0.8v0.8h-0.8zM61.6 589.5h0.8v0.8h-0.8zM55.9 582.4h0.8v0.8h-0.8zM57.6 590.3h0.8v0.8h-0.8zM54.8 583.9h0.8v0.8h-0.8zM54.4 551.7h0.8v0.8h-0.8zM60.6 593.7h0.8v0.8h-0.8zM70.9 554.5h0.8v0.8h-0.8zM70.0 594.7h0.8v0.8h-0.8zM65.1 572.4h0.8v0.8h-0.8zM60.5 564.0h0.8v0.8h-0.8zM65.2 593.5h0.8v0.8h-0.8zM54.7 590.8h0.8v0.8h-0.8zM64.0 573.8h0.8v0.8h-0.8zM59.9 580.1h0.8v0.8h-0.8zM69.9 599.5h0.8v0.8h-0.8zM58.3 587.2h0.8v0.8h-0.8zM61.4 597.1h0.8v0.8h-0.8zM53.6 557.6h0.8v0.8h-0.8zM72.0 577.1h0.8v0.8h-0.8zM66.1 578.3h0.8v0.8h-0.8zM61.8 598.7h0.8v0.8h-0.8zM57.9 584.5h0.8v0.8h-0.8zM59.6 591.8h0.8v0.8h-0.8zM55.1 582.3h0.8v0.8h-0.8zM61.8 592.4h0.8v0.8h-0.8zM58.7 585.6h0.8v0.8h-0.8zM68.2 594.7h0.8v0.8h-0.8zM58.1 558.3h0.8v0.8h-0.8zM54.1 582.8h0.8v0.8h-0.8zM67.1 595.0h0.8v0.8h-0.8zM65.3 554.1h0.8v0.8h-0.8zM57.6 599.4h0.8v0.8h-0.8zM61.7 594.2h0.8v0.8h-0.8zM68.0 585.0h0.8v0.8h-0.8zM71.2 575.8h0.8v0.8h-0.8zM56.0 553.8h0.8v0.8h-0.8zM69.2 575.0h0.8v0.8h-0.8zM70.7 587.3h0.8v0.8h-0.8zM54.4 596.7h0.8v0.8h-0.8zM53.6 579.5h0.8v0.8h-0.8zM68.4 589.8h0.8v0.8h-0.8zM71.9 581.3h0.8v0.8h-0.8zM58.5 577.7h0.8v0.8h-0.8zM65.2 553.6h0.8v0.8h-0.8zM62.2 583.4h0.8v0.8h-0.8zM55.3 592.9h0.8v0.8h-0.8zM69.3 586.9h0.8v0.8h-0.8zM69.5 575.7h0.8v0.8h-0.8zM66.9 563.0h0.8v0.8h-0.8zM67.8 594.4h0.8v0.8h-0.8zM61.8 597.9h0.8v0.8h-0.8zM62.1 589.3h0.8v0.8h-0.8zM62.8 589.9h0.8v0.8h-0.8zM67.7 579.6h0.8v0.8h-0.8zM54.4 591.0h0.8v0.8h-0.8zM70.5 580.8h0.8v0.8h-0.8zM68.9 596.2h0.8v0.8h-0.8zM55.9 589.3h0.8v0.8h-0.8zM64.4 576.9h0.8v0.8h-0.8zM61.1 566.6h0.8v0.8h-0.8zM74.1 560.6h0.8v0.8h-0.8zM63.9 581.6h0.8v0.8h-0.8zM57.1 597.0h0.8v0.8h-0.8zM69.7 591.6h0.8v0.8h-0.8zM70.4 591.8h0.8v0.8h-0.8zM55.7 595.7h0.8v0.8h-0.8zM57.4 582.9h0.8v0.8h-0.8zM65.0 599.1h0.8v0.8h-0.8zM63.4 590.5h0.8v0.8h-0.8zM71.4 559.9h0.8v0.8h-0.8zM63.8 597.9h0.8v0.8h-0.8zM68.5 575.7h0.8v0.8h-0.8zM62.2 565.3h0.8v0.8h-0.8zM58.4 589.9h0.8v0.8h-0.8zM71.1 573.9h0.8v0.8h-0.8zM67.7 589.4h0.8v0.8h-0.8zM55.3 587.0h0.8v0.8h-0.8zM65.4 596.0h0.8v0.8h-0.8zM66.7 581.1h0.8v0.8h-0.8zM60.1 585.7h0.8v0.8h-0.8zM55.4 554.5h0.8v0.8h-0.8zM70.7 559.8h0.8v0.8h-0.8zM56.1 581.1h0.8v0.8h-0.8zM58.2 575.7h0.8v0.8h-0.8zM53.9 553.3h0.8v0.8h-0.8zM69.0 562.6h0.8v0.8h-0.8zM66.6 558.7h0.8v0.8h-0.8zM66.5 599.0h0.8v0.8h-0.8zM58.9 580.7h0.8v0.8h-0.8zM68.9 582.1h0.8v0.8h-0.8zM68.7 573.7h0.8v0.8h-0.8zM57.2 573.8h0.8v0.8h-0.8zM59.3 598.3h0.8v0.8h-0.8zM69.4 579.1h0.8v0.8h-0.8zM60.2 597.8h0.8v0.8h-0.8zM65.1 563.6h0.8v0.8h-0.8zM65.1 598.4h0.8v0.8h-0.8zM66.1 564.2h0.8v0.8h-0.8zM69.7 596.8h0.8v0.8h-0.8zM71.0 579.7h0.8v0.8h-0.8zM58.3 569.1h0.8v0.8h-0.8zM66.2 591.9h0.8v0.8h-0.8zM61.7 589.7h0.8v0.8h-0.8zM54.8 564.4h0.8v0.8h-0.8zM63.2 592.9h0.8v0.8h-0.8zM63.8 598.8h0.8v0.8h-0.8zM64.2 594.5h0.8v0.8h-0.8zM55.9 593.1h0.8v0.8h-0.8zM56.7 576.2h0.8v0.8h-0.8zM58.9 589.9h0.8v0.8h-0.8zM55.7 562.6h0.8v0.8h-0.8zM65.2 590.3h0.8v0.8h-0.8zM66.2 589.0h0.8v0.8h-0.8zM58.3 591.2h0.8v0.8h-0.8zM66.2 559.3h0.8v0.8h-0.8zM65.6 560.8h0.8v0.8h-0.8zM61.2 590.1h0.8v0.8h-0.8zM59.7 595.8h0.8v0.8h-0.8zM71.6 567.7h0.8v0.8h-0.8zM70.6 573.0h0.8v0.8h-0.8zM69.6 585.0h0.8v0.8h-0.8zM63.2 597.2h0.8v0.8h-0.8zM67.9 588.0h0.8v0.8h-0.8zM56.8 592.1h0.8v0.8h-0.8zM54.4 583.0h0.8v0.8h-0.8zM54.8 580.8h0.8v0.8h-0.8zM55.6 591.5h0.8v0.8h-0.8zM56.2 599.0h0.8v0.8h-0.8zM70.5 580.6h0.8v0.8h-0.8zM54.6 549.9h0.8v0.8h-0.8zM68.7 589.7h0.8v0.8h-0.8zM57.2 597.9h0.8v0.8h-0.8zM65.7 597.5h0.8v0.8h-0.8zM68.2 596.0h0.8v0.8h-0.8zM63.5 587.5h0.8v0.8h-0.8zM68.6 595.3h0.8v0.8h-0.8zM59.3 591.7h0.8v0.8h-0.8zM64.5 596.6h0.8v0.8h-0.8zM62.4 592.4h0.8v0.8h-0.8zM73.0 566.7h0.8v0.8h-0.8zM60.9 581.1h0.8v0.8h-0.8zM56.8 581.5h0.8v0.8h-0.8zM63.2 566.2h0.8v0.8h-0.8zM67.8 594.4h0.8v0.8h-0.8zM64.0 584.5h0.8v0.8h-0.8zM71.6 576.0h0.8v0.8h-0.8zM71.7 559.0h0.8v0.8h-0.8zM62.5 582.4h0.8v0.8h-0.8zM63.3 591.7h0.8v0.8h-0.8zM61.7 579.6h0.8v0.8h-0.8zM58.4 592.4h0.8v0.8h-0.8zM61.8 549.7h0.8v0.8h-0.8zM69.1 585.4h0.8v0.8h-0.8zM58.9 592.7h0.8v0.8h-0.8zM57.5 594.3h0.8v0.8h-0.8zM59.2 551.9h0.8v0.8h-0.8zM54.1 572.1h0.8v0.8h-0.8zM62.6 572.8h0.8v0.8h-0.8zM53.9 581.4h0.8v0.8h-0.8zM57.6 593.0h0.8v0.8h-0.8zM53.8 558.8h0.8v0.8h-0.8zM57.0 593.2h0.8v0.8h-0.8zM74.9 549.9h0.8v0.8h-0.8zM61.8 574.6h0.8v0.8h-0.8zM64.9 581.0h0.8v0.8h-0.8zM62.8 560.6h0.8v0.8h-0.8zM65.9 554.0h0.8v0.8h-0.8zM61.5 575.3h0.8v0.8h-0.8zM55.1 574.0h0.8v0.8h-0.8zM59.6 562.1h0.8v0.8h-0.8zM61.5 598.1h0.8v0.8h-0.8zM60.6 597.1h0.8v0.8h-0.8zM57.8 587.0h0.8v0.8h-0.8zM63.1 591.5h0.8v0.8h-0.8zM71.6 578.9h0.8v0.8h-0.8zM68.7 595.9h0.8v0.8h-0.8zM59.1 576.5h0.8v0.8h-0.8zM65.4 563.6h0.8v0.8h-0.8zM55.5 566.1h0.8v0.8h-0.8zM55.3 594.5h0.8v0.8h-0.8zM63.0 585.2h0.8v0.8h-0.8zM60.6 570.1h0.8v0.8h-0.8zM59.9 573.5h0.8v0.8h-0.8zM54.2 593.0h0.8v0.8h-0.8zM69.4 591.8h0.8v0.8h-0.8zM63.9 550.2h0.8v0.8h-0.8zM63.9 596.8h0.8v0.8h-0.8zM71.9 566.8h0.8v0.8h-0.8zM69.9 589.6h0.8v0.8h-0.8zM59.9 571.9h0.8v0.8h-0.8zM60.1 593.1h0.8v0.8h-0.8zM61.1 578.8h0.8v0.8h-0.8zM55.4 585.3h0.8v0.8h-0.8zM60.5 576.2h0.8v0.8h-0.8zM68.1 572.4h0.8v0.8h-0.8zM56.3 586.0h0.8v0.8h-0.8zM70.8 567.2h0.8v0.8h-0.8zM54.5 552.9h0.8v0.8h-0.8zM67.0 578.6h0.8v0.8h-0.8zM65.9 579.9h0.8v0.8h-0.8zM54.7 567.4h0.8v0.8h-0.8zM70.7 569.1h0.8v0.8h-0.8zM59.4 579.5h0.8v0.8h-0.8zM60.0 562.5h0.8v0.8h-0.8zM62.5 575.1h0.8v0.8h-0.8zM62.0 555.3h0.8v0.8h-0.8zM69.7 598.2h0.8v0.8h-0.8zM62.1 579.2h0.8v0.8h-0.8zM54.0 588.3h0.8v0.8h-0.8zM63.8 595.3h0.8v0.8h-0.8zM69.0 595.2h0.8v0.8h-0.8zM58.2 554.3h0.8v0.8h-0.8zM67.0 572.6h0.8v0.8h-0.8zM64.2 576.8h0.8v0.8h-0.8zM61.5 586.5h0.8v0.8h-0.8zM54.5 596.3h0.8v0.8h-0.8zM65.4 589.7h0.8v0.8h-0.8zM54.3 599.2h0.8v0.8h-0.8zM67.8 598.3h0.8v0.8h-0.8zM63.6 581.4h0.8v0.8h-0.8zM68.2 598.1h0.8v0.8h-0.8zM57.7 596.5h0.8v0.8h-0.8zM71.6 577.7h0.8v0.8h-0.8zM63.6 568.7h0.8v0.8h-0.8zM67.5 552.0h0.8v0.8h-0.8zM61.3 598.0h0.8v0.8h-0.8zM63.7 588.6h0.8v0.8h-0.8zM62.0 589.5h0.8v0.8h-0.8zM58.2 565.3h0.8v0.8h-0.8zM59.3 563.7h0.8v0.8h-0.8zM60.4 570.1h0.8v0.8h-0.8zM56.3 551.7h0.8v0.8h-0.8zM55.9 576.6h0.8v0.8h-0.8zM61.7 596.9h0.8v0.8h-0.8zM54.8 595.7h0.8v0.8h-0.8zM62.8 573.8h0.8v0.8h-0.8zM70.1 578.4h0.8v0.8h-0.8zM57.7 594.3h0.8v0.8h-0.8zM55.9 559.0h0.8v0.8h-0.8zM75.2 548.2h0.8v0.8h-0.8zM54.4 575.1h0.8v0.8h-0.8zM65.2 593.2h0.8v0.8h-0.8zM59.9 573.3h0.8v0.8h-0.8zM58.1 564.4h0.8v0.8h-0.8zM69.9 558.7h0.8v0.8h-0.8zM73.4 554.2h0.8v0.8h-0.8zM58.0 594.5h0.8v0.8h-0.8zM63.6 558.4h0.8v0.8h-0.8zM63.4 595.1h0.8v0.8h-0.8zM62.6 586.5h0.8v0.8h-0.8zM66.9 599.4h0.8v0.8h-0.8zM58.9 570.8h0.8v0.8h-0.8zM57.0 596.9h0.8v0.8h-0.8zM66.3 573.0h0.8v0.8h-0.8zM54.1 555.7h0.8v0.8h-0.8zM64.8 582.5h0.8v0.8h-0.8zM56.7 566.2h0.8v0.8h-0.8zM64.7 579.9h0.8v0.8h-0.8zM57.0 594.6h0.8v0.8h-0.8zM66.4 596.7h0.8v0.8h-0.8zM57.0 598.7h0.8v0.8h-0.8zM65.0 571.4h0.8v0.8h-0.8zM62.1 593.7h0.8v0.8h-0.8zM67.0 596.1h0.8v0.8h-0.8zM54.2 597.3h0.8v0.8h-0.8zM63.9 586.9h0.8v0.8h-0.8zM55.3 583.1h0.8v0.8h-0.8zM61.2 585.5h0.8v0.8h-0.8zM59.8 551.3h0.8v0.8h-0.8zM54.5 583.6h0.8v0.8h-0.8zM67.9 558.4h0.8v0.8h-0.8zM53.9 581.4h0.8v0.8h-0.8zM69.8 591.1h0.8v0.8h-0.8zM53.9 585.0h0.8v0.8h-0.8zM61.7 565.8h0.8v0.8h-0.8zM68.2 558.5h0.8v0.8h-0.8zM70.9 576.8h0.8v0.8h-0.8zM67.5 597.7h0.8v0.8h-0.8zM54.4 597.0h0.8v0.8h-0.8zM65.8 575.9h0.8v0.8h-0.8zM57.5 573.7h0.8v0.8h-0.8zM68.4 579.1h0.8v0.8h-0.8zM59.4 567.3h0.8v0.8h-0.8zM66.8 580.6h0.8v0.8h-0.8zM64.3 597.0h0.8v0.8h-0.8zM58.7 573.9h0.8v0.8h-0.8zM69.8 571.4h0.8v0.8h-0.8zM57.4 594.8h0.8v0.8h-0.8zM63.8 591.0h0.8v0.8h-0.8zM57.5 577.7h0.8v0.8h-0.8zM55.9 596.6h0.8v0.8h-0.8zM60.7 567.5h0.8v0.8h-0.8zM58.5 564.1h0.8v0.8h-0.8zM64.7 588.2h0.8v0.8h-0.8zM67.6 597.9h0.8v0.8h-0.8zM54.6 595.2h0.8v0.8h-0.8zM55.3 598.9h0.8v0.8h-0.8zM61.5 598.3h0.8v0.8h-0.8zM73.1 565.2h0.8v0.8h-0.8zM66.8 599.0h0.8v0.8h-0.8zM70.6 585.5h0.8v0.8h-0.8zM68.9 594.9h0.8v0.8h-0.8zM65.1 598.0h0.8v0.8h-0.8zM53.6 564.4h0.8v0.8h-0.8zM65.0 582.4h0.8v0.8h-0.8zM60.8 597.9h0.8v0.8h-0.8zM63.3 561.5h0.8v0.8h-0.8zM66.7 585.2h0.8v0.8h-0.8zM60.6 585.5h0.8v0.8h-0.8zM63.0 596.2h0.8v0.8h-0.8zM63.7 580.0h0.8v0.8h-0.8zM63.3 576.1h0.8v0.8h-0.8zM64.3 582.6h0.8v0.8h-0.8zM70.1 581.7h0.8v0.8h-0.8zM71.6 550.9h0.8v0.8h-0.8zM63.1 572.1h0.8v0.8h-0.8zM56.2 577.5h0.8v0.8h-0.8zM66.4 596.2h0.8v0.8h-0.8zM59.8 560.8h0.8v0.8h-0.8zM70.8 583.2h0.8v0.8h-0.8zM58.8 584.5h0.8v0.8h-0.8zM56.2 595.8h0.8v0.8h-0.8zM56.7 563.0h0.8v0.8h-0.8zM67.6 597.7h0.8v0.8h-0.8z"/><path d="M66 599.5 C66 585 70 565 76 548 L97 548 C101 565 100 585 96 599.5 Z" fill="url(#gG)"/><ellipse cx="80" cy="591" rx="14" ry="9" fill="#6cc050" opacity="0.45"/><path fill="#74c25a" fill-opacity="0.42" d="M81.6 598.8h0.8v0.8h-0.8zM89.4 548.7h0.8v0.8h-0.8zM84.2 589.5h0.8v0.8h-0.8zM88.4 561.3h0.8v0.8h-0.8zM81.2 561.0h0.8v0.8h-0.8zM87.2 581.8h0.8v0.8h-0.8zM88.5 583.4h0.8v0.8h-0.8zM80.4 591.1h0.8v0.8h-0.8zM81.3 597.1h0.8v0.8h-0.8zM85.9 550.7h0.8v0.8h-0.8zM86.4 586.5h0.8v0.8h-0.8zM81.0 597.0h0.8v0.8h-0.8zM76.3 573.1h0.8v0.8h-0.8zM89.9 557.5h0.8v0.8h-0.8zM74.8 585.8h0.8v0.8h-0.8zM83.8 583.7h0.8v0.8h-0.8zM74.6 582.1h0.8v0.8h-0.8zM79.4 595.1h0.8v0.8h-0.8zM78.3 561.5h0.8v0.8h-0.8zM79.1 594.8h0.8v0.8h-0.8zM74.6 595.4h0.8v0.8h-0.8zM84.5 587.8h0.8v0.8h-0.8zM80.2 558.1h0.8v0.8h-0.8zM97.4 562.8h0.8v0.8h-0.8zM83.6 568.6h0.8v0.8h-0.8zM83.1 552.5h0.8v0.8h-0.8zM92.9 568.2h0.8v0.8h-0.8zM92.9 587.8h0.8v0.8h-0.8zM92.8 596.0h0.8v0.8h-0.8zM94.0 552.4h0.8v0.8h-0.8zM96.3 577.1h0.8v0.8h-0.8zM82.6 593.7h0.8v0.8h-0.8zM79.9 578.6h0.8v0.8h-0.8zM83.0 590.0h0.8v0.8h-0.8zM76.9 584.5h0.8v0.8h-0.8zM83.3 595.1h0.8v0.8h-0.8zM84.2 575.3h0.8v0.8h-0.8zM91.8 591.1h0.8v0.8h-0.8zM79.1 560.8h0.8v0.8h-0.8zM98.0 557.6h0.8v0.8h-0.8zM87.8 549.7h0.8v0.8h-0.8zM83.6 552.2h0.8v0.8h-0.8zM89.8 588.6h0.8v0.8h-0.8zM76.6 582.5h0.8v0.8h-0.8zM85.7 574.2h0.8v0.8h-0.8zM82.9 589.4h0.8v0.8h-0.8zM90.8 599.1h0.8v0.8h-0.8zM94.7 590.1h0.8v0.8h-0.8zM87.7 573.7h0.8v0.8h-0.8zM72.3 592.6h0.8v0.8h-0.8zM83.5 598.5h0.8v0.8h-0.8zM92.9 558.0h0.8v0.8h-0.8zM87.2 569.2h0.8v0.8h-0.8zM92.5 594.5h0.8v0.8h-0.8zM85.4 582.4h0.8v0.8h-0.8zM93.2 589.2h0.8v0.8h-0.8zM89.3 574.0h0.8v0.8h-0.8zM98.8 550.4h0.8v0.8h-0.8zM90.0 597.6h0.8v0.8h-0.8zM90.5 581.2h0.8v0.8h-0.8zM82.0 559.0h0.8v0.8h-0.8zM83.0 551.8h0.8v0.8h-0.8zM73.9 592.5h0.8v0.8h-0.8zM81.9 584.1h0.8v0.8h-0.8zM79.8 575.6h0.8v0.8h-0.8zM89.0 587.0h0.8v0.8h-0.8zM87.3 584.8h0.8v0.8h-0.8zM81.4 580.2h0.8v0.8h-0.8zM84.4 571.1h0.8v0.8h-0.8zM72.4 581.4h0.8v0.8h-0.8zM86.1 580.3h0.8v0.8h-0.8zM86.9 554.1h0.8v0.8h-0.8zM84.3 559.8h0.8v0.8h-0.8zM74.8 549.6h0.8v0.8h-0.8zM77.9 573.8h0.8v0.8h-0.8zM78.5 595.4h0.8v0.8h-0.8zM84.6 588.3h0.8v0.8h-0.8zM85.1 567.4h0.8v0.8h-0.8zM84.5 572.0h0.8v0.8h-0.8zM82.0 558.0h0.8v0.8h-0.8zM85.0 588.0h0.8v0.8h-0.8zM94.3 599.3h0.8v0.8h-0.8zM89.0 552.5h0.8v0.8h-0.8zM84.7 596.5h0.8v0.8h-0.8zM80.4 582.2h0.8v0.8h-0.8zM94.9 584.9h0.8v0.8h-0.8zM81.8 597.7h0.8v0.8h-0.8zM99.0 593.0h0.8v0.8h-0.8zM92.7 574.9h0.8v0.8h-0.8zM85.2 591.4h0.8v0.8h-0.8zM83.0 596.9h0.8v0.8h-0.8zM71.0 570.6h0.8v0.8h-0.8zM87.8 549.2h0.8v0.8h-0.8zM78.1 564.9h0.8v0.8h-0.8zM70.5 585.2h0.8v0.8h-0.8zM93.3 548.2h0.8v0.8h-0.8zM85.3 561.3h0.8v0.8h-0.8zM76.7 560.3h0.8v0.8h-0.8zM85.0 585.0h0.8v0.8h-0.8zM99.0 581.4h0.8v0.8h-0.8zM85.7 580.6h0.8v0.8h-0.8zM83.3 553.7h0.8v0.8h-0.8zM84.1 574.2h0.8v0.8h-0.8zM79.3 570.4h0.8v0.8h-0.8zM95.0 582.6h0.8v0.8h-0.8zM89.5 556.2h0.8v0.8h-0.8zM78.4 567.6h0.8v0.8h-0.8zM75.8 559.7h0.8v0.8h-0.8zM76.4 598.5h0.8v0.8h-0.8zM86.0 598.5h0.8v0.8h-0.8zM86.0 578.4h0.8v0.8h-0.8zM89.0 565.5h0.8v0.8h-0.8zM82.1 590.7h0.8v0.8h-0.8zM93.0 578.6h0.8v0.8h-0.8zM84.7 560.0h0.8v0.8h-0.8zM87.0 556.3h0.8v0.8h-0.8zM75.4 565.8h0.8v0.8h-0.8zM92.7 556.3h0.8v0.8h-0.8zM77.5 594.1h0.8v0.8h-0.8zM76.5 592.3h0.8v0.8h-0.8zM87.0 555.3h0.8v0.8h-0.8zM68.6 598.9h0.8v0.8h-0.8zM79.6 581.0h0.8v0.8h-0.8zM86.0 592.9h0.8v0.8h-0.8zM81.3 586.1h0.8v0.8h-0.8zM98.1 566.8h0.8v0.8h-0.8zM85.9 586.8h0.8v0.8h-0.8zM81.0 583.7h0.8v0.8h-0.8zM87.0 584.7h0.8v0.8h-0.8zM98.5 571.7h0.8v0.8h-0.8zM78.2 588.6h0.8v0.8h-0.8zM78.9 553.8h0.8v0.8h-0.8zM83.0 579.4h0.8v0.8h-0.8zM88.5 557.5h0.8v0.8h-0.8zM77.2 593.2h0.8v0.8h-0.8zM86.0 587.7h0.8v0.8h-0.8zM94.4 563.9h0.8v0.8h-0.8zM94.6 588.3h0.8v0.8h-0.8zM79.2 575.2h0.8v0.8h-0.8zM90.2 562.5h0.8v0.8h-0.8zM99.5 570.3h0.8v0.8h-0.8zM75.3 594.8h0.8v0.8h-0.8zM97.9 562.6h0.8v0.8h-0.8zM78.4 583.5h0.8v0.8h-0.8zM82.0 592.7h0.8v0.8h-0.8zM86.0 578.7h0.8v0.8h-0.8zM82.3 569.7h0.8v0.8h-0.8zM73.7 598.8h0.8v0.8h-0.8zM83.2 599.5h0.8v0.8h-0.8zM93.8 576.6h0.8v0.8h-0.8zM79.6 563.0h0.8v0.8h-0.8zM76.8 585.1h0.8v0.8h-0.8zM71.8 586.4h0.8v0.8h-0.8zM76.9 578.8h0.8v0.8h-0.8zM85.3 557.3h0.8v0.8h-0.8zM84.4 556.4h0.8v0.8h-0.8zM81.0 597.7h0.8v0.8h-0.8zM88.6 566.0h0.8v0.8h-0.8zM80.3 549.4h0.8v0.8h-0.8zM79.1 593.4h0.8v0.8h-0.8zM76.5 590.5h0.8v0.8h-0.8zM73.8 563.7h0.8v0.8h-0.8zM70.7 563.7h0.8v0.8h-0.8zM81.9 573.4h0.8v0.8h-0.8zM79.7 595.9h0.8v0.8h-0.8zM79.2 561.6h0.8v0.8h-0.8zM83.6 569.9h0.8v0.8h-0.8zM92.3 594.5h0.8v0.8h-0.8zM81.5 558.4h0.8v0.8h-0.8zM81.2 583.9h0.8v0.8h-0.8zM78.3 599.4h0.8v0.8h-0.8zM95.4 572.2h0.8v0.8h-0.8zM85.6 556.7h0.8v0.8h-0.8zM73.1 557.1h0.8v0.8h-0.8zM87.3 590.5h0.8v0.8h-0.8zM81.1 589.7h0.8v0.8h-0.8zM80.1 591.6h0.8v0.8h-0.8zM86.5 566.7h0.8v0.8h-0.8zM91.6 569.4h0.8v0.8h-0.8zM69.4 569.7h0.8v0.8h-0.8zM80.5 566.7h0.8v0.8h-0.8zM74.5 556.7h0.8v0.8h-0.8zM87.9 590.0h0.8v0.8h-0.8zM75.7 552.4h0.8v0.8h-0.8zM82.1 594.1h0.8v0.8h-0.8zM81.6 584.1h0.8v0.8h-0.8zM78.5 554.4h0.8v0.8h-0.8zM84.5 593.2h0.8v0.8h-0.8zM85.5 597.1h0.8v0.8h-0.8zM88.7 553.1h0.8v0.8h-0.8zM95.7 579.3h0.8v0.8h-0.8zM96.3 553.4h0.8v0.8h-0.8zM89.0 583.2h0.8v0.8h-0.8zM93.6 556.8h0.8v0.8h-0.8zM86.5 598.5h0.8v0.8h-0.8zM90.9 580.6h0.8v0.8h-0.8zM89.4 591.1h0.8v0.8h-0.8zM86.3 549.6h0.8v0.8h-0.8zM93.8 572.2h0.8v0.8h-0.8zM85.1 555.8h0.8v0.8h-0.8zM92.1 597.4h0.8v0.8h-0.8zM80.2 557.0h0.8v0.8h-0.8zM80.9 587.6h0.8v0.8h-0.8zM76.9 599.5h0.8v0.8h-0.8zM92.9 575.3h0.8v0.8h-0.8zM98.2 595.7h0.8v0.8h-0.8zM82.1 569.8h0.8v0.8h-0.8zM94.0 550.0h0.8v0.8h-0.8zM77.8 571.8h0.8v0.8h-0.8zM74.0 586.4h0.8v0.8h-0.8zM75.2 581.9h0.8v0.8h-0.8zM82.0 560.7h0.8v0.8h-0.8zM83.6 596.2h0.8v0.8h-0.8zM76.7 598.6h0.8v0.8h-0.8zM90.5 576.3h0.8v0.8h-0.8zM93.3 567.4h0.8v0.8h-0.8zM75.6 582.2h0.8v0.8h-0.8zM94.8 554.2h0.8v0.8h-0.8zM84.0 569.5h0.8v0.8h-0.8zM95.2 554.5h0.8v0.8h-0.8zM86.2 549.5h0.8v0.8h-0.8zM96.7 552.8h0.8v0.8h-0.8zM71.8 580.4h0.8v0.8h-0.8zM70.3 571.6h0.8v0.8h-0.8zM86.9 550.9h0.8v0.8h-0.8zM81.9 592.6h0.8v0.8h-0.8zM82.1 591.9h0.8v0.8h-0.8zM97.4 588.0h0.8v0.8h-0.8zM74.1 573.2h0.8v0.8h-0.8zM101.2 562.3h0.8v0.8h-0.8zM79.0 598.3h0.8v0.8h-0.8zM92.1 588.6h0.8v0.8h-0.8zM84.8 593.7h0.8v0.8h-0.8zM94.8 588.8h0.8v0.8h-0.8zM74.8 597.5h0.8v0.8h-0.8zM88.9 587.9h0.8v0.8h-0.8zM94.2 578.8h0.8v0.8h-0.8zM88.2 564.3h0.8v0.8h-0.8zM92.4 548.2h0.8v0.8h-0.8zM80.5 577.5h0.8v0.8h-0.8zM95.5 595.6h0.8v0.8h-0.8zM85.0 569.6h0.8v0.8h-0.8zM89.6 561.9h0.8v0.8h-0.8zM79.0 584.8h0.8v0.8h-0.8zM84.3 599.3h0.8v0.8h-0.8zM97.1 569.1h0.8v0.8h-0.8zM84.6 568.8h0.8v0.8h-0.8zM95.2 578.4h0.8v0.8h-0.8zM90.2 590.0h0.8v0.8h-0.8zM81.9 553.6h0.8v0.8h-0.8zM90.9 557.4h0.8v0.8h-0.8zM87.6 573.0h0.8v0.8h-0.8zM90.5 598.3h0.8v0.8h-0.8zM97.6 598.1h0.8v0.8h-0.8zM85.2 576.2h0.8v0.8h-0.8zM93.3 560.8h0.8v0.8h-0.8zM97.3 561.7h0.8v0.8h-0.8zM72.4 583.4h0.8v0.8h-0.8zM85.1 576.5h0.8v0.8h-0.8zM88.6 572.7h0.8v0.8h-0.8zM85.8 582.6h0.8v0.8h-0.8zM69.3 599.5h0.8v0.8h-0.8zM92.3 551.8h0.8v0.8h-0.8zM82.4 595.8h0.8v0.8h-0.8zM78.5 596.3h0.8v0.8h-0.8zM86.6 599.2h0.8v0.8h-0.8zM79.0 582.0h0.8v0.8h-0.8zM88.5 587.5h0.8v0.8h-0.8zM71.9 594.3h0.8v0.8h-0.8zM82.5 578.6h0.8v0.8h-0.8zM96.3 555.2h0.8v0.8h-0.8zM83.4 565.0h0.8v0.8h-0.8zM86.0 582.5h0.8v0.8h-0.8zM74.0 588.2h0.8v0.8h-0.8zM87.2 593.0h0.8v0.8h-0.8zM84.9 591.5h0.8v0.8h-0.8zM69.0 599.4h0.8v0.8h-0.8zM72.4 568.7h0.8v0.8h-0.8zM72.8 592.4h0.8v0.8h-0.8zM90.8 562.8h0.8v0.8h-0.8zM87.2 560.9h0.8v0.8h-0.8zM85.5 556.3h0.8v0.8h-0.8zM74.5 562.0h0.8v0.8h-0.8zM82.9 560.4h0.8v0.8h-0.8zM67.8 576.4h0.8v0.8h-0.8zM92.9 588.9h0.8v0.8h-0.8zM79.8 564.3h0.8v0.8h-0.8zM80.1 577.9h0.8v0.8h-0.8zM96.6 558.5h0.8v0.8h-0.8zM72.5 594.2h0.8v0.8h-0.8zM78.5 592.4h0.8v0.8h-0.8zM90.6 588.1h0.8v0.8h-0.8zM85.2 595.3h0.8v0.8h-0.8zM85.4 564.4h0.8v0.8h-0.8zM93.1 582.8h0.8v0.8h-0.8zM76.4 567.1h0.8v0.8h-0.8zM83.2 564.4h0.8v0.8h-0.8zM85.1 572.1h0.8v0.8h-0.8zM86.2 562.5h0.8v0.8h-0.8zM97.2 596.6h0.8v0.8h-0.8zM81.8 572.1h0.8v0.8h-0.8zM85.2 579.6h0.8v0.8h-0.8zM74.3 583.5h0.8v0.8h-0.8zM80.9 599.5h0.8v0.8h-0.8zM82.8 550.4h0.8v0.8h-0.8zM72.1 587.7h0.8v0.8h-0.8zM92.4 599.3h0.8v0.8h-0.8zM86.3 595.3h0.8v0.8h-0.8zM77.7 572.4h0.8v0.8h-0.8zM74.4 583.6h0.8v0.8h-0.8zM72.2 598.8h0.8v0.8h-0.8zM75.1 561.1h0.8v0.8h-0.8zM92.9 556.1h0.8v0.8h-0.8zM89.4 598.2h0.8v0.8h-0.8zM70.7 574.0h0.8v0.8h-0.8zM87.4 550.3h0.8v0.8h-0.8zM87.4 576.3h0.8v0.8h-0.8zM72.4 583.9h0.8v0.8h-0.8zM85.4 586.8h0.8v0.8h-0.8zM83.0 549.3h0.8v0.8h-0.8zM82.3 550.8h0.8v0.8h-0.8zM85.1 582.5h0.8v0.8h-0.8zM94.2 590.9h0.8v0.8h-0.8zM85.6 590.2h0.8v0.8h-0.8zM71.6 556.1h0.8v0.8h-0.8zM91.6 558.1h0.8v0.8h-0.8zM74.2 570.0h0.8v0.8h-0.8zM76.2 593.6h0.8v0.8h-0.8zM82.9 557.1h0.8v0.8h-0.8zM85.4 595.4h0.8v0.8h-0.8zM73.1 583.0h0.8v0.8h-0.8zM85.0 556.9h0.8v0.8h-0.8zM77.0 557.4h0.8v0.8h-0.8zM86.6 589.3h0.8v0.8h-0.8zM75.7 573.5h0.8v0.8h-0.8zM85.6 567.0h0.8v0.8h-0.8zM68.1 589.4h0.8v0.8h-0.8zM74.9 578.9h0.8v0.8h-0.8zM80.9 555.3h0.8v0.8h-0.8zM87.0 588.0h0.8v0.8h-0.8zM81.4 599.5h0.8v0.8h-0.8zM78.0 582.2h0.8v0.8h-0.8zM71.6 588.0h0.8v0.8h-0.8zM79.2 593.8h0.8v0.8h-0.8zM77.1 587.8h0.8v0.8h-0.8zM83.9 559.1h0.8v0.8h-0.8zM97.7 564.0h0.8v0.8h-0.8zM85.2 587.6h0.8v0.8h-0.8zM93.5 593.7h0.8v0.8h-0.8zM76.0 580.8h0.8v0.8h-0.8zM86.3 569.3h0.8v0.8h-0.8zM78.0 595.0h0.8v0.8h-0.8zM87.3 571.4h0.8v0.8h-0.8zM81.9 575.7h0.8v0.8h-0.8zM79.5 580.7h0.8v0.8h-0.8zM85.2 558.2h0.8v0.8h-0.8zM87.6 575.2h0.8v0.8h-0.8zM66.8 595.1h0.8v0.8h-0.8zM68.0 594.7h0.8v0.8h-0.8zM85.6 577.9h0.8v0.8h-0.8zM75.5 578.0h0.8v0.8h-0.8zM95.4 553.9h0.8v0.8h-0.8zM96.2 556.3h0.8v0.8h-0.8zM82.4 548.9h0.8v0.8h-0.8zM82.5 589.0h0.8v0.8h-0.8zM87.2 565.9h0.8v0.8h-0.8zM85.9 587.8h0.8v0.8h-0.8zM95.4 598.0h0.8v0.8h-0.8zM77.6 595.2h0.8v0.8h-0.8zM93.4 564.8h0.8v0.8h-0.8zM95.4 591.0h0.8v0.8h-0.8zM90.0 598.4h0.8v0.8h-0.8zM80.7 570.8h0.8v0.8h-0.8zM91.3 550.6h0.8v0.8h-0.8zM95.9 594.0h0.8v0.8h-0.8zM84.8 550.5h0.8v0.8h-0.8zM93.9 548.3h0.8v0.8h-0.8zM87.1 573.2h0.8v0.8h-0.8zM91.0 580.4h0.8v0.8h-0.8zM75.2 559.8h0.8v0.8h-0.8zM73.9 555.3h0.8v0.8h-0.8zM80.8 581.1h0.8v0.8h-0.8zM91.9 590.4h0.8v0.8h-0.8zM76.1 586.4h0.8v0.8h-0.8zM87.4 592.6h0.8v0.8h-0.8zM65.1 590.0h0.8v0.8h-0.8zM81.2 581.7h0.8v0.8h-0.8zM91.8 566.8h0.8v0.8h-0.8zM82.3 577.3h0.8v0.8h-0.8zM97.1 568.7h0.8v0.8h-0.8zM71.1 595.4h0.8v0.8h-0.8zM84.4 598.8h0.8v0.8h-0.8zM85.1 562.4h0.8v0.8h-0.8zM86.1 586.2h0.8v0.8h-0.8zM76.1 588.9h0.8v0.8h-0.8zM74.0 599.4h0.8v0.8h-0.8zM89.5 567.0h0.8v0.8h-0.8zM86.2 590.2h0.8v0.8h-0.8zM87.8 566.3h0.8v0.8h-0.8zM64.8 598.7h0.8v0.8h-0.8zM88.0 585.2h0.8v0.8h-0.8zM91.3 581.8h0.8v0.8h-0.8zM75.8 598.4h0.8v0.8h-0.8zM84.3 570.6h0.8v0.8h-0.8zM79.1 576.3h0.8v0.8h-0.8zM70.3 586.3h0.8v0.8h-0.8zM96.2 570.9h0.8v0.8h-0.8zM88.7 592.8h0.8v0.8h-0.8zM80.6 575.5h0.8v0.8h-0.8zM84.6 598.6h0.8v0.8h-0.8zM93.3 594.0h0.8v0.8h-0.8zM73.5 569.2h0.8v0.8h-0.8zM81.1 579.0h0.8v0.8h-0.8zM86.7 550.2h0.8v0.8h-0.8zM94.8 568.8h0.8v0.8h-0.8zM88.9 565.6h0.8v0.8h-0.8zM84.9 584.3h0.8v0.8h-0.8zM100.4 552.6h0.8v0.8h-0.8zM70.0 588.2h0.8v0.8h-0.8zM85.1 565.7h0.8v0.8h-0.8zM83.6 576.9h0.8v0.8h-0.8zM94.8 575.2h0.8v0.8h-0.8zM80.6 572.8h0.8v0.8h-0.8zM70.7 586.6h0.8v0.8h-0.8zM85.9 589.3h0.8v0.8h-0.8zM70.1 588.6h0.8v0.8h-0.8zM70.2 572.7h0.8v0.8h-0.8zM87.3 564.1h0.8v0.8h-0.8zM72.5 588.3h0.8v0.8h-0.8zM80.8 597.3h0.8v0.8h-0.8zM86.5 587.6h0.8v0.8h-0.8zM93.1 595.8h0.8v0.8h-0.8zM67.4 594.8h0.8v0.8h-0.8zM77.0 599.1h0.8v0.8h-0.8zM84.9 560.3h0.8v0.8h-0.8zM81.4 588.7h0.8v0.8h-0.8zM88.5 558.1h0.8v0.8h-0.8zM79.6 587.5h0.8v0.8h-0.8zM79.5 571.1h0.8v0.8h-0.8zM81.6 598.6h0.8v0.8h-0.8zM84.6 575.0h0.8v0.8h-0.8zM80.1 591.5h0.8v0.8h-0.8zM88.0 549.3h0.8v0.8h-0.8zM101.9 559.2h0.8v0.8h-0.8zM72.5 598.4h0.8v0.8h-0.8zM92.5 595.7h0.8v0.8h-0.8zM69.1 592.2h0.8v0.8h-0.8zM85.7 561.0h0.8v0.8h-0.8zM73.4 591.9h0.8v0.8h-0.8zM85.6 570.3h0.8v0.8h-0.8zM78.1 551.0h0.8v0.8h-0.8zM83.8 581.8h0.8v0.8h-0.8zM81.9 573.7h0.8v0.8h-0.8zM82.3 598.6h0.8v0.8h-0.8zM93.3 599.0h0.8v0.8h-0.8zM78.9 594.6h0.8v0.8h-0.8zM90.3 550.6h0.8v0.8h-0.8zM83.7 586.0h0.8v0.8h-0.8zM94.0 595.4h0.8v0.8h-0.8zM94.9 591.3h0.8v0.8h-0.8zM89.9 569.6h0.8v0.8h-0.8zM71.9 592.2h0.8v0.8h-0.8zM90.1 579.0h0.8v0.8h-0.8zM86.1 596.2h0.8v0.8h-0.8zM92.1 585.0h0.8v0.8h-0.8zM69.0 573.0h0.8v0.8h-0.8zM78.8 599.3h0.8v0.8h-0.8zM91.2 569.3h0.8v0.8h-0.8zM92.0 582.1h0.8v0.8h-0.8zM77.5 588.2h0.8v0.8h-0.8zM85.0 568.4h0.8v0.8h-0.8zM90.4 568.5h0.8v0.8h-0.8zM71.4 592.0h0.8v0.8h-0.8zM89.6 597.2h0.8v0.8h-0.8zM89.2 595.4h0.8v0.8h-0.8zM84.3 576.3h0.8v0.8h-0.8zM80.0 570.0h0.8v0.8h-0.8zM69.1 594.7h0.8v0.8h-0.8zM86.5 591.7h0.8v0.8h-0.8zM89.4 560.1h0.8v0.8h-0.8zM97.8 593.5h0.8v0.8h-0.8zM83.1 579.1h0.8v0.8h-0.8zM83.9 576.3h0.8v0.8h-0.8zM87.8 559.4h0.8v0.8h-0.8zM87.4 567.8h0.8v0.8h-0.8zM74.5 598.1h0.8v0.8h-0.8zM92.6 598.4h0.8v0.8h-0.8zM97.5 550.4h0.8v0.8h-0.8zM87.0 595.3h0.8v0.8h-0.8zM84.3 583.5h0.8v0.8h-0.8zM90.2 574.3h0.8v0.8h-0.8zM81.5 585.0h0.8v0.8h-0.8zM76.0 580.5h0.8v0.8h-0.8zM84.5 593.3h0.8v0.8h-0.8zM77.3 559.4h0.8v0.8h-0.8zM98.5 599.2h0.8v0.8h-0.8zM84.8 586.2h0.8v0.8h-0.8zM97.6 575.8h0.8v0.8h-0.8zM76.1 565.3h0.8v0.8h-0.8zM68.4 596.2h0.8v0.8h-0.8zM82.3 583.9h0.8v0.8h-0.8zM82.4 596.1h0.8v0.8h-0.8zM79.5 597.9h0.8v0.8h-0.8zM89.0 556.8h0.8v0.8h-0.8zM92.1 561.5h0.8v0.8h-0.8zM84.2 577.4h0.8v0.8h-0.8zM83.3 565.7h0.8v0.8h-0.8zM78.5 585.2h0.8v0.8h-0.8zM71.0 597.7h0.8v0.8h-0.8zM85.2 561.8h0.8v0.8h-0.8zM88.6 564.2h0.8v0.8h-0.8zM81.4 577.0h0.8v0.8h-0.8zM82.5 587.9h0.8v0.8h-0.8zM98.9 549.4h0.8v0.8h-0.8zM86.2 593.0h0.8v0.8h-0.8zM95.0 595.7h0.8v0.8h-0.8zM73.3 558.9h0.8v0.8h-0.8zM95.7 592.8h0.8v0.8h-0.8zM86.3 580.9h0.8v0.8h-0.8zM90.5 566.3h0.8v0.8h-0.8zM85.9 568.6h0.8v0.8h-0.8zM88.3 576.4h0.8v0.8h-0.8zM93.0 581.2h0.8v0.8h-0.8zM86.6 561.4h0.8v0.8h-0.8zM93.5 585.0h0.8v0.8h-0.8zM78.3 548.3h0.8v0.8h-0.8zM85.6 588.1h0.8v0.8h-0.8zM85.9 548.4h0.8v0.8h-0.8zM75.4 553.9h0.8v0.8h-0.8zM82.8 599.2h0.8v0.8h-0.8zM81.9 564.4h0.8v0.8h-0.8zM78.8 593.2h0.8v0.8h-0.8zM71.1 597.3h0.8v0.8h-0.8zM73.0 583.1h0.8v0.8h-0.8zM86.4 591.7h0.8v0.8h-0.8zM75.7 597.1h0.8v0.8h-0.8zM79.6 599.1h0.8v0.8h-0.8zM90.8 564.8h0.8v0.8h-0.8zM91.1 560.1h0.8v0.8h-0.8zM90.3 567.3h0.8v0.8h-0.8zM67.1 583.6h0.8v0.8h-0.8zM80.6 576.5h0.8v0.8h-0.8zM66.9 593.6h0.8v0.8h-0.8zM94.2 598.0h0.8v0.8h-0.8zM77.4 573.6h0.8v0.8h-0.8zM81.0 591.1h0.8v0.8h-0.8zM99.1 568.9h0.8v0.8h-0.8zM82.8 559.2h0.8v0.8h-0.8zM79.4 585.3h0.8v0.8h-0.8zM82.2 569.6h0.8v0.8h-0.8zM78.2 566.2h0.8v0.8h-0.8zM91.9 594.5h0.8v0.8h-0.8zM82.4 558.1h0.8v0.8h-0.8zM76.5 581.2h0.8v0.8h-0.8zM94.7 559.3h0.8v0.8h-0.8zM67.9 587.7h0.8v0.8h-0.8zM91.9 590.4h0.8v0.8h-0.8zM89.8 561.2h0.8v0.8h-0.8zM83.0 599.2h0.8v0.8h-0.8zM94.7 593.8h0.8v0.8h-0.8zM82.4 597.4h0.8v0.8h-0.8zM97.0 580.7h0.8v0.8h-0.8zM84.9 593.7h0.8v0.8h-0.8zM83.7 574.7h0.8v0.8h-0.8zM93.8 569.6h0.8v0.8h-0.8zM75.1 591.6h0.8v0.8h-0.8zM74.5 557.3h0.8v0.8h-0.8zM81.9 591.8h0.8v0.8h-0.8zM86.8 585.9h0.8v0.8h-0.8zM92.3 584.8h0.8v0.8h-0.8zM86.9 551.6h0.8v0.8h-0.8zM77.9 567.3h0.8v0.8h-0.8zM70.6 576.3h0.8v0.8h-0.8zM99.4 580.6h0.8v0.8h-0.8zM84.2 575.0h0.8v0.8h-0.8zM76.2 567.2h0.8v0.8h-0.8zM90.4 568.9h0.8v0.8h-0.8zM92.2 558.2h0.8v0.8h-0.8zM81.2 597.3h0.8v0.8h-0.8zM80.4 548.0h0.8v0.8h-0.8zM78.9 584.6h0.8v0.8h-0.8zM100.9 562.4h0.8v0.8h-0.8zM82.8 597.5h0.8v0.8h-0.8zM85.0 597.7h0.8v0.8h-0.8zM79.5 595.5h0.8v0.8h-0.8zM90.4 591.4h0.8v0.8h-0.8zM81.4 599.1h0.8v0.8h-0.8zM67.0 592.7h0.8v0.8h-0.8zM82.5 559.1h0.8v0.8h-0.8zM84.5 577.3h0.8v0.8h-0.8zM94.4 597.2h0.8v0.8h-0.8zM83.0 581.7h0.8v0.8h-0.8zM86.8 557.0h0.8v0.8h-0.8zM79.1 580.1h0.8v0.8h-0.8zM77.8 592.1h0.8v0.8h-0.8zM77.7 594.4h0.8v0.8h-0.8zM76.7 560.2h0.8v0.8h-0.8zM87.8 572.6h0.8v0.8h-0.8zM89.2 558.1h0.8v0.8h-0.8zM89.2 571.1h0.8v0.8h-0.8zM87.7 580.6h0.8v0.8h-0.8zM83.0 564.5h0.8v0.8h-0.8zM73.4 590.5h0.8v0.8h-0.8zM69.4 592.8h0.8v0.8h-0.8zM82.3 596.7h0.8v0.8h-0.8zM82.4 592.6h0.8v0.8h-0.8zM78.0 599.3h0.8v0.8h-0.8zM92.4 548.5h0.8v0.8h-0.8zM81.4 577.7h0.8v0.8h-0.8zM84.4 593.9h0.8v0.8h-0.8zM76.4 599.2h0.8v0.8h-0.8zM73.2 597.8h0.8v0.8h-0.8zM69.6 590.3h0.8v0.8h-0.8zM83.2 596.3h0.8v0.8h-0.8zM96.0 582.9h0.8v0.8h-0.8zM77.6 589.8h0.8v0.8h-0.8zM72.7 586.2h0.8v0.8h-0.8zM82.9 599.2h0.8v0.8h-0.8zM88.8 569.7h0.8v0.8h-0.8zM78.8 561.9h0.8v0.8h-0.8zM98.2 583.7h0.8v0.8h-0.8zM77.5 591.2h0.8v0.8h-0.8zM82.5 582.5h0.8v0.8h-0.8zM67.5 584.0h0.8v0.8h-0.8zM84.3 585.9h0.8v0.8h-0.8zM84.8 568.9h0.8v0.8h-0.8zM75.1 598.2h0.8v0.8h-0.8zM76.7 573.3h0.8v0.8h-0.8zM90.7 582.4h0.8v0.8h-0.8zM84.6 594.4h0.8v0.8h-0.8zM80.5 579.3h0.8v0.8h-0.8zM80.5 572.6h0.8v0.8h-0.8zM77.5 569.0h0.8v0.8h-0.8zM84.1 580.6h0.8v0.8h-0.8zM92.8 553.5h0.8v0.8h-0.8zM87.4 583.4h0.8v0.8h-0.8zM86.6 595.0h0.8v0.8h-0.8zM95.8 571.8h0.8v0.8h-0.8zM84.7 547.8h0.8v0.8h-0.8zM80.6 578.8h0.8v0.8h-0.8zM85.4 576.7h0.8v0.8h-0.8zM92.8 574.7h0.8v0.8h-0.8zM72.1 558.0h0.8v0.8h-0.8zM91.1 584.5h0.8v0.8h-0.8zM89.8 581.5h0.8v0.8h-0.8zM83.8 563.3h0.8v0.8h-0.8zM82.2 588.3h0.8v0.8h-0.8zM77.1 598.0h0.8v0.8h-0.8zM67.6 599.4h0.8v0.8h-0.8zM72.5 581.3h0.8v0.8h-0.8zM92.8 549.6h0.8v0.8h-0.8zM74.7 570.7h0.8v0.8h-0.8zM75.4 581.1h0.8v0.8h-0.8zM86.2 595.5h0.8v0.8h-0.8zM81.4 572.9h0.8v0.8h-0.8zM103.7 548.1h0.8v0.8h-0.8zM80.9 571.8h0.8v0.8h-0.8zM83.9 564.7h0.8v0.8h-0.8zM77.8 589.7h0.8v0.8h-0.8zM88.3 558.0h0.8v0.8h-0.8zM77.3 598.4h0.8v0.8h-0.8zM101.1 547.9h0.8v0.8h-0.8zM75.9 552.1h0.8v0.8h-0.8zM82.0 593.9h0.8v0.8h-0.8zM79.3 579.8h0.8v0.8h-0.8zM79.6 585.6h0.8v0.8h-0.8zM84.3 597.0h0.8v0.8h-0.8zM82.5 572.7h0.8v0.8h-0.8zM75.9 551.5h0.8v0.8h-0.8zM78.7 587.4h0.8v0.8h-0.8zM87.5 566.1h0.8v0.8h-0.8zM80.6 588.1h0.8v0.8h-0.8zM88.2 587.3h0.8v0.8h-0.8zM73.4 599.5h0.8v0.8h-0.8zM74.6 565.9h0.8v0.8h-0.8zM75.2 583.0h0.8v0.8h-0.8zM85.9 589.3h0.8v0.8h-0.8zM87.7 577.1h0.8v0.8h-0.8zM88.7 579.5h0.8v0.8h-0.8zM87.5 574.3h0.8v0.8h-0.8zM74.0 596.9h0.8v0.8h-0.8zM74.8 566.3h0.8v0.8h-0.8zM81.7 596.2h0.8v0.8h-0.8zM76.9 589.8h0.8v0.8h-0.8zM86.1 590.1h0.8v0.8h-0.8zM77.0 584.4h0.8v0.8h-0.8zM82.8 563.4h0.8v0.8h-0.8zM81.0 596.2h0.8v0.8h-0.8zM72.8 575.8h0.8v0.8h-0.8zM92.8 594.3h0.8v0.8h-0.8zM88.0 560.9h0.8v0.8h-0.8zM81.4 592.2h0.8v0.8h-0.8zM84.2 586.7h0.8v0.8h-0.8zM79.8 583.4h0.8v0.8h-0.8zM83.0 599.4h0.8v0.8h-0.8zM72.8 552.5h0.8v0.8h-0.8zM99.2 551.7h0.8v0.8h-0.8zM81.6 575.9h0.8v0.8h-0.8zM75.0 586.5h0.8v0.8h-0.8zM86.6 552.4h0.8v0.8h-0.8zM89.0 584.4h0.8v0.8h-0.8zM86.1 563.2h0.8v0.8h-0.8zM93.2 592.5h0.8v0.8h-0.8zM82.8 555.3h0.8v0.8h-0.8zM95.1 550.1h0.8v0.8h-0.8zM91.5 578.9h0.8v0.8h-0.8zM87.6 593.7h0.8v0.8h-0.8zM84.2 575.2h0.8v0.8h-0.8zM78.7 551.2h0.8v0.8h-0.8zM84.6 578.9h0.8v0.8h-0.8zM69.1 598.8h0.8v0.8h-0.8zM87.9 548.9h0.8v0.8h-0.8zM81.1 552.0h0.8v0.8h-0.8zM86.0 559.0h0.8v0.8h-0.8zM88.6 585.3h0.8v0.8h-0.8zM79.0 597.7h0.8v0.8h-0.8zM81.6 597.3h0.8v0.8h-0.8zM77.9 589.6h0.8v0.8h-0.8zM80.3 581.1h0.8v0.8h-0.8zM80.5 583.8h0.8v0.8h-0.8zM72.0 590.2h0.8v0.8h-0.8zM93.7 549.6h0.8v0.8h-0.8zM87.9 586.7h0.8v0.8h-0.8zM82.4 593.8h0.8v0.8h-0.8zM81.4 585.7h0.8v0.8h-0.8zM88.8 550.2h0.8v0.8h-0.8zM94.5 549.9h0.8v0.8h-0.8zM87.4 588.1h0.8v0.8h-0.8zM77.6 579.7h0.8v0.8h-0.8zM91.8 592.1h0.8v0.8h-0.8zM84.1 573.6h0.8v0.8h-0.8zM85.2 568.0h0.8v0.8h-0.8zM80.6 596.8h0.8v0.8h-0.8zM89.7 598.3h0.8v0.8h-0.8zM87.1 596.5h0.8v0.8h-0.8zM80.6 588.3h0.8v0.8h-0.8zM81.7 572.3h0.8v0.8h-0.8zM74.4 598.0h0.8v0.8h-0.8zM94.1 568.3h0.8v0.8h-0.8zM84.9 548.2h0.8v0.8h-0.8zM89.4 550.7h0.8v0.8h-0.8zM92.5 598.3h0.8v0.8h-0.8zM88.2 570.8h0.8v0.8h-0.8zM92.6 581.7h0.8v0.8h-0.8zM72.2 555.5h0.8v0.8h-0.8zM78.7 556.4h0.8v0.8h-0.8zM84.2 576.6h0.8v0.8h-0.8zM83.0 599.5h0.8v0.8h-0.8zM82.2 571.6h0.8v0.8h-0.8zM83.4 574.0h0.8v0.8h-0.8zM86.1 559.6h0.8v0.8h-0.8zM68.5 572.0h0.8v0.8h-0.8zM85.5 560.9h0.8v0.8h-0.8zM88.9 553.8h0.8v0.8h-0.8zM72.4 587.4h0.8v0.8h-0.8zM91.5 594.4h0.8v0.8h-0.8zM83.9 589.5h0.8v0.8h-0.8zM82.1 597.2h0.8v0.8h-0.8zM83.7 589.7h0.8v0.8h-0.8zM79.7 592.9h0.8v0.8h-0.8zM80.2 592.6h0.8v0.8h-0.8zM72.7 598.9h0.8v0.8h-0.8zM77.1 577.2h0.8v0.8h-0.8zM82.6 585.4h0.8v0.8h-0.8zM85.3 556.3h0.8v0.8h-0.8zM82.0 563.5h0.8v0.8h-0.8zM85.5 585.6h0.8v0.8h-0.8zM95.5 566.6h0.8v0.8h-0.8zM90.3 592.0h0.8v0.8h-0.8zM85.8 593.8h0.8v0.8h-0.8zM96.2 568.7h0.8v0.8h-0.8zM79.0 595.3h0.8v0.8h-0.8zM81.6 578.1h0.8v0.8h-0.8zM71.8 567.8h0.8v0.8h-0.8zM96.7 589.2h0.8v0.8h-0.8zM82.9 553.2h0.8v0.8h-0.8zM92.2 573.3h0.8v0.8h-0.8zM71.2 582.6h0.8v0.8h-0.8zM82.1 589.7h0.8v0.8h-0.8zM84.4 575.4h0.8v0.8h-0.8zM85.3 581.2h0.8v0.8h-0.8zM95.1 585.5h0.8v0.8h-0.8zM81.4 595.5h0.8v0.8h-0.8zM70.2 591.0h0.8v0.8h-0.8zM96.2 592.8h0.8v0.8h-0.8zM80.9 585.9h0.8v0.8h-0.8zM92.2 559.0h0.8v0.8h-0.8zM87.9 586.4h0.8v0.8h-0.8zM72.1 597.6h0.8v0.8h-0.8zM88.2 597.7h0.8v0.8h-0.8zM78.0 573.2h0.8v0.8h-0.8zM83.8 586.3h0.8v0.8h-0.8zM83.6 593.8h0.8v0.8h-0.8zM92.1 567.1h0.8v0.8h-0.8zM69.0 588.7h0.8v0.8h-0.8zM82.5 590.7h0.8v0.8h-0.8zM83.2 592.4h0.8v0.8h-0.8zM83.0 582.8h0.8v0.8h-0.8zM82.3 585.1h0.8v0.8h-0.8zM75.6 593.2h0.8v0.8h-0.8zM77.9 582.4h0.8v0.8h-0.8zM91.5 560.3h0.8v0.8h-0.8zM92.0 582.5h0.8v0.8h-0.8zM84.9 591.2h0.8v0.8h-0.8zM85.6 551.0h0.8v0.8h-0.8zM90.9 598.5h0.8v0.8h-0.8zM83.6 560.9h0.8v0.8h-0.8zM88.9 554.0h0.8v0.8h-0.8zM92.2 576.5h0.8v0.8h-0.8zM91.6 593.5h0.8v0.8h-0.8zM84.8 592.1h0.8v0.8h-0.8zM81.5 552.1h0.8v0.8h-0.8zM88.4 548.8h0.8v0.8h-0.8zM71.2 569.3h0.8v0.8h-0.8zM98.5 584.0h0.8v0.8h-0.8zM83.1 573.8h0.8v0.8h-0.8zM81.2 590.3h0.8v0.8h-0.8zM72.4 591.7h0.8v0.8h-0.8zM76.5 578.2h0.8v0.8h-0.8zM81.6 560.1h0.8v0.8h-0.8zM88.8 576.9h0.8v0.8h-0.8zM65.6 598.6h0.8v0.8h-0.8zM78.7 596.6h0.8v0.8h-0.8zM84.2 564.7h0.8v0.8h-0.8zM78.3 562.3h0.8v0.8h-0.8zM80.0 567.8h0.8v0.8h-0.8zM80.4 551.6h0.8v0.8h-0.8zM98.5 565.0h0.8v0.8h-0.8zM72.2 591.7h0.8v0.8h-0.8zM78.7 581.9h0.8v0.8h-0.8zM92.5 569.6h0.8v0.8h-0.8zM88.2 582.2h0.8v0.8h-0.8zM78.9 598.2h0.8v0.8h-0.8zM95.2 548.1h0.8v0.8h-0.8zM94.6 555.2h0.8v0.8h-0.8zM82.6 596.9h0.8v0.8h-0.8zM74.6 596.8h0.8v0.8h-0.8zM71.6 599.1h0.8v0.8h-0.8zM81.4 580.8h0.8v0.8h-0.8zM94.7 559.5h0.8v0.8h-0.8zM76.7 558.6h0.8v0.8h-0.8zM90.9 599.2h0.8v0.8h-0.8zM94.4 577.4h0.8v0.8h-0.8zM84.9 598.7h0.8v0.8h-0.8zM87.1 560.2h0.8v0.8h-0.8zM79.9 558.7h0.8v0.8h-0.8zM93.4 589.2h0.8v0.8h-0.8zM80.4 582.1h0.8v0.8h-0.8zM73.7 591.4h0.8v0.8h-0.8zM93.5 586.6h0.8v0.8h-0.8zM83.6 569.5h0.8v0.8h-0.8zM85.6 549.6h0.8v0.8h-0.8zM81.5 592.0h0.8v0.8h-0.8zM80.1 596.6h0.8v0.8h-0.8zM90.9 572.2h0.8v0.8h-0.8zM94.8 598.1h0.8v0.8h-0.8zM84.6 571.2h0.8v0.8h-0.8zM84.7 562.7h0.8v0.8h-0.8zM76.9 575.5h0.8v0.8h-0.8zM98.1 562.6h0.8v0.8h-0.8zM81.9 597.0h0.8v0.8h-0.8zM71.4 552.0h0.8v0.8h-0.8zM88.8 581.7h0.8v0.8h-0.8zM77.5 578.2h0.8v0.8h-0.8zM82.5 550.0h0.8v0.8h-0.8zM86.2 589.2h0.8v0.8h-0.8zM86.3 560.0h0.8v0.8h-0.8zM67.7 592.4h0.8v0.8h-0.8zM79.1 595.9h0.8v0.8h-0.8zM75.2 567.7h0.8v0.8h-0.8zM72.0 571.7h0.8v0.8h-0.8zM85.5 572.5h0.8v0.8h-0.8zM85.9 584.0h0.8v0.8h-0.8zM86.1 563.1h0.8v0.8h-0.8zM77.0 599.0h0.8v0.8h-0.8zM73.7 598.1h0.8v0.8h-0.8zM98.1 591.9h0.8v0.8h-0.8zM88.8 574.9h0.8v0.8h-0.8zM98.0 580.3h0.8v0.8h-0.8zM72.8 577.9h0.8v0.8h-0.8zM81.6 575.1h0.8v0.8h-0.8zM96.5 569.1h0.8v0.8h-0.8zM83.4 592.9h0.8v0.8h-0.8zM73.1 576.2h0.8v0.8h-0.8zM79.0 596.0h0.8v0.8h-0.8zM95.4 558.8h0.8v0.8h-0.8zM97.7 549.8h0.8v0.8h-0.8zM79.8 598.9h0.8v0.8h-0.8zM93.7 574.3h0.8v0.8h-0.8zM70.5 598.2h0.8v0.8h-0.8zM97.9 559.2h0.8v0.8h-0.8zM80.7 555.7h0.8v0.8h-0.8zM83.1 557.9h0.8v0.8h-0.8zM81.8 572.4h0.8v0.8h-0.8zM96.0 593.4h0.8v0.8h-0.8zM78.7 565.9h0.8v0.8h-0.8zM90.4 560.0h0.8v0.8h-0.8zM82.4 578.6h0.8v0.8h-0.8zM79.6 599.3h0.8v0.8h-0.8zM67.7 596.1h0.8v0.8h-0.8zM93.8 590.6h0.8v0.8h-0.8zM82.5 579.8h0.8v0.8h-0.8zM87.4 597.5h0.8v0.8h-0.8zM85.4 584.3h0.8v0.8h-0.8zM97.3 559.4h0.8v0.8h-0.8zM77.2 575.6h0.8v0.8h-0.8zM96.8 599.5h0.8v0.8h-0.8zM84.2 561.9h0.8v0.8h-0.8zM92.7 585.3h0.8v0.8h-0.8zM90.4 553.5h0.8v0.8h-0.8zM83.6 553.5h0.8v0.8h-0.8zM90.1 586.9h0.8v0.8h-0.8zM91.2 566.5h0.8v0.8h-0.8zM89.1 598.8h0.8v0.8h-0.8zM79.7 588.1h0.8v0.8h-0.8zM75.1 584.3h0.8v0.8h-0.8zM92.0 548.9h0.8v0.8h-0.8zM81.2 571.9h0.8v0.8h-0.8zM85.1 562.5h0.8v0.8h-0.8zM81.9 558.9h0.8v0.8h-0.8zM79.0 590.0h0.8v0.8h-0.8zM77.0 574.9h0.8v0.8h-0.8zM75.1 574.0h0.8v0.8h-0.8zM75.6 561.9h0.8v0.8h-0.8zM88.2 556.4h0.8v0.8h-0.8zM96.6 557.5h0.8v0.8h-0.8zM82.6 592.6h0.8v0.8h-0.8zM67.6 598.5h0.8v0.8h-0.8zM82.8 548.4h0.8v0.8h-0.8zM77.7 574.8h0.8v0.8h-0.8zM74.2 593.8h0.8v0.8h-0.8zM81.9 558.9h0.8v0.8h-0.8zM81.4 550.3h0.8v0.8h-0.8zM89.3 571.2h0.8v0.8h-0.8zM83.6 593.8h0.8v0.8h-0.8zM87.8 556.5h0.8v0.8h-0.8zM96.3 583.0h0.8v0.8h-0.8zM83.4 599.1h0.8v0.8h-0.8zM76.4 599.1h0.8v0.8h-0.8zM81.0 584.0h0.8v0.8h-0.8zM90.7 567.7h0.8v0.8h-0.8zM70.7 564.8h0.8v0.8h-0.8zM84.1 571.4h0.8v0.8h-0.8zM72.0 595.7h0.8v0.8h-0.8zM79.6 554.2h0.8v0.8h-0.8zM81.5 550.8h0.8v0.8h-0.8zM80.5 563.2h0.8v0.8h-0.8zM84.4 562.8h0.8v0.8h-0.8zM82.1 582.6h0.8v0.8h-0.8zM90.4 559.8h0.8v0.8h-0.8zM69.8 589.8h0.8v0.8h-0.8zM71.0 595.6h0.8v0.8h-0.8zM79.1 571.9h0.8v0.8h-0.8zM95.7 574.0h0.8v0.8h-0.8zM86.3 557.2h0.8v0.8h-0.8zM85.8 598.3h0.8v0.8h-0.8zM71.6 575.7h0.8v0.8h-0.8zM79.2 588.9h0.8v0.8h-0.8zM77.2 566.6h0.8v0.8h-0.8zM72.0 596.4h0.8v0.8h-0.8zM83.9 569.3h0.8v0.8h-0.8zM81.1 574.9h0.8v0.8h-0.8zM72.9 593.2h0.8v0.8h-0.8zM92.5 588.4h0.8v0.8h-0.8zM86.7 592.0h0.8v0.8h-0.8zM89.2 568.0h0.8v0.8h-0.8zM95.4 581.7h0.8v0.8h-0.8zM85.5 572.7h0.8v0.8h-0.8zM99.1 555.7h0.8v0.8h-0.8zM84.7 574.3h0.8v0.8h-0.8zM83.8 575.0h0.8v0.8h-0.8zM89.6 560.5h0.8v0.8h-0.8zM77.8 584.4h0.8v0.8h-0.8zM79.4 569.2h0.8v0.8h-0.8zM95.3 555.0h0.8v0.8h-0.8zM84.6 567.9h0.8v0.8h-0.8zM87.4 592.3h0.8v0.8h-0.8zM89.9 565.6h0.8v0.8h-0.8zM85.2 556.9h0.8v0.8h-0.8zM81.3 581.8h0.8v0.8h-0.8zM74.7 584.2h0.8v0.8h-0.8zM74.6 597.5h0.8v0.8h-0.8zM99.6 557.4h0.8v0.8h-0.8zM89.2 573.7h0.8v0.8h-0.8zM74.9 580.6h0.8v0.8h-0.8zM96.1 561.3h0.8v0.8h-0.8zM78.9 573.5h0.8v0.8h-0.8zM86.5 566.8h0.8v0.8h-0.8zM83.9 566.8h0.8v0.8h-0.8zM74.3 582.5h0.8v0.8h-0.8zM85.6 553.6h0.8v0.8h-0.8zM75.8 580.4h0.8v0.8h-0.8zM80.0 555.4h0.8v0.8h-0.8zM84.4 597.0h0.8v0.8h-0.8zM78.0 567.3h0.8v0.8h-0.8zM82.1 589.7h0.8v0.8h-0.8zM79.8 575.6h0.8v0.8h-0.8zM82.0 568.6h0.8v0.8h-0.8zM72.8 589.1h0.8v0.8h-0.8zM90.6 595.2h0.8v0.8h-0.8zM81.5 596.3h0.8v0.8h-0.8zM94.1 548.2h0.8v0.8h-0.8zM87.1 581.6h0.8v0.8h-0.8zM81.7 598.3h0.8v0.8h-0.8zM84.4 599.4h0.8v0.8h-0.8zM68.5 598.6h0.8v0.8h-0.8zM96.5 573.3h0.8v0.8h-0.8zM94.0 589.9h0.8v0.8h-0.8zM97.3 559.6h0.8v0.8h-0.8zM85.1 553.7h0.8v0.8h-0.8zM87.7 553.6h0.8v0.8h-0.8zM81.6 585.0h0.8v0.8h-0.8zM77.3 590.4h0.8v0.8h-0.8zM74.2 575.6h0.8v0.8h-0.8zM86.7 554.7h0.8v0.8h-0.8zM88.5 588.5h0.8v0.8h-0.8zM82.8 589.5h0.8v0.8h-0.8zM85.8 556.6h0.8v0.8h-0.8zM72.9 597.6h0.8v0.8h-0.8zM85.4 572.2h0.8v0.8h-0.8zM76.9 557.8h0.8v0.8h-0.8zM94.9 573.9h0.8v0.8h-0.8zM91.6 556.9h0.8v0.8h-0.8zM76.5 565.9h0.8v0.8h-0.8zM95.1 562.4h0.8v0.8h-0.8zM85.5 572.0h0.8v0.8h-0.8zM84.3 551.1h0.8v0.8h-0.8zM77.9 592.8h0.8v0.8h-0.8zM85.1 590.5h0.8v0.8h-0.8zM84.6 549.2h0.8v0.8h-0.8zM85.8 564.7h0.8v0.8h-0.8zM71.5 597.6h0.8v0.8h-0.8zM90.3 568.2h0.8v0.8h-0.8zM77.8 574.1h0.8v0.8h-0.8zM81.0 588.3h0.8v0.8h-0.8zM82.3 572.8h0.8v0.8h-0.8zM75.1 575.9h0.8v0.8h-0.8zM91.6 590.4h0.8v0.8h-0.8zM79.3 563.3h0.8v0.8h-0.8zM74.4 575.1h0.8v0.8h-0.8zM75.7 569.7h0.8v0.8h-0.8zM75.9 593.5h0.8v0.8h-0.8zM85.6 589.8h0.8v0.8h-0.8zM86.6 554.8h0.8v0.8h-0.8zM73.7 583.0h0.8v0.8h-0.8zM81.7 569.3h0.8v0.8h-0.8zM79.5 593.4h0.8v0.8h-0.8zM80.8 571.0h0.8v0.8h-0.8zM85.6 556.1h0.8v0.8h-0.8zM68.2 586.4h0.8v0.8h-0.8zM85.7 591.9h0.8v0.8h-0.8zM76.3 597.8h0.8v0.8h-0.8zM83.1 590.2h0.8v0.8h-0.8zM90.2 580.4h0.8v0.8h-0.8zM79.8 581.8h0.8v0.8h-0.8zM76.1 595.2h0.8v0.8h-0.8zM99.5 571.2h0.8v0.8h-0.8zM98.1 550.4h0.8v0.8h-0.8zM79.4 556.1h0.8v0.8h-0.8zM78.5 595.3h0.8v0.8h-0.8zM82.8 565.3h0.8v0.8h-0.8zM86.3 558.9h0.8v0.8h-0.8zM89.2 551.4h0.8v0.8h-0.8zM87.8 590.1h0.8v0.8h-0.8zM83.4 563.3h0.8v0.8h-0.8zM80.1 548.0h0.8v0.8h-0.8zM88.0 591.3h0.8v0.8h-0.8zM90.6 553.8h0.8v0.8h-0.8zM81.1 558.7h0.8v0.8h-0.8zM80.1 572.0h0.8v0.8h-0.8zM83.0 580.7h0.8v0.8h-0.8zM94.9 598.7h0.8v0.8h-0.8zM71.1 598.0h0.8v0.8h-0.8zM97.0 550.9h0.8v0.8h-0.8zM85.5 594.0h0.8v0.8h-0.8zM77.5 597.8h0.8v0.8h-0.8zM75.4 594.0h0.8v0.8h-0.8zM94.5 573.7h0.8v0.8h-0.8zM71.0 599.3h0.8v0.8h-0.8zM74.1 590.7h0.8v0.8h-0.8zM80.9 582.7h0.8v0.8h-0.8zM76.1 561.2h0.8v0.8h-0.8zM80.7 581.3h0.8v0.8h-0.8zM94.5 582.7h0.8v0.8h-0.8zM77.4 573.6h0.8v0.8h-0.8zM85.8 576.9h0.8v0.8h-0.8zM78.1 567.3h0.8v0.8h-0.8zM83.4 595.2h0.8v0.8h-0.8zM90.9 590.2h0.8v0.8h-0.8zM80.6 577.4h0.8v0.8h-0.8zM79.3 572.2h0.8v0.8h-0.8zM93.1 549.2h0.8v0.8h-0.8zM75.9 581.5h0.8v0.8h-0.8zM82.3 548.9h0.8v0.8h-0.8zM81.3 585.4h0.8v0.8h-0.8zM73.0 561.6h0.8v0.8h-0.8zM68.8 582.5h0.8v0.8h-0.8zM69.1 595.3h0.8v0.8h-0.8zM79.2 571.8h0.8v0.8h-0.8zM74.0 599.3h0.8v0.8h-0.8zM67.7 599.0h0.8v0.8h-0.8zM87.3 568.3h0.8v0.8h-0.8zM82.7 584.4h0.8v0.8h-0.8zM87.2 591.1h0.8v0.8h-0.8zM81.7 553.2h0.8v0.8h-0.8zM85.2 575.1h0.8v0.8h-0.8zM83.2 591.8h0.8v0.8h-0.8zM75.4 564.8h0.8v0.8h-0.8zM84.2 597.1h0.8v0.8h-0.8zM69.6 593.2h0.8v0.8h-0.8zM75.5 587.7h0.8v0.8h-0.8zM79.9 585.7h0.8v0.8h-0.8zM88.4 556.8h0.8v0.8h-0.8zM84.5 561.6h0.8v0.8h-0.8zM76.4 597.8h0.8v0.8h-0.8zM81.8 557.0h0.8v0.8h-0.8zM84.6 564.5h0.8v0.8h-0.8zM75.1 589.1h0.8v0.8h-0.8zM95.4 594.5h0.8v0.8h-0.8zM81.1 577.5h0.8v0.8h-0.8zM88.6 577.7h0.8v0.8h-0.8zM78.7 564.5h0.8v0.8h-0.8zM76.9 590.6h0.8v0.8h-0.8zM80.5 595.5h0.8v0.8h-0.8zM73.2 568.3h0.8v0.8h-0.8zM90.9 562.1h0.8v0.8h-0.8zM92.4 578.7h0.8v0.8h-0.8zM81.7 594.1h0.8v0.8h-0.8zM83.1 567.2h0.8v0.8h-0.8zM87.8 567.1h0.8v0.8h-0.8zM88.5 565.3h0.8v0.8h-0.8zM93.1 599.3h0.8v0.8h-0.8zM92.0 595.5h0.8v0.8h-0.8zM80.7 586.2h0.8v0.8h-0.8zM93.8 555.0h0.8v0.8h-0.8zM77.5 575.7h0.8v0.8h-0.8zM95.7 593.5h0.8v0.8h-0.8zM89.9 555.4h0.8v0.8h-0.8zM82.1 573.0h0.8v0.8h-0.8zM80.0 597.6h0.8v0.8h-0.8zM96.3 549.5h0.8v0.8h-0.8zM75.0 594.5h0.8v0.8h-0.8zM84.1 563.5h0.8v0.8h-0.8zM80.2 599.5h0.8v0.8h-0.8zM76.6 557.9h0.8v0.8h-0.8zM84.3 570.0h0.8v0.8h-0.8zM90.2 581.7h0.8v0.8h-0.8zM98.2 567.2h0.8v0.8h-0.8zM87.1 589.8h0.8v0.8h-0.8zM75.3 586.1h0.8v0.8h-0.8zM88.5 598.0h0.8v0.8h-0.8zM97.3 559.3h0.8v0.8h-0.8zM90.4 580.7h0.8v0.8h-0.8zM94.2 591.2h0.8v0.8h-0.8zM83.9 569.9h0.8v0.8h-0.8zM89.4 570.3h0.8v0.8h-0.8zM87.4 574.2h0.8v0.8h-0.8zM71.3 588.3h0.8v0.8h-0.8zM88.4 585.0h0.8v0.8h-0.8zM83.6 591.9h0.8v0.8h-0.8zM94.1 599.5h0.8v0.8h-0.8zM89.9 556.1h0.8v0.8h-0.8zM76.9 584.2h0.8v0.8h-0.8zM88.6 576.5h0.8v0.8h-0.8zM99.1 566.4h0.8v0.8h-0.8zM87.2 559.2h0.8v0.8h-0.8zM88.2 547.7h0.8v0.8h-0.8zM90.2 556.3h0.8v0.8h-0.8zM85.0 599.0h0.8v0.8h-0.8zM71.2 590.2h0.8v0.8h-0.8zM85.7 567.0h0.8v0.8h-0.8zM85.6 598.6h0.8v0.8h-0.8zM77.6 595.0h0.8v0.8h-0.8zM79.3 559.7h0.8v0.8h-0.8zM75.2 578.3h0.8v0.8h-0.8zM84.0 550.0h0.8v0.8h-0.8zM100.9 555.9h0.8v0.8h-0.8zM91.2 592.9h0.8v0.8h-0.8zM83.7 558.7h0.8v0.8h-0.8zM94.0 597.2h0.8v0.8h-0.8zM82.4 563.7h0.8v0.8h-0.8zM91.4 559.7h0.8v0.8h-0.8zM81.4 572.6h0.8v0.8h-0.8zM95.5 566.9h0.8v0.8h-0.8zM82.4 586.5h0.8v0.8h-0.8zM79.9 595.2h0.8v0.8h-0.8zM100.4 572.9h0.8v0.8h-0.8zM77.6 557.3h0.8v0.8h-0.8zM86.2 550.3h0.8v0.8h-0.8zM87.7 589.1h0.8v0.8h-0.8zM80.6 563.2h0.8v0.8h-0.8zM81.4 585.2h0.8v0.8h-0.8zM84.1 555.8h0.8v0.8h-0.8zM88.9 556.1h0.8v0.8h-0.8zM74.8 570.0h0.8v0.8h-0.8zM102.1 551.6h0.8v0.8h-0.8zM70.0 588.9h0.8v0.8h-0.8zM90.6 549.4h0.8v0.8h-0.8zM80.7 560.9h0.8v0.8h-0.8zM89.9 594.4h0.8v0.8h-0.8zM73.4 550.8h0.8v0.8h-0.8zM83.7 594.7h0.8v0.8h-0.8zM96.1 560.3h0.8v0.8h-0.8zM72.6 596.2h0.8v0.8h-0.8zM84.5 593.3h0.8v0.8h-0.8zM98.2 556.4h0.8v0.8h-0.8zM86.2 579.8h0.8v0.8h-0.8zM74.5 584.5h0.8v0.8h-0.8zM89.3 596.9h0.8v0.8h-0.8zM84.0 582.8h0.8v0.8h-0.8zM89.4 586.0h0.8v0.8h-0.8zM75.8 593.3h0.8v0.8h-0.8zM97.4 588.3h0.8v0.8h-0.8zM89.9 597.8h0.8v0.8h-0.8zM81.3 563.5h0.8v0.8h-0.8zM98.7 573.7h0.8v0.8h-0.8zM88.0 597.9h0.8v0.8h-0.8zM89.4 551.2h0.8v0.8h-0.8zM89.1 575.0h0.8v0.8h-0.8zM82.4 564.7h0.8v0.8h-0.8zM71.6 571.2h0.8v0.8h-0.8zM91.1 579.6h0.8v0.8h-0.8zM88.3 574.9h0.8v0.8h-0.8zM89.6 573.6h0.8v0.8h-0.8zM74.6 549.7h0.8v0.8h-0.8zM84.7 573.5h0.8v0.8h-0.8zM84.9 598.8h0.8v0.8h-0.8zM91.0 596.0h0.8v0.8h-0.8zM73.3 599.3h0.8v0.8h-0.8zM90.7 582.1h0.8v0.8h-0.8zM81.1 578.6h0.8v0.8h-0.8zM82.1 571.0h0.8v0.8h-0.8zM70.9 587.8h0.8v0.8h-0.8zM83.3 571.6h0.8v0.8h-0.8zM82.5 586.4h0.8v0.8h-0.8zM80.1 591.5h0.8v0.8h-0.8zM82.2 573.7h0.8v0.8h-0.8zM80.7 582.6h0.8v0.8h-0.8zM74.2 587.2h0.8v0.8h-0.8zM94.3 597.8h0.8v0.8h-0.8zM76.6 576.1h0.8v0.8h-0.8zM79.7 579.4h0.8v0.8h-0.8zM70.3 598.0h0.8v0.8h-0.8zM75.8 598.8h0.8v0.8h-0.8zM94.1 562.0h0.8v0.8h-0.8zM76.2 590.8h0.8v0.8h-0.8zM81.2 558.4h0.8v0.8h-0.8zM88.9 596.2h0.8v0.8h-0.8zM91.2 584.0h0.8v0.8h-0.8zM80.9 595.0h0.8v0.8h-0.8zM88.5 599.4h0.8v0.8h-0.8zM96.7 594.1h0.8v0.8h-0.8zM89.8 595.5h0.8v0.8h-0.8zM78.7 575.1h0.8v0.8h-0.8zM87.0 595.2h0.8v0.8h-0.8zM81.0 580.6h0.8v0.8h-0.8zM78.2 577.5h0.8v0.8h-0.8zM83.2 579.3h0.8v0.8h-0.8zM94.9 595.2h0.8v0.8h-0.8zM80.3 556.1h0.8v0.8h-0.8zM87.9 553.8h0.8v0.8h-0.8zM92.5 572.1h0.8v0.8h-0.8zM78.2 597.5h0.8v0.8h-0.8zM69.2 586.5h0.8v0.8h-0.8zM89.7 568.7h0.8v0.8h-0.8zM85.3 564.2h0.8v0.8h-0.8zM85.7 551.0h0.8v0.8h-0.8zM68.9 599.4h0.8v0.8h-0.8zM98.5 574.8h0.8v0.8h-0.8zM87.3 596.0h0.8v0.8h-0.8zM80.0 556.7h0.8v0.8h-0.8zM97.0 564.6h0.8v0.8h-0.8zM91.0 586.6h0.8v0.8h-0.8zM79.8 586.2h0.8v0.8h-0.8zM94.3 557.5h0.8v0.8h-0.8zM87.9 589.3h0.8v0.8h-0.8zM72.6 576.3h0.8v0.8h-0.8zM81.1 576.6h0.8v0.8h-0.8zM78.3 562.2h0.8v0.8h-0.8zM84.2 569.6h0.8v0.8h-0.8zM82.9 598.7h0.8v0.8h-0.8zM86.3 572.3h0.8v0.8h-0.8zM84.2 555.1h0.8v0.8h-0.8zM89.9 550.5h0.8v0.8h-0.8zM83.6 598.2h0.8v0.8h-0.8zM82.4 599.3h0.8v0.8h-0.8zM79.7 569.7h0.8v0.8h-0.8zM78.8 597.2h0.8v0.8h-0.8zM95.6 559.1h0.8v0.8h-0.8zM75.4 584.8h0.8v0.8h-0.8zM84.5 597.9h0.8v0.8h-0.8zM81.2 576.3h0.8v0.8h-0.8zM94.6 598.8h0.8v0.8h-0.8zM70.4 598.3h0.8v0.8h-0.8zM92.2 573.1h0.8v0.8h-0.8zM80.6 579.0h0.8v0.8h-0.8zM86.3 592.6h0.8v0.8h-0.8zM83.9 585.8h0.8v0.8h-0.8zM91.6 597.8h0.8v0.8h-0.8zM81.4 591.1h0.8v0.8h-0.8zM83.4 554.6h0.8v0.8h-0.8zM85.7 594.4h0.8v0.8h-0.8zM87.6 577.4h0.8v0.8h-0.8zM80.8 553.0h0.8v0.8h-0.8zM84.1 584.2h0.8v0.8h-0.8zM94.0 598.3h0.8v0.8h-0.8zM87.3 587.4h0.8v0.8h-0.8zM72.7 589.5h0.8v0.8h-0.8zM90.6 557.2h0.8v0.8h-0.8zM87.5 566.6h0.8v0.8h-0.8zM87.2 597.0h0.8v0.8h-0.8zM96.8 597.1h0.8v0.8h-0.8zM95.2 550.2h0.8v0.8h-0.8zM81.8 580.7h0.8v0.8h-0.8zM90.6 559.5h0.8v0.8h-0.8zM90.9 575.4h0.8v0.8h-0.8zM82.3 591.4h0.8v0.8h-0.8zM101.0 569.5h0.8v0.8h-0.8zM76.6 552.0h0.8v0.8h-0.8zM84.5 567.0h0.8v0.8h-0.8zM94.8 568.8h0.8v0.8h-0.8zM94.3 598.1h0.8v0.8h-0.8zM80.4 590.2h0.8v0.8h-0.8zM86.9 592.1h0.8v0.8h-0.8zM77.8 592.4h0.8v0.8h-0.8zM84.5 599.3h0.8v0.8h-0.8zM77.2 596.5h0.8v0.8h-0.8zM87.7 583.3h0.8v0.8h-0.8zM101.2 548.0h0.8v0.8h-0.8zM82.0 582.0h0.8v0.8h-0.8zM94.5 591.9h0.8v0.8h-0.8zM83.2 583.4h0.8v0.8h-0.8zM76.0 595.1h0.8v0.8h-0.8zM69.2 576.3h0.8v0.8h-0.8zM103.6 548.8h0.8v0.8h-0.8zM76.2 569.2h0.8v0.8h-0.8zM84.9 597.1h0.8v0.8h-0.8zM83.6 565.4h0.8v0.8h-0.8zM66.3 582.7h0.8v0.8h-0.8zM69.2 591.0h0.8v0.8h-0.8zM82.8 550.8h0.8v0.8h-0.8zM98.5 579.8h0.8v0.8h-0.8zM73.2 592.6h0.8v0.8h-0.8zM89.4 582.5h0.8v0.8h-0.8zM70.4 593.9h0.8v0.8h-0.8zM78.2 563.9h0.8v0.8h-0.8zM80.5 565.5h0.8v0.8h-0.8zM79.8 596.3h0.8v0.8h-0.8zM88.9 555.4h0.8v0.8h-0.8zM73.2 592.0h0.8v0.8h-0.8zM86.1 585.1h0.8v0.8h-0.8zM89.4 586.2h0.8v0.8h-0.8zM84.6 592.5h0.8v0.8h-0.8zM83.0 560.6h0.8v0.8h-0.8zM86.6 589.0h0.8v0.8h-0.8zM80.9 577.4h0.8v0.8h-0.8zM90.6 582.9h0.8v0.8h-0.8zM86.3 564.3h0.8v0.8h-0.8zM80.6 576.7h0.8v0.8h-0.8zM90.4 590.0h0.8v0.8h-0.8zM85.0 561.7h0.8v0.8h-0.8zM95.1 577.2h0.8v0.8h-0.8zM72.0 588.5h0.8v0.8h-0.8zM85.5 572.3h0.8v0.8h-0.8zM88.5 585.8h0.8v0.8h-0.8zM77.4 574.1h0.8v0.8h-0.8zM85.3 582.4h0.8v0.8h-0.8zM74.1 559.6h0.8v0.8h-0.8zM87.0 598.1h0.8v0.8h-0.8zM86.5 560.5h0.8v0.8h-0.8zM74.1 569.0h0.8v0.8h-0.8zM84.3 562.8h0.8v0.8h-0.8zM79.8 589.1h0.8v0.8h-0.8zM84.5 576.5h0.8v0.8h-0.8zM86.0 578.4h0.8v0.8h-0.8zM83.8 554.3h0.8v0.8h-0.8zM92.7 561.5h0.8v0.8h-0.8zM82.4 583.9h0.8v0.8h-0.8zM81.8 558.7h0.8v0.8h-0.8zM82.4 599.1h0.8v0.8h-0.8zM78.4 570.6h0.8v0.8h-0.8zM88.3 562.3h0.8v0.8h-0.8zM90.4 562.8h0.8v0.8h-0.8zM76.7 586.5h0.8v0.8h-0.8zM68.4 598.6h0.8v0.8h-0.8zM80.4 584.3h0.8v0.8h-0.8zM95.3 563.8h0.8v0.8h-0.8zM87.1 554.0h0.8v0.8h-0.8zM77.4 589.6h0.8v0.8h-0.8zM91.3 556.0h0.8v0.8h-0.8zM84.0 586.7h0.8v0.8h-0.8zM83.7 590.4h0.8v0.8h-0.8zM93.1 548.6h0.8v0.8h-0.8zM75.2 594.4h0.8v0.8h-0.8zM91.7 598.6h0.8v0.8h-0.8zM93.0 551.2h0.8v0.8h-0.8zM86.4 551.0h0.8v0.8h-0.8zM84.8 576.6h0.8v0.8h-0.8zM94.4 556.0h0.8v0.8h-0.8zM80.0 590.1h0.8v0.8h-0.8zM87.9 579.6h0.8v0.8h-0.8zM74.8 593.8h0.8v0.8h-0.8zM89.4 581.4h0.8v0.8h-0.8zM98.7 572.2h0.8v0.8h-0.8zM83.9 589.6h0.8v0.8h-0.8zM95.4 597.6h0.8v0.8h-0.8zM78.4 594.5h0.8v0.8h-0.8zM76.8 598.3h0.8v0.8h-0.8zM80.2 599.3h0.8v0.8h-0.8zM87.9 576.0h0.8v0.8h-0.8zM71.6 574.1h0.8v0.8h-0.8zM81.7 598.6h0.8v0.8h-0.8zM74.3 599.0h0.8v0.8h-0.8zM83.8 587.7h0.8v0.8h-0.8zM86.1 587.5h0.8v0.8h-0.8zM74.5 588.9h0.8v0.8h-0.8zM74.7 589.6h0.8v0.8h-0.8zM93.4 595.7h0.8v0.8h-0.8zM73.8 588.0h0.8v0.8h-0.8zM84.7 570.2h0.8v0.8h-0.8zM90.1 589.3h0.8v0.8h-0.8zM75.8 591.0h0.8v0.8h-0.8zM78.9 594.2h0.8v0.8h-0.8zM82.9 599.2h0.8v0.8h-0.8zM89.6 589.4h0.8v0.8h-0.8zM87.2 572.5h0.8v0.8h-0.8zM80.4 566.9h0.8v0.8h-0.8zM77.2 589.4h0.8v0.8h-0.8zM75.7 572.7h0.8v0.8h-0.8zM68.6 596.1h0.8v0.8h-0.8zM81.3 595.4h0.8v0.8h-0.8zM88.2 583.9h0.8v0.8h-0.8zM83.5 592.7h0.8v0.8h-0.8zM68.4 596.3h0.8v0.8h-0.8zM85.8 552.7h0.8v0.8h-0.8zM79.6 599.3h0.8v0.8h-0.8zM78.5 569.1h0.8v0.8h-0.8zM76.4 566.8h0.8v0.8h-0.8zM79.6 593.9h0.8v0.8h-0.8zM73.8 597.1h0.8v0.8h-0.8zM87.4 570.0h0.8v0.8h-0.8zM85.7 571.9h0.8v0.8h-0.8zM83.5 586.3h0.8v0.8h-0.8zM89.8 576.7h0.8v0.8h-0.8zM90.6 592.8h0.8v0.8h-0.8zM89.3 551.4h0.8v0.8h-0.8zM71.6 598.1h0.8v0.8h-0.8zM91.8 595.4h0.8v0.8h-0.8zM92.0 592.0h0.8v0.8h-0.8zM76.8 559.1h0.8v0.8h-0.8zM86.5 593.7h0.8v0.8h-0.8zM84.0 574.2h0.8v0.8h-0.8zM75.7 584.2h0.8v0.8h-0.8zM92.4 581.4h0.8v0.8h-0.8zM73.0 596.8h0.8v0.8h-0.8zM85.1 569.5h0.8v0.8h-0.8zM79.6 548.6h0.8v0.8h-0.8zM84.4 576.5h0.8v0.8h-0.8zM74.9 583.3h0.8v0.8h-0.8zM93.1 564.9h0.8v0.8h-0.8zM76.9 597.5h0.8v0.8h-0.8zM89.7 597.1h0.8v0.8h-0.8zM75.3 589.0h0.8v0.8h-0.8zM66.5 592.7h0.8v0.8h-0.8zM86.3 589.4h0.8v0.8h-0.8zM83.3 569.8h0.8v0.8h-0.8zM88.3 556.6h0.8v0.8h-0.8zM77.6 555.1h0.8v0.8h-0.8zM94.2 594.0h0.8v0.8h-0.8zM69.5 588.4h0.8v0.8h-0.8zM86.9 586.6h0.8v0.8h-0.8zM98.4 595.9h0.8v0.8h-0.8zM77.7 594.1h0.8v0.8h-0.8zM93.9 584.0h0.8v0.8h-0.8zM95.5 587.6h0.8v0.8h-0.8zM68.3 588.5h0.8v0.8h-0.8zM75.4 587.1h0.8v0.8h-0.8zM96.7 580.1h0.8v0.8h-0.8zM94.3 587.7h0.8v0.8h-0.8zM90.2 549.3h0.8v0.8h-0.8zM75.1 563.1h0.8v0.8h-0.8zM83.3 561.8h0.8v0.8h-0.8zM82.5 593.7h0.8v0.8h-0.8zM81.3 548.3h0.8v0.8h-0.8zM88.5 586.2h0.8v0.8h-0.8zM76.1 548.9h0.8v0.8h-0.8zM94.2 595.8h0.8v0.8h-0.8zM91.4 557.8h0.8v0.8h-0.8zM93.2 574.3h0.8v0.8h-0.8zM73.1 599.3h0.8v0.8h-0.8zM92.1 555.3h0.8v0.8h-0.8zM86.8 573.0h0.8v0.8h-0.8zM88.4 599.3h0.8v0.8h-0.8zM81.6 567.7h0.8v0.8h-0.8zM91.6 593.7h0.8v0.8h-0.8zM79.8 574.5h0.8v0.8h-0.8zM92.2 593.2h0.8v0.8h-0.8zM75.6 595.1h0.8v0.8h-0.8zM91.5 551.2h0.8v0.8h-0.8zM83.4 597.8h0.8v0.8h-0.8zM84.2 597.2h0.8v0.8h-0.8zM95.6 574.6h0.8v0.8h-0.8zM94.2 570.8h0.8v0.8h-0.8zM93.2 578.7h0.8v0.8h-0.8zM91.6 588.5h0.8v0.8h-0.8zM87.3 559.9h0.8v0.8h-0.8zM95.4 591.7h0.8v0.8h-0.8zM89.6 551.5h0.8v0.8h-0.8zM85.3 576.1h0.8v0.8h-0.8zM77.1 590.7h0.8v0.8h-0.8zM82.5 548.6h0.8v0.8h-0.8zM87.5 551.0h0.8v0.8h-0.8zM88.6 570.0h0.8v0.8h-0.8zM89.8 593.5h0.8v0.8h-0.8zM83.6 591.3h0.8v0.8h-0.8zM83.9 592.6h0.8v0.8h-0.8zM79.5 585.4h0.8v0.8h-0.8zM97.3 566.6h0.8v0.8h-0.8zM73.8 599.1h0.8v0.8h-0.8zM76.4 585.7h0.8v0.8h-0.8zM68.3 598.5h0.8v0.8h-0.8zM70.7 599.1h0.8v0.8h-0.8zM73.6 594.6h0.8v0.8h-0.8zM67.4 596.0h0.8v0.8h-0.8zM71.7 586.8h0.8v0.8h-0.8zM77.4 565.6h0.8v0.8h-0.8zM74.5 597.0h0.8v0.8h-0.8zM84.5 549.9h0.8v0.8h-0.8zM80.0 594.6h0.8v0.8h-0.8zM74.5 578.6h0.8v0.8h-0.8zM89.5 570.2h0.8v0.8h-0.8zM86.4 579.1h0.8v0.8h-0.8zM93.2 566.9h0.8v0.8h-0.8zM94.4 573.8h0.8v0.8h-0.8zM92.8 588.8h0.8v0.8h-0.8zM86.5 577.2h0.8v0.8h-0.8zM77.9 587.2h0.8v0.8h-0.8zM84.1 570.8h0.8v0.8h-0.8zM79.5 591.5h0.8v0.8h-0.8zM85.1 555.6h0.8v0.8h-0.8zM88.2 547.9h0.8v0.8h-0.8zM91.2 549.8h0.8v0.8h-0.8zM87.9 549.2h0.8v0.8h-0.8zM86.9 559.2h0.8v0.8h-0.8zM83.3 571.4h0.8v0.8h-0.8zM92.5 584.0h0.8v0.8h-0.8zM93.0 588.9h0.8v0.8h-0.8zM84.4 599.4h0.8v0.8h-0.8zM90.9 548.5h0.8v0.8h-0.8zM92.8 563.1h0.8v0.8h-0.8zM83.7 556.7h0.8v0.8h-0.8zM66.8 582.2h0.8v0.8h-0.8zM101.0 550.9h0.8v0.8h-0.8zM74.3 553.5h0.8v0.8h-0.8zM84.2 560.1h0.8v0.8h-0.8zM86.1 560.5h0.8v0.8h-0.8zM74.4 584.7h0.8v0.8h-0.8zM73.2 550.9h0.8v0.8h-0.8zM85.2 576.0h0.8v0.8h-0.8zM83.6 566.5h0.8v0.8h-0.8zM86.2 555.6h0.8v0.8h-0.8zM94.6 587.7h0.8v0.8h-0.8zM90.6 576.0h0.8v0.8h-0.8zM81.1 553.3h0.8v0.8h-0.8zM80.6 596.1h0.8v0.8h-0.8zM96.2 549.4h0.8v0.8h-0.8zM86.4 553.8h0.8v0.8h-0.8zM93.6 558.8h0.8v0.8h-0.8zM91.7 599.5h0.8v0.8h-0.8zM81.2 572.3h0.8v0.8h-0.8zM82.5 554.6h0.8v0.8h-0.8zM88.7 560.3h0.8v0.8h-0.8zM79.1 588.6h0.8v0.8h-0.8zM98.7 574.1h0.8v0.8h-0.8zM83.8 556.4h0.8v0.8h-0.8zM93.5 583.7h0.8v0.8h-0.8zM87.0 552.0h0.8v0.8h-0.8zM71.5 588.8h0.8v0.8h-0.8zM85.5 559.6h0.8v0.8h-0.8zM72.9 565.5h0.8v0.8h-0.8zM84.0 597.4h0.8v0.8h-0.8zM82.7 594.3h0.8v0.8h-0.8zM74.9 552.3h0.8v0.8h-0.8zM95.7 554.5h0.8v0.8h-0.8zM74.1 551.8h0.8v0.8h-0.8zM81.4 591.6h0.8v0.8h-0.8zM75.7 567.0h0.8v0.8h-0.8zM77.9 599.3h0.8v0.8h-0.8zM82.1 590.3h0.8v0.8h-0.8zM80.8 562.1h0.8v0.8h-0.8zM81.2 559.5h0.8v0.8h-0.8zM78.5 581.3h0.8v0.8h-0.8zM83.4 599.5h0.8v0.8h-0.8zM98.1 594.6h0.8v0.8h-0.8zM82.6 579.6h0.8v0.8h-0.8zM71.1 584.8h0.8v0.8h-0.8zM84.3 588.2h0.8v0.8h-0.8zM79.8 584.4h0.8v0.8h-0.8zM80.3 581.4h0.8v0.8h-0.8zM86.2 563.0h0.8v0.8h-0.8zM85.2 585.3h0.8v0.8h-0.8zM81.1 568.4h0.8v0.8h-0.8zM78.8 591.2h0.8v0.8h-0.8zM85.5 599.0h0.8v0.8h-0.8zM92.4 579.7h0.8v0.8h-0.8zM71.7 595.0h0.8v0.8h-0.8zM85.2 584.1h0.8v0.8h-0.8zM79.9 597.3h0.8v0.8h-0.8zM85.4 598.3h0.8v0.8h-0.8zM86.5 579.4h0.8v0.8h-0.8zM85.5 559.5h0.8v0.8h-0.8zM96.7 599.1h0.8v0.8h-0.8zM78.0 571.7h0.8v0.8h-0.8zM89.4 559.2h0.8v0.8h-0.8zM75.7 581.9h0.8v0.8h-0.8zM67.3 588.5h0.8v0.8h-0.8zM76.5 593.6h0.8v0.8h-0.8zM81.3 585.3h0.8v0.8h-0.8zM93.5 596.8h0.8v0.8h-0.8zM90.1 555.9h0.8v0.8h-0.8zM75.2 598.0h0.8v0.8h-0.8zM97.2 554.0h0.8v0.8h-0.8zM81.4 557.2h0.8v0.8h-0.8zM86.2 597.1h0.8v0.8h-0.8zM76.9 599.2h0.8v0.8h-0.8zM87.3 575.5h0.8v0.8h-0.8zM75.8 560.8h0.8v0.8h-0.8zM84.2 583.2h0.8v0.8h-0.8zM98.1 550.2h0.8v0.8h-0.8zM95.1 563.0h0.8v0.8h-0.8zM84.0 580.6h0.8v0.8h-0.8zM81.3 553.8h0.8v0.8h-0.8zM74.3 590.9h0.8v0.8h-0.8zM74.1 596.3h0.8v0.8h-0.8zM89.0 593.0h0.8v0.8h-0.8zM79.3 587.9h0.8v0.8h-0.8zM84.4 573.9h0.8v0.8h-0.8zM74.9 595.2h0.8v0.8h-0.8zM85.2 589.0h0.8v0.8h-0.8zM81.9 570.2h0.8v0.8h-0.8zM84.3 599.1h0.8v0.8h-0.8zM72.8 594.8h0.8v0.8h-0.8zM79.8 599.0h0.8v0.8h-0.8zM85.6 552.3h0.8v0.8h-0.8zM91.4 561.0h0.8v0.8h-0.8zM84.7 594.5h0.8v0.8h-0.8zM78.8 595.2h0.8v0.8h-0.8zM80.8 591.5h0.8v0.8h-0.8zM76.4 585.4h0.8v0.8h-0.8zM93.7 582.9h0.8v0.8h-0.8zM88.0 599.3h0.8v0.8h-0.8zM78.9 584.4h0.8v0.8h-0.8zM84.7 584.9h0.8v0.8h-0.8zM67.9 595.8h0.8v0.8h-0.8zM79.7 582.4h0.8v0.8h-0.8zM90.1 592.3h0.8v0.8h-0.8zM80.8 549.4h0.8v0.8h-0.8zM83.1 589.9h0.8v0.8h-0.8zM84.2 564.0h0.8v0.8h-0.8zM82.7 549.9h0.8v0.8h-0.8zM97.0 589.5h0.8v0.8h-0.8zM84.7 561.5h0.8v0.8h-0.8zM72.6 595.0h0.8v0.8h-0.8zM77.0 560.7h0.8v0.8h-0.8zM80.1 588.9h0.8v0.8h-0.8zM92.6 599.4h0.8v0.8h-0.8zM77.7 563.5h0.8v0.8h-0.8zM79.0 582.7h0.8v0.8h-0.8zM81.7 554.2h0.8v0.8h-0.8zM84.6 565.9h0.8v0.8h-0.8zM79.5 582.6h0.8v0.8h-0.8zM67.8 595.2h0.8v0.8h-0.8zM74.4 559.4h0.8v0.8h-0.8zM85.1 548.0h0.8v0.8h-0.8zM86.3 592.7h0.8v0.8h-0.8zM86.8 570.3h0.8v0.8h-0.8zM90.5 576.3h0.8v0.8h-0.8zM97.8 549.6h0.8v0.8h-0.8zM96.0 556.7h0.8v0.8h-0.8zM72.7 586.0h0.8v0.8h-0.8zM86.8 597.1h0.8v0.8h-0.8zM98.7 589.6h0.8v0.8h-0.8zM86.6 598.4h0.8v0.8h-0.8zM99.1 557.0h0.8v0.8h-0.8zM92.2 565.5h0.8v0.8h-0.8zM83.8 559.4h0.8v0.8h-0.8zM79.7 558.0h0.8v0.8h-0.8zM89.5 590.3h0.8v0.8h-0.8zM81.7 584.9h0.8v0.8h-0.8zM76.8 573.5h0.8v0.8h-0.8zM90.4 576.3h0.8v0.8h-0.8zM73.6 589.2h0.8v0.8h-0.8zM83.5 580.6h0.8v0.8h-0.8zM77.9 592.8h0.8v0.8h-0.8zM82.4 572.2h0.8v0.8h-0.8zM78.7 589.9h0.8v0.8h-0.8zM87.2 559.5h0.8v0.8h-0.8zM79.4 552.8h0.8v0.8h-0.8zM82.9 559.9h0.8v0.8h-0.8zM80.4 562.2h0.8v0.8h-0.8zM79.6 594.8h0.8v0.8h-0.8zM96.7 559.5h0.8v0.8h-0.8zM96.5 573.0h0.8v0.8h-0.8zM88.6 597.5h0.8v0.8h-0.8zM78.0 581.7h0.8v0.8h-0.8zM86.4 583.0h0.8v0.8h-0.8zM95.2 573.4h0.8v0.8h-0.8zM80.8 553.8h0.8v0.8h-0.8zM88.7 582.6h0.8v0.8h-0.8zM83.1 591.9h0.8v0.8h-0.8zM75.9 598.5h0.8v0.8h-0.8zM90.6 569.5h0.8v0.8h-0.8zM80.2 590.9h0.8v0.8h-0.8zM83.3 597.0h0.8v0.8h-0.8zM92.1 590.3h0.8v0.8h-0.8zM97.5 577.3h0.8v0.8h-0.8zM74.2 592.9h0.8v0.8h-0.8zM73.5 585.0h0.8v0.8h-0.8zM90.3 594.4h0.8v0.8h-0.8zM83.6 554.2h0.8v0.8h-0.8zM103.1 548.6h0.8v0.8h-0.8zM66.8 590.3h0.8v0.8h-0.8zM91.7 567.3h0.8v0.8h-0.8zM88.0 589.0h0.8v0.8h-0.8zM92.0 582.5h0.8v0.8h-0.8zM81.9 547.6h0.8v0.8h-0.8zM75.4 570.3h0.8v0.8h-0.8zM80.9 572.6h0.8v0.8h-0.8zM89.4 561.2h0.8v0.8h-0.8zM84.7 556.2h0.8v0.8h-0.8zM88.0 597.3h0.8v0.8h-0.8zM89.9 566.1h0.8v0.8h-0.8zM73.9 595.2h0.8v0.8h-0.8zM90.5 579.8h0.8v0.8h-0.8zM87.7 561.8h0.8v0.8h-0.8zM66.5 587.1h0.8v0.8h-0.8zM98.4 548.6h0.8v0.8h-0.8zM85.9 589.2h0.8v0.8h-0.8zM68.3 589.5h0.8v0.8h-0.8zM79.0 588.2h0.8v0.8h-0.8zM92.2 560.7h0.8v0.8h-0.8zM92.3 585.0h0.8v0.8h-0.8zM72.6 573.2h0.8v0.8h-0.8zM91.6 569.4h0.8v0.8h-0.8zM71.1 599.4h0.8v0.8h-0.8zM95.5 591.8h0.8v0.8h-0.8zM97.2 559.9h0.8v0.8h-0.8zM93.6 592.7h0.8v0.8h-0.8zM77.0 594.6h0.8v0.8h-0.8zM95.4 584.1h0.8v0.8h-0.8zM95.1 577.1h0.8v0.8h-0.8zM74.8 594.4h0.8v0.8h-0.8zM98.0 593.2h0.8v0.8h-0.8zM88.1 564.8h0.8v0.8h-0.8zM88.8 583.8h0.8v0.8h-0.8zM85.2 555.7h0.8v0.8h-0.8zM94.2 590.9h0.8v0.8h-0.8zM80.5 570.3h0.8v0.8h-0.8zM86.4 587.7h0.8v0.8h-0.8zM85.8 565.3h0.8v0.8h-0.8zM68.1 578.5h0.8v0.8h-0.8zM70.0 597.3h0.8v0.8h-0.8zM90.6 560.5h0.8v0.8h-0.8zM91.3 548.9h0.8v0.8h-0.8zM77.0 589.9h0.8v0.8h-0.8zM81.8 577.2h0.8v0.8h-0.8zM86.4 556.4h0.8v0.8h-0.8zM81.0 565.5h0.8v0.8h-0.8zM70.3 598.9h0.8v0.8h-0.8zM88.1 564.0h0.8v0.8h-0.8zM91.0 566.7h0.8v0.8h-0.8zM73.4 592.2h0.8v0.8h-0.8zM82.7 594.1h0.8v0.8h-0.8zM72.6 598.2h0.8v0.8h-0.8zM73.5 551.1h0.8v0.8h-0.8zM94.5 582.1h0.8v0.8h-0.8zM78.9 580.6h0.8v0.8h-0.8zM80.6 555.6h0.8v0.8h-0.8zM92.6 569.5h0.8v0.8h-0.8zM76.4 598.2h0.8v0.8h-0.8zM75.3 590.5h0.8v0.8h-0.8zM80.4 575.8h0.8v0.8h-0.8zM89.5 567.9h0.8v0.8h-0.8zM86.8 598.0h0.8v0.8h-0.8zM66.9 587.2h0.8v0.8h-0.8zM88.7 586.2h0.8v0.8h-0.8zM75.1 554.0h0.8v0.8h-0.8zM76.6 571.9h0.8v0.8h-0.8zM82.8 571.2h0.8v0.8h-0.8zM93.8 582.6h0.8v0.8h-0.8zM88.1 593.4h0.8v0.8h-0.8zM88.2 558.6h0.8v0.8h-0.8zM75.5 581.1h0.8v0.8h-0.8zM85.9 586.2h0.8v0.8h-0.8zM82.3 586.8h0.8v0.8h-0.8zM93.9 590.4h0.8v0.8h-0.8zM93.0 590.7h0.8v0.8h-0.8zM79.3 588.9h0.8v0.8h-0.8zM90.3 561.4h0.8v0.8h-0.8zM93.6 580.0h0.8v0.8h-0.8zM79.2 589.8h0.8v0.8h-0.8zM86.6 552.3h0.8v0.8h-0.8zM72.1 586.7h0.8v0.8h-0.8zM81.1 567.8h0.8v0.8h-0.8zM97.0 574.2h0.8v0.8h-0.8zM88.6 548.3h0.8v0.8h-0.8zM73.9 566.4h0.8v0.8h-0.8zM88.4 564.6h0.8v0.8h-0.8zM87.2 566.9h0.8v0.8h-0.8zM80.6 570.8h0.8v0.8h-0.8zM88.5 578.8h0.8v0.8h-0.8zM75.7 551.0h0.8v0.8h-0.8zM74.7 569.6h0.8v0.8h-0.8zM92.5 570.9h0.8v0.8h-0.8zM94.4 570.7h0.8v0.8h-0.8zM73.2 566.1h0.8v0.8h-0.8zM84.5 580.2h0.8v0.8h-0.8zM72.7 595.1h0.8v0.8h-0.8zM90.6 578.3h0.8v0.8h-0.8zM82.6 590.8h0.8v0.8h-0.8zM74.5 577.3h0.8v0.8h-0.8zM84.0 580.4h0.8v0.8h-0.8zM78.5 572.1h0.8v0.8h-0.8zM83.1 548.7h0.8v0.8h-0.8zM79.2 572.7h0.8v0.8h-0.8zM78.7 593.2h0.8v0.8h-0.8zM89.2 596.8h0.8v0.8h-0.8zM83.1 589.3h0.8v0.8h-0.8zM89.3 583.0h0.8v0.8h-0.8zM84.4 588.1h0.8v0.8h-0.8zM73.0 580.7h0.8v0.8h-0.8zM100.6 548.0h0.8v0.8h-0.8zM84.1 578.1h0.8v0.8h-0.8zM82.9 590.4h0.8v0.8h-0.8zM95.6 597.8h0.8v0.8h-0.8zM74.6 584.4h0.8v0.8h-0.8zM85.5 556.2h0.8v0.8h-0.8zM89.7 575.7h0.8v0.8h-0.8zM84.7 595.2h0.8v0.8h-0.8zM89.7 577.4h0.8v0.8h-0.8zM76.9 589.2h0.8v0.8h-0.8zM96.4 573.5h0.8v0.8h-0.8zM88.1 583.8h0.8v0.8h-0.8zM93.8 570.2h0.8v0.8h-0.8zM68.2 597.8h0.8v0.8h-0.8zM91.6 555.5h0.8v0.8h-0.8zM80.5 599.2h0.8v0.8h-0.8zM96.3 560.6h0.8v0.8h-0.8zM87.2 585.3h0.8v0.8h-0.8zM84.5 553.6h0.8v0.8h-0.8zM91.4 596.1h0.8v0.8h-0.8zM80.2 574.6h0.8v0.8h-0.8zM88.5 580.4h0.8v0.8h-0.8zM90.1 557.3h0.8v0.8h-0.8zM84.4 580.9h0.8v0.8h-0.8zM75.9 599.5h0.8v0.8h-0.8zM82.6 557.8h0.8v0.8h-0.8zM83.7 579.8h0.8v0.8h-0.8zM82.9 599.5h0.8v0.8h-0.8zM80.8 571.0h0.8v0.8h-0.8zM80.7 587.4h0.8v0.8h-0.8zM89.8 595.3h0.8v0.8h-0.8zM69.3 598.2h0.8v0.8h-0.8zM95.1 574.2h0.8v0.8h-0.8zM89.9 590.1h0.8v0.8h-0.8zM94.5 570.3h0.8v0.8h-0.8zM77.6 577.0h0.8v0.8h-0.8zM88.3 576.6h0.8v0.8h-0.8zM83.8 552.7h0.8v0.8h-0.8zM86.0 575.4h0.8v0.8h-0.8zM71.1 587.9h0.8v0.8h-0.8zM81.0 590.6h0.8v0.8h-0.8zM86.9 584.5h0.8v0.8h-0.8zM90.8 552.0h0.8v0.8h-0.8zM85.7 555.6h0.8v0.8h-0.8zM86.3 587.8h0.8v0.8h-0.8zM87.3 587.8h0.8v0.8h-0.8zM81.1 586.1h0.8v0.8h-0.8zM92.2 562.7h0.8v0.8h-0.8zM78.9 575.3h0.8v0.8h-0.8zM86.0 568.0h0.8v0.8h-0.8zM92.7 567.0h0.8v0.8h-0.8zM80.7 583.7h0.8v0.8h-0.8zM91.6 548.5h0.8v0.8h-0.8zM88.8 573.8h0.8v0.8h-0.8zM75.0 593.3h0.8v0.8h-0.8zM93.4 575.1h0.8v0.8h-0.8zM69.6 568.2h0.8v0.8h-0.8zM72.0 592.9h0.8v0.8h-0.8zM82.3 592.1h0.8v0.8h-0.8zM77.8 575.1h0.8v0.8h-0.8zM83.1 549.0h0.8v0.8h-0.8zM95.9 592.5h0.8v0.8h-0.8zM77.3 550.4h0.8v0.8h-0.8zM84.2 581.0h0.8v0.8h-0.8zM66.8 599.0h0.8v0.8h-0.8zM84.4 591.3h0.8v0.8h-0.8zM81.2 585.5h0.8v0.8h-0.8zM83.6 586.2h0.8v0.8h-0.8zM86.4 597.9h0.8v0.8h-0.8zM71.1 597.9h0.8v0.8h-0.8zM88.4 575.7h0.8v0.8h-0.8zM83.7 585.3h0.8v0.8h-0.8zM81.1 576.9h0.8v0.8h-0.8zM86.5 585.8h0.8v0.8h-0.8zM83.2 599.4h0.8v0.8h-0.8zM81.2 598.4h0.8v0.8h-0.8zM90.2 563.7h0.8v0.8h-0.8zM87.1 596.1h0.8v0.8h-0.8zM82.5 583.4h0.8v0.8h-0.8zM86.9 590.2h0.8v0.8h-0.8zM96.6 562.5h0.8v0.8h-0.8zM78.7 550.1h0.8v0.8h-0.8zM94.5 579.6h0.8v0.8h-0.8zM77.4 575.6h0.8v0.8h-0.8zM79.7 583.0h0.8v0.8h-0.8zM75.7 588.0h0.8v0.8h-0.8zM75.0 592.6h0.8v0.8h-0.8zM78.1 582.6h0.8v0.8h-0.8zM79.0 584.9h0.8v0.8h-0.8zM87.9 557.9h0.8v0.8h-0.8zM95.5 586.2h0.8v0.8h-0.8zM81.7 575.4h0.8v0.8h-0.8zM93.9 586.1h0.8v0.8h-0.8zM83.1 560.6h0.8v0.8h-0.8zM85.7 551.6h0.8v0.8h-0.8zM89.2 582.9h0.8v0.8h-0.8zM76.8 592.2h0.8v0.8h-0.8zM88.7 575.7h0.8v0.8h-0.8zM87.2 555.9h0.8v0.8h-0.8zM85.3 592.4h0.8v0.8h-0.8zM83.1 557.7h0.8v0.8h-0.8zM91.4 559.9h0.8v0.8h-0.8zM98.5 558.6h0.8v0.8h-0.8zM81.9 587.4h0.8v0.8h-0.8zM89.2 559.2h0.8v0.8h-0.8zM76.7 582.9h0.8v0.8h-0.8zM91.2 592.5h0.8v0.8h-0.8zM82.1 577.7h0.8v0.8h-0.8zM91.5 565.1h0.8v0.8h-0.8zM74.9 564.8h0.8v0.8h-0.8zM93.3 591.7h0.8v0.8h-0.8zM85.9 562.0h0.8v0.8h-0.8zM78.8 576.5h0.8v0.8h-0.8zM70.9 593.2h0.8v0.8h-0.8zM81.5 575.1h0.8v0.8h-0.8zM81.0 596.6h0.8v0.8h-0.8zM93.1 561.1h0.8v0.8h-0.8zM90.7 599.1h0.8v0.8h-0.8zM77.8 564.7h0.8v0.8h-0.8zM78.9 596.3h0.8v0.8h-0.8zM79.3 597.7h0.8v0.8h-0.8zM80.7 593.2h0.8v0.8h-0.8zM87.2 566.5h0.8v0.8h-0.8zM71.8 586.1h0.8v0.8h-0.8zM86.6 567.8h0.8v0.8h-0.8zM66.4 593.2h0.8v0.8h-0.8zM78.2 595.3h0.8v0.8h-0.8zM65.7 590.0h0.8v0.8h-0.8zM84.6 579.2h0.8v0.8h-0.8zM90.7 599.4h0.8v0.8h-0.8zM92.8 569.6h0.8v0.8h-0.8zM84.7 586.5h0.8v0.8h-0.8zM90.2 571.2h0.8v0.8h-0.8zM84.3 592.8h0.8v0.8h-0.8zM95.8 582.3h0.8v0.8h-0.8zM77.5 578.3h0.8v0.8h-0.8zM92.9 597.4h0.8v0.8h-0.8zM87.5 567.9h0.8v0.8h-0.8zM86.4 592.3h0.8v0.8h-0.8zM81.1 552.9h0.8v0.8h-0.8zM93.7 556.0h0.8v0.8h-0.8zM67.6 593.2h0.8v0.8h-0.8zM73.9 569.6h0.8v0.8h-0.8zM89.1 579.5h0.8v0.8h-0.8zM73.1 568.0h0.8v0.8h-0.8zM85.0 577.1h0.8v0.8h-0.8zM83.9 569.5h0.8v0.8h-0.8zM77.7 586.7h0.8v0.8h-0.8zM81.5 593.5h0.8v0.8h-0.8zM82.8 568.6h0.8v0.8h-0.8zM75.6 583.8h0.8v0.8h-0.8zM67.3 588.6h0.8v0.8h-0.8zM88.9 573.4h0.8v0.8h-0.8zM75.8 599.4h0.8v0.8h-0.8zM75.6 576.4h0.8v0.8h-0.8zM76.8 599.5h0.8v0.8h-0.8zM82.2 588.1h0.8v0.8h-0.8zM90.6 595.9h0.8v0.8h-0.8zM85.0 599.5h0.8v0.8h-0.8zM81.1 570.2h0.8v0.8h-0.8zM80.8 597.0h0.8v0.8h-0.8zM70.0 598.2h0.8v0.8h-0.8zM82.8 577.2h0.8v0.8h-0.8zM91.9 562.8h0.8v0.8h-0.8zM76.0 594.0h0.8v0.8h-0.8zM87.0 557.3h0.8v0.8h-0.8zM97.5 598.4h0.8v0.8h-0.8zM90.0 599.1h0.8v0.8h-0.8zM83.2 577.1h0.8v0.8h-0.8zM93.1 593.5h0.8v0.8h-0.8zM94.8 549.3h0.8v0.8h-0.8zM70.2 576.0h0.8v0.8h-0.8zM98.6 569.7h0.8v0.8h-0.8zM91.9 549.1h0.8v0.8h-0.8zM74.1 584.4h0.8v0.8h-0.8zM79.6 553.1h0.8v0.8h-0.8zM92.0 584.2h0.8v0.8h-0.8zM91.2 570.0h0.8v0.8h-0.8zM89.8 598.6h0.8v0.8h-0.8zM75.2 566.2h0.8v0.8h-0.8zM82.4 573.5h0.8v0.8h-0.8zM77.1 570.9h0.8v0.8h-0.8zM89.1 574.5h0.8v0.8h-0.8zM88.8 595.2h0.8v0.8h-0.8zM84.9 566.1h0.8v0.8h-0.8zM69.5 591.3h0.8v0.8h-0.8zM85.3 565.6h0.8v0.8h-0.8zM75.1 575.5h0.8v0.8h-0.8zM89.5 572.6h0.8v0.8h-0.8zM85.0 567.3h0.8v0.8h-0.8zM92.5 594.5h0.8v0.8h-0.8zM84.5 587.4h0.8v0.8h-0.8zM78.9 548.9h0.8v0.8h-0.8zM83.0 599.5h0.8v0.8h-0.8zM92.4 555.4h0.8v0.8h-0.8zM87.1 592.6h0.8v0.8h-0.8zM86.0 584.3h0.8v0.8h-0.8zM85.5 587.9h0.8v0.8h-0.8zM92.6 590.4h0.8v0.8h-0.8zM70.1 581.9h0.8v0.8h-0.8zM86.9 557.3h0.8v0.8h-0.8zM73.1 564.1h0.8v0.8h-0.8zM87.9 597.5h0.8v0.8h-0.8zM77.6 580.7h0.8v0.8h-0.8zM79.6 582.0h0.8v0.8h-0.8zM84.4 558.5h0.8v0.8h-0.8zM82.5 582.0h0.8v0.8h-0.8zM94.2 584.3h0.8v0.8h-0.8zM97.5 581.4h0.8v0.8h-0.8zM77.6 580.5h0.8v0.8h-0.8zM83.0 596.6h0.8v0.8h-0.8zM87.6 584.7h0.8v0.8h-0.8zM72.1 598.4h0.8v0.8h-0.8zM85.6 562.1h0.8v0.8h-0.8zM69.0 593.7h0.8v0.8h-0.8zM81.9 587.0h0.8v0.8h-0.8zM87.3 561.0h0.8v0.8h-0.8zM82.8 581.2h0.8v0.8h-0.8zM82.8 581.6h0.8v0.8h-0.8zM84.5 579.9h0.8v0.8h-0.8zM80.6 595.6h0.8v0.8h-0.8zM96.6 580.0h0.8v0.8h-0.8zM75.8 581.3h0.8v0.8h-0.8zM71.6 597.7h0.8v0.8h-0.8zM84.8 550.0h0.8v0.8h-0.8zM77.8 597.0h0.8v0.8h-0.8zM92.1 557.8h0.8v0.8h-0.8zM81.6 573.5h0.8v0.8h-0.8zM79.3 595.8h0.8v0.8h-0.8zM76.6 547.7h0.8v0.8h-0.8zM83.8 563.6h0.8v0.8h-0.8zM78.0 579.2h0.8v0.8h-0.8zM83.0 567.6h0.8v0.8h-0.8zM72.3 589.7h0.8v0.8h-0.8zM73.6 598.1h0.8v0.8h-0.8zM85.2 591.4h0.8v0.8h-0.8zM92.9 569.4h0.8v0.8h-0.8zM81.5 552.6h0.8v0.8h-0.8zM79.2 585.8h0.8v0.8h-0.8zM66.3 596.7h0.8v0.8h-0.8zM89.6 595.3h0.8v0.8h-0.8zM86.5 583.1h0.8v0.8h-0.8zM84.4 592.6h0.8v0.8h-0.8zM87.7 566.4h0.8v0.8h-0.8zM93.2 579.4h0.8v0.8h-0.8zM75.9 588.0h0.8v0.8h-0.8zM96.7 579.6h0.8v0.8h-0.8zM85.9 584.7h0.8v0.8h-0.8zM93.7 582.1h0.8v0.8h-0.8zM81.9 594.7h0.8v0.8h-0.8zM94.0 588.6h0.8v0.8h-0.8zM89.4 555.5h0.8v0.8h-0.8zM87.6 584.8h0.8v0.8h-0.8zM93.3 597.2h0.8v0.8h-0.8zM84.7 557.3h0.8v0.8h-0.8zM89.6 571.6h0.8v0.8h-0.8zM86.0 573.6h0.8v0.8h-0.8zM68.2 574.5h0.8v0.8h-0.8zM94.0 572.3h0.8v0.8h-0.8zM92.5 571.6h0.8v0.8h-0.8zM81.0 598.7h0.8v0.8h-0.8zM87.9 567.6h0.8v0.8h-0.8zM88.7 554.3h0.8v0.8h-0.8zM87.3 592.1h0.8v0.8h-0.8zM75.5 554.5h0.8v0.8h-0.8zM82.0 591.1h0.8v0.8h-0.8zM65.2 592.6h0.8v0.8h-0.8zM90.7 574.5h0.8v0.8h-0.8zM76.1 577.0h0.8v0.8h-0.8zM82.9 597.7h0.8v0.8h-0.8zM90.6 597.8h0.8v0.8h-0.8zM81.6 550.8h0.8v0.8h-0.8zM87.5 578.2h0.8v0.8h-0.8zM67.9 592.1h0.8v0.8h-0.8zM87.7 561.7h0.8v0.8h-0.8zM82.1 550.8h0.8v0.8h-0.8zM91.4 549.0h0.8v0.8h-0.8zM87.6 554.9h0.8v0.8h-0.8zM75.1 582.6h0.8v0.8h-0.8zM77.9 589.7h0.8v0.8h-0.8zM78.9 559.8h0.8v0.8h-0.8zM69.2 573.4h0.8v0.8h-0.8zM88.4 554.5h0.8v0.8h-0.8zM89.5 550.4h0.8v0.8h-0.8zM65.4 593.0h0.8v0.8h-0.8zM92.1 551.3h0.8v0.8h-0.8zM89.0 563.3h0.8v0.8h-0.8zM96.4 578.0h0.8v0.8h-0.8zM92.2 590.8h0.8v0.8h-0.8zM95.9 551.6h0.8v0.8h-0.8zM84.2 554.1h0.8v0.8h-0.8zM82.1 568.3h0.8v0.8h-0.8zM77.7 577.1h0.8v0.8h-0.8zM98.0 554.8h0.8v0.8h-0.8zM75.7 578.5h0.8v0.8h-0.8zM77.8 578.1h0.8v0.8h-0.8zM71.8 574.2h0.8v0.8h-0.8zM80.7 554.3h0.8v0.8h-0.8zM79.9 555.5h0.8v0.8h-0.8zM86.4 596.2h0.8v0.8h-0.8zM85.0 555.8h0.8v0.8h-0.8zM77.9 599.3h0.8v0.8h-0.8zM92.1 558.1h0.8v0.8h-0.8zM78.2 592.1h0.8v0.8h-0.8zM83.6 595.7h0.8v0.8h-0.8zM78.8 554.9h0.8v0.8h-0.8zM79.8 573.5h0.8v0.8h-0.8zM87.9 554.3h0.8v0.8h-0.8zM87.5 563.3h0.8v0.8h-0.8zM78.7 581.7h0.8v0.8h-0.8zM86.5 597.4h0.8v0.8h-0.8zM78.2 560.2h0.8v0.8h-0.8zM84.7 587.9h0.8v0.8h-0.8zM74.7 563.0h0.8v0.8h-0.8zM76.3 590.1h0.8v0.8h-0.8zM72.5 595.4h0.8v0.8h-0.8zM88.1 587.8h0.8v0.8h-0.8zM83.6 577.4h0.8v0.8h-0.8zM78.9 579.9h0.8v0.8h-0.8zM90.6 561.6h0.8v0.8h-0.8zM72.9 585.7h0.8v0.8h-0.8zM93.7 566.5h0.8v0.8h-0.8zM83.4 585.8h0.8v0.8h-0.8zM77.0 579.0h0.8v0.8h-0.8zM84.5 597.9h0.8v0.8h-0.8zM93.6 586.2h0.8v0.8h-0.8zM84.7 597.1h0.8v0.8h-0.8zM81.3 597.7h0.8v0.8h-0.8zM86.6 577.4h0.8v0.8h-0.8zM96.0 564.9h0.8v0.8h-0.8zM92.1 577.4h0.8v0.8h-0.8zM76.6 560.3h0.8v0.8h-0.8zM93.5 550.5h0.8v0.8h-0.8zM80.7 580.7h0.8v0.8h-0.8zM81.0 594.6h0.8v0.8h-0.8zM81.4 592.5h0.8v0.8h-0.8zM77.4 580.0h0.8v0.8h-0.8zM94.9 552.6h0.8v0.8h-0.8zM86.6 596.4h0.8v0.8h-0.8zM94.9 552.9h0.8v0.8h-0.8zM77.7 563.0h0.8v0.8h-0.8zM79.7 595.1h0.8v0.8h-0.8zM85.6 585.6h0.8v0.8h-0.8zM92.2 577.6h0.8v0.8h-0.8zM81.5 597.0h0.8v0.8h-0.8zM79.2 590.3h0.8v0.8h-0.8zM90.5 576.2h0.8v0.8h-0.8zM91.9 561.1h0.8v0.8h-0.8zM87.1 553.8h0.8v0.8h-0.8zM91.3 577.4h0.8v0.8h-0.8zM92.0 560.8h0.8v0.8h-0.8zM87.2 592.2h0.8v0.8h-0.8zM77.6 583.2h0.8v0.8h-0.8zM83.1 598.8h0.8v0.8h-0.8zM83.7 564.4h0.8v0.8h-0.8zM95.5 550.6h0.8v0.8h-0.8zM89.3 548.1h0.8v0.8h-0.8zM77.2 572.6h0.8v0.8h-0.8zM91.8 596.9h0.8v0.8h-0.8zM94.5 567.0h0.8v0.8h-0.8zM80.6 557.4h0.8v0.8h-0.8zM95.8 573.1h0.8v0.8h-0.8zM92.1 574.6h0.8v0.8h-0.8zM77.3 553.9h0.8v0.8h-0.8zM91.8 550.1h0.8v0.8h-0.8zM92.8 564.1h0.8v0.8h-0.8zM80.8 597.4h0.8v0.8h-0.8zM85.8 561.8h0.8v0.8h-0.8zM90.3 554.9h0.8v0.8h-0.8zM95.0 578.2h0.8v0.8h-0.8zM78.1 584.8h0.8v0.8h-0.8zM90.7 560.8h0.8v0.8h-0.8zM84.3 564.1h0.8v0.8h-0.8zM84.1 548.2h0.8v0.8h-0.8zM78.6 588.2h0.8v0.8h-0.8zM76.7 578.6h0.8v0.8h-0.8zM81.1 552.3h0.8v0.8h-0.8zM88.6 595.6h0.8v0.8h-0.8zM78.0 589.0h0.8v0.8h-0.8zM90.2 577.1h0.8v0.8h-0.8zM92.0 596.0h0.8v0.8h-0.8zM80.2 591.9h0.8v0.8h-0.8zM97.7 576.8h0.8v0.8h-0.8zM79.7 578.3h0.8v0.8h-0.8zM74.2 590.1h0.8v0.8h-0.8zM85.0 584.5h0.8v0.8h-0.8zM71.6 592.1h0.8v0.8h-0.8zM81.6 569.6h0.8v0.8h-0.8zM93.3 584.9h0.8v0.8h-0.8zM89.4 589.4h0.8v0.8h-0.8zM78.5 561.4h0.8v0.8h-0.8zM87.2 582.7h0.8v0.8h-0.8zM93.6 582.2h0.8v0.8h-0.8zM84.5 574.6h0.8v0.8h-0.8zM71.1 589.9h0.8v0.8h-0.8zM87.9 595.2h0.8v0.8h-0.8zM72.5 581.2h0.8v0.8h-0.8zM79.8 573.3h0.8v0.8h-0.8zM94.5 584.2h0.8v0.8h-0.8zM73.6 577.9h0.8v0.8h-0.8zM71.3 597.5h0.8v0.8h-0.8zM78.9 577.8h0.8v0.8h-0.8zM74.0 554.1h0.8v0.8h-0.8zM87.3 572.6h0.8v0.8h-0.8zM81.8 589.3h0.8v0.8h-0.8zM77.6 571.4h0.8v0.8h-0.8zM85.0 577.9h0.8v0.8h-0.8zM78.3 581.5h0.8v0.8h-0.8zM72.1 589.2h0.8v0.8h-0.8zM84.2 595.1h0.8v0.8h-0.8zM85.1 579.4h0.8v0.8h-0.8zM82.4 573.7h0.8v0.8h-0.8zM88.2 550.4h0.8v0.8h-0.8zM69.6 567.7h0.8v0.8h-0.8zM82.2 559.0h0.8v0.8h-0.8zM97.6 583.5h0.8v0.8h-0.8zM84.2 567.5h0.8v0.8h-0.8zM74.4 576.4h0.8v0.8h-0.8zM88.2 585.0h0.8v0.8h-0.8zM82.3 560.3h0.8v0.8h-0.8zM71.3 579.3h0.8v0.8h-0.8zM87.8 579.2h0.8v0.8h-0.8zM79.7 596.2h0.8v0.8h-0.8zM88.3 599.0h0.8v0.8h-0.8zM74.7 599.5h0.8v0.8h-0.8zM69.3 594.2h0.8v0.8h-0.8zM78.5 596.3h0.8v0.8h-0.8zM77.3 582.7h0.8v0.8h-0.8zM93.9 569.6h0.8v0.8h-0.8zM71.4 574.7h0.8v0.8h-0.8zM89.1 552.5h0.8v0.8h-0.8zM86.7 561.7h0.8v0.8h-0.8zM95.3 585.6h0.8v0.8h-0.8zM93.2 575.7h0.8v0.8h-0.8zM72.8 595.4h0.8v0.8h-0.8zM91.0 549.4h0.8v0.8h-0.8zM78.6 570.7h0.8v0.8h-0.8zM71.1 599.2h0.8v0.8h-0.8zM79.8 590.2h0.8v0.8h-0.8zM96.4 573.1h0.8v0.8h-0.8zM91.0 578.5h0.8v0.8h-0.8zM86.8 573.3h0.8v0.8h-0.8zM88.1 551.6h0.8v0.8h-0.8zM84.7 587.7h0.8v0.8h-0.8zM83.1 554.6h0.8v0.8h-0.8zM93.1 593.2h0.8v0.8h-0.8zM80.7 572.1h0.8v0.8h-0.8zM84.3 582.1h0.8v0.8h-0.8zM83.1 591.9h0.8v0.8h-0.8zM87.7 591.3h0.8v0.8h-0.8zM89.9 570.9h0.8v0.8h-0.8zM80.0 558.5h0.8v0.8h-0.8zM95.2 584.3h0.8v0.8h-0.8zM73.6 590.0h0.8v0.8h-0.8zM87.4 592.4h0.8v0.8h-0.8zM89.4 552.0h0.8v0.8h-0.8zM80.6 598.7h0.8v0.8h-0.8zM83.5 581.6h0.8v0.8h-0.8zM72.7 591.5h0.8v0.8h-0.8zM88.9 597.4h0.8v0.8h-0.8zM84.8 598.8h0.8v0.8h-0.8zM96.5 571.4h0.8v0.8h-0.8zM82.6 569.2h0.8v0.8h-0.8zM80.1 564.3h0.8v0.8h-0.8zM77.5 594.5h0.8v0.8h-0.8zM92.2 597.2h0.8v0.8h-0.8zM88.5 569.3h0.8v0.8h-0.8zM71.8 589.2h0.8v0.8h-0.8zM98.1 575.8h0.8v0.8h-0.8zM85.6 592.4h0.8v0.8h-0.8zM67.0 591.5h0.8v0.8h-0.8zM91.7 547.7h0.8v0.8h-0.8zM72.4 596.5h0.8v0.8h-0.8zM83.9 561.5h0.8v0.8h-0.8zM82.8 578.4h0.8v0.8h-0.8zM80.4 556.8h0.8v0.8h-0.8zM78.6 579.4h0.8v0.8h-0.8zM87.8 598.7h0.8v0.8h-0.8zM95.1 549.3h0.8v0.8h-0.8zM81.9 549.6h0.8v0.8h-0.8zM73.7 594.0h0.8v0.8h-0.8zM83.0 593.1h0.8v0.8h-0.8zM89.4 568.8h0.8v0.8h-0.8zM92.3 592.6h0.8v0.8h-0.8zM79.7 594.7h0.8v0.8h-0.8zM84.0 585.9h0.8v0.8h-0.8zM85.8 558.6h0.8v0.8h-0.8zM77.7 595.9h0.8v0.8h-0.8zM80.9 597.2h0.8v0.8h-0.8zM80.4 575.4h0.8v0.8h-0.8zM86.4 592.7h0.8v0.8h-0.8zM76.6 591.0h0.8v0.8h-0.8zM86.8 548.4h0.8v0.8h-0.8zM82.1 592.7h0.8v0.8h-0.8zM84.3 574.0h0.8v0.8h-0.8zM90.6 581.8h0.8v0.8h-0.8zM71.0 587.3h0.8v0.8h-0.8zM72.6 572.9h0.8v0.8h-0.8zM90.6 592.7h0.8v0.8h-0.8zM90.7 594.1h0.8v0.8h-0.8zM82.8 596.4h0.8v0.8h-0.8zM74.7 592.8h0.8v0.8h-0.8zM87.8 590.0h0.8v0.8h-0.8zM84.8 561.8h0.8v0.8h-0.8zM83.2 575.3h0.8v0.8h-0.8zM98.5 580.1h0.8v0.8h-0.8zM89.1 592.6h0.8v0.8h-0.8zM76.9 597.2h0.8v0.8h-0.8zM78.8 575.2h0.8v0.8h-0.8zM91.3 598.4h0.8v0.8h-0.8zM71.2 583.3h0.8v0.8h-0.8zM80.9 553.2h0.8v0.8h-0.8zM85.8 598.9h0.8v0.8h-0.8zM90.1 581.8h0.8v0.8h-0.8zM88.1 554.5h0.8v0.8h-0.8zM82.4 591.3h0.8v0.8h-0.8zM70.7 588.7h0.8v0.8h-0.8zM81.9 561.7h0.8v0.8h-0.8zM98.4 555.8h0.8v0.8h-0.8zM95.6 547.9h0.8v0.8h-0.8zM88.4 580.1h0.8v0.8h-0.8zM81.3 574.9h0.8v0.8h-0.8zM92.0 557.9h0.8v0.8h-0.8zM86.0 570.4h0.8v0.8h-0.8zM86.5 598.4h0.8v0.8h-0.8zM73.4 576.8h0.8v0.8h-0.8zM82.6 552.8h0.8v0.8h-0.8zM91.6 595.4h0.8v0.8h-0.8zM69.1 590.5h0.8v0.8h-0.8zM93.7 560.8h0.8v0.8h-0.8zM75.4 569.4h0.8v0.8h-0.8zM88.4 550.0h0.8v0.8h-0.8zM84.1 571.8h0.8v0.8h-0.8zM92.4 557.3h0.8v0.8h-0.8zM81.0 578.4h0.8v0.8h-0.8zM77.2 594.2h0.8v0.8h-0.8zM98.0 566.5h0.8v0.8h-0.8zM79.4 590.2h0.8v0.8h-0.8zM79.5 597.0h0.8v0.8h-0.8zM66.6 596.8h0.8v0.8h-0.8zM97.3 579.7h0.8v0.8h-0.8zM90.5 554.9h0.8v0.8h-0.8zM81.4 596.6h0.8v0.8h-0.8zM87.9 553.2h0.8v0.8h-0.8zM80.0 573.3h0.8v0.8h-0.8zM95.7 587.8h0.8v0.8h-0.8zM90.3 588.9h0.8v0.8h-0.8zM84.5 547.5h0.8v0.8h-0.8zM83.9 585.3h0.8v0.8h-0.8zM79.8 597.3h0.8v0.8h-0.8zM94.6 559.4h0.8v0.8h-0.8zM75.5 566.8h0.8v0.8h-0.8zM82.2 549.6h0.8v0.8h-0.8zM92.1 594.2h0.8v0.8h-0.8zM88.6 591.3h0.8v0.8h-0.8zM70.9 590.5h0.8v0.8h-0.8zM90.8 583.7h0.8v0.8h-0.8zM64.5 599.2h0.8v0.8h-0.8zM81.5 581.5h0.8v0.8h-0.8zM87.6 588.1h0.8v0.8h-0.8zM84.0 573.9h0.8v0.8h-0.8zM82.0 598.2h0.8v0.8h-0.8zM88.4 577.5h0.8v0.8h-0.8zM72.0 596.5h0.8v0.8h-0.8zM76.3 598.6h0.8v0.8h-0.8zM83.4 562.3h0.8v0.8h-0.8zM96.6 558.5h0.8v0.8h-0.8zM92.9 557.3h0.8v0.8h-0.8zM77.2 576.5h0.8v0.8h-0.8zM98.3 578.7h0.8v0.8h-0.8zM67.2 592.2h0.8v0.8h-0.8zM82.3 585.9h0.8v0.8h-0.8zM86.5 560.9h0.8v0.8h-0.8zM80.0 554.4h0.8v0.8h-0.8zM86.4 585.5h0.8v0.8h-0.8zM88.7 581.4h0.8v0.8h-0.8zM87.4 595.1h0.8v0.8h-0.8zM82.9 587.9h0.8v0.8h-0.8zM92.2 593.6h0.8v0.8h-0.8zM93.8 594.6h0.8v0.8h-0.8zM86.7 556.3h0.8v0.8h-0.8zM95.6 547.5h0.8v0.8h-0.8zM74.2 557.4h0.8v0.8h-0.8zM85.1 569.6h0.8v0.8h-0.8zM79.3 570.5h0.8v0.8h-0.8zM94.8 583.4h0.8v0.8h-0.8zM97.4 574.5h0.8v0.8h-0.8zM77.8 560.3h0.8v0.8h-0.8zM95.3 552.6h0.8v0.8h-0.8zM78.2 552.8h0.8v0.8h-0.8zM95.6 570.1h0.8v0.8h-0.8zM86.2 576.4h0.8v0.8h-0.8zM88.7 552.0h0.8v0.8h-0.8zM82.5 552.1h0.8v0.8h-0.8zM77.5 580.0h0.8v0.8h-0.8zM80.3 588.4h0.8v0.8h-0.8zM70.7 591.6h0.8v0.8h-0.8zM91.6 569.1h0.8v0.8h-0.8zM76.7 578.4h0.8v0.8h-0.8zM86.3 560.5h0.8v0.8h-0.8zM91.9 581.8h0.8v0.8h-0.8zM73.0 581.6h0.8v0.8h-0.8zM95.8 585.4h0.8v0.8h-0.8zM88.2 557.6h0.8v0.8h-0.8zM72.0 595.4h0.8v0.8h-0.8zM73.6 551.8h0.8v0.8h-0.8zM95.0 581.6h0.8v0.8h-0.8zM83.5 578.7h0.8v0.8h-0.8zM93.2 575.7h0.8v0.8h-0.8zM85.2 582.7h0.8v0.8h-0.8zM79.2 586.4h0.8v0.8h-0.8zM78.1 581.6h0.8v0.8h-0.8zM68.5 582.9h0.8v0.8h-0.8zM99.1 571.3h0.8v0.8h-0.8zM86.1 578.4h0.8v0.8h-0.8zM80.7 582.9h0.8v0.8h-0.8zM87.1 595.4h0.8v0.8h-0.8zM72.8 598.6h0.8v0.8h-0.8zM90.7 596.7h0.8v0.8h-0.8zM85.9 566.3h0.8v0.8h-0.8zM74.5 576.0h0.8v0.8h-0.8zM81.9 585.0h0.8v0.8h-0.8zM67.1 598.7h0.8v0.8h-0.8zM96.2 583.2h0.8v0.8h-0.8zM96.7 566.3h0.8v0.8h-0.8zM88.2 581.7h0.8v0.8h-0.8zM94.8 551.3h0.8v0.8h-0.8zM90.4 585.4h0.8v0.8h-0.8zM83.7 591.5h0.8v0.8h-0.8zM93.4 565.1h0.8v0.8h-0.8zM81.0 570.2h0.8v0.8h-0.8zM84.5 566.0h0.8v0.8h-0.8zM89.0 549.5h0.8v0.8h-0.8zM78.3 568.3h0.8v0.8h-0.8zM96.4 573.2h0.8v0.8h-0.8zM90.7 565.6h0.8v0.8h-0.8zM92.2 589.0h0.8v0.8h-0.8zM75.2 594.1h0.8v0.8h-0.8zM73.4 581.0h0.8v0.8h-0.8zM78.4 596.7h0.8v0.8h-0.8zM85.2 577.9h0.8v0.8h-0.8zM79.9 596.6h0.8v0.8h-0.8zM85.7 598.9h0.8v0.8h-0.8zM92.2 594.6h0.8v0.8h-0.8zM91.5 575.1h0.8v0.8h-0.8zM85.1 556.7h0.8v0.8h-0.8zM86.2 596.8h0.8v0.8h-0.8zM92.5 592.1h0.8v0.8h-0.8zM90.2 558.7h0.8v0.8h-0.8zM77.5 581.2h0.8v0.8h-0.8zM82.6 564.6h0.8v0.8h-0.8zM80.7 596.2h0.8v0.8h-0.8zM85.6 594.9h0.8v0.8h-0.8zM86.0 560.6h0.8v0.8h-0.8zM97.2 593.6h0.8v0.8h-0.8zM77.1 551.7h0.8v0.8h-0.8zM100.3 549.9h0.8v0.8h-0.8zM71.9 591.2h0.8v0.8h-0.8zM85.5 571.8h0.8v0.8h-0.8zM85.1 569.3h0.8v0.8h-0.8zM98.2 575.1h0.8v0.8h-0.8zM65.9 593.7h0.8v0.8h-0.8zM77.2 591.5h0.8v0.8h-0.8zM87.7 596.0h0.8v0.8h-0.8zM94.3 552.6h0.8v0.8h-0.8zM97.2 598.5h0.8v0.8h-0.8zM83.3 579.8h0.8v0.8h-0.8zM91.7 579.2h0.8v0.8h-0.8zM77.6 597.7h0.8v0.8h-0.8zM92.6 567.8h0.8v0.8h-0.8zM91.0 573.1h0.8v0.8h-0.8zM75.2 583.8h0.8v0.8h-0.8zM84.4 584.5h0.8v0.8h-0.8zM86.6 548.0h0.8v0.8h-0.8zM83.5 580.1h0.8v0.8h-0.8zM95.5 575.2h0.8v0.8h-0.8zM99.2 557.8h0.8v0.8h-0.8zM83.6 591.5h0.8v0.8h-0.8zM92.0 558.4h0.8v0.8h-0.8zM78.9 598.9h0.8v0.8h-0.8zM80.3 599.0h0.8v0.8h-0.8zM81.7 585.9h0.8v0.8h-0.8zM89.4 563.8h0.8v0.8h-0.8zM84.3 571.4h0.8v0.8h-0.8zM82.9 594.5h0.8v0.8h-0.8zM86.1 595.9h0.8v0.8h-0.8zM88.8 584.4h0.8v0.8h-0.8zM67.4 575.6h0.8v0.8h-0.8zM72.3 598.4h0.8v0.8h-0.8zM85.4 580.4h0.8v0.8h-0.8zM77.4 589.0h0.8v0.8h-0.8zM100.6 566.9h0.8v0.8h-0.8zM82.0 594.7h0.8v0.8h-0.8zM92.9 584.2h0.8v0.8h-0.8zM85.8 562.1h0.8v0.8h-0.8zM68.8 578.4h0.8v0.8h-0.8zM88.9 597.9h0.8v0.8h-0.8zM96.0 592.0h0.8v0.8h-0.8zM69.5 597.1h0.8v0.8h-0.8zM67.2 578.3h0.8v0.8h-0.8zM72.2 588.2h0.8v0.8h-0.8zM87.3 553.7h0.8v0.8h-0.8zM80.1 591.6h0.8v0.8h-0.8zM84.1 581.2h0.8v0.8h-0.8zM67.6 597.3h0.8v0.8h-0.8zM81.0 591.4h0.8v0.8h-0.8zM74.7 587.2h0.8v0.8h-0.8zM78.6 593.9h0.8v0.8h-0.8zM81.6 550.8h0.8v0.8h-0.8zM95.9 577.9h0.8v0.8h-0.8zM81.9 594.3h0.8v0.8h-0.8zM86.3 564.1h0.8v0.8h-0.8zM93.5 571.3h0.8v0.8h-0.8zM94.5 566.4h0.8v0.8h-0.8zM81.2 578.7h0.8v0.8h-0.8zM68.3 592.7h0.8v0.8h-0.8zM82.9 598.2h0.8v0.8h-0.8zM94.0 585.6h0.8v0.8h-0.8zM87.1 573.3h0.8v0.8h-0.8zM88.9 586.6h0.8v0.8h-0.8zM87.6 581.8h0.8v0.8h-0.8zM89.1 598.9h0.8v0.8h-0.8zM96.5 574.7h0.8v0.8h-0.8zM70.2 564.0h0.8v0.8h-0.8zM78.0 563.8h0.8v0.8h-0.8zM76.2 553.5h0.8v0.8h-0.8zM84.3 565.6h0.8v0.8h-0.8zM81.2 588.6h0.8v0.8h-0.8zM86.0 585.8h0.8v0.8h-0.8zM79.5 572.2h0.8v0.8h-0.8zM94.4 564.4h0.8v0.8h-0.8zM93.7 553.8h0.8v0.8h-0.8zM86.3 548.0h0.8v0.8h-0.8zM82.7 576.6h0.8v0.8h-0.8zM97.2 576.4h0.8v0.8h-0.8zM90.7 548.2h0.8v0.8h-0.8zM85.5 594.5h0.8v0.8h-0.8zM74.7 593.4h0.8v0.8h-0.8zM71.0 578.1h0.8v0.8h-0.8zM86.8 597.4h0.8v0.8h-0.8zM85.3 557.9h0.8v0.8h-0.8zM85.4 583.2h0.8v0.8h-0.8zM66.0 586.5h0.8v0.8h-0.8zM81.5 568.3h0.8v0.8h-0.8zM87.4 554.2h0.8v0.8h-0.8zM96.3 575.0h0.8v0.8h-0.8zM76.9 589.3h0.8v0.8h-0.8zM90.8 559.2h0.8v0.8h-0.8zM73.7 574.8h0.8v0.8h-0.8zM83.3 585.7h0.8v0.8h-0.8zM94.1 574.3h0.8v0.8h-0.8zM70.7 581.8h0.8v0.8h-0.8zM88.5 556.9h0.8v0.8h-0.8zM75.3 584.9h0.8v0.8h-0.8zM75.8 587.9h0.8v0.8h-0.8zM90.3 596.6h0.8v0.8h-0.8zM85.8 574.4h0.8v0.8h-0.8zM81.5 562.1h0.8v0.8h-0.8zM85.6 592.9h0.8v0.8h-0.8zM94.0 576.8h0.8v0.8h-0.8zM78.6 551.8h0.8v0.8h-0.8zM91.2 599.1h0.8v0.8h-0.8zM72.5 599.4h0.8v0.8h-0.8zM89.1 577.7h0.8v0.8h-0.8zM80.7 599.0h0.8v0.8h-0.8zM90.6 579.5h0.8v0.8h-0.8zM67.0 597.9h0.8v0.8h-0.8zM80.1 599.2h0.8v0.8h-0.8zM80.1 585.6h0.8v0.8h-0.8z"/></g></g><path d="M52.4 544.7 H108.3 V600.6" fill="none" stroke="#8a8a8a" stroke-width="1.1"/><path d="M52.4 544.2 V600.6 H108.8" fill="none" stroke="#2a2a2a" stroke-width="1.1"/><text x="51.6" y="608.2" font-size="3.9" fill="#4a4a4a" text-anchor="middle">10<tspan font-size="2.81" dy="-1.6">0</tspan></text><text x="65.3" y="608.2" font-size="3.9" fill="#4a4a4a" text-anchor="middle">10<tspan font-size="2.81" dy="-1.6">1</tspan></text><text x="79.0" y="608.2" font-size="3.9" fill="#4a4a4a" text-anchor="middle">10<tspan font-size="2.81" dy="-1.6">2</tspan></text><text x="92.8" y="608.2" font-size="3.9" fill="#4a4a4a" text-anchor="middle">10<tspan font-size="2.81" dy="-1.6">3</tspan></text><text x="106.5" y="608.2" font-size="3.9" fill="#4a4a4a" text-anchor="middle">10<tspan font-size="2.81" dy="-1.6">4</tspan></text><path d="M52.4 544.7 H108.3" stroke="#3a3a3a" stroke-width="1" fill="none"/><text x="50.2" y="602.0" font-size="3.8" fill="#3a3a3a" text-anchor="end">0</text><path d="M50.8 600.6 h1.6" stroke="#555" stroke-width="0.6"/><text x="50.2" y="588.0" font-size="3.8" fill="#3a3a3a" text-anchor="end">256</text><path d="M50.8 586.6 h1.6" stroke="#555" stroke-width="0.6"/><text x="50.2" y="574.1" font-size="3.8" fill="#3a3a3a" text-anchor="end">512</text><path d="M50.8 572.7 h1.6" stroke="#555" stroke-width="0.6"/><text x="50.2" y="560.1" font-size="3.8" fill="#3a3a3a" text-anchor="end">768</text><path d="M50.8 558.7 h1.6" stroke="#555" stroke-width="0.6"/><text x="50.2" y="546.1" font-size="3.8" fill="#3a3a3a" text-anchor="end">1024</text><path d="M50.8 544.7 h1.6" stroke="#555" stroke-width="0.6"/><g clip-path="url(#c33)"><g filter="url(#soft)"><path d="M134 586 L134 565 C135 559 140 556 144 559 L150 572 L150 587 Z" fill="#fbe3e0" stroke="#e07070" stroke-width="0.55"/><path d="M135 580 C136 566 139 560 142 561 L148 572 L148 584" fill="none" stroke="#e07070" stroke-width="0.55"/><ellipse cx="162.0" cy="578.0" rx="9.00" ry="6.00" fill="none" stroke="#e27a7a" stroke-width="0.55"/><ellipse cx="162.0" cy="579.0" rx="6.00" ry="4.00" fill="none" stroke="#e27a7a" stroke-width="0.55"/><ellipse cx="160.0" cy="580.0" rx="3.00" ry="2.00" fill="none" stroke="#e27a7a" stroke-width="0.55"/><ellipse cx="141.0" cy="576.0" rx="7.14" ry="11.03" fill="#fadcd8"/><ellipse cx="141.0" cy="576.0" rx="7.14" ry="11.03" fill="none" stroke="#e27a7a" stroke-width="0.55"/><ellipse cx="141.0" cy="576.0" rx="6.97" ry="10.76" fill="none" stroke="#e27a7a" stroke-width="0.55"/><ellipse cx="141.0" cy="576.0" rx="6.80" ry="10.50" fill="#ee6a50"/><ellipse cx="141.0" cy="576.0" rx="6.32" ry="9.56" fill="#f59a34"/><ellipse cx="141.0" cy="576.0" rx="5.78" ry="8.52" fill="#f6e03a"/><ellipse cx="141.0" cy="576.0" rx="5.24" ry="7.53" fill="#b6d83a"/><ellipse cx="141.0" cy="576.0" rx="4.56" ry="6.34" fill="#3aa83a"/><ellipse cx="141.0" cy="576.0" rx="3.40" ry="4.46" fill="#15867a"/><ellipse cx="141.0" cy="576.0" rx="2.79" ry="3.54" fill="#1f3f9e"/><ellipse cx="141.0" cy="576.0" rx="0.95" ry="1.09" fill="#a8b0f0"/><path d="M134 585.5 L150 585.5" fill="none" stroke="#c83020" stroke-width="1.1"/></g></g><line x1="152.6" y1="544.7" x2="152.6" y2="600.6" stroke="#6a6a6a" stroke-width="0.9"/><line x1="133.7" y1="585.2" x2="190.0" y2="585.2" stroke="#6a6a6a" stroke-width="0.9"/><path d="M133.7 544.7 H190.0 V600.6" fill="none" stroke="#8a8a8a" stroke-width="1.1"/><path d="M133.7 544.2 V600.6 H190.5" fill="none" stroke="#2a2a2a" stroke-width="1.1"/><g transform="translate(142.7 552.7) scale(0.84 1)"><text x="0" y="0" font-size="5.8" font-weight="bold" text-anchor="middle" fill="#111" stroke="#111" stroke-width="0.32">79%</text></g><g transform="translate(178.5 552.7) scale(0.84 1)"><text x="0" y="0" font-size="5.8" font-weight="bold" text-anchor="middle" fill="#111" stroke="#111" stroke-width="0.32">18%</text></g><g transform="translate(142.7 596.1) scale(0.84 1)"><text x="0" y="0" font-size="5.8" font-weight="bold" text-anchor="middle" fill="#111" stroke="#111" stroke-width="0.32">2%</text></g><g transform="translate(178.5 596.1) scale(0.84 1)"><text x="0" y="0" font-size="5.8" font-weight="bold" text-anchor="middle" fill="#111" stroke="#111" stroke-width="0.32">1%</text></g><text x="132.9" y="608.2" font-size="3.9" fill="#4a4a4a" text-anchor="middle">10<tspan font-size="2.81" dy="-1.6">0</tspan></text><text x="146.7" y="608.2" font-size="3.9" fill="#4a4a4a" text-anchor="middle">10<tspan font-size="2.81" dy="-1.6">1</tspan></text><text x="160.5" y="608.2" font-size="3.9" fill="#4a4a4a" text-anchor="middle">10<tspan font-size="2.81" dy="-1.6">2</tspan></text><text x="174.4" y="608.2" font-size="3.9" fill="#4a4a4a" text-anchor="middle">10<tspan font-size="2.81" dy="-1.6">3</tspan></text><text x="188.2" y="608.2" font-size="3.9" fill="#4a4a4a" text-anchor="middle">10<tspan font-size="2.81" dy="-1.6">4</tspan></text><text x="129.1" y="603.6" font-size="3.9" fill="#4a4a4a" text-anchor="middle">10<tspan font-size="2.81" dy="-1.6">0</tspan></text><text x="129.1" y="589.5" font-size="3.9" fill="#4a4a4a" text-anchor="middle">10<tspan font-size="2.81" dy="-1.6">1</tspan></text><text x="129.1" y="575.4" font-size="3.9" fill="#4a4a4a" text-anchor="middle">10<tspan font-size="2.81" dy="-1.6">2</tspan></text><text x="129.1" y="561.3" font-size="3.9" fill="#4a4a4a" text-anchor="middle">10<tspan font-size="2.81" dy="-1.6">3</tspan></text><text x="129.1" y="547.2" font-size="3.9" fill="#4a4a4a" text-anchor="middle">10<tspan font-size="2.81" dy="-1.6">4</tspan></text><g clip-path="url(#c34)"><g filter="url(#soft)"><path d="M217 586 C217 578 222 572 230 566 C238 560 246 555 253 555 C257 556 258 562 255 567 C250 575 244 582 238 587 Z" fill="#fbe3e0" stroke="#e07070" stroke-width="0.55"/><path d="M218.5 585 C219 578 224 573 231 567.5 C238 562 245 557.5 252 557" fill="none" stroke="#e07070" stroke-width="0.55"/><path d="M219 586 C220 579 226 573 233 567 C240 561 247 557.5 251.5 558.5 C254 560 253 566 250 570 C246 577 241 583 237.5 586.5 Z" fill="#ea5a44" stroke="#e27a7a" stroke-width="0"/><path d="M221 586 C222 580 227 574.5 234 568.5 C240.5 563 246.5 559.5 250 560.5 C252 562 251 566 248.5 570 C245 577 240.5 582.5 237 586 Z" fill="#f39530" stroke="#e27a7a" stroke-width="0"/><path d="M223 585.5 C224 580 229 575.5 235 570 C241 565 246 561.5 248.5 562.5 C250 564 249 567 247 570.5 C244 577 240 582 236.5 585.5 Z" fill="#f6e03a" stroke="#e27a7a" stroke-width="0"/><ellipse cx="238.5" cy="575.5" rx="5.50" ry="11.00" fill="#b6d83a" transform="rotate(38 238.5 575.5)"/><ellipse cx="238.0" cy="576.0" rx="4.50" ry="9.50" fill="#3aa83a" transform="rotate(38 238 576)"/><ellipse cx="237.0" cy="577.5" rx="3.20" ry="6.50" fill="#15867a" transform="rotate(38 237 577.5)"/><ellipse cx="236.5" cy="578.0" rx="2.20" ry="4.50" fill="#1f3f9e" transform="rotate(38 236.5 578)"/><ellipse cx="236.5" cy="578.5" rx="1.00" ry="2.00" fill="#b0a0f0" transform="rotate(38 236.5 578.5)"/><path d="M219 585.6 L240 585.6" fill="none" stroke="#c83020" stroke-width="1.2"/></g></g><line x1="233.9" y1="544.7" x2="233.9" y2="600.6" stroke="#6a6a6a" stroke-width="0.9"/><line x1="215.3" y1="585.8" x2="271.5" y2="585.8" stroke="#6a6a6a" stroke-width="0.9"/><path d="M215.3 544.7 H271.5 V600.6" fill="none" stroke="#8a8a8a" stroke-width="1.1"/><path d="M215.3 544.2 V600.6 H272.0" fill="none" stroke="#2a2a2a" stroke-width="1.1"/><g transform="translate(224.3 552.7) scale(0.84 1)"><text x="0" y="0" font-size="5.8" font-weight="bold" text-anchor="middle" fill="#111" stroke="#111" stroke-width="0.32">33%</text></g><g transform="translate(260.0 552.7) scale(0.84 1)"><text x="0" y="0" font-size="5.8" font-weight="bold" text-anchor="middle" fill="#111" stroke="#111" stroke-width="0.32">66%</text></g><g transform="translate(224.3 596.1) scale(0.84 1)"><text x="0" y="0" font-size="5.8" font-weight="bold" text-anchor="middle" fill="#111" stroke="#111" stroke-width="0.32">0%</text></g><g transform="translate(260.0 596.1) scale(0.84 1)"><text x="0" y="0" font-size="5.8" font-weight="bold" text-anchor="middle" fill="#111" stroke="#111" stroke-width="0.32">0%</text></g><text x="214.5" y="608.2" font-size="3.9" fill="#4a4a4a" text-anchor="middle">10<tspan font-size="2.81" dy="-1.6">0</tspan></text><text x="228.3" y="608.2" font-size="3.9" fill="#4a4a4a" text-anchor="middle">10<tspan font-size="2.81" dy="-1.6">1</tspan></text><text x="242.1" y="608.2" font-size="3.9" fill="#4a4a4a" text-anchor="middle">10<tspan font-size="2.81" dy="-1.6">2</tspan></text><text x="255.9" y="608.2" font-size="3.9" fill="#4a4a4a" text-anchor="middle">10<tspan font-size="2.81" dy="-1.6">3</tspan></text><text x="269.7" y="608.2" font-size="3.9" fill="#4a4a4a" text-anchor="middle">10<tspan font-size="2.81" dy="-1.6">4</tspan></text><text x="210.7" y="603.6" font-size="3.9" fill="#4a4a4a" text-anchor="middle">10<tspan font-size="2.81" dy="-1.6">0</tspan></text><text x="210.7" y="589.5" font-size="3.9" fill="#4a4a4a" text-anchor="middle">10<tspan font-size="2.81" dy="-1.6">1</tspan></text><text x="210.7" y="575.4" font-size="3.9" fill="#4a4a4a" text-anchor="middle">10<tspan font-size="2.81" dy="-1.6">2</tspan></text><text x="210.7" y="561.3" font-size="3.9" fill="#4a4a4a" text-anchor="middle">10<tspan font-size="2.81" dy="-1.6">3</tspan></text><text x="210.7" y="547.2" font-size="3.9" fill="#4a4a4a" text-anchor="middle">10<tspan font-size="2.81" dy="-1.6">4</tspan></text><g clip-path="url(#c35)"><g filter="url(#soft)"><path d="M298 584 C298 576 304 570 311 566 L315 560 C322 556 330 557 336 562 L341 572 L338 584 L330 592 L318 598 L306 596 Z" fill="#fbe3e0" stroke="#e07070" stroke-width="0.55"/><path d="M300 584 C300 577 306 572 312 568 L316 562 C322 559 329 560 334 564 L338.5 573 L336 583 L329 590 L318 595.5 L307 594 Z" fill="none" stroke="#e07070" stroke-width="0.55"/><ellipse cx="306.0" cy="590.0" rx="5.00" ry="6.00" fill="none" stroke="#e27a7a" stroke-width="0.55"/><ellipse cx="310.0" cy="592.0" rx="4.00" ry="4.00" fill="none" stroke="#e27a7a" stroke-width="0.55"/><path d="M302 584 C303 577 309 572 315 569 C321 566 330 566 334 571 C336.5 578 334 586 328.5 590.5 C322 593 311 592 302 588 Z" fill="#ea5a44" stroke="#e27a7a" stroke-width="0"/><path d="M304 584 C305 578 310.5 573.5 316 571 C321.5 568 329 568 332.5 572 C334.5 578 332.5 585 327.5 589 C321.5 591 312 590.5 304 587 Z" fill="#f39530" stroke="#e27a7a" stroke-width="0"/><path d="M306 583.5 C307 578.5 312 575 317 572.5 C322 570 328.5 570 331 573.5 C332.8 578.5 331 584.5 326.5 588 C321 589.5 313 589 306 586 Z" fill="#f6e03a" stroke="#e27a7a" stroke-width="0"/><ellipse cx="309.0" cy="582.0" rx="4.00" ry="3.00" fill="#fbf3d0"/><ellipse cx="322.0" cy="579.0" rx="8.00" ry="8.50" fill="#b6d83a" transform="rotate(-30 322 579)"/><ellipse cx="322.0" cy="579.0" rx="6.50" ry="7.50" fill="#3aa83a" transform="rotate(-30 322 579)"/><ellipse cx="322.0" cy="579.0" rx="4.20" ry="5.00" fill="#15867a" transform="rotate(-30 322 579)"/><ellipse cx="322.0" cy="579.0" rx="2.60" ry="3.40" fill="#1f3f9e" transform="rotate(-30 322 579)"/><ellipse cx="322.0" cy="579.0" rx="1.20" ry="1.60" fill="#b0a0f0" transform="rotate(-30 322 579)"/></g></g><line x1="314.8" y1="544.7" x2="314.8" y2="600.6" stroke="#6a6a6a" stroke-width="0.9"/><line x1="296.4" y1="586.0" x2="352.6" y2="586.0" stroke="#6a6a6a" stroke-width="0.9"/><path d="M296.4 544.7 H352.6 V600.6" fill="none" stroke="#8a8a8a" stroke-width="1.1"/><path d="M296.4 544.2 V600.6 H353.1" fill="none" stroke="#2a2a2a" stroke-width="1.1"/><g transform="translate(305.4 552.7) scale(0.84 1)"><text x="0" y="0" font-size="5.8" font-weight="bold" text-anchor="middle" fill="#111" stroke="#111" stroke-width="0.32">20%</text></g><g transform="translate(341.1 552.7) scale(0.84 1)"><text x="0" y="0" font-size="5.8" font-weight="bold" text-anchor="middle" fill="#111" stroke="#111" stroke-width="0.32">63%</text></g><g transform="translate(305.4 596.1) scale(0.84 1)"><text x="0" y="0" font-size="5.8" font-weight="bold" text-anchor="middle" fill="#111" stroke="#111" stroke-width="0.32">8%</text></g><g transform="translate(341.1 596.1) scale(0.84 1)"><text x="0" y="0" font-size="5.8" font-weight="bold" text-anchor="middle" fill="#111" stroke="#111" stroke-width="0.32">9%</text></g><text x="295.6" y="608.2" font-size="3.9" fill="#4a4a4a" text-anchor="middle">10<tspan font-size="2.81" dy="-1.6">0</tspan></text><text x="309.4" y="608.2" font-size="3.9" fill="#4a4a4a" text-anchor="middle">10<tspan font-size="2.81" dy="-1.6">1</tspan></text><text x="323.2" y="608.2" font-size="3.9" fill="#4a4a4a" text-anchor="middle">10<tspan font-size="2.81" dy="-1.6">2</tspan></text><text x="337.0" y="608.2" font-size="3.9" fill="#4a4a4a" text-anchor="middle">10<tspan font-size="2.81" dy="-1.6">3</tspan></text><text x="350.8" y="608.2" font-size="3.9" fill="#4a4a4a" text-anchor="middle">10<tspan font-size="2.81" dy="-1.6">4</tspan></text><text x="291.8" y="603.6" font-size="3.9" fill="#4a4a4a" text-anchor="middle">10<tspan font-size="2.81" dy="-1.6">0</tspan></text><text x="291.8" y="589.5" font-size="3.9" fill="#4a4a4a" text-anchor="middle">10<tspan font-size="2.81" dy="-1.6">1</tspan></text><text x="291.8" y="575.4" font-size="3.9" fill="#4a4a4a" text-anchor="middle">10<tspan font-size="2.81" dy="-1.6">2</tspan></text><text x="291.8" y="561.3" font-size="3.9" fill="#4a4a4a" text-anchor="middle">10<tspan font-size="2.81" dy="-1.6">3</tspan></text><text x="291.8" y="547.2" font-size="3.9" fill="#4a4a4a" text-anchor="middle">10<tspan font-size="2.81" dy="-1.6">4</tspan></text><g clip-path="url(#c36)"><g filter="url(#soft)"><path d="M380 588 C381 580 388 574 396 569 C404 563 412 559 420 560 C425 562 426 568 422 574 C417 582 410 590 402 596 L390 598 L382 594 Z" fill="#fbe3e0" stroke="#e07070" stroke-width="0.55"/><ellipse cx="402.0" cy="578.0" rx="22.00" ry="11.00" fill="none" stroke="#e27a7a" stroke-width="0.55" transform="rotate(-35 402 578)"/><ellipse cx="400.0" cy="580.0" rx="18.00" ry="9.00" fill="none" stroke="#e27a7a" stroke-width="0.55" transform="rotate(-35 400 580)"/><ellipse cx="389.0" cy="591.0" rx="6.00" ry="6.00" fill="none" stroke="#e27a7a" stroke-width="0.55"/><ellipse cx="388.0" cy="592.0" rx="3.50" ry="3.50" fill="none" stroke="#e27a7a" stroke-width="0.55"/><ellipse cx="401.0" cy="580.0" rx="15.75" ry="8.93" fill="#fadcd8" transform="rotate(-40 401 580)"/><ellipse cx="401.0" cy="580.0" rx="15.75" ry="8.93" fill="none" stroke="#e27a7a" stroke-width="0.55" transform="rotate(-40 401 580)"/><ellipse cx="401.0" cy="580.0" rx="15.37" ry="8.71" fill="none" stroke="#e27a7a" stroke-width="0.55" transform="rotate(-40 401 580)"/><ellipse cx="401.0" cy="580.0" rx="15.00" ry="8.50" fill="#ee6a50" transform="rotate(-40 401 580)"/><ellipse cx="401.0" cy="580.0" rx="13.95" ry="7.74" fill="#f59a34" transform="rotate(-40 401 580)"/><ellipse cx="401.0" cy="580.0" rx="12.75" ry="6.90" fill="#f6e03a" transform="rotate(-40 401 580)"/><ellipse cx="401.0" cy="580.0" rx="11.55" ry="6.09" fill="#b6d83a" transform="rotate(-40 401 580)"/><ellipse cx="401.0" cy="580.0" rx="10.05" ry="5.13" fill="#3aa83a" transform="rotate(-40 401 580)"/><ellipse cx="401.0" cy="580.0" rx="7.50" ry="3.61" fill="#15867a" transform="rotate(-40 401 580)"/><ellipse cx="401.0" cy="580.0" rx="6.15" ry="2.87" fill="#1f3f9e" transform="rotate(-40 401 580)"/><ellipse cx="401.0" cy="580.0" rx="2.10" ry="0.88" fill="#a8b0f0" transform="rotate(-40 401 580)"/></g></g><line x1="396.5" y1="544.7" x2="396.5" y2="600.6" stroke="#6a6a6a" stroke-width="0.9"/><line x1="378.6" y1="585.9" x2="434.5" y2="585.9" stroke="#6a6a6a" stroke-width="0.9"/><path d="M378.6 544.7 H434.5 V600.6" fill="none" stroke="#8a8a8a" stroke-width="1.1"/><path d="M378.6 544.2 V600.6 H435.0" fill="none" stroke="#2a2a2a" stroke-width="1.1"/><g transform="translate(387.6 552.7) scale(0.84 1)"><text x="0" y="0" font-size="5.8" font-weight="bold" text-anchor="middle" fill="#111" stroke="#111" stroke-width="0.32">17%</text></g><g transform="translate(423.0 552.7) scale(0.84 1)"><text x="0" y="0" font-size="5.8" font-weight="bold" text-anchor="middle" fill="#111" stroke="#111" stroke-width="0.32">66%</text></g><g transform="translate(387.6 596.1) scale(0.84 1)"><text x="0" y="0" font-size="5.8" font-weight="bold" text-anchor="middle" fill="#111" stroke="#111" stroke-width="0.32">7%</text></g><g transform="translate(423.0 596.1) scale(0.84 1)"><text x="0" y="0" font-size="5.8" font-weight="bold" text-anchor="middle" fill="#111" stroke="#111" stroke-width="0.32">10%</text></g><text x="377.8" y="608.2" font-size="3.9" fill="#4a4a4a" text-anchor="middle">10<tspan font-size="2.81" dy="-1.6">0</tspan></text><text x="391.5" y="608.2" font-size="3.9" fill="#4a4a4a" text-anchor="middle">10<tspan font-size="2.81" dy="-1.6">1</tspan></text><text x="405.2" y="608.2" font-size="3.9" fill="#4a4a4a" text-anchor="middle">10<tspan font-size="2.81" dy="-1.6">2</tspan></text><text x="419.0" y="608.2" font-size="3.9" fill="#4a4a4a" text-anchor="middle">10<tspan font-size="2.81" dy="-1.6">3</tspan></text><text x="432.7" y="608.2" font-size="3.9" fill="#4a4a4a" text-anchor="middle">10<tspan font-size="2.81" dy="-1.6">4</tspan></text><text x="374.0" y="603.6" font-size="3.9" fill="#4a4a4a" text-anchor="middle">10<tspan font-size="2.81" dy="-1.6">0</tspan></text><text x="374.0" y="589.5" font-size="3.9" fill="#4a4a4a" text-anchor="middle">10<tspan font-size="2.81" dy="-1.6">1</tspan></text><text x="374.0" y="575.4" font-size="3.9" fill="#4a4a4a" text-anchor="middle">10<tspan font-size="2.81" dy="-1.6">2</tspan></text><text x="374.0" y="561.3" font-size="3.9" fill="#4a4a4a" text-anchor="middle">10<tspan font-size="2.81" dy="-1.6">3</tspan></text><text x="374.0" y="547.2" font-size="3.9" fill="#4a4a4a" text-anchor="middle">10<tspan font-size="2.81" dy="-1.6">4</tspan></text><g clip-path="url(#c37)"><g filter="url(#soft)"><path d="M460 586 C461 578 468 572 478 566 L496 556 L505 557 L503 567 L494 580 L488 586.5 Z" fill="#fbe3e0" stroke="#e07070" stroke-width="0.55"/><path d="M461 585 C462 578.5 469 573 479 567 L496 557.5 L503.5 558.5" fill="none" stroke="#e07070" stroke-width="0.55"/><path d="M461 586 C462 579 470 573 480 567 L496 558.5 L503 559.5 L501 567 L492 580 L487 586 Z" fill="#ea5a44" stroke="#e27a7a" stroke-width="0"/><path d="M463 585.5 C464 579.5 471.5 574 481 568.5 L496 560.5 L501 561.5 L499.5 567.5 L491 580 L486 585.5 Z" fill="#f39530" stroke="#e27a7a" stroke-width="0"/><path d="M465.5 585 C467 580 474 575 483 570 L495.5 563 L499 564 L497.5 568.5 L490 580 L485 585 Z" fill="#f6e03a" stroke="#e27a7a" stroke-width="0"/><path d="M470 585 C472 580 478 575.5 485 571.5 L494.5 566 L497 566.5 L495 570.5 L489 580 L484.5 585 Z" fill="#b6d83a" stroke="#e27a7a" stroke-width="0"/><ellipse cx="486.5" cy="576.5" rx="5.30" ry="12.00" fill="#3aa83a" transform="rotate(45 486.5 576.5)"/><ellipse cx="487.0" cy="577.0" rx="3.60" ry="8.50" fill="#15867a" transform="rotate(45 487 577)"/><ellipse cx="487.0" cy="577.0" rx="2.40" ry="6.00" fill="#1f3f9e" transform="rotate(45 487 577)"/><ellipse cx="487.5" cy="576.5" rx="0.90" ry="2.40" fill="#b0a0f0" transform="rotate(45 487.5 576.5)"/><path d="M461 585.8 L488 585.8" fill="none" stroke="#d03020" stroke-width="1.3"/></g></g><line x1="478.3" y1="544.7" x2="478.3" y2="600.6" stroke="#6a6a6a" stroke-width="0.9"/><line x1="459.3" y1="585.9" x2="516.2" y2="585.9" stroke="#6a6a6a" stroke-width="0.9"/><path d="M459.3 544.7 H516.2 V600.6" fill="none" stroke="#8a8a8a" stroke-width="1.1"/><path d="M459.3 544.2 V600.6 H516.7" fill="none" stroke="#2a2a2a" stroke-width="1.1"/><g transform="translate(468.3 552.7) scale(0.84 1)"><text x="0" y="0" font-size="5.8" font-weight="bold" text-anchor="middle" fill="#111" stroke="#111" stroke-width="0.32">25%</text></g><g transform="translate(504.70000000000005 552.7) scale(0.84 1)"><text x="0" y="0" font-size="5.8" font-weight="bold" text-anchor="middle" fill="#111" stroke="#111" stroke-width="0.32">74%</text></g><g transform="translate(468.3 596.1) scale(0.84 1)"><text x="0" y="0" font-size="5.8" font-weight="bold" text-anchor="middle" fill="#111" stroke="#111" stroke-width="0.32">1%</text></g><g transform="translate(504.70000000000005 596.1) scale(0.84 1)"><text x="0" y="0" font-size="5.8" font-weight="bold" text-anchor="middle" fill="#111" stroke="#111" stroke-width="0.32">0%</text></g><text x="458.5" y="608.2" font-size="3.9" fill="#4a4a4a" text-anchor="middle">10<tspan font-size="2.81" dy="-1.6">0</tspan></text><text x="472.5" y="608.2" font-size="3.9" fill="#4a4a4a" text-anchor="middle">10<tspan font-size="2.81" dy="-1.6">1</tspan></text><text x="486.5" y="608.2" font-size="3.9" fill="#4a4a4a" text-anchor="middle">10<tspan font-size="2.81" dy="-1.6">2</tspan></text><text x="500.4" y="608.2" font-size="3.9" fill="#4a4a4a" text-anchor="middle">10<tspan font-size="2.81" dy="-1.6">3</tspan></text><text x="514.4" y="608.2" font-size="3.9" fill="#4a4a4a" text-anchor="middle">10<tspan font-size="2.81" dy="-1.6">4</tspan></text><text x="454.7" y="603.6" font-size="3.9" fill="#4a4a4a" text-anchor="middle">10<tspan font-size="2.81" dy="-1.6">0</tspan></text><text x="454.7" y="589.5" font-size="3.9" fill="#4a4a4a" text-anchor="middle">10<tspan font-size="2.81" dy="-1.6">1</tspan></text><text x="454.7" y="575.4" font-size="3.9" fill="#4a4a4a" text-anchor="middle">10<tspan font-size="2.81" dy="-1.6">2</tspan></text><text x="454.7" y="561.3" font-size="3.9" fill="#4a4a4a" text-anchor="middle">10<tspan font-size="2.81" dy="-1.6">3</tspan></text><text x="454.7" y="547.2" font-size="3.9" fill="#4a4a4a" text-anchor="middle">10<tspan font-size="2.81" dy="-1.6">4</tspan></text><text x="1.5" y="10.6" font-size="11" font-weight="bold" text-anchor="start" fill="#111" stroke="#111" stroke-width="0.32">A</text><text x="2.8" y="370.8" font-size="10.5" font-weight="bold" text-anchor="start" fill="#111" stroke="#111" stroke-width="0.32">B</text><text x="23.2" y="47.5" font-size="12" font-weight="bold" text-anchor="middle" fill="#111" stroke="#111" stroke-width="0.32" transform="rotate(-90 23.2 47.5)">WT</text><text x="23.2" y="130.2" font-size="12" font-weight="bold" text-anchor="middle" fill="#111" stroke="#111" stroke-width="0.32" transform="rotate(-90 23.2 130.2)">proB ALL</text><text x="23.2" y="213.0" font-size="12" font-weight="bold" text-anchor="middle" fill="#111" stroke="#111" stroke-width="0.32" transform="rotate(-90 23.2 213.0)">B/T BAL</text><text x="23.0" y="295.8" font-size="12" font-weight="bold" text-anchor="middle" fill="#111" stroke="#111" stroke-width="0.32" transform="rotate(-90 23.0 295.8)">MLL</text><text x="28.4" y="408.9" font-size="10.2" font-weight="bold" text-anchor="middle" fill="#111" stroke="#111" stroke-width="0.32" transform="rotate(-90 28.4 408.9)">proB ALL</text><text x="28.4" y="491.0" font-size="10.2" font-weight="bold" text-anchor="middle" fill="#111" stroke="#111" stroke-width="0.32" transform="rotate(-90 28.4 491.0)">B/T BAL</text><text x="28.4" y="575.0" font-size="10.2" font-weight="bold" text-anchor="middle" fill="#111" stroke="#111" stroke-width="0.32" transform="rotate(-90 28.4 575.0)">MLL</text><path d="M38.8 322.5 L38.8 343.5 L56.3 343.5" fill="none" stroke="#111" stroke-width="1"/><path d="M36.599999999999994 324.5 L38.8 318.5 L41.0 324.5 Z" fill="#111"/><path d="M54.3 341.3 L60.3 343.5 L54.3 345.7 Z" fill="#111"/><text x="34.599999999999994" y="340.3" font-size="8" font-weight="bold" text-anchor="start" fill="#111" stroke="#111" stroke-width="0.32" transform="rotate(-90 34.599999999999994 340.3)">Mac1-FITC</text><text x="38.8" y="351.5" font-size="8" font-weight="bold" text-anchor="start" fill="#111" stroke="#111" stroke-width="0.32">Gr1-PerCP</text><path d="M137.6 322.5 L137.6 343.5 L155.1 343.5" fill="none" stroke="#111" stroke-width="1"/><path d="M135.4 324.5 L137.6 318.5 L139.79999999999998 324.5 Z" fill="#111"/><path d="M153.1 341.3 L159.1 343.5 L153.1 345.7 Z" fill="#111"/><text x="133.4" y="340.3" font-size="8" font-weight="bold" text-anchor="start" fill="#111" stroke="#111" stroke-width="0.32" transform="rotate(-90 133.4 340.3)">Mac1-FITC</text><text x="137.6" y="351.5" font-size="8" font-weight="bold" text-anchor="start" fill="#111" stroke="#111" stroke-width="0.32">B220-PE-Cy7</text><path d="M236.39999999999998 322.5 L236.39999999999998 343.5 L253.89999999999998 343.5" fill="none" stroke="#111" stroke-width="1"/><path d="M234.2 324.5 L236.39999999999998 318.5 L238.59999999999997 324.5 Z" fill="#111"/><path d="M251.89999999999998 341.3 L257.9 343.5 L251.89999999999998 345.7 Z" fill="#111"/><text x="232.2" y="340.3" font-size="8" font-weight="bold" text-anchor="start" fill="#111" stroke="#111" stroke-width="0.32" transform="rotate(-90 232.2 340.3)">Mac1-FITC</text><text x="236.39999999999998" y="351.5" font-size="8" font-weight="bold" text-anchor="start" fill="#111" stroke="#111" stroke-width="0.32">CD3-PE</text><path d="M335.2 322.5 L335.2 343.5 L352.7 343.5" fill="none" stroke="#111" stroke-width="1"/><path d="M333.0 324.5 L335.2 318.5 L337.4 324.5 Z" fill="#111"/><path d="M350.7 341.3 L356.7 343.5 L350.7 345.7 Z" fill="#111"/><text x="331.0" y="340.3" font-size="8" font-weight="bold" text-anchor="start" fill="#111" stroke="#111" stroke-width="0.32" transform="rotate(-90 331.0 340.3)">CD3-PE</text><text x="335.2" y="351.5" font-size="8" font-weight="bold" text-anchor="start" fill="#111" stroke="#111" stroke-width="0.32">B220-PE-Cy7</text><path d="M434.0 322.5 L434.0 343.5 L451.5 343.5" fill="none" stroke="#111" stroke-width="1"/><path d="M431.8 324.5 L434.0 318.5 L436.2 324.5 Z" fill="#111"/><path d="M449.5 341.3 L455.5 343.5 L449.5 345.7 Z" fill="#111"/><text x="429.8" y="340.3" font-size="8" font-weight="bold" text-anchor="start" fill="#111" stroke="#111" stroke-width="0.32" transform="rotate(-90 429.8 340.3)">CD19-PE-Cy7</text><text x="434.0" y="351.5" font-size="8" font-weight="bold" text-anchor="start" fill="#111" stroke="#111" stroke-width="0.32">B220-PerCP</text><path d="M40.6 382 L40.6 612.6 L52.6 612.6" fill="none" stroke="#555" stroke-width="1"/><path d="M38.5 383.7 L40.6 376.5 L42.7 383.7 Z" fill="#111"/><path d="M51.8 610.2 L58.8 612.6 L51.8 615.0 Z" fill="#111"/><text x="37.2" y="612.8" font-size="7" font-weight="bold" text-anchor="start" fill="#111" stroke="#111" stroke-width="0.32" transform="rotate(-90 37.2 612.8)">SSC</text><text x="41.1" y="620.8" font-size="7" font-weight="bold" text-anchor="start" fill="#111" stroke="#111" stroke-width="0.32">CD45.2-FITC</text><path d="M121.8 382 L121.8 612.6 L133.8 612.6" fill="none" stroke="#555" stroke-width="1"/><path d="M119.7 383.7 L121.8 376.5 L123.89999999999999 383.7 Z" fill="#111"/><path d="M133.0 610.2 L140.0 612.6 L133.0 615.0 Z" fill="#111"/><text x="118.39999999999999" y="612.8" font-size="7" font-weight="bold" text-anchor="start" fill="#111" stroke="#111" stroke-width="0.32" transform="rotate(-90 118.39999999999999 612.8)">CD45.2-FITC</text><text x="122.3" y="620.8" font-size="7" font-weight="bold" text-anchor="start" fill="#111" stroke="#111" stroke-width="0.32">CD45.1-PE</text><path d="M203.2 382 L203.2 612.6 L215.2 612.6" fill="none" stroke="#555" stroke-width="1"/><path d="M201.1 383.7 L203.2 376.5 L205.29999999999998 383.7 Z" fill="#111"/><path d="M214.39999999999998 610.2 L221.39999999999998 612.6 L214.39999999999998 615.0 Z" fill="#111"/><text x="199.79999999999998" y="612.8" font-size="7" font-weight="bold" text-anchor="start" fill="#111" stroke="#111" stroke-width="0.32" transform="rotate(-90 199.79999999999998 612.8)">CD45.2-FITC</text><text x="203.7" y="620.8" font-size="7" font-weight="bold" text-anchor="start" fill="#111" stroke="#111" stroke-width="0.32">CD43-PE</text><path d="M285.0 382 L285.0 612.6 L297.0 612.6" fill="none" stroke="#555" stroke-width="1"/><path d="M282.9 383.7 L285.0 376.5 L287.1 383.7 Z" fill="#111"/><path d="M296.2 610.2 L303.2 612.6 L296.2 615.0 Z" fill="#111"/><text x="281.6" y="612.8" font-size="7" font-weight="bold" text-anchor="start" fill="#111" stroke="#111" stroke-width="0.32" transform="rotate(-90 281.6 612.8)">CD43-PE</text><text x="285.5" y="620.8" font-size="7" font-weight="bold" text-anchor="start" fill="#111" stroke="#111" stroke-width="0.32">B220-PE-Cy7</text><path d="M366.5 430 L366.5 446 L380.5 446" fill="none" stroke="#111" stroke-width="0.9"/><path d="M364.3 432 L366.5 426 L368.7 432 Z" fill="#111"/><path d="M378.5 443.8 L384.5 446 L378.5 448.2 Z" fill="#111"/><text x="363.3" y="446.5" font-size="7" font-weight="bold" text-anchor="start" fill="#111" stroke="#111" stroke-width="0.32" transform="rotate(-90 363.3 446.5)">CD3-PE</text><text x="367.0" y="454.3" font-size="7" font-weight="bold" text-anchor="start" fill="#111" stroke="#111" stroke-width="0.32">B220-PE-Cy7</text><path d="M448.5 430 L448.5 446 L462.5 446" fill="none" stroke="#111" stroke-width="0.9"/><path d="M446.3 432 L448.5 426 L450.7 432 Z" fill="#111"/><path d="M460.5 443.8 L466.5 446 L460.5 448.2 Z" fill="#111"/><text x="445.3" y="446.5" font-size="7" font-weight="bold" text-anchor="start" fill="#111" stroke="#111" stroke-width="0.32" transform="rotate(-90 445.3 446.5)">CD19-PE-Cy7</text><text x="449.0" y="454.3" font-size="7" font-weight="bold" text-anchor="start" fill="#111" stroke="#111" stroke-width="0.32">B220-PerCP</text><path d="M366.0 513.5 L366.0 529.5 L380.0 529.5" fill="none" stroke="#111" stroke-width="0.9"/><path d="M363.8 515.5 L366.0 509.5 L368.2 515.5 Z" fill="#111"/><path d="M378.0 527.3 L384.0 529.5 L378.0 531.7 Z" fill="#111"/><text x="362.8" y="530.0" font-size="7" font-weight="bold" text-anchor="start" fill="#111" stroke="#111" stroke-width="0.32" transform="rotate(-90 362.8 530.0)">CD43-PE</text><text x="366.5" y="537.8" font-size="7" font-weight="bold" text-anchor="start" fill="#111" stroke="#111" stroke-width="0.32">CD3-PerCP</text><path d="M448.5 513.5 L448.5 529.5 L462.5 529.5" fill="none" stroke="#111" stroke-width="0.9"/><path d="M446.3 515.5 L448.5 509.5 L450.7 515.5 Z" fill="#111"/><path d="M460.5 527.3 L466.5 529.5 L460.5 531.7 Z" fill="#111"/><text x="445.3" y="530.0" font-size="7" font-weight="bold" text-anchor="start" fill="#111" stroke="#111" stroke-width="0.32" transform="rotate(-90 445.3 530.0)">CD3-PE</text><text x="449.0" y="537.8" font-size="7" font-weight="bold" text-anchor="start" fill="#111" stroke="#111" stroke-width="0.32">B220-PE-Cy7</text><path d="M366.0 596.5 L366.0 612.5 L380.0 612.5" fill="none" stroke="#111" stroke-width="0.9"/><path d="M363.8 598.5 L366.0 592.5 L368.2 598.5 Z" fill="#111"/><path d="M378.0 610.3 L384.0 612.5 L378.0 614.7 Z" fill="#111"/><text x="362.8" y="613.0" font-size="7" font-weight="bold" text-anchor="start" fill="#111" stroke="#111" stroke-width="0.32" transform="rotate(-90 362.8 613.0)">CD43-PE</text><text x="366.5" y="620.8" font-size="7" font-weight="bold" text-anchor="start" fill="#111" stroke="#111" stroke-width="0.32">Mac1-PerCP</text><path d="M448.0 596.5 L448.0 612.5 L462.0 612.5" fill="none" stroke="#111" stroke-width="0.9"/><path d="M445.8 598.5 L448.0 592.5 L450.2 598.5 Z" fill="#111"/><path d="M460.0 610.3 L466.0 612.5 L460.0 614.7 Z" fill="#111"/><text x="444.8" y="613.0" font-size="7" font-weight="bold" text-anchor="start" fill="#111" stroke="#111" stroke-width="0.32" transform="rotate(-90 444.8 613.0)">Mac1-FITC</text><text x="448.5" y="620.8" font-size="7" font-weight="bold" text-anchor="start" fill="#111" stroke="#111" stroke-width="0.32">B220-PE-Cy7</text>
</svg></body></html>
